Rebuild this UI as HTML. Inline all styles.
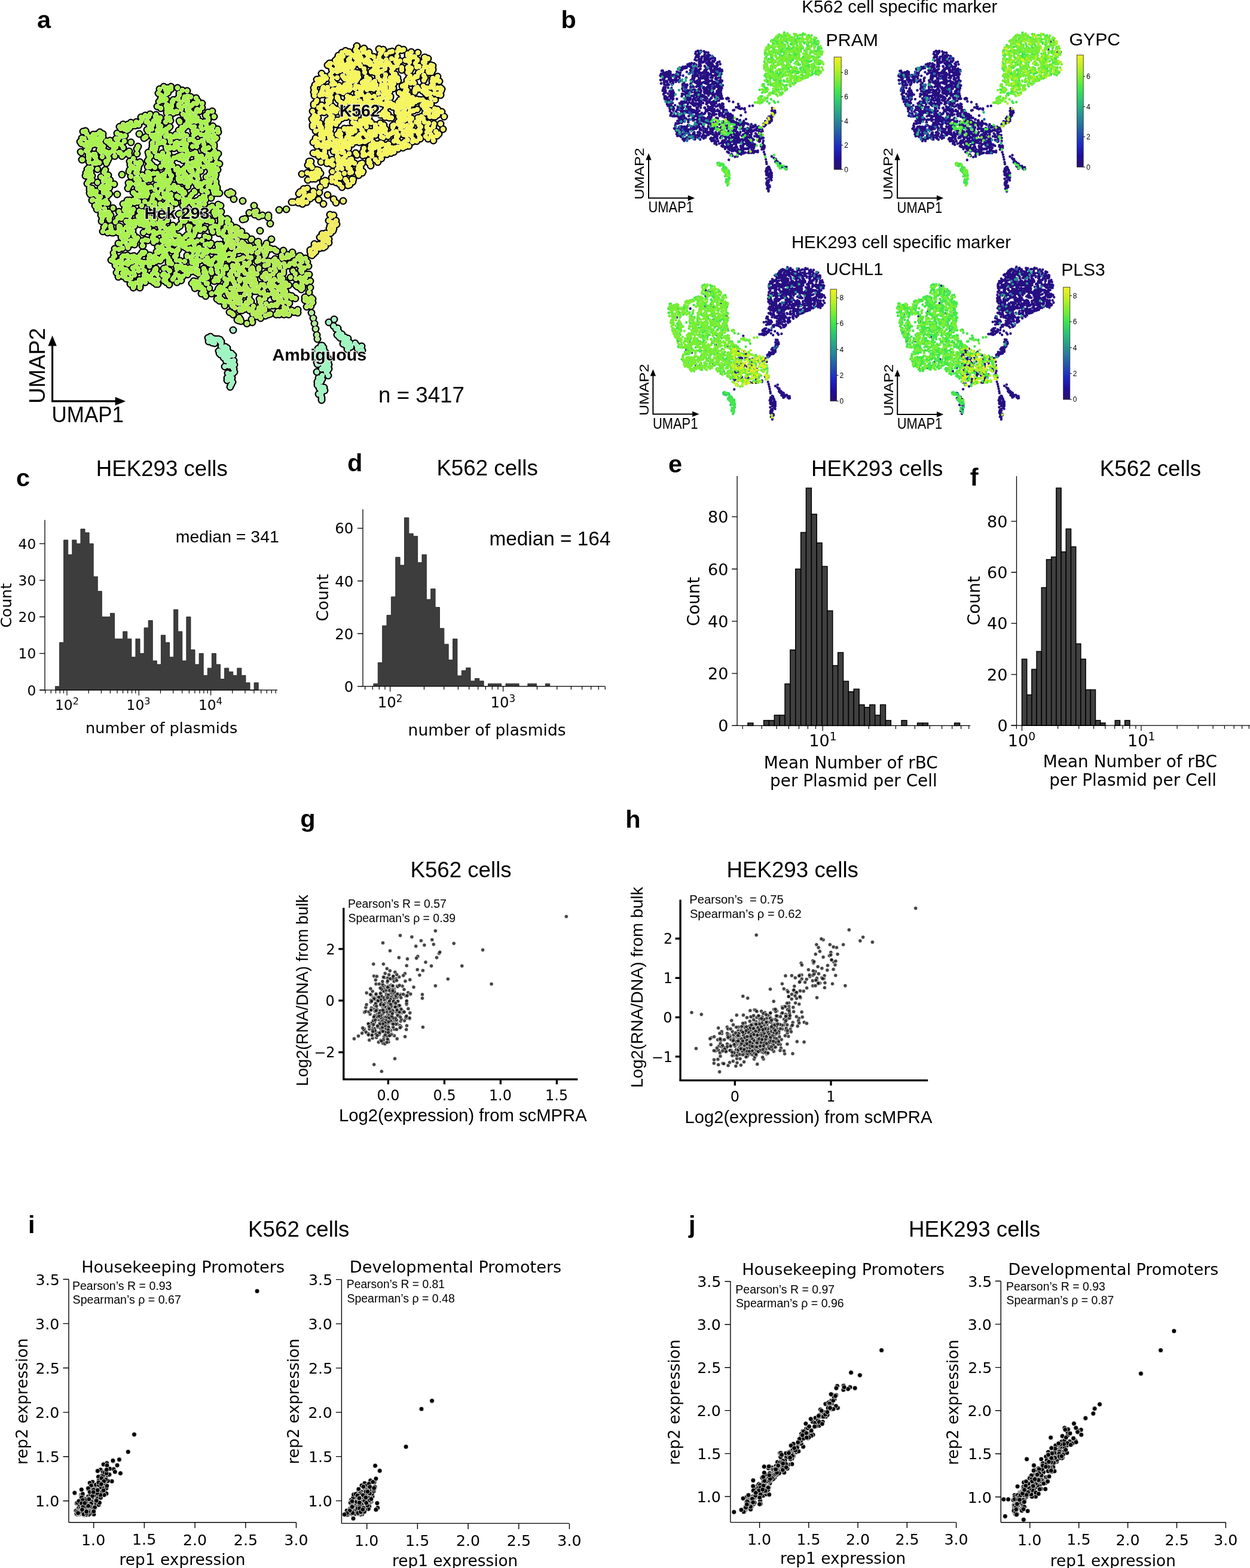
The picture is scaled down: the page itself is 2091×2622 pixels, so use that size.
<!DOCTYPE html><html><head><meta charset="utf-8"><style>
html,body{margin:0;padding:0;background:#fff;}svg{display:block;}
.fl,.fb{font-family:"Liberation Sans",Arial,Helvetica,sans-serif;}.fb{font-weight:bold;}
.fd{font-family:"DejaVu Sans","Liberation Sans",sans-serif;}
text{white-space:pre;}.sg circle{r:3.2px;opacity:.8}.si circle{r:3.95px;}
</style></head><body>
<svg xmlns="http://www.w3.org/2000/svg" width="2091" height="2622" viewBox="0 0 2091 2622">
<rect width="100%" height="100%" fill="#fff"/>
<defs><path id="a_hekA" d="M165 234h0M168 314h0M321 203h0M286 347h0M301 376h0M243 401h0M249 266h0M318 451h0M279 175h0M213 393h0M249 438h0M301 445h0M321 198h0M353 300h0M202 440h0M152 288h0M181 259h0M326 482h0M216 359h0M364 409h0M351 219h0M327 189h0M321 355h0M212 438h0M285 292h0M269 279h0M321 176h0M354 439h0M322 277h0M235 370h0M257 389h0M306 296h0M291 407h0M263 218h0M189 252h0M265 230h0M181 306h0M344 495h0M200 449h0M225 409h0M291 246h0M278 448h0M327 455h0M335 203h0M353 407h0M348 366h0M272 429h0M238 293h0M324 405h0M304 366h0M215 358h0M197 388h0M295 427h0M271 402h0M360 420h0M334 275h0M372 365h0M206 341h0M260 194h0M283 345h0M156 225h0M347 231h0M150 300h0M262 325h0M263 432h0M290 387h0M296 238h0M219 402h0M150 237h0M248 270h0M180 237h0M370 434h0M248 278h0M299 395h0M296 328h0M239 376h0M212 355h0M215 430h0M278 216h0M338 173h0M278 246h0M278 246h0M213 427h0M289 277h0M326 371h0M268 378h0M227 399h0M326 321h0M265 309h0M236 438h0M331 299h0M358 378h0M281 155h0M279 463h0M205 457h0M330 426h0M240 424h0M269 217h0M329 245h0M277 351h0M285 300h0M177 270h0M153 234h0M331 280h0M189 348h0M341 241h0M203 393h0M252 440h0M341 455h0M331 312h0M305 400h0M253 226h0M318 416h0M329 173h0M296 403h0M316 203h0M317 205h0M320 212h0M301 357h0M180 340h0M293 408h0M251 427h0M216 253h0M245 204h0M279 409h0M185 380h0M212 212h0M309 437h0M203 242h0M332 344h0M262 262h0M166 342h0M370 354h0M331 169h0M215 306h0M238 199h0M274 449h0M286 325h0M263 178h0M242 453h0M312 241h0M378 446h0M244 372h0M363 316h0M249 432h0M249 206h0M327 293h0M354 442h0M335 342h0M299 330h0M281 317h0M355 370h0M261 437h0M296 472h0M346 369h0M166 222h0M229 257h0M298 263h0M317 306h0M275 293h0M277 309h0M282 410h0M173 319h0M293 228h0M269 181h0M274 145h0M265 260h0M313 276h0M194 439h0M257 367h0M324 368h0M224 393h0M323 437h0M325 320h0M279 189h0M376 415h0M343 453h0M284 331h0M378 486h0M363 313h0M182 265h0M350 226h0M356 211h0M265 435h0M205 384h0M342 353h0M345 417h0M248 438h0M217 457h0M279 418h0M208 236h0M300 399h0M257 432h0M143 294h0M367 481h0M354 238h0M165 343h0M238 354h0M190 389h0M255 458h0M341 449h0M233 369h0M325 415h0M366 390h0M307 283h0M273 162h0M305 226h0M230 290h0M329 355h0M260 250h0M347 273h0M364 323h0M199 417h0M301 436h0M231 283h0M358 323h0M201 379h0M336 225h0M199 354h0M213 335h0M310 447h0M208 351h0M170 370h0M208 216h0M212 349h0M190 423h0M329 456h0M252 213h0M165 334h0M310 262h0M296 450h0M249 382h0M352 312h0M230 430h0M158 262h0M210 396h0M143 219h0M229 371h0M330 197h0M295 435h0M381 371h0M369 480h0M310 396h0M359 320h0M312 208h0M315 161h0M298 291h0M234 271h0M338 318h0M346 433h0M359 312h0M223 210h0M332 458h0M270 219h0M231 449h0M246 354h0M287 176h0M249 466h0M261 246h0M320 302h0M231 245h0M268 380h0M248 314h0M347 464h0M246 294h0M334 186h0M361 323h0M308 238h0M251 191h0M303 240h0M204 292h0M310 210h0M265 156h0M271 362h0M274 373h0M288 419h0M376 466h0M283 277h0M173 303h0M298 416h0M175 357h0M366 442h0M259 366h0M350 482h0M275 218h0M321 195h0M309 162h0M240 466h0M259 249h0M312 263h0M250 445h0M217 343h0M222 279h0M274 356h0M279 385h0M212 409h0M199 255h0M346 462h0M358 242h0M352 290h0M301 229h0M156 259h0M203 365h0M218 276h0M272 389h0M317 234h0M192 261h0M252 261h0M298 313h0M195 456h0M148 248h0M374 394h0M206 247h0M230 315h0M223 448h0M358 227h0M364 218h0M275 458h0M369 409h0M228 446h0M235 440h0M272 298h0M357 258h0M329 184h0M178 294h0M144 252h0M345 474h0M348 260h0M285 233h0M310 209h0M175 286h0M355 239h0M317 391h0M371 434h0M202 226h0M203 435h0M237 344h0M268 419h0M308 321h0M342 226h0M308 234h0M274 458h0M319 162h0M313 338h0M332 347h0M212 218h0M313 429h0M199 437h0M237 355h0M180 359h0M162 350h0M177 335h0M270 164h0M257 290h0M137 267h0M179 303h0M301 203h0M348 188h0M369 489h0M316 364h0M234 364h0M147 283h0M288 186h0M136 255h0M373 457h0M249 387h0M317 258h0M309 370h0M146 294h0M212 341h0M314 203h0M227 370h0M376 511h0M380 366h0M337 334h0M201 256h0M331 288h0M382 368h0M314 417h0M225 324h0M280 310h0M154 294h0M260 195h0M194 246h0M216 287h0M330 294h0M298 166h0M183 314h0M372 428h0M233 301h0M249 341h0M306 268h0M280 369h0M255 229h0M271 412h0M298 298h0M241 321h0M233 429h0M273 313h0M336 467h0M347 322h0M378 426h0M229 439h0M232 453h0M151 285h0M271 238h0M230 338h0M276 168h0M237 309h0M278 426h0M279 287h0M180 259h0M245 460h0M240 469h0M289 170h0M264 413h0M310 409h0M206 390h0M254 216h0M261 192h0M345 465h0M321 285h0M262 390h0M240 369h0M344 193h0M350 214h0M221 438h0M236 469h0M312 304h0M259 254h0M361 304h0M241 355h0M213 216h0M302 288h0M222 386h0M350 292h0M225 378h0M242 298h0M215 385h0M323 195h0M335 385h0M239 411h0M180 269h0M259 317h0M298 300h0M169 224h0M240 389h0M275 398h0M298 418h0M238 445h0M343 329h0M148 265h0M341 422h0M307 405h0M306 325h0M274 239h0M313 361h0M264 240h0M186 383h0M273 362h0M280 331h0M318 199h0M264 230h0M271 294h0M248 220h0M325 447h0M285 407h0M280 263h0M363 350h0M215 372h0M328 416h0M176 377h0M153 318h0M173 245h0M185 360h0M373 452h0M256 327h0M307 337h0M167 347h0M237 359h0M160 262h0M286 314h0M321 429h0M311 245h0M279 407h0M280 401h0M241 362h0M299 358h0M149 271h0M338 402h0M257 204h0M226 446h0M157 237h0M307 451h0M284 248h0M355 186h0M316 406h0M216 311h0M271 431h0M218 306h0M265 206h0M249 375h0M305 259h0M247 279h0M317 284h0M299 297h0M141 232h0M235 475h0M286 149h0M342 204h0M212 356h0M279 302h0M214 414h0M303 469h0M307 287h0M274 469h0M270 223h0M171 262h0M312 227h0M338 319h0M235 440h0M257 405h0M296 228h0M272 256h0M355 420h0M347 272h0M283 452h0M206 428h0M270 357h0M372 432h0M226 210h0M178 311h0M297 246h0M152 322h0M277 150h0M309 323h0M284 232h0M295 186h0M347 431h0M146 307h0M322 233h0M168 337h0M330 307h0M287 269h0M180 355h0M347 224h0M218 338h0M174 337h0M325 409h0M307 268h0M371 438h0M235 470h0M310 369h0M358 195h0M341 484h0M367 274h0M213 380h0M274 308h0M229 249h0M155 334h0M228 330h0M333 476h0M245 465h0M232 278h0M225 370h0M241 439h0M227 473h0M340 468h0M340 328h0M318 379h0M321 360h0M234 375h0M336 286h0M249 289h0M324 173h0M348 258h0M348 420h0M303 239h0M176 298h0M310 414h0M332 274h0M282 177h0M349 397h0M168 329h0M260 350h0M347 221h0M234 477h0M281 275h0M184 255h0M206 404h0M159 344h0M311 293h0M325 479h0M308 165h0M265 422h0M236 196h0M363 451h0M226 435h0M191 244h0M348 222h0M309 291h0M345 208h0M376 432h0M324 272h0M258 468h0M294 227h0M248 462h0M230 398h0M307 250h0M317 304h0M250 210h0M362 272h0M365 469h0M241 377h0M166 272h0M291 382h0M309 281h0M293 393h0M157 322h0M379 449h0M302 250h0M169 355h0M338 402h0M257 387h0M281 391h0M241 231h0M203 443h0M273 404h0M342 305h0M206 462h0M147 248h0M343 395h0M246 196h0M242 422h0M279 385h0M294 340h0M209 227h0M246 202h0M232 326h0M249 195h0M267 331h0M316 279h0M257 394h0M293 240h0M213 429h0M301 285h0M329 360h0M348 197h0M370 416h0M281 389h0M321 474h0M273 430h0M172 387h0M135 254h0M288 276h0M337 206h0M203 397h0M217 439h0M355 345h0M367 495h0M182 239h0M224 455h0M259 428h0M349 441h0M329 433h0M278 394h0M309 339h0M304 317h0M154 231h0M284 197h0M343 228h0M365 385h0M268 369h0M351 283h0M162 235h0M204 228h0M227 298h0M231 433h0M183 368h0M373 482h0M212 360h0M248 255h0M289 467h0M197 450h0M244 372h0M223 265h0M272 416h0M329 418h0M220 384h0M221 356h0M169 296h0M283 476h0M207 360h0M149 263h0M218 475h0M148 304h0M290 167h0M337 491h0M336 311h0M365 484h0M318 233h0M359 253h0M323 257h0M217 389h0M289 386h0M313 393h0M238 403h0M160 271h0M258 454h0M246 385h0M313 355h0M266 213h0M285 185h0M225 281h0M352 304h0M278 166h0M226 404h0M326 383h0M267 149h0M318 405h0M182 355h0M241 460h0M370 370h0M317 357h0M278 221h0M358 356h0M283 416h0M356 435h0M354 456h0M313 264h0M376 413h0M163 242h0M213 343h0M274 324h0M246 217h0M336 225h0M178 273h0M160 225h0M345 456h0M282 282h0M314 312h0M255 209h0M186 435h0M304 410h0M166 251h0M320 433h0M341 266h0M285 358h0M337 261h0M303 444h0M233 224h0M369 373h0M306 224h0M239 322h0M161 320h0M348 365h0M362 355h0M242 324h0M244 356h0M173 251h0M272 460h0M235 360h0M282 440h0M258 232h0M271 168h0M322 272h0M313 152h0M284 187h0M284 212h0M322 288h0M284 382h0M333 475h0M280 285h0M255 346h0M223 338h0M275 402h0M348 351h0M295 423h0M226 401h0M353 451h0M251 279h0M371 487h0M340 426h0M206 208h0M265 211h0M386 376h0M196 325h0M201 408h0M269 310h0M281 305h0M241 311h0M378 380h0M244 229h0M330 219h0M321 196h0M369 421h0M292 317h0M356 286h0M220 386h0M246 321h0M148 283h0M300 319h0M318 329h0M223 435h0M250 427h0M219 295h0M329 442h0M287 335h0M234 312h0M266 170h0M263 459h0M311 454h0M356 315h0M198 407h0M311 305h0M180 327h0M179 319h0M183 324h0M211 339h0M312 170h0M285 202h0M294 242h0M280 180h0M308 295h0M312 251h0M247 288h0M174 380h0M309 213h0M257 202h0M356 230h0M349 262h0M247 324h0M338 483h0M285 349h0M161 273h0M374 386h0M210 440h0M274 360h0M301 378h0M320 337h0M342 488h0M340 332h0M185 307h0M199 378h0M150 246h0M241 466h0M201 255h0M326 475h0M344 270h0M346 214h0M228 328h0M183 364h0M294 225h0M315 449h0M192 428h0M235 273h0M252 313h0M278 269h0M358 354h0M319 295h0M279 187h0M178 236h0M276 262h0M223 350h0M138 267h0M317 362h0M175 349h0M163 283h0M224 479h0M300 261h0M378 468h0M190 248h0M246 355h0M156 324h0M255 373h0M365 221h0M299 461h0M224 428h0M311 196h0M282 437h0M333 481h0M272 421h0M239 328h0M259 344h0M284 393h0M238 411h0M208 428h0M325 277h0M360 233h0M227 289h0M269 211h0M369 366h0M211 466h0M256 226h0M223 322h0M176 255h0M299 177h0M144 291h0M309 239h0M374 451h0M324 226h0M269 374h0M347 262h0M343 409h0M365 342h0M291 264h0M353 381h0M255 370h0M314 303h0M339 418h0M306 344h0M321 439h0M267 388h0M159 258h0M220 385h0M360 360h0M313 184h0M287 178h0M247 269h0M264 197h0M137 231h0M139 220h0M287 294h0M265 301h0M145 224h0M211 451h0M268 265h0M278 177h0M290 339h0M311 243h0M265 209h0M228 204h0M283 279h0M370 442h0M299 218h0M344 438h0M257 375h0M265 349h0M285 227h0M159 344h0M322 403h0M261 225h0M275 299h0M269 308h0M272 345h0M259 280h0M347 408h0M254 336h0M217 369h0M162 336h0M227 272h0M328 349h0M243 313h0M313 210h0M332 421h0M214 442h0M307 215h0M242 374h0M364 455h0M361 431h0M187 389h0M329 276h0M311 458h0M270 317h0M205 385h0M357 229h0M235 319h0M241 466h0M233 353h0M255 369h0M336 212h0M151 325h0M356 279h0M239 317h0M336 349h0M297 165h0M160 271h0M204 430h0M349 306h0M367 503h0M370 373h0M313 255h0M172 224h0M190 437h0M261 436h0M262 421h0M329 384h0M176 284h0M338 428h0M356 388h0M229 289h0M331 452h0M292 429h0M184 236h0M209 461h0M267 305h0M216 341h0M190 430h0M306 191h0M361 349h0M216 259h0M259 451h0M321 325h0M265 467h0M263 327h0M277 204h0M174 288h0M325 212h0M329 381h0M313 429h0M260 203h0M270 307h0M312 452h0M254 249h0M156 273h0M364 216h0M366 482h0M240 452h0M236 203h0M251 292h0M284 453h0M257 439h0M336 363h0M357 290h0M334 269h0M330 346h0M147 293h0M211 370h0M194 232h0M239 362h0M258 400h0M219 238h0M285 237h0M358 245h0M324 200h0M295 445h0M300 159h0M284 246h0M214 217h0M243 298h0M360 296h0M259 430h0M209 348h0M270 302h0M291 310h0M290 189h0M217 457h0M353 331h0M352 287h0M366 433h0M255 239h0M203 447h0M191 253h0M330 362h0M326 305h0M161 268h0M242 337h0M202 215h0M188 240h0M224 429h0M224 394h0M245 301h0M347 229h0M332 335h0M307 407h0M255 332h0M218 386h0M200 362h0M335 382h0M294 283h0M205 260h0M291 229h0M280 338h0M263 234h0M227 308h0M355 276h0M251 273h0M345 296h0M275 468h0M369 362h0M329 240h0M221 371h0M303 180h0M209 454h0M146 238h0M349 235h0M279 323h0M299 175h0M223 335h0M246 371h0M320 401h0M221 474h0M358 297h0M359 470h0M163 305h0M154 315h0M327 224h0M301 204h0M173 322h0M310 168h0M155 242h0M216 438h0M323 337h0M242 317h0M276 264h0M253 439h0M267 230h0M261 475h0M364 447h0M240 373h0M329 263h0M277 277h0M246 439h0M204 360h0M299 286h0M313 334h0M268 239h0M276 330h0M330 403h0M261 310h0M285 328h0M269 435h0M269 220h0M358 276h0M304 213h0M205 362h0M136 240h0M281 461h0M305 218h0M259 339h0M283 304h0M208 456h0M240 308h0M179 293h0M279 182h0M377 413h0M319 337h0M303 183h0M167 338h0M297 381h0M283 267h0M284 149h0M233 361h0M338 180h0M313 191h0M328 360h0M171 225h0M199 255h0M333 345h0M376 432h0M149 249h0M198 240h0M255 244h0M330 183h0M263 290h0M303 171h0M284 436h0M254 276h0M327 443h0M251 299h0M185 378h0M342 436h0M320 359h0M335 307h0M275 264h0M345 248h0M356 219h0M204 360h0M172 229h0M150 314h0M295 419h0M149 241h0M280 285h0M168 229h0M361 292h0M352 442h0M227 299h0M320 454h0M264 322h0M153 235h0M273 236h0M338 370h0M323 420h0M368 485h0M312 407h0M349 235h0M309 177h0M305 370h0M167 246h0M309 305h0M275 329h0M219 465h0M361 465h0M345 214h0M331 261h0M329 336h0M208 211h0M149 265h0M337 480h0M302 399h0M232 337h0M327 255h0M297 262h0M286 178h0M305 405h0M324 470h0M150 318h0M184 235h0M282 264h0M169 241h0M303 448h0M303 303h0M301 226h0M294 284h0M352 260h0M324 202h0M379 474h0M278 149h0M371 501h0M334 436h0M332 263h0M287 393h0M342 247h0M316 259h0M276 342h0M320 417h0M312 260h0M146 290h0M181 293h0M365 379h0M366 422h0M338 308h0M267 373h0M268 341h0M305 151h0M325 345h0M228 300h0M282 214h0M216 467h0M368 480h0M369 368h0M268 262h0M154 301h0M214 373h0M345 319h0M316 176h0M243 364h0M363 358h0M176 340h0M160 231h0M262 402h0M264 475h0M333 414h0M165 338h0M359 284h0M338 235h0M257 247h0M180 389h0M306 412h0M279 197h0M211 401h0M344 334h0M348 435h0M328 203h0M357 241h0M270 420h0M185 242h0M349 247h0M214 394h0M249 259h0M345 225h0M199 381h0M142 243h0M191 308h0M372 391h0M281 329h0M318 366h0M357 319h0M358 226h0M339 463h0M217 350h0M229 306h0M316 403h0M238 422h0M144 289h0M286 145h0M269 165h0M279 250h0M357 292h0M211 466h0M265 226h0M300 265h0M233 303h0M332 238h0M363 500h0M146 283h0M279 349h0M288 401h0M162 327h0M225 460h0M233 468h0M263 374h0M217 361h0M261 449h0M152 291h0M148 261h0M310 304h0M302 404h0M325 236h0M214 208h0M362 489h0M314 169h0M272 312h0M276 381h0M213 359h0M332 274h0M364 284h0M377 504h0M305 250h0M134 237h0M340 236h0M282 257h0M192 416h0M154 335h0M334 376h0M255 399h0M178 254h0M364 431h0M320 395h0M302 260h0M365 379h0M204 261h0M277 469h0M341 279h0M315 378h0M280 147h0M243 472h0M215 410h0M328 164h0M255 227h0M182 366h0M212 456h0M291 464h0M170 339h0M322 245h0M326 370h0M365 257h0M206 259h0M349 436h0M367 435h0M223 481h0M350 227h0M352 287h0M351 410h0M352 276h0M220 281h0M329 437h0M323 219h0M368 428h0M169 233h0M347 474h0M327 270h0M342 382h0M198 232h0M318 448h0M169 360h0M340 250h0M196 223h0M247 379h0M301 250h0M283 316h0M331 374h0M374 420h0M340 331h0M197 365h0M330 419h0M223 376h0M166 237h0M217 214h0M361 309h0M269 376h0M358 470h0M352 371h0M330 369h0M342 341h0M243 193h0M228 401h0M156 258h0M148 257h0M299 401h0M193 444h0M193 371h0M329 310h0M371 424h0M175 322h0M165 343h0M265 201h0M278 157h0M152 325h0M255 397h0M234 481h0M273 373h0M297 281h0M316 384h0M198 389h0M312 241h0M306 365h0M335 332h0M167 221h0M216 377h0M343 252h0M169 254h0M251 364h0M251 300h0M299 408h0M312 352h0M380 372h0M230 372h0M195 441h0M288 170h0M219 205h0M367 323h0M324 394h0M315 187h0M205 415h0M369 344h0M355 257h0M331 352h0M369 446h0M273 272h0M300 156h0M330 222h0M370 483h0M184 301h0M176 316h0M268 436h0M268 197h0M240 363h0M294 458h0M234 328h0M274 275h0M266 202h0M298 446h0M150 323h0M313 299h0M289 377h0M372 390h0M277 228h0M226 432h0M183 388h0M247 402h0M377 476h0M296 187h0M283 287h0M219 408h0M171 365h0M348 201h0M281 431h0M373 504h0M220 429h0M362 445h0M184 359h0M306 237h0M353 453h0M212 256h0M269 159h0M149 262h0M361 264h0M148 281h0M171 311h0M338 216h0M277 427h0M153 281h0M291 248h0M306 404h0M213 454h0M271 293h0M287 333h0M261 300h0M319 188h0M317 196h0M211 392h0M348 312h0M252 464h0M246 316h0M346 422h0M309 245h0M196 239h0M217 270h0M245 328h0M360 378h0M381 367h0M297 147h0M287 441h0M362 231h0M295 242h0M150 229h0M329 471h0M295 420h0M283 394h0M346 192h0M322 428h0M313 427h0M231 298h0M175 360h0M322 341h0M342 382h0M378 401h0M310 247h0M265 295h0M257 472h0M156 319h0M275 291h0M214 315h0M355 387h0M329 444h0M354 491h0M279 225h0M261 451h0M362 420h0M306 462h0M374 451h0M222 448h0M219 307h0M302 320h0M294 187h0M351 347h0M282 312h0M349 302h0M287 381h0M211 380h0M160 273h0M363 282h0M275 237h0M217 284h0M319 286h0M301 465h0M206 450h0M314 459h0M296 263h0M314 272h0M257 326h0M348 279h0M368 462h0M316 384h0M170 314h0M310 341h0M318 178h0M225 339h0M252 469h0M316 183h0M275 427h0M234 363h0M235 426h0M232 209h0M278 472h0M368 435h0M160 241h0M281 329h0M141 242h0M313 161h0M217 335h0M365 414h0M274 394h0M307 333h0M198 463h0M373 458h0M362 261h0M300 202h0M352 266h0M231 362h0M300 303h0M326 389h0"/><path id="a_hekB" d="M423 525h0M393 515h0M401 470h0M443 458h0M506 479h0M426 467h0M396 496h0M436 416h0M396 387h0M488 495h0M384 409h0M451 463h0M459 440h0M391 453h0M383 435h0M399 392h0M489 422h0M449 526h0M505 455h0M474 457h0M517 500h0M400 468h0M478 488h0M396 443h0M410 457h0M422 517h0M441 488h0M478 476h0M468 466h0M426 415h0M460 489h0M383 382h0M387 381h0M386 396h0M504 431h0M396 459h0M381 491h0M424 460h0M389 512h0M399 536h0M467 482h0M478 431h0M475 484h0M421 400h0M397 535h0M392 385h0M430 405h0M414 444h0M477 495h0M503 452h0M450 475h0M492 522h0M488 519h0M437 504h0M388 524h0M401 519h0M433 448h0M402 466h0M444 467h0M454 483h0M493 442h0M483 477h0M459 478h0M503 467h0M484 507h0M480 525h0M510 502h0M417 500h0M452 525h0M399 498h0M432 407h0M467 469h0M417 458h0M441 421h0M450 415h0M456 472h0M421 534h0M484 494h0M503 479h0M402 517h0M394 393h0M446 407h0M490 453h0M519 470h0M458 487h0M502 435h0M487 520h0M419 468h0M457 437h0M432 422h0M383 505h0M457 458h0M479 504h0M448 493h0M389 431h0M443 412h0M437 476h0M459 445h0M433 411h0M445 457h0M430 437h0M436 532h0M411 472h0M429 487h0M474 453h0M388 494h0M391 427h0M385 404h0M413 412h0M521 498h0M434 527h0M473 480h0M511 463h0M386 466h0M405 405h0M420 431h0M478 521h0M432 487h0M513 472h0M466 495h0M384 522h0M422 461h0M412 443h0M402 504h0M411 421h0M431 521h0M465 521h0M413 423h0M483 526h0M504 484h0M405 419h0M468 447h0M468 460h0M407 419h0M506 482h0M398 443h0M483 444h0M421 477h0M405 519h0M467 443h0M502 428h0M464 442h0M419 451h0M443 493h0M462 526h0M510 497h0M390 470h0M410 477h0M415 484h0M403 537h0M420 504h0M400 454h0M424 512h0M417 439h0M479 498h0M466 505h0M485 441h0M459 417h0M458 436h0M466 501h0M473 466h0M475 441h0M408 454h0M483 508h0M401 507h0M513 513h0M443 519h0M501 428h0M426 471h0M445 416h0M458 437h0M439 463h0M441 435h0M457 436h0M519 481h0M443 516h0M441 435h0M381 468h0M386 397h0M505 453h0M459 498h0M419 419h0M470 465h0M425 456h0M510 465h0M410 470h0M384 503h0M497 479h0M395 381h0M448 437h0M391 507h0M469 479h0M396 448h0M517 459h0M387 393h0M412 468h0M389 404h0M400 531h0M397 401h0M455 491h0M444 528h0M404 433h0M493 436h0M511 464h0M470 501h0M476 492h0M511 432h0M392 474h0M409 517h0M443 427h0M411 418h0M520 499h0M473 506h0M423 451h0M394 381h0M463 420h0M463 511h0M445 508h0M391 491h0M471 486h0M408 395h0M443 444h0M417 493h0M436 490h0M426 470h0M384 459h0M494 458h0M463 494h0M399 434h0M405 394h0M385 388h0M444 426h0M443 499h0M500 433h0M413 541h0M464 509h0M494 499h0M414 412h0M429 529h0M479 478h0M391 482h0M393 500h0M407 431h0M471 477h0M398 459h0M486 427h0M463 489h0M515 505h0M461 509h0M449 442h0M467 461h0M481 426h0M458 436h0M428 473h0M433 515h0M477 486h0M487 427h0M498 518h0M430 423h0M420 401h0M452 451h0M424 522h0M432 404h0M412 506h0M469 469h0M517 489h0M428 475h0M390 433h0M412 480h0M390 413h0M419 486h0M430 458h0M381 396h0M513 503h0M415 507h0M417 519h0M420 416h0M416 470h0M441 476h0M409 467h0M469 501h0M471 427h0M422 448h0M446 421h0M511 497h0M508 466h0M399 409h0M446 411h0M451 479h0M411 487h0M509 464h0M394 487h0M461 419h0M396 392h0M388 511h0M493 521h0M391 487h0M397 382h0M403 394h0M402 451h0M422 539h0M513 459h0M467 505h0M498 431h0M495 521h0M477 446h0M425 481h0M459 498h0M465 481h0M415 464h0M433 431h0M464 437h0M467 526h0M388 491h0M384 410h0M409 440h0M435 505h0M449 461h0M398 478h0M416 516h0M504 447h0M404 387h0M523 500h0M386 462h0M447 443h0M395 493h0M380 408h0M429 525h0M483 430h0M389 444h0M473 486h0M516 503h0M387 465h0M472 493h0M438 515h0M490 453h0M409 480h0M495 477h0M501 481h0M459 448h0M403 516h0M390 526h0M502 464h0M401 516h0M387 414h0M508 468h0M452 469h0M432 522h0M451 512h0M478 488h0M467 441h0M437 511h0M472 432h0M474 419h0M516 445h0M399 448h0M475 514h0M400 391h0M459 468h0M392 408h0M400 481h0M505 474h0M495 466h0M478 473h0M421 421h0M387 454h0M472 473h0M388 507h0M433 436h0M418 412h0M409 493h0M406 447h0M498 523h0M383 495h0M523 506h0M417 471h0M471 430h0M445 418h0M509 448h0M424 470h0M415 487h0M398 500h0M450 437h0M410 411h0M451 461h0M490 426h0M514 438h0M443 480h0M412 395h0M475 476h0M389 465h0M454 476h0M520 512h0M461 453h0M454 510h0M402 497h0M398 507h0M489 440h0M382 493h0M396 436h0M435 501h0M399 419h0M424 457h0M392 472h0M394 420h0M426 486h0M459 467h0M501 444h0M412 514h0M400 504h0M431 484h0M460 433h0M479 497h0M405 418h0M434 500h0M457 511h0M404 484h0M426 487h0M407 511h0M471 521h0M424 459h0M384 424h0M389 446h0M386 459h0M404 411h0M438 522h0M442 460h0M399 417h0M480 516h0M393 495h0M474 487h0M384 397h0M433 450h0M433 480h0M400 484h0M505 438h0M415 430h0M408 408h0M386 482h0M488 498h0M386 498h0M391 424h0M449 440h0M392 395h0M453 416h0M475 526h0M452 416h0M397 446h0M402 534h0M486 464h0"/><path id="a_hek_s1" d="M391 333h0M389 323h0M383 325h0M381 323h0M386 321h0"/><path id="a_hek_s2" d="M429 353h0M428 359h0M448 363h0M406 367h0M449 364h0M433 362h0M452 374h0M425 354h0M449 360h0M426 359h0M439 360h0M417 356h0M410 366h0M426 355h0"/><path id="a_hek_d" d="M406 336h0M425 344h0M435 386h0M454 400h0M200 212h0M206 210h0M467 351h0M479 350h0"/><path id="a_k562" d="M630 112h0M603 148h0M607 254h0M578 300h0M644 115h0M655 247h0M635 120h0M536 183h0M738 152h0M664 110h0M572 255h0M688 186h0M711 189h0M683 93h0M615 132h0M597 178h0M536 290h0M724 117h0M680 227h0M561 248h0M528 231h0M713 147h0M559 206h0M570 153h0M547 273h0M537 271h0M566 249h0M571 271h0M561 101h0M590 301h0M630 167h0M666 204h0M535 243h0M614 150h0M540 228h0M659 209h0M600 237h0M699 197h0M581 239h0M690 237h0M616 204h0M629 142h0M560 237h0M604 100h0M620 244h0M517 271h0M669 181h0M612 175h0M648 250h0M625 117h0M610 121h0M533 180h0M553 164h0M572 104h0M611 162h0M677 183h0M531 238h0M544 128h0M587 272h0M672 159h0M639 164h0M566 93h0M621 181h0M689 198h0M617 272h0M531 254h0M524 256h0M557 137h0M564 162h0M542 188h0M592 108h0M525 147h0M574 242h0M726 207h0M548 146h0M650 177h0M677 145h0M595 206h0M638 192h0M708 104h0M589 92h0M680 218h0M701 209h0M674 163h0M707 175h0M580 303h0M711 104h0M525 154h0M652 108h0M645 216h0M719 195h0M721 172h0M703 220h0M538 137h0M664 94h0M710 170h0M707 167h0M583 100h0M660 128h0M568 308h0M688 87h0M701 205h0M645 257h0M632 170h0M568 248h0M633 245h0M645 125h0M535 217h0M639 240h0M634 165h0M548 151h0M682 234h0M677 155h0M670 192h0M589 222h0M529 170h0M709 134h0M525 174h0M611 189h0M622 147h0M665 176h0M714 112h0M616 159h0M665 130h0M732 147h0M586 236h0M687 139h0M619 248h0M694 153h0M714 212h0M524 291h0M597 230h0M716 183h0M617 146h0M671 195h0M625 149h0M571 245h0M567 201h0M585 289h0M523 209h0M546 303h0M618 257h0M540 243h0M672 117h0M593 164h0M621 120h0M695 128h0M556 231h0M597 104h0M556 195h0M619 105h0M717 190h0M610 172h0M555 116h0M532 296h0M683 219h0M629 241h0M577 274h0M553 216h0M645 243h0M732 128h0M639 86h0M585 171h0M569 236h0M537 222h0M645 188h0M616 94h0M583 246h0M571 270h0M563 235h0M549 224h0M526 297h0M582 179h0M674 247h0M634 82h0M520 270h0M571 100h0M620 106h0M718 121h0M563 237h0M591 111h0M665 107h0M682 163h0M688 226h0M628 267h0M520 292h0M637 173h0M608 205h0M695 129h0M716 232h0M595 146h0M698 183h0M575 173h0M569 118h0M725 142h0M645 152h0M703 232h0M569 297h0M628 209h0M578 185h0M556 130h0M580 230h0M715 154h0M564 283h0M595 143h0M522 199h0M653 130h0M663 220h0M552 153h0M564 256h0M602 208h0M571 236h0M608 189h0M722 143h0M552 168h0M571 189h0M709 126h0M530 133h0M566 226h0M697 168h0M585 267h0M596 90h0M584 151h0M552 157h0M597 259h0M605 217h0M627 175h0M624 138h0M565 152h0M593 273h0M552 198h0M525 211h0M699 149h0M574 127h0M650 105h0M577 142h0M546 131h0M559 181h0M588 288h0M593 130h0M585 98h0M682 90h0M526 150h0M701 121h0M601 238h0M594 212h0M572 282h0M700 122h0M609 223h0M678 101h0M612 178h0M664 106h0M527 202h0M577 143h0M662 100h0M535 206h0M628 215h0M675 220h0M682 243h0M587 196h0M540 148h0M682 113h0M563 298h0M633 149h0M657 175h0M621 229h0M582 221h0M647 164h0M614 90h0M646 100h0M557 185h0M549 209h0M587 166h0M710 96h0M602 233h0M620 243h0M557 276h0M634 218h0M637 239h0M665 187h0M602 280h0M589 136h0M698 100h0M526 257h0M649 196h0M646 252h0M588 217h0M564 130h0M620 148h0M636 134h0M611 165h0M604 237h0M635 252h0M571 146h0M691 233h0M638 242h0M697 166h0M599 125h0M672 199h0M675 171h0M644 185h0M582 276h0M606 218h0M655 253h0M585 89h0M707 152h0M532 136h0M725 137h0M609 115h0M729 220h0M578 152h0M726 190h0M539 131h0M597 231h0M613 129h0M525 176h0M552 170h0M576 185h0M655 98h0M658 124h0M602 225h0M679 190h0M555 204h0M534 140h0M608 87h0M554 163h0M527 152h0M656 135h0M634 245h0M698 220h0M727 182h0M647 168h0M536 225h0M603 282h0M561 106h0M546 177h0M710 97h0M556 197h0M637 89h0M548 168h0M657 112h0M665 86h0M612 208h0M657 213h0M658 248h0M623 242h0M731 227h0M596 182h0M721 164h0M609 82h0M701 217h0M646 179h0M553 211h0M735 136h0M552 189h0M567 276h0M617 268h0M669 201h0M645 149h0M610 104h0M631 115h0M650 254h0M570 224h0M681 175h0M704 212h0M621 231h0M717 121h0M582 122h0M549 246h0M548 180h0M539 152h0M608 85h0M604 155h0M647 258h0M674 209h0M539 187h0M597 106h0M618 93h0M597 130h0M714 147h0M581 117h0M624 242h0M682 121h0M536 258h0M719 156h0M719 185h0M644 131h0M578 261h0M567 291h0M575 255h0M587 105h0M517 270h0M695 148h0M535 159h0M619 147h0M636 240h0M623 144h0M570 171h0M652 87h0M542 157h0M583 136h0M530 244h0M541 263h0M590 233h0M533 261h0M642 142h0M642 215h0M659 254h0M586 144h0M617 140h0M605 158h0M613 196h0M652 134h0M540 304h0M577 119h0M669 167h0M638 265h0M600 228h0M716 98h0M549 172h0M633 156h0M598 86h0M666 177h0M586 135h0M686 127h0M526 150h0M587 215h0M655 112h0M631 124h0M681 234h0M675 211h0M717 175h0M541 135h0M684 130h0M721 109h0M606 138h0M612 100h0M688 227h0M589 121h0M547 216h0M659 140h0M577 235h0M576 196h0M535 132h0M724 131h0M577 195h0M522 296h0M681 134h0M732 183h0M684 165h0M635 251h0M690 168h0M691 95h0M609 84h0M565 148h0M721 227h0M576 131h0M725 235h0M551 106h0M655 252h0M687 225h0M636 171h0M654 148h0M658 148h0M557 181h0M565 242h0M656 177h0M585 238h0M631 115h0M528 205h0M619 93h0M589 241h0M685 220h0M629 102h0M603 279h0M628 226h0M605 185h0M712 179h0M618 204h0M579 141h0M685 169h0M647 167h0M572 198h0M684 179h0M681 163h0M639 217h0M653 139h0M599 100h0M633 246h0M595 84h0M710 175h0M681 138h0M702 167h0M564 102h0M719 157h0M670 215h0M686 186h0M566 276h0M580 131h0M711 111h0M662 130h0M678 245h0M739 149h0M557 150h0M619 176h0M657 221h0M642 109h0M548 238h0M681 151h0M618 220h0M538 154h0M626 144h0M641 230h0M588 270h0M643 251h0M717 206h0M603 150h0M591 184h0M620 204h0M724 116h0M566 167h0M544 309h0M565 163h0M683 224h0M664 224h0M586 149h0M540 158h0M698 146h0M522 280h0M564 225h0M581 89h0M590 232h0M659 236h0M586 192h0M653 161h0M600 227h0M581 243h0M591 300h0M694 95h0M617 197h0M527 235h0M600 293h0M694 154h0M523 201h0M722 121h0M601 104h0M583 248h0M566 203h0M564 98h0M563 246h0M556 267h0M692 185h0M684 100h0M677 196h0M721 225h0M678 152h0M596 135h0M714 158h0M548 201h0M647 168h0M683 159h0M607 260h0M565 153h0M629 174h0M591 135h0M597 156h0M544 222h0M603 274h0M538 214h0M532 197h0M552 190h0M611 145h0M583 226h0M708 144h0M570 176h0M558 245h0M620 171h0M672 173h0M725 229h0M733 157h0M684 192h0M674 188h0M593 175h0M610 237h0M682 93h0M587 181h0M576 215h0M606 289h0M627 247h0M710 112h0M705 198h0M645 222h0M657 210h0M594 124h0M541 231h0M728 135h0M714 213h0M675 172h0M547 217h0M739 187h0M722 114h0M541 221h0M622 256h0M550 237h0M550 270h0M589 197h0M551 110h0M599 122h0M687 212h0M686 197h0M620 106h0M657 179h0M637 214h0M601 236h0M735 187h0M589 126h0M573 127h0M555 303h0M577 244h0M556 243h0M571 247h0M586 163h0M564 110h0M666 135h0M562 187h0M595 83h0M523 212h0M594 121h0M629 173h0M634 96h0M529 141h0M548 224h0M626 121h0M734 224h0M602 182h0M580 183h0M578 300h0M554 224h0M628 212h0M630 105h0M687 130h0M576 216h0M600 180h0M605 146h0M706 176h0M644 190h0M642 143h0M706 118h0M532 293h0M600 179h0M558 253h0M542 261h0M639 119h0M634 257h0M562 208h0M716 119h0M595 256h0M624 240h0M600 145h0M577 131h0M574 247h0M594 148h0M591 219h0M562 294h0M720 217h0M600 129h0M553 240h0M530 203h0M628 209h0M700 224h0M524 256h0M686 203h0M582 215h0M576 290h0M525 195h0M543 224h0M592 126h0M566 263h0M535 242h0M667 81h0M572 88h0M651 197h0M574 94h0M589 270h0M626 161h0M526 147h0M710 204h0M677 201h0M616 159h0M619 108h0M566 270h0M544 302h0M698 101h0M552 218h0M631 220h0M677 142h0M589 193h0M673 144h0M695 170h0M581 167h0M618 132h0M556 141h0M721 175h0M608 176h0M677 237h0M543 255h0M605 177h0M578 270h0M636 90h0M569 100h0M607 287h0M627 117h0M605 150h0M581 111h0M708 198h0M574 155h0M590 173h0M580 169h0M617 87h0M598 289h0M603 110h0M628 180h0M644 196h0M551 230h0M581 107h0M672 113h0M711 96h0M582 310h0M609 136h0M553 197h0M699 88h0M564 294h0M538 123h0M693 139h0M684 112h0M621 187h0M555 134h0M612 236h0M555 297h0M649 228h0M527 299h0M514 289h0M634 243h0M567 110h0M656 86h0M526 193h0M737 147h0M603 284h0M684 199h0M666 237h0M697 236h0M579 196h0M700 149h0M672 157h0M635 252h0M681 101h0M602 169h0M689 219h0M595 197h0M597 77h0M630 214h0M638 229h0M599 177h0M592 176h0M528 153h0M732 192h0M530 168h0M618 257h0M524 238h0M534 210h0M566 223h0M611 208h0M727 149h0M632 241h0M595 169h0M611 139h0M596 104h0M724 230h0M658 135h0M613 212h0M584 257h0M616 234h0M547 271h0M638 109h0M691 133h0M697 112h0M732 184h0M600 290h0M564 262h0M574 128h0M591 189h0M646 91h0M526 160h0M723 136h0M584 230h0M711 130h0M515 276h0M582 144h0M586 283h0M669 176h0M613 148h0M732 158h0M576 148h0M693 95h0M641 258h0M600 211h0M641 151h0M593 237h0M579 245h0M672 84h0M589 114h0M555 141h0M632 271h0M584 87h0M666 171h0M672 241h0M641 152h0M689 95h0M547 210h0M644 135h0M637 264h0M625 171h0M594 96h0M548 269h0M609 248h0M613 227h0M615 167h0M601 95h0M549 187h0M554 155h0M672 173h0M559 186h0M645 141h0M541 146h0M685 104h0M632 105h0M690 174h0M608 256h0M677 157h0M590 205h0M651 247h0M731 131h0M677 172h0M545 262h0M622 261h0M604 236h0M572 313h0M562 246h0M599 282h0M594 175h0M608 187h0M520 277h0M631 122h0M565 244h0M552 222h0M627 245h0M556 178h0M667 177h0M664 248h0M675 177h0M727 156h0M683 116h0M645 174h0M564 164h0M641 83h0M565 268h0M696 204h0M647 171h0M583 121h0M600 278h0M657 222h0M544 245h0M531 195h0M675 225h0M615 105h0M653 172h0M695 106h0M547 204h0M528 219h0M579 110h0M658 114h0M572 274h0M665 246h0M538 215h0M619 272h0M714 221h0M721 227h0M712 156h0M667 203h0M653 163h0M637 147h0M705 195h0M649 191h0M578 85h0M724 110h0M666 226h0M690 163h0M611 172h0M598 132h0M522 299h0M675 83h0M743 195h0M663 229h0M543 252h0M638 102h0M658 175h0M596 96h0M584 275h0M590 304h0M655 119h0M648 108h0M542 238h0M527 142h0M649 106h0M646 105h0M621 223h0M567 101h0M627 136h0M686 118h0M611 259h0M561 237h0M674 223h0M607 201h0M725 212h0M678 167h0M560 140h0M624 139h0M571 150h0M620 277h0M551 183h0M669 102h0M638 142h0M595 93h0M532 286h0M564 108h0M566 296h0M588 218h0M529 198h0M648 158h0M686 97h0M611 201h0M603 210h0M613 173h0M563 115h0M686 166h0M684 172h0M689 209h0M590 232h0M649 250h0M684 216h0M737 159h0M680 191h0M623 220h0M681 210h0M707 167h0M632 112h0M574 265h0M645 146h0M575 190h0M656 148h0M602 92h0M537 212h0M577 173h0M564 120h0M654 256h0M663 182h0M574 110h0M670 205h0M684 244h0M568 219h0M665 228h0M578 115h0M599 229h0M534 139h0M641 174h0M642 209h0M606 83h0M616 178h0M604 97h0M553 106h0M710 181h0M633 122h0M661 247h0M692 219h0M737 207h0M535 188h0M581 143h0M636 192h0M622 251h0M570 94h0M558 150h0M578 109h0M574 114h0M664 188h0M662 103h0M603 171h0M585 309h0M653 224h0M628 211h0M624 238h0M579 144h0M538 176h0M586 111h0M741 216h0M668 246h0M548 109h0M608 145h0M570 230h0M641 158h0M568 152h0M554 274h0M640 214h0M694 151h0M584 225h0M698 128h0M589 122h0M603 202h0M644 215h0M567 143h0M616 225h0M628 102h0M617 102h0M564 201h0M621 205h0M599 88h0M636 206h0M582 281h0M564 183h0M599 161h0M733 225h0M589 300h0M615 204h0M652 108h0M682 90h0M720 146h0M655 197h0M526 289h0M582 129h0M562 185h0M727 185h0M577 132h0M652 140h0M567 103h0M584 137h0M581 161h0M667 195h0M717 216h0M728 195h0M567 276h0M596 146h0M678 166h0M619 162h0M711 155h0M686 98h0M592 165h0M698 168h0M533 285h0M667 208h0M570 150h0M703 231h0M606 273h0M588 236h0M521 290h0M526 151h0M618 181h0M599 176h0M599 128h0M553 125h0M594 219h0M652 153h0M668 155h0M626 110h0M547 159h0M588 266h0M641 188h0M679 144h0M692 235h0M639 84h0M625 95h0M688 114h0M574 270h0M667 182h0M529 201h0M669 190h0M587 219h0M595 237h0M538 245h0M530 284h0M666 249h0M620 244h0M556 120h0M725 195h0M609 138h0M673 240h0M696 167h0M588 131h0M523 186h0M632 129h0M619 248h0M701 111h0M715 171h0M609 195h0M650 241h0M562 305h0M637 222h0M702 230h0M663 232h0M564 292h0M638 259h0M654 144h0M661 124h0M728 167h0M620 105h0M609 81h0M712 228h0M536 231h0M550 213h0"/><path id="a_k562_s" d="M547 394h0M538 395h0M555 382h0M552 378h0M539 410h0M539 407h0M558 383h0M531 415h0M560 377h0M536 411h0M544 412h0M525 424h0M522 427h0M553 390h0M542 399h0M555 386h0M520 426h0M519 421h0M551 382h0M545 402h0M540 401h0M552 359h0M526 413h0M542 398h0M535 397h0M533 409h0M525 414h0M541 414h0M558 360h0M557 386h0M550 369h0M544 403h0M535 415h0M545 390h0M563 375h0M519 418h0M554 362h0M550 406h0M539 393h0M526 408h0M550 400h0M546 392h0M528 421h0M532 414h0M533 413h0M536 410h0M562 369h0M555 372h0M552 387h0M539 391h0M535 411h0"/><path id="a_k562_t" d="M488 338h0M499 339h0M516 328h0M519 327h0M491 338h0M505 333h0M509 327h0M525 321h0M505 320h0M506 332h0M517 327h0M500 337h0M536 313h0M500 324h0M524 320h0M502 321h0M519 332h0M509 322h0M508 316h0M499 335h0M506 341h0M508 338h0M534 322h0M513 338h0M525 326h0M517 330h0M514 315h0M523 329h0"/><path id="a_k562_d" d="M548 326h0M533 334h0M541 341h0M558 333h0M562 339h0M574 336h0M505 291h0M515 301h0M556 287h0"/><path id="a_strand" d="M521 523h0M524 532h0M526 541h0M528 550h0M530 560h0M531 567h0"/><path id="a_amb_l" d="M383 610h0M376 613h0M361 567h0M388 613h0M378 603h0M377 580h0M387 592h0M349 571h0M376 592h0M384 630h0M392 610h0M368 568h0M357 573h0M367 570h0M390 594h0M380 582h0M389 639h0M380 636h0M348 565h0M365 567h0M374 581h0M388 632h0M390 594h0M380 632h0M378 598h0M384 610h0M374 588h0M383 604h0M377 595h0M385 609h0M373 586h0M391 603h0M374 598h0M366 587h0M387 604h0M370 571h0M381 624h0M355 573h0M377 593h0M353 567h0M390 624h0M370 574h0M380 588h0M367 591h0M381 603h0M392 622h0M382 592h0M359 574h0M387 605h0M386 635h0M352 563h0M379 597h0M381 587h0M391 617h0M379 585h0M378 600h0M369 593h0M389 607h0M380 600h0M388 625h0M370 579h0M384 595h0M380 594h0M390 616h0M383 612h0M356 566h0M387 643h0M385 647h0M386 644h0M378 603h0M387 591h0"/><path id="a_amb_m" d="M547 619h0M540 587h0M532 583h0M538 668h0M538 630h0M546 623h0M538 647h0M540 609h0M537 583h0M537 659h0M550 610h0M543 653h0M534 600h0M533 659h0M545 600h0M546 615h0M538 667h0M530 595h0M530 598h0M528 595h0M543 613h0M530 606h0M532 609h0M531 644h0M546 595h0M533 632h0M545 590h0M541 581h0M531 585h0M544 606h0M539 578h0M531 638h0M548 620h0M542 607h0M539 653h0M550 617h0M549 614h0M550 601h0M530 591h0M537 661h0M542 651h0M531 595h0M536 603h0M540 587h0M549 628h0M538 669h0M545 598h0M534 589h0M548 609h0M549 606h0M537 578h0M532 643h0M531 609h0M539 628h0M542 586h0M536 590h0M541 650h0M531 640h0M537 638h0M539 586h0M544 618h0M542 648h0M539 655h0M532 586h0M536 652h0M534 649h0M538 617h0M535 594h0M545 599h0M538 665h0M539 634h0M530 622h0"/><path id="a_amb_r" d="M605 579h0M572 559h0M581 584h0M604 587h0M558 545h0M587 578h0M563 550h0M565 549h0M564 560h0M567 563h0M582 584h0M587 580h0M567 555h0M573 565h0M582 573h0M580 572h0M582 582h0M576 570h0M578 577h0M597 578h0M585 573h0M577 564h0M562 550h0M602 587h0M575 571h0M606 586h0M569 565h0M567 559h0M598 583h0M574 575h0M582 566h0M594 574h0"/><path id="a_amb_d" d="M550 539h0M559 534h0M390 552h0"/><linearGradient id="cb139595" x1="0" y1="1" x2="0" y2="0"><stop offset="0.0" stop-color="#2a0e6e"/><stop offset="0.1" stop-color="#200ea0"/><stop offset="0.2" stop-color="#1e28c8"/><stop offset="0.30000000000000004" stop-color="#2352af"/><stop offset="0.4" stop-color="#277b9d"/><stop offset="0.5" stop-color="#28a28b"/><stop offset="0.6000000000000001" stop-color="#2cc771"/><stop offset="0.7000000000000001" stop-color="#41e64d"/><stop offset="0.8" stop-color="#80ee30"/><stop offset="0.9" stop-color="#bff022"/><stop offset="1.0" stop-color="#f2f020"/></linearGradient><linearGradient id="cb180192" x1="0" y1="1" x2="0" y2="0"><stop offset="0.0" stop-color="#2a0e6e"/><stop offset="0.1" stop-color="#200ea0"/><stop offset="0.2" stop-color="#1e28c8"/><stop offset="0.30000000000000004" stop-color="#2352af"/><stop offset="0.4" stop-color="#277b9d"/><stop offset="0.5" stop-color="#28a28b"/><stop offset="0.6000000000000001" stop-color="#2cc771"/><stop offset="0.7000000000000001" stop-color="#41e64d"/><stop offset="0.8" stop-color="#80ee30"/><stop offset="0.9" stop-color="#bff022"/><stop offset="1.0" stop-color="#f2f020"/></linearGradient><linearGradient id="cb1389483" x1="0" y1="1" x2="0" y2="0"><stop offset="0.0" stop-color="#2a0e6e"/><stop offset="0.1" stop-color="#200ea0"/><stop offset="0.2" stop-color="#1e28c8"/><stop offset="0.30000000000000004" stop-color="#2352af"/><stop offset="0.4" stop-color="#277b9d"/><stop offset="0.5" stop-color="#28a28b"/><stop offset="0.6000000000000001" stop-color="#2cc771"/><stop offset="0.7000000000000001" stop-color="#41e64d"/><stop offset="0.8" stop-color="#80ee30"/><stop offset="0.9" stop-color="#bff022"/><stop offset="1.0" stop-color="#f2f020"/></linearGradient><linearGradient id="cb1778480" x1="0" y1="1" x2="0" y2="0"><stop offset="0.0" stop-color="#2a0e6e"/><stop offset="0.1" stop-color="#200ea0"/><stop offset="0.2" stop-color="#1e28c8"/><stop offset="0.30000000000000004" stop-color="#2352af"/><stop offset="0.4" stop-color="#277b9d"/><stop offset="0.5" stop-color="#28a28b"/><stop offset="0.6000000000000001" stop-color="#2cc771"/><stop offset="0.7000000000000001" stop-color="#41e64d"/><stop offset="0.8" stop-color="#80ee30"/><stop offset="0.9" stop-color="#bff022"/><stop offset="1.0" stop-color="#f2f020"/></linearGradient></defs>
<g fill="none" stroke-linecap="round">
<use href="#a_hekA" stroke="#000" stroke-width="13"/>
<use href="#a_hekB" stroke="#000" stroke-width="13"/>
<use href="#a_hek_s1" stroke="#000" stroke-width="13"/>
<use href="#a_hek_s2" stroke="#000" stroke-width="13"/>
<use href="#a_hek_d" stroke="#000" stroke-width="13"/>
<use href="#a_k562" stroke="#000" stroke-width="13"/>
<use href="#a_k562_s" stroke="#000" stroke-width="13"/>
<use href="#a_k562_t" stroke="#000" stroke-width="13"/>
<use href="#a_k562_d" stroke="#000" stroke-width="13"/>
<use href="#a_strand" stroke="#000" stroke-width="13"/>
<use href="#a_amb_l" stroke="#000" stroke-width="13"/>
<use href="#a_amb_m" stroke="#000" stroke-width="13"/>
<use href="#a_amb_r" stroke="#000" stroke-width="13"/>
<use href="#a_amb_d" stroke="#000" stroke-width="13"/>
<use href="#a_hekA" stroke="#fff" stroke-width="8.3"/>
<use href="#a_hekB" stroke="#fff" stroke-width="8.3"/>
<use href="#a_hek_s1" stroke="#fff" stroke-width="8.3"/>
<use href="#a_hek_s2" stroke="#fff" stroke-width="8.3"/>
<use href="#a_hek_d" stroke="#fff" stroke-width="8.3"/>
<use href="#a_k562" stroke="#fff" stroke-width="8.3"/>
<use href="#a_k562_s" stroke="#fff" stroke-width="8.3"/>
<use href="#a_k562_t" stroke="#fff" stroke-width="8.3"/>
<use href="#a_k562_d" stroke="#fff" stroke-width="8.3"/>
<use href="#a_strand" stroke="#fff" stroke-width="8.3"/>
<use href="#a_amb_l" stroke="#fff" stroke-width="8.3"/>
<use href="#a_amb_m" stroke="#fff" stroke-width="8.3"/>
<use href="#a_amb_r" stroke="#fff" stroke-width="8.3"/>
<use href="#a_amb_d" stroke="#fff" stroke-width="8.3"/>
<use href="#a_hekA" stroke="#a9f24f" stroke-width="7.3"/>
<use href="#a_hekB" stroke="#b4ec55" stroke-width="7.3"/>
<use href="#a_hek_s1" stroke="#b2ea5a" stroke-width="7.3"/>
<use href="#a_hek_s2" stroke="#b2ea5a" stroke-width="7.3"/>
<use href="#a_hek_d" stroke="#b2ea5a" stroke-width="7.3"/>
<use href="#a_k562" stroke="#f5f55f" stroke-width="7.3"/>
<use href="#a_k562_s" stroke="#f0ec5e" stroke-width="7.3"/>
<use href="#a_k562_t" stroke="#f2f060" stroke-width="7.3"/>
<use href="#a_k562_d" stroke="#f0ec5e" stroke-width="7.3"/>
<use href="#a_strand" stroke="#b0ec90" stroke-width="7.3"/>
<use href="#a_amb_l" stroke="#9ef5c0" stroke-width="7.3"/>
<use href="#a_amb_m" stroke="#9ef5c0" stroke-width="7.3"/>
<use href="#a_amb_r" stroke="#9ef5c0" stroke-width="7.3"/>
<use href="#a_amb_d" stroke="#9ef5c0" stroke-width="7.3"/>
</g>
<text class="fb" x="241.5" y="365.7" font-size="27.86" textLength="109.0" lengthAdjust="spacingAndGlyphs" stroke="#fff" stroke-width="2.2" paint-order="stroke" stroke-linejoin="round">Hek 293</text>
<text class="fb" x="567.8" y="194.7" font-size="29.43" textLength="67.6" lengthAdjust="spacingAndGlyphs" stroke="#fff" stroke-width="2.2" paint-order="stroke" stroke-linejoin="round">K562</text>
<text class="fb" x="455.6" y="602.6" font-size="27.03" textLength="157.6" lengthAdjust="spacingAndGlyphs" stroke="#fff" stroke-width="2.2" paint-order="stroke" stroke-linejoin="round">Ambiguous</text>
<text class="fl" x="633.1" y="672.8" font-size="36.66">n = 3417</text>
<text class="fb" x="61.9" y="47.2" font-size="41.50">a</text>
<path d="M87.6 578.4V670.9H192.7" fill="none" stroke="#000" stroke-width="3.1" stroke-linecap="square"/><path d="M87.6 560.9l-7.2 17.5h14.4z M210.2 670.9l-17.5 -7.2v14.4z" fill="#000"/>
<text class="fl" x="86.6" y="706.2" font-size="36.81" textLength="120.4" lengthAdjust="spacingAndGlyphs">UMAP1</text>
<text class="fl" transform="translate(75.4,674.8) rotate(-90)" font-size="37.14" textLength="126.6" lengthAdjust="spacingAndGlyphs">UMAP2</text>
<g transform="translate(1044.49,19.95) scale(0.448)" fill="none" stroke-linecap="round" stroke-width="9.93"><path stroke="#260e83" d="M165 234h0M168 314h0M321 203h0M286 347h0M301 376h0M423 525h0M243 401h0M249 266h0M318 451h0M279 175h0M393 515h0M213 393h0M249 438h0M401 470h0M301 445h0M321 198h0M353 300h0M443 458h0M152 288h0M181 259h0M326 482h0M216 359h0M351 219h0M327 189h0M321 355h0M212 438h0M285 292h0M269 279h0M321 176h0M506 479h0M426 467h0M322 277h0M235 370h0M257 389h0M306 296h0M291 407h0M263 218h0M189 252h0M265 230h0M181 306h0M396 496h0M344 495h0M200 449h0M291 246h0M278 448h0M327 455h0M335 203h0M436 416h0M348 366h0M396 387h0M272 429h0M238 293h0M324 405h0M304 366h0M215 358h0M197 388h0M488 495h0M295 427h0M271 402h0M360 420h0M334 275h0M451 463h0M372 365h0M206 341h0M260 194h0M283 345h0M459 440h0M156 225h0M383 435h0M347 231h0M150 300h0M262 325h0M263 432h0M399 392h0M296 238h0M219 402h0M150 237h0M489 422h0M248 270h0M180 237h0M248 278h0M449 526h0M299 395h0M296 328h0M239 376h0M212 355h0M215 430h0M278 216h0M474 457h0M338 173h0M278 246h0M278 246h0M213 427h0M517 500h0M326 371h0M268 378h0M400 468h0M227 399h0M326 321h0M265 309h0M236 438h0M331 299h0M358 378h0M281 155h0M279 463h0M205 457h0M240 424h0M269 217h0M329 245h0M478 488h0M277 351h0M285 300h0M410 457h0M177 270h0M153 234h0M422 517h0M331 280h0M441 488h0M189 348h0M341 241h0M203 393h0M252 440h0M341 455h0M331 312h0M305 400h0M478 476h0M318 416h0M329 173h0M296 403h0M468 466h0M316 203h0M317 205h0M320 212h0M301 357h0M180 340h0M293 408h0M251 427h0M245 204h0M426 415h0M279 409h0M185 380h0M212 212h0M309 437h0M203 242h0M332 344h0M262 262h0M166 342h0M460 489h0M370 354h0M383 382h0M331 169h0M215 306h0M387 381h0M238 199h0M386 396h0M274 449h0M263 178h0M396 459h0M381 491h0M424 460h0M312 241h0M244 372h0M389 512h0M363 316h0M249 432h0M249 206h0M354 442h0M335 342h0M299 330h0M281 317h0M355 370h0M261 437h0M296 472h0M346 369h0M166 222h0M298 263h0M317 306h0M275 293h0M467 482h0M478 431h0M173 319h0M293 228h0M269 181h0M274 145h0M265 260h0M313 276h0M194 439h0M257 367h0M475 484h0M324 368h0M224 393h0M421 400h0M323 437h0M325 320h0M397 535h0M392 385h0M279 189h0M430 405h0M343 453h0M284 331h0M378 486h0M414 444h0M363 313h0M182 265h0M350 226h0M477 495h0M356 211h0M265 435h0M342 353h0M248 438h0M217 457h0M279 418h0M208 236h0M300 399h0M503 452h0M257 432h0M143 294h0M367 481h0M165 343h0M450 475h0M238 354h0M190 389h0M255 458h0M341 449h0M233 369h0M325 415h0M366 390h0M492 522h0M307 283h0M488 519h0M437 504h0M273 162h0M305 226h0M230 290h0M329 355h0M260 250h0M347 273h0M364 323h0M388 524h0M199 417h0M401 519h0M301 436h0M231 283h0M358 323h0M336 225h0M199 354h0M213 335h0M310 447h0M170 370h0M208 216h0M433 448h0M212 349h0M190 423h0M329 456h0M252 213h0M165 334h0M402 466h0M310 262h0M296 450h0M249 382h0M352 312h0M230 430h0M454 483h0M493 442h0M158 262h0M210 396h0M143 219h0M229 371h0M330 197h0M295 435h0M381 371h0M369 480h0M310 396h0M483 477h0M359 320h0M315 161h0M459 478h0M503 467h0M298 291h0M234 271h0M338 318h0M484 507h0M480 525h0M346 433h0M359 312h0M223 210h0M332 458h0M270 219h0M231 449h0M246 354h0M287 176h0M261 246h0M320 302h0M510 502h0M417 500h0M231 245h0M268 380h0M248 314h0M347 464h0M246 294h0M334 186h0M452 525h0M361 323h0M308 238h0M251 191h0M303 240h0M399 498h0M432 407h0M467 469h0M310 210h0M417 458h0M441 421h0M265 156h0M271 362h0M274 373h0M288 419h0M376 466h0M450 415h0M283 277h0M456 472h0M173 303h0M298 416h0M366 442h0M259 366h0M350 482h0M275 218h0M321 195h0M309 162h0M240 466h0M259 249h0M312 263h0M217 343h0M222 279h0M274 356h0M279 385h0M199 255h0M346 462h0M484 494h0M358 242h0M352 290h0M301 229h0M503 479h0M402 517h0M156 259h0M203 365h0M218 276h0M272 389h0M317 234h0M192 261h0M252 261h0M298 313h0M195 456h0M394 393h0M148 248h0M374 394h0M206 247h0M230 315h0M223 448h0M358 227h0M364 218h0M275 458h0M446 407h0M490 453h0M369 409h0M228 446h0M519 470h0M235 440h0M272 298h0M357 258h0M329 184h0M178 294h0M144 252h0M458 487h0M345 474h0M502 435h0M487 520h0M285 233h0M419 468h0M310 209h0M175 286h0M355 239h0M317 391h0M202 226h0M457 437h0M203 435h0M237 344h0M268 419h0M432 422h0M383 505h0M457 458h0M308 321h0M342 226h0M308 234h0M479 504h0M274 458h0M448 493h0M319 162h0M313 338h0M389 431h0M332 347h0M212 218h0M443 412h0M313 429h0M199 437h0M237 355h0M180 359h0M162 350h0M270 164h0M257 290h0M137 267h0M179 303h0M301 203h0M348 188h0M437 476h0M459 445h0M369 489h0M316 364h0M234 364h0M147 283h0M288 186h0M136 255h0M373 457h0M317 258h0M309 370h0M146 294h0M212 341h0M314 203h0M227 370h0M376 511h0M380 366h0M337 334h0M201 256h0M331 288h0M445 457h0M382 368h0M314 417h0M225 324h0M280 310h0M154 294h0M260 195h0M194 246h0M216 287h0M330 294h0M298 166h0M183 314h0M436 532h0M233 301h0M249 341h0M306 268h0M280 369h0M271 412h0M298 298h0M241 321h0M233 429h0M273 313h0M411 472h0M336 467h0M429 487h0M347 322h0M378 426h0M229 439h0M474 453h0M151 285h0M271 238h0M230 338h0M276 168h0M237 309h0M278 426h0M279 287h0M180 259h0M245 460h0M385 404h0M240 469h0M289 170h0M413 412h0M521 498h0M434 527h0M310 409h0M206 390h0M261 192h0M345 465h0M511 463h0M321 285h0M262 390h0M240 369h0M344 193h0M350 214h0M386 466h0M405 405h0M221 438h0M420 431h0M478 521h0M236 469h0M432 487h0M312 304h0M259 254h0M513 472h0M466 495h0M361 304h0M241 355h0M213 216h0M302 288h0M384 522h0M222 386h0M350 292h0M422 461h0M242 298h0M215 385h0M323 195h0M335 385h0M239 411h0M180 269h0M412 443h0M259 317h0M402 504h0M298 300h0M169 224h0M240 389h0M275 398h0M238 445h0M343 329h0M148 265h0M341 422h0M307 405h0M465 521h0M413 423h0M306 325h0M274 239h0M483 526h0M313 361h0M264 240h0M186 383h0M504 484h0M273 362h0M468 447h0M280 331h0M318 199h0M264 230h0M468 460h0M271 294h0M248 220h0M407 419h0M506 482h0M325 447h0M398 443h0M285 407h0M483 444h0M421 477h0M280 263h0M363 350h0M405 519h0M215 372h0M328 416h0M176 377h0M153 318h0M173 245h0M185 360h0M467 443h0M256 327h0M307 337h0M167 347h0M237 359h0M160 262h0M502 428h0M286 314h0M321 429h0M311 245h0M279 407h0M241 362h0M299 358h0M464 442h0M149 271h0M419 451h0M443 493h0M226 446h0M157 237h0M462 526h0M307 451h0M284 248h0M355 186h0M316 406h0M510 497h0M216 311h0M271 431h0M218 306h0M265 206h0M249 375h0M305 259h0M247 279h0M317 284h0M299 297h0M141 232h0M286 149h0M390 470h0M342 204h0M212 356h0M279 302h0M214 414h0M410 477h0M415 484h0M303 469h0M307 287h0M274 469h0M270 223h0M403 537h0M171 262h0M420 504h0M400 454h0M312 227h0M338 319h0M235 440h0M257 405h0M296 228h0M424 512h0M417 439h0M272 256h0M355 420h0M479 498h0M347 272h0M283 452h0M466 505h0M485 441h0M459 417h0M270 357h0M458 436h0M226 210h0M178 311h0M297 246h0M152 322h0M277 150h0M309 323h0M466 501h0M284 232h0M473 466h0M295 186h0M475 441h0M347 431h0M146 307h0M408 454h0M322 233h0M483 508h0M330 307h0M401 507h0M287 269h0M180 355h0M513 513h0M218 338h0M174 337h0M307 268h0M443 519h0M235 470h0M310 369h0M501 428h0M426 471h0M445 416h0M358 195h0M341 484h0M367 274h0M274 308h0M458 437h0M155 334h0M228 330h0M333 476h0M245 465h0M439 463h0M232 278h0M225 370h0M241 439h0M227 473h0M340 468h0M318 379h0M321 360h0M441 435h0M234 375h0M336 286h0M457 436h0M324 173h0M348 258h0M519 481h0M443 516h0M441 435h0M303 239h0M176 298h0M310 414h0M332 274h0M282 177h0M349 397h0M168 329h0M260 350h0M347 221h0M234 477h0M281 275h0M184 255h0M206 404h0M159 344h0M311 293h0M325 479h0M308 165h0M265 422h0M236 196h0M363 451h0M381 468h0M226 435h0M386 397h0M191 244h0M348 222h0M309 291h0M345 208h0M324 272h0M258 468h0M294 227h0M248 462h0M230 398h0M307 250h0M317 304h0M459 498h0M419 419h0M250 210h0M241 377h0M470 465h0M166 272h0M291 382h0M309 281h0M293 393h0M157 322h0M425 456h0M302 250h0M510 465h0M169 355h0M410 470h0M281 391h0M384 503h0M273 404h0M497 479h0M342 305h0M206 462h0M147 248h0M343 395h0M246 196h0M279 385h0M395 381h0M294 340h0M209 227h0M246 202h0M232 326h0M249 195h0M267 331h0M448 437h0M316 279h0M391 507h0M469 479h0M257 394h0M293 240h0M213 429h0M301 285h0M329 360h0M348 197h0M370 416h0M387 393h0M321 474h0M273 430h0M172 387h0M135 254h0M288 276h0M337 206h0M203 397h0M412 468h0M355 345h0M389 404h0M367 495h0M400 531h0M182 239h0M224 455h0M259 428h0M397 401h0M455 491h0M444 528h0M329 433h0M278 394h0M309 339h0M304 317h0M493 436h0M154 231h0M284 197h0M343 228h0M365 385h0M268 369h0M351 283h0M511 464h0M162 235h0M470 501h0M476 492h0M204 228h0M227 298h0M392 474h0M231 433h0M183 368h0M373 482h0M409 517h0M212 360h0M248 255h0M443 427h0M289 467h0M411 418h0M520 499h0M473 506h0M197 450h0M244 372h0M223 265h0M272 416h0M220 384h0M221 356h0M169 296h0M283 476h0M207 360h0M149 263h0M218 475h0M423 451h0M148 304h0M394 381h0M463 420h0M290 167h0M337 491h0M336 311h0M463 511h0M445 508h0M365 484h0M318 233h0M359 253h0M323 257h0M217 389h0M289 386h0M313 393h0M238 403h0M160 271h0M258 454h0M246 385h0M391 491h0M313 355h0M266 213h0M285 185h0M225 281h0M471 486h0M352 304h0M278 166h0M408 395h0M443 444h0M326 383h0M417 493h0M267 149h0M318 405h0M182 355h0M241 460h0M370 370h0M317 357h0M278 221h0M358 356h0M283 416h0M356 435h0M426 470h0M354 456h0M313 264h0M163 242h0M213 343h0M274 324h0M246 217h0M336 225h0M494 458h0M160 225h0M463 494h0M405 394h0M345 456h0M385 388h0M282 282h0M314 312h0M255 209h0M444 426h0M186 435h0M304 410h0M443 499h0M166 251h0M500 433h0M320 433h0M341 266h0M285 358h0M337 261h0M303 444h0M233 224h0M369 373h0M413 541h0M306 224h0M239 322h0M161 320h0M348 365h0M464 509h0M362 355h0M242 324h0M244 356h0M173 251h0M272 460h0M235 360h0M414 412h0M282 440h0M258 232h0M271 168h0M322 272h0M313 152h0M284 187h0M284 212h0M322 288h0M429 529h0M284 382h0M333 475h0M280 285h0M255 346h0M223 338h0M275 402h0M348 351h0M295 423h0M226 401h0M353 451h0M251 279h0M371 487h0M206 208h0M265 211h0M386 376h0M196 325h0M479 478h0M391 482h0M393 500h0M201 408h0M407 431h0M269 310h0M398 459h0M281 305h0M486 427h0M378 380h0M244 229h0M330 219h0M321 196h0M463 489h0M292 317h0M515 505h0M356 286h0M461 509h0M220 386h0M246 321h0M148 283h0M449 442h0M467 461h0M300 319h0M318 329h0M223 435h0M481 426h0M219 295h0M329 442h0M287 335h0M266 170h0M263 459h0M311 454h0M356 315h0M198 407h0M311 305h0M180 327h0M179 319h0M428 473h0M183 324h0M211 339h0M433 515h0M312 170h0M285 202h0M294 242h0M280 180h0M308 295h0M312 251h0M247 288h0M174 380h0M309 213h0M257 202h0M356 230h0M349 262h0M247 324h0M338 483h0M285 349h0M161 273h0M374 386h0M210 440h0M274 360h0M301 378h0M320 337h0M342 488h0M340 332h0M185 307h0M199 378h0M150 246h0M487 427h0M241 466h0M498 518h0M201 255h0M326 475h0M430 423h0M344 270h0M346 214h0M183 364h0M294 225h0M420 401h0M452 451h0M424 522h0M432 404h0M412 506h0M315 449h0M469 469h0M235 273h0M517 489h0M252 313h0M278 269h0M428 475h0M358 354h0M319 295h0M279 187h0M178 236h0M276 262h0M138 267h0M317 362h0M175 349h0M412 480h0M163 283h0M224 479h0M300 261h0M378 468h0M190 248h0M246 355h0M156 324h0M419 486h0M255 373h0M430 458h0M365 221h0M381 396h0M513 503h0M299 461h0M224 428h0M311 196h0M282 437h0M333 481h0M272 421h0M239 328h0M259 344h0M284 393h0M238 411h0M208 428h0M325 277h0M415 507h0M360 233h0M417 519h0M227 289h0M269 211h0M369 366h0M211 466h0M256 226h0M176 255h0M299 177h0M144 291h0M420 416h0M309 239h0M374 451h0M416 470h0M324 226h0M441 476h0M269 374h0M347 262h0M343 409h0M409 467h0M365 342h0M291 264h0M469 501h0M471 427h0M422 448h0M353 381h0M255 370h0M446 421h0M314 303h0M306 344h0M321 439h0M267 388h0M159 258h0M220 385h0M360 360h0M313 184h0M287 178h0M508 466h0M247 269h0M264 197h0M137 231h0M139 220h0M399 409h0M287 294h0M265 301h0M145 224h0M211 451h0M268 265h0M278 177h0M290 339h0M311 243h0M265 209h0M446 411h0M228 204h0M451 479h0M283 279h0M411 487h0M370 442h0M299 218h0M344 438h0M257 375h0M265 349h0M285 227h0M159 344h0M322 403h0M261 225h0M394 487h0M275 299h0M269 308h0M272 345h0M259 280h0M461 419h0M254 336h0M217 369h0M162 336h0M227 272h0M328 349h0M313 210h0M214 442h0M307 215h0M361 431h0M187 389h0M311 458h0M270 317h0M205 385h0M396 392h0M388 511h0M235 319h0M233 353h0M255 369h0M336 212h0M151 325h0M356 279h0M493 521h0M391 487h0M239 317h0M336 349h0M297 165h0M160 271h0M204 430h0M349 306h0M367 503h0M370 373h0M313 255h0M172 224h0M190 437h0M261 436h0M329 384h0M176 284h0M338 428h0M356 388h0M331 452h0M292 429h0M397 382h0M184 236h0M209 461h0M267 305h0M403 394h0M216 341h0M190 430h0M306 191h0M361 349h0M259 451h0M321 325h0M422 539h0M265 467h0M513 459h0M263 327h0M467 505h0M498 431h0M277 204h0M495 521h0M325 212h0M329 381h0M477 446h0M313 429h0M425 481h0M270 307h0M459 498h0M312 452h0M254 249h0M156 273h0M364 216h0M366 482h0M465 481h0M415 464h0M240 452h0M236 203h0M251 292h0M284 453h0M257 439h0M464 437h0M467 526h0M336 363h0M357 290h0M334 269h0M330 346h0M147 293h0M388 491h0M211 370h0M194 232h0M239 362h0M384 410h0M258 400h0M219 238h0M285 237h0M358 245h0M324 200h0M409 440h0M295 445h0M300 159h0M284 246h0M214 217h0M243 298h0M360 296h0M435 505h0M449 461h0M259 430h0M209 348h0M270 302h0M291 310h0M416 516h0M290 189h0M217 457h0M353 331h0M352 287h0M255 239h0M203 447h0M504 447h0M191 253h0M330 362h0M326 305h0M161 268h0M242 337h0M404 387h0M188 240h0M224 429h0M523 500h0M224 394h0M347 229h0M332 335h0M307 407h0M386 462h0M255 332h0M447 443h0M218 386h0M200 362h0M335 382h0M294 283h0M395 493h0M205 260h0M291 229h0M280 338h0M263 234h0M227 308h0M429 525h0M355 276h0M483 430h0M345 296h0M275 468h0M369 362h0M329 240h0M221 371h0M303 180h0M146 238h0M349 235h0M279 323h0M299 175h0M223 335h0M246 371h0M320 401h0M221 474h0M358 297h0M389 444h0M359 470h0M163 305h0M154 315h0M327 224h0M473 486h0M301 204h0M173 322h0M310 168h0M155 242h0M216 438h0M323 337h0M242 317h0M276 264h0M253 439h0M267 230h0M261 475h0M516 503h0M240 373h0M329 263h0M277 277h0M246 439h0M204 360h0M299 286h0M387 465h0M313 334h0M268 239h0M276 330h0M261 310h0M285 328h0M269 435h0M269 220h0M358 276h0M304 213h0M136 240h0M281 461h0M305 218h0M259 339h0M283 304h0M472 493h0M438 515h0M240 308h0M179 293h0M279 182h0M490 453h0M377 413h0M319 337h0M303 183h0M167 338h0M297 381h0M283 267h0M233 361h0M338 180h0M313 191h0M409 480h0M328 360h0M171 225h0M199 255h0M333 345h0M149 249h0M198 240h0M255 244h0M330 183h0M263 290h0M303 171h0M284 436h0M501 481h0M254 276h0M327 443h0M251 299h0M459 448h0M320 359h0M335 307h0M275 264h0M345 248h0M356 219h0M204 360h0M172 229h0M150 314h0M295 419h0M149 241h0M280 285h0M168 229h0M403 516h0M361 292h0M227 299h0M390 526h0M320 454h0M264 322h0M502 464h0M401 516h0M153 235h0M508 468h0M273 236h0M338 370h0M452 469h0M323 420h0M368 485h0M432 522h0M349 235h0M451 512h0M309 177h0M478 488h0M305 370h0M167 246h0M309 305h0M275 329h0M467 441h0M361 465h0M437 511h0M345 214h0M331 261h0M329 336h0M208 211h0M149 265h0M472 432h0M337 480h0M302 399h0M232 337h0M327 255h0M297 262h0M286 178h0M324 470h0M150 318h0M184 235h0M282 264h0M169 241h0M303 448h0M303 303h0M301 226h0M294 284h0M352 260h0M324 202h0M379 474h0M278 149h0M371 501h0M334 436h0M332 263h0M287 393h0M342 247h0M316 259h0M276 342h0M320 417h0M312 260h0M146 290h0M474 419h0M516 445h0M181 293h0M365 379h0M338 308h0M267 373h0M268 341h0M305 151h0M325 345h0M228 300h0M399 448h0M282 214h0M475 514h0M216 467h0M368 480h0M400 391h0M459 468h0M392 408h0M369 368h0M268 262h0M154 301h0M214 373h0M400 481h0M316 176h0M505 474h0M243 364h0M363 358h0M176 340h0M160 231h0M262 402h0M264 475h0M333 414h0M495 466h0M359 284h0M338 235h0M257 247h0M478 473h0M421 421h0M180 389h0M306 412h0M279 197h0M211 401h0M344 334h0M348 435h0M328 203h0M357 241h0M472 473h0M349 247h0M388 507h0M433 436h0M418 412h0M214 394h0M409 493h0M406 447h0M345 225h0M199 381h0M498 523h0M372 391h0M281 329h0M318 366h0M357 319h0M358 226h0M339 463h0M217 350h0M383 495h0M229 306h0M316 403h0M523 506h0M238 422h0M144 289h0M286 145h0M269 165h0M417 471h0M279 250h0M357 292h0M211 466h0M265 226h0M471 430h0M300 265h0M233 303h0M332 238h0M363 500h0M146 283h0M279 349h0M288 401h0M162 327h0M445 418h0M233 468h0M509 448h0M263 374h0M424 470h0M415 487h0M217 361h0M261 449h0M398 500h0M450 437h0M152 291h0M410 411h0M148 261h0M310 304h0M302 404h0M325 236h0M214 208h0M362 489h0M314 169h0M272 312h0M276 381h0M213 359h0M332 274h0M490 426h0M514 438h0M364 284h0M443 480h0M377 504h0M305 250h0M134 237h0M340 236h0M282 257h0M192 416h0M334 376h0M255 399h0M178 254h0M364 431h0M320 395h0M302 260h0M365 379h0M204 261h0M475 476h0M277 469h0M341 279h0M315 378h0M389 465h0M454 476h0M280 147h0M243 472h0M520 512h0M215 410h0M461 453h0M255 227h0M454 510h0M182 366h0M212 456h0M402 497h0M398 507h0M489 440h0M291 464h0M170 339h0M322 245h0M326 370h0M365 257h0M367 435h0M223 481h0M382 493h0M350 227h0M435 501h0M352 287h0M424 457h0M392 472h0M352 276h0M329 437h0M323 219h0M169 233h0M347 474h0M327 270h0M342 382h0M318 448h0M426 486h0M169 360h0M459 467h0M340 250h0M196 223h0M301 250h0M283 316h0M331 374h0M340 331h0M197 365h0M223 376h0M166 237h0M217 214h0M361 309h0M269 376h0M358 470h0M352 371h0M501 444h0M330 369h0M412 514h0M400 504h0M342 341h0M243 193h0M228 401h0M156 258h0M148 257h0M299 401h0M193 444h0M193 371h0M329 310h0M175 322h0M431 484h0M165 343h0M278 157h0M152 325h0M255 397h0M273 373h0M460 433h0M297 281h0M479 497h0M316 384h0M198 389h0M312 241h0M306 365h0M335 332h0M167 221h0M216 377h0M343 252h0M169 254h0M251 364h0M251 300h0M299 408h0M312 352h0M230 372h0M405 418h0M288 170h0M219 205h0M434 500h0M367 323h0M324 394h0M315 187h0M205 415h0M457 511h0M369 344h0M404 484h0M355 257h0M331 352h0M426 487h0M273 272h0M300 156h0M330 222h0M370 483h0M184 301h0M176 316h0M268 436h0M268 197h0M407 511h0M240 363h0M294 458h0M234 328h0M274 275h0M266 202h0M298 446h0M424 459h0M384 424h0M389 446h0M150 323h0M404 411h0M313 299h0M289 377h0M372 390h0M277 228h0M438 522h0M226 432h0M183 388h0M377 476h0M296 187h0M283 287h0M219 408h0M171 365h0M348 201h0M442 460h0M281 431h0M373 504h0M220 429h0M362 445h0M399 417h0M184 359h0M306 237h0M353 453h0M212 256h0M269 159h0M480 516h0M149 262h0M361 264h0M148 281h0M171 311h0M393 495h0M338 216h0M277 427h0M153 281h0M474 487h0M291 248h0M306 404h0M213 454h0M384 397h0M287 333h0M261 300h0M433 450h0M319 188h0M317 196h0M211 392h0M348 312h0M246 316h0M309 245h0M196 239h0M217 270h0M433 480h0M245 328h0M360 378h0M381 367h0M400 484h0M297 147h0M287 441h0M362 231h0M295 242h0M150 229h0M329 471h0M283 394h0M346 192h0M313 427h0M231 298h0M505 438h0M175 360h0M322 341h0M342 382h0M415 430h0M408 408h0M386 482h0M310 247h0M265 295h0M156 319h0M488 498h0M275 291h0M214 315h0M355 387h0M329 444h0M354 491h0M279 225h0M261 451h0M306 462h0M219 307h0M302 320h0M294 187h0M386 498h0M351 347h0M282 312h0M349 302h0M287 381h0M211 380h0M160 273h0M449 440h0M363 282h0M275 237h0M392 395h0M217 284h0M319 286h0M301 465h0M314 459h0M296 263h0M314 272h0M257 326h0M348 279h0M453 416h0M368 462h0M316 384h0M170 314h0M475 526h0M310 341h0M318 178h0M225 339h0M252 469h0M452 416h0M316 183h0M275 427h0M234 363h0M235 426h0M232 209h0M160 241h0M281 329h0M313 161h0M217 335h0M397 446h0M365 414h0M274 394h0M402 534h0M307 333h0M198 463h0M362 261h0M300 202h0M352 266h0M486 464h0M300 303h0M326 389h0M391 333h0M389 323h0M383 325h0M381 323h0M386 321h0M429 353h0M428 359h0M448 363h0M406 367h0M449 364h0M433 362h0M452 374h0M425 354h0M449 360h0M426 359h0M439 360h0M417 356h0M410 366h0M426 355h0M406 336h0M425 344h0M435 386h0M454 400h0M467 351h0M479 350h0M547 394h0M539 410h0M539 407h0M558 383h0M531 415h0M560 377h0M536 411h0M544 412h0M525 424h0M522 427h0M553 390h0M542 399h0M555 386h0M520 426h0M551 382h0M545 402h0M552 359h0M542 398h0M535 397h0M525 414h0M541 414h0M550 369h0M544 403h0M535 415h0M545 390h0M563 375h0M519 418h0M554 362h0M550 406h0M539 393h0M526 408h0M550 400h0M546 392h0M528 421h0M536 410h0M562 369h0M555 372h0M552 387h0M539 391h0M535 411h0M521 523h0M524 532h0M528 550h0M530 560h0M531 567h0M547 619h0M540 587h0M532 583h0M538 668h0M538 630h0M546 623h0M538 647h0M540 609h0M537 583h0M537 659h0M550 610h0M543 653h0M534 600h0M533 659h0M545 600h0M546 615h0M538 667h0M530 595h0M530 598h0M528 595h0M543 613h0M530 606h0M532 609h0M531 644h0M546 595h0M533 632h0M545 590h0M541 581h0M531 585h0M544 606h0M539 578h0M531 638h0M548 620h0M542 607h0M539 653h0M550 617h0M549 614h0M550 601h0M530 591h0M537 661h0M542 651h0M531 595h0M536 603h0M540 587h0M549 628h0M538 669h0M545 598h0M534 589h0M548 609h0M549 606h0M537 578h0M532 643h0M531 609h0M539 628h0M542 586h0M536 590h0M541 650h0M531 640h0M537 638h0M539 586h0M544 618h0M542 648h0M539 655h0M532 586h0M536 652h0M534 649h0M538 617h0M535 594h0M545 599h0M538 665h0M539 634h0M530 622h0M605 579h0M572 559h0M604 587h0M558 545h0M587 578h0M563 550h0M565 549h0M564 560h0M587 580h0M567 555h0M582 573h0M580 572h0M576 570h0M597 578h0M577 564h0M567 559h0M582 566h0M550 539h0M390 552h0"/><path stroke="#234eb1" d="M202 440h0M225 409h0M242 453h0M217 439h0M241 311h0M477 486h0M242 374h0M329 276h0M229 289h0M205 362h0M220 281h0M247 379h0"/><path stroke="#2671a1" d="M290 387h0M289 277h0M253 226h0M286 325h0M282 410h0M348 260h0M177 335h0M255 229h0M232 453h0M254 216h0M235 475h0M206 428h0M168 337h0M347 224h0M249 289h0M257 387h0M241 231h0M281 389h0M250 427h0M228 328h0M192 428h0M209 454h0M208 456h0M312 407h0M270 420h0M142 243h0M225 460h0M328 164h0M206 259h0M234 481h0M380 372h0M247 402h0M252 464h0M222 448h0M278 472h0"/><path stroke="#289393" d="M216 253h0M201 379h0M208 351h0M312 208h0M249 466h0M250 445h0M212 409h0M249 387h0M388 494h0M264 413h0M225 378h0M280 401h0M257 204h0M213 380h0M362 272h0M203 443h0M242 422h0M226 404h0M178 273h0M458 436h0M234 312h0M223 350h0M509 464h0M243 313h0M357 229h0M241 466h0M262 421h0M174 288h0M260 203h0M202 215h0M245 301h0M251 273h0M284 149h0M185 378h0M219 465h0M305 405h0M345 319h0M185 242h0M154 335h0M198 232h0M374 420h0M265 201h0M271 293h0M322 428h0M257 472h0M231 362h0M200 212h0"/><path stroke="#28b184" d="M327 293h0M229 257h0M277 309h0M205 384h0M354 238h0M204 292h0M175 357h0M433 411h0M430 437h0M298 418h0M229 249h0M340 328h0M365 469h0M436 490h0M223 322h0M216 259h0M165 338h0M249 259h0M191 308h0M195 441h0M295 420h0M206 450h0M141 242h0M206 210h0"/><path stroke="#2fd169" d="M353 407h0M376 415h0M371 434h0M376 432h0M384 459h0M390 413h0M398 478h0M368 435h0M568 152h0M348 565h0M370 579h0"/><path stroke="#43e84a" d="M364 409h0M384 409h0M391 453h0M370 434h0M396 443h0M378 446h0M399 536h0M345 417h0M444 467h0M421 534h0M391 427h0M411 421h0M431 521h0M405 419h0M372 432h0M325 409h0M371 438h0M348 420h0M379 449h0M338 402h0M396 448h0M349 441h0M404 433h0M511 432h0M376 413h0M494 499h0M340 426h0M390 433h0M511 497h0M332 421h0M364 455h0M402 451h0M433 431h0M330 403h0M376 432h0M342 436h0M352 442h0M387 414h0M387 454h0M451 461h0M349 436h0M396 436h0M399 419h0M351 410h0M368 428h0M394 420h0M371 424h0M386 459h0M362 420h0M373 458h0M630 112h0M578 300h0M644 115h0M655 247h0M536 183h0M664 110h0M688 186h0M683 93h0M615 132h0M724 117h0M680 227h0M528 231h0M713 147h0M570 153h0M547 273h0M537 271h0M566 249h0M571 271h0M561 101h0M590 301h0M666 204h0M535 243h0M659 209h0M581 239h0M690 237h0M604 100h0M620 244h0M517 271h0M669 181h0M612 175h0M625 117h0M677 183h0M587 272h0M639 164h0M621 181h0M689 198h0M531 254h0M557 137h0M542 188h0M574 242h0M677 145h0M708 104h0M589 92h0M701 209h0M580 303h0M711 104h0M525 154h0M721 172h0M703 220h0M707 167h0M660 128h0M568 308h0M688 87h0M632 170h0M568 248h0M633 245h0M645 125h0M639 240h0M634 165h0M670 192h0M589 222h0M529 170h0M611 189h0M622 147h0M714 112h0M616 159h0M665 130h0M732 147h0M687 139h0M694 153h0M524 291h0M597 230h0M617 146h0M523 209h0M546 303h0M618 257h0M540 243h0M672 117h0M593 164h0M621 120h0M556 231h0M597 104h0M556 195h0M555 116h0M532 296h0M645 243h0M645 188h0M616 94h0M583 246h0M571 270h0M563 235h0M549 224h0M520 270h0M571 100h0M620 106h0M718 121h0M591 111h0M682 163h0M628 267h0M520 292h0M637 173h0M608 205h0M716 232h0M595 146h0M698 183h0M569 118h0M725 142h0M645 152h0M703 232h0M628 209h0M580 230h0M663 220h0M564 256h0M571 236h0M722 143h0M552 168h0M566 226h0M585 267h0M596 90h0M584 151h0M552 157h0M597 259h0M605 217h0M627 175h0M624 138h0M565 152h0M593 273h0M699 149h0M650 105h0M577 142h0M546 131h0M588 288h0M682 90h0M526 150h0M701 121h0M601 238h0M594 212h0M609 223h0M577 143h0M675 220h0M682 113h0M633 149h0M621 229h0M582 221h0M646 100h0M549 209h0M587 166h0M710 96h0M557 276h0M634 218h0M665 187h0M589 136h0M649 196h0M646 252h0M620 148h0M611 165h0M635 252h0M691 233h0M697 166h0M599 125h0M672 199h0M675 171h0M644 185h0M582 276h0M585 89h0M532 136h0M725 137h0M609 115h0M729 220h0M726 190h0M597 231h0M613 129h0M552 170h0M576 185h0M655 98h0M658 124h0M679 190h0M555 204h0M527 152h0M656 135h0M634 245h0M727 182h0M561 106h0M546 177h0M548 168h0M665 86h0M612 208h0M657 213h0M658 248h0M623 242h0M731 227h0M609 82h0M735 136h0M552 189h0M610 104h0M631 115h0M570 224h0M704 212h0M717 121h0M549 246h0M608 85h0M647 258h0M597 106h0M618 93h0M714 147h0M682 121h0M536 258h0M719 156h0M578 261h0M567 291h0M575 255h0M517 270h0M535 159h0M636 240h0M530 244h0M590 233h0M533 261h0M642 142h0M642 215h0M586 144h0M617 140h0M577 119h0M669 167h0M638 265h0M716 98h0M549 172h0M633 156h0M598 86h0M666 177h0M586 135h0M686 127h0M526 150h0M587 215h0M655 112h0M675 211h0M541 135h0M684 130h0M721 109h0M606 138h0M589 121h0M547 216h0M659 140h0M577 235h0M535 132h0M724 131h0M577 195h0M732 183h0M684 165h0M690 168h0M691 95h0M576 131h0M551 106h0M655 252h0M687 225h0M658 148h0M557 181h0M565 242h0M631 115h0M589 241h0M628 226h0M712 179h0M618 204h0M685 169h0M572 198h0M684 179h0M681 163h0M639 217h0M599 100h0M595 84h0M681 138h0M702 167h0M670 215h0M686 186h0M711 111h0M678 245h0M739 149h0M557 150h0M642 109h0M618 220h0M626 144h0M641 230h0M643 251h0M603 150h0M620 204h0M724 116h0M566 167h0M586 149h0M540 158h0M698 146h0M522 280h0M581 89h0M590 232h0M586 192h0M653 161h0M600 227h0M527 235h0M600 293h0M694 154h0M523 201h0M722 121h0M564 98h0M563 246h0M692 185h0M721 225h0M678 152h0M596 135h0M647 168h0M607 260h0M565 153h0M629 174h0M591 135h0M597 156h0M544 222h0M603 274h0M538 214h0M532 197h0M583 226h0M558 245h0M620 171h0M672 173h0M733 157h0M593 175h0M587 181h0M606 289h0M710 112h0M645 222h0M657 210h0M728 135h0M675 172h0M547 217h0M541 221h0M550 270h0M599 122h0M686 197h0M620 106h0M555 303h0M577 244h0M571 247h0M586 163h0M564 110h0M666 135h0M562 187h0M523 212h0M594 121h0M629 173h0M529 141h0M548 224h0M626 121h0M580 183h0M554 224h0M630 105h0M687 130h0M576 216h0M706 176h0M706 118h0M532 293h0M600 179h0M558 253h0M562 208h0M716 119h0M595 256h0M600 145h0M577 131h0M594 148h0M720 217h0M600 129h0M530 203h0M700 224h0M686 203h0M582 215h0M576 290h0M543 224h0M592 126h0M566 263h0M667 81h0M651 197h0M574 94h0M526 147h0M710 204h0M677 201h0M616 159h0M619 108h0M698 101h0M631 220h0M673 144h0M695 170h0M556 141h0M608 176h0M677 237h0M605 177h0M578 270h0M569 100h0M607 287h0M627 117h0M605 150h0M708 198h0M574 155h0M580 169h0M603 110h0M628 180h0M672 113h0M609 136h0M699 88h0M564 294h0M538 123h0M621 187h0M555 134h0M612 236h0M555 297h0M649 228h0M527 299h0M634 243h0M567 110h0M656 86h0M526 193h0M684 199h0M666 237h0M697 236h0M700 149h0M635 252h0M681 101h0M689 219h0M597 77h0M630 214h0M592 176h0M528 153h0M732 192h0M530 168h0M524 238h0M566 223h0M611 208h0M632 241h0M611 139h0M596 104h0M724 230h0M658 135h0M613 212h0M584 257h0M547 271h0M638 109h0M697 112h0M732 184h0M574 128h0M591 189h0M646 91h0M723 136h0M584 230h0M711 130h0M582 144h0M586 283h0M669 176h0M693 95h0M600 211h0M593 237h0M579 245h0M672 84h0M589 114h0M666 171h0M641 152h0M547 210h0M644 135h0M637 264h0M548 269h0M601 95h0M549 187h0M672 173h0M559 186h0M645 141h0M731 131h0M562 246h0M599 282h0M608 187h0M520 277h0M631 122h0M565 244h0M552 222h0M627 245h0M556 178h0M664 248h0M641 83h0M565 268h0M647 171h0M600 278h0M544 245h0M675 225h0M658 114h0M572 274h0M665 246h0M619 272h0M714 221h0M721 227h0M705 195h0M649 191h0M578 85h0M724 110h0M611 172h0M543 252h0M638 102h0M658 175h0M596 96h0M590 304h0M542 238h0M649 106h0M621 223h0M627 136h0M686 118h0M611 259h0M561 237h0M674 223h0M607 201h0M678 167h0M560 140h0M624 139h0M571 150h0M620 277h0M551 183h0M532 286h0M564 108h0M566 296h0M588 218h0M648 158h0M686 97h0M684 172h0M689 209h0M649 250h0M684 216h0M707 167h0M645 146h0M602 92h0M577 173h0M654 256h0M663 182h0M574 110h0M670 205h0M684 244h0M665 228h0M534 139h0M642 209h0M616 178h0M553 106h0M710 181h0M633 122h0M661 247h0M581 143h0M636 192h0M622 251h0M570 94h0M558 150h0M574 114h0M664 188h0M662 103h0M603 171h0M585 309h0M653 224h0M624 238h0M579 144h0M538 176h0M586 111h0M548 109h0M570 230h0M641 158h0M694 151h0M584 225h0M698 128h0M603 202h0M644 215h0M616 225h0M617 102h0M621 205h0M599 88h0M564 183h0M733 225h0M589 300h0M720 146h0M655 197h0M526 289h0M582 129h0M577 132h0M652 140h0M567 103h0M584 137h0M581 161h0M667 195h0M728 195h0M596 146h0M619 162h0M711 155h0M592 165h0M533 285h0M667 208h0M703 231h0M606 273h0M588 236h0M526 151h0M618 181h0M547 159h0M641 188h0M679 144h0M625 95h0M688 114h0M595 237h0M530 284h0M666 249h0M620 244h0M556 120h0M725 195h0M609 138h0M523 186h0M632 129h0M619 248h0M715 171h0M609 195h0M637 222h0M702 230h0M663 232h0M564 292h0M638 259h0M654 144h0M728 167h0M620 105h0M609 81h0M712 228h0M488 338h0M499 339h0M516 328h0M519 327h0M505 333h0M525 321h0M502 321h0M519 332h0M509 322h0M508 316h0M508 338h0M534 322h0M513 338h0M525 326h0M514 315h0M548 326h0M533 334h0M541 341h0M558 333h0M562 339h0M574 336h0M505 291h0M515 301h0M526 541h0M383 610h0M376 613h0M361 567h0M388 613h0M378 603h0M377 580h0M387 592h0M376 592h0M384 630h0M368 568h0M357 573h0M367 570h0M390 594h0M380 582h0M380 636h0M365 567h0M374 581h0M388 632h0M390 594h0M380 632h0M378 598h0M374 588h0M377 595h0M385 609h0M373 586h0M391 603h0M374 598h0M366 587h0M387 604h0M370 571h0M381 624h0M355 573h0M377 593h0M353 567h0M390 624h0M370 574h0M380 588h0M381 603h0M392 622h0M359 574h0M387 605h0M386 635h0M352 563h0M379 597h0M381 587h0M391 617h0M379 585h0M369 593h0M389 607h0M388 625h0M384 595h0M390 616h0M383 612h0M356 566h0M387 643h0M385 647h0M386 644h0M378 603h0M387 591h0M581 584h0M567 563h0M582 584h0M573 565h0M582 582h0M578 577h0M585 573h0M562 550h0M602 587h0M575 571h0M606 586h0M569 565h0M598 583h0M574 575h0M594 574h0M559 534h0"/><path stroke="#7aee33" d="M354 439h0M505 455h0M330 426h0M504 431h0M372 428h0M473 480h0M373 452h0M338 402h0M505 453h0M517 459h0M329 418h0M399 434h0M471 477h0M369 421h0M339 418h0M347 408h0M366 433h0M364 447h0M495 477h0M366 422h0M412 395h0M330 419h0M369 446h0M346 422h0M374 451h0M391 424h0M603 148h0M607 254h0M635 120h0M738 152h0M572 255h0M711 189h0M597 178h0M536 290h0M561 248h0M559 206h0M630 167h0M614 150h0M540 228h0M600 237h0M699 197h0M616 204h0M629 142h0M560 237h0M648 250h0M610 121h0M533 180h0M553 164h0M572 104h0M611 162h0M531 238h0M544 128h0M672 159h0M566 93h0M617 272h0M524 256h0M564 162h0M592 108h0M525 147h0M726 207h0M548 146h0M650 177h0M595 206h0M638 192h0M680 218h0M674 163h0M707 175h0M652 108h0M645 216h0M719 195h0M538 137h0M664 94h0M710 170h0M583 100h0M701 205h0M645 257h0M535 217h0M548 151h0M682 234h0M677 155h0M709 134h0M525 174h0M665 176h0M586 236h0M619 248h0M714 212h0M716 183h0M671 195h0M625 149h0M571 245h0M567 201h0M585 289h0M695 128h0M619 105h0M717 190h0M610 172h0M683 219h0M629 241h0M577 274h0M553 216h0M732 128h0M639 86h0M585 171h0M569 236h0M537 222h0M526 297h0M582 179h0M674 247h0M634 82h0M563 237h0M665 107h0M688 226h0M695 129h0M575 173h0M569 297h0M578 185h0M556 130h0M715 154h0M564 283h0M595 143h0M522 199h0M653 130h0M552 153h0M602 208h0M608 189h0M571 189h0M709 126h0M530 133h0M697 168h0M552 198h0M525 211h0M574 127h0M559 181h0M593 130h0M585 98h0M572 282h0M700 122h0M678 101h0M612 178h0M664 106h0M527 202h0M662 100h0M535 206h0M628 215h0M682 243h0M587 196h0M540 148h0M563 298h0M657 175h0M647 164h0M614 90h0M557 185h0M602 233h0M620 243h0M637 239h0M602 280h0M698 100h0M526 257h0M588 217h0M564 130h0M636 134h0M604 237h0M571 146h0M638 242h0M606 218h0M707 152h0M578 152h0M539 131h0M525 176h0M602 225h0M534 140h0M608 87h0M554 163h0M698 220h0M647 168h0M536 225h0M603 282h0M710 97h0M556 197h0M637 89h0M657 112h0M596 182h0M721 164h0M701 217h0M646 179h0M553 211h0M567 276h0M617 268h0M669 201h0M645 149h0M650 254h0M681 175h0M621 231h0M582 122h0M548 180h0M539 152h0M604 155h0M674 209h0M539 187h0M597 130h0M581 117h0M624 242h0M719 185h0M644 131h0M587 105h0M695 148h0M619 147h0M623 144h0M570 171h0M652 87h0M542 157h0M583 136h0M541 263h0M659 254h0M605 158h0M613 196h0M652 134h0M540 304h0M600 228h0M631 124h0M681 234h0M717 175h0M612 100h0M688 227h0M576 196h0M522 296h0M681 134h0M635 251h0M609 84h0M565 148h0M721 227h0M725 235h0M636 171h0M654 148h0M656 177h0M585 238h0M528 205h0M619 93h0M685 220h0M629 102h0M603 279h0M605 185h0M579 141h0M647 167h0M653 139h0M633 246h0M710 175h0M564 102h0M719 157h0M566 276h0M580 131h0M662 130h0M619 176h0M657 221h0M548 238h0M681 151h0M538 154h0M588 270h0M717 206h0M591 184h0M544 309h0M565 163h0M683 224h0M664 224h0M564 225h0M659 236h0M581 243h0M591 300h0M694 95h0M617 197h0M601 104h0M583 248h0M566 203h0M556 267h0M684 100h0M677 196h0M714 158h0M548 201h0M683 159h0M552 190h0M611 145h0M708 144h0M570 176h0M725 229h0M684 192h0M674 188h0M610 237h0M682 93h0M576 215h0M627 247h0M705 198h0M594 124h0M541 231h0M714 213h0M739 187h0M722 114h0M622 256h0M550 237h0M589 197h0M551 110h0M687 212h0M657 179h0M637 214h0M601 236h0M735 187h0M589 126h0M573 127h0M556 243h0M595 83h0M634 96h0M734 224h0M602 182h0M578 300h0M628 212h0M600 180h0M605 146h0M644 190h0M642 143h0M542 261h0M639 119h0M634 257h0M624 240h0M574 247h0M591 219h0M562 294h0M553 240h0M628 209h0M524 256h0M525 195h0M535 242h0M572 88h0M589 270h0M626 161h0M566 270h0M544 302h0M552 218h0M677 142h0M589 193h0M581 167h0M618 132h0M721 175h0M543 255h0M636 90h0M581 111h0M590 173h0M617 87h0M598 289h0M644 196h0M551 230h0M581 107h0M711 96h0M582 310h0M553 197h0M693 139h0M684 112h0M514 289h0M737 147h0M603 284h0M579 196h0M672 157h0M602 169h0M595 197h0M638 229h0M599 177h0M618 257h0M534 210h0M727 149h0M595 169h0M616 234h0M691 133h0M600 290h0M564 262h0M526 160h0M515 276h0M613 148h0M732 158h0M576 148h0M641 258h0M641 151h0M555 141h0M632 271h0M584 87h0M672 241h0M689 95h0M625 171h0M594 96h0M609 248h0M613 227h0M615 167h0M554 155h0M541 146h0M685 104h0M632 105h0M690 174h0M608 256h0M677 157h0M590 205h0M651 247h0M677 172h0M545 262h0M622 261h0M604 236h0M572 313h0M594 175h0M667 177h0M675 177h0M727 156h0M683 116h0M645 174h0M564 164h0M696 204h0M583 121h0M657 222h0M531 195h0M615 105h0M653 172h0M695 106h0M547 204h0M528 219h0M579 110h0M538 215h0M712 156h0M667 203h0M653 163h0M637 147h0M666 226h0M690 163h0M598 132h0M522 299h0M675 83h0M743 195h0M663 229h0M584 275h0M655 119h0M648 108h0M527 142h0M646 105h0M567 101h0M725 212h0M669 102h0M638 142h0M595 93h0M529 198h0M611 201h0M603 210h0M613 173h0M563 115h0M686 166h0M590 232h0M737 159h0M680 191h0M623 220h0M681 210h0M632 112h0M574 265h0M575 190h0M656 148h0M537 212h0M564 120h0M568 219h0M578 115h0M599 229h0M641 174h0M606 83h0M604 97h0M692 219h0M737 207h0M535 188h0M578 109h0M628 211h0M741 216h0M668 246h0M608 145h0M554 274h0M640 214h0M589 122h0M567 143h0M628 102h0M564 201h0M636 206h0M582 281h0M599 161h0M615 204h0M652 108h0M682 90h0M562 185h0M727 185h0M717 216h0M567 276h0M678 166h0M686 98h0M698 168h0M570 150h0M521 290h0M599 176h0M599 128h0M553 125h0M594 219h0M652 153h0M668 155h0M626 110h0M588 266h0M692 235h0M639 84h0M574 270h0M667 182h0M529 201h0M669 190h0M587 219h0M538 245h0M673 240h0M696 167h0M588 131h0M701 111h0M650 241h0M562 305h0M661 124h0M536 231h0M550 213h0M491 338h0M509 327h0M505 320h0M506 332h0M517 327h0M500 337h0M536 313h0M500 324h0M524 320h0M499 335h0M506 341h0M517 330h0M523 329h0M556 287h0M349 571h0M392 610h0M389 639h0M384 610h0M383 604h0M367 591h0M382 592h0M378 600h0M380 600h0M380 594h0"/><path stroke="#b2f022" d="M380 408h0M471 521h0M378 401h0M655 253h0M555 382h0M526 413h0M557 386h0M533 413h0"/><path stroke="#ddf021" d="M538 395h0M552 378h0M519 421h0M540 401h0M533 409h0M558 360h0M532 414h0"/></g>
<g transform="translate(1443.09,20.25) scale(0.448)" fill="none" stroke-linecap="round" stroke-width="9.93"><path stroke="#260e83" d="M165 234h0M168 314h0M321 203h0M286 347h0M301 376h0M423 525h0M243 401h0M249 266h0M318 451h0M279 175h0M393 515h0M213 393h0M249 438h0M401 470h0M301 445h0M321 198h0M353 300h0M202 440h0M443 458h0M152 288h0M181 259h0M326 482h0M216 359h0M364 409h0M351 219h0M327 189h0M321 355h0M212 438h0M285 292h0M269 279h0M321 176h0M354 439h0M506 479h0M426 467h0M322 277h0M235 370h0M257 389h0M306 296h0M291 407h0M263 218h0M189 252h0M265 230h0M181 306h0M344 495h0M200 449h0M278 448h0M327 455h0M335 203h0M436 416h0M353 407h0M348 366h0M396 387h0M238 293h0M324 405h0M304 366h0M215 358h0M197 388h0M488 495h0M295 427h0M384 409h0M271 402h0M360 420h0M334 275h0M451 463h0M372 365h0M206 341h0M260 194h0M283 345h0M459 440h0M156 225h0M391 453h0M347 231h0M150 300h0M262 325h0M263 432h0M399 392h0M290 387h0M296 238h0M219 402h0M150 237h0M248 278h0M449 526h0M299 395h0M296 328h0M239 376h0M212 355h0M215 430h0M505 455h0M278 216h0M474 457h0M338 173h0M278 246h0M278 246h0M213 427h0M289 277h0M517 500h0M326 371h0M268 378h0M400 468h0M227 399h0M326 321h0M265 309h0M236 438h0M331 299h0M358 378h0M281 155h0M279 463h0M330 426h0M240 424h0M269 217h0M329 245h0M478 488h0M396 443h0M285 300h0M410 457h0M177 270h0M153 234h0M422 517h0M331 280h0M441 488h0M189 348h0M341 241h0M252 440h0M341 455h0M331 312h0M305 400h0M253 226h0M478 476h0M318 416h0M329 173h0M296 403h0M468 466h0M316 203h0M317 205h0M320 212h0M301 357h0M180 340h0M293 408h0M251 427h0M216 253h0M245 204h0M426 415h0M279 409h0M185 380h0M309 437h0M203 242h0M332 344h0M262 262h0M460 489h0M370 354h0M383 382h0M215 306h0M387 381h0M238 199h0M386 396h0M504 431h0M274 449h0M286 325h0M396 459h0M242 453h0M381 491h0M424 460h0M312 241h0M378 446h0M244 372h0M389 512h0M363 316h0M249 432h0M249 206h0M354 442h0M335 342h0M299 330h0M281 317h0M355 370h0M261 437h0M296 472h0M346 369h0M166 222h0M229 257h0M298 263h0M317 306h0M275 293h0M277 309h0M282 410h0M467 482h0M478 431h0M173 319h0M293 228h0M269 181h0M274 145h0M265 260h0M313 276h0M194 439h0M257 367h0M475 484h0M324 368h0M421 400h0M323 437h0M325 320h0M397 535h0M392 385h0M279 189h0M376 415h0M430 405h0M343 453h0M284 331h0M378 486h0M414 444h0M363 313h0M182 265h0M350 226h0M477 495h0M356 211h0M265 435h0M205 384h0M342 353h0M248 438h0M217 457h0M279 418h0M208 236h0M300 399h0M503 452h0M257 432h0M367 481h0M354 238h0M165 343h0M450 475h0M238 354h0M190 389h0M255 458h0M341 449h0M233 369h0M325 415h0M366 390h0M492 522h0M307 283h0M488 519h0M437 504h0M273 162h0M305 226h0M260 250h0M347 273h0M364 323h0M388 524h0M199 417h0M401 519h0M301 436h0M358 323h0M336 225h0M199 354h0M213 335h0M310 447h0M208 351h0M170 370h0M433 448h0M190 423h0M329 456h0M252 213h0M165 334h0M402 466h0M310 262h0M296 450h0M249 382h0M352 312h0M230 430h0M454 483h0M493 442h0M158 262h0M210 396h0M143 219h0M229 371h0M330 197h0M295 435h0M381 371h0M369 480h0M359 320h0M312 208h0M315 161h0M503 467h0M298 291h0M234 271h0M338 318h0M484 507h0M346 433h0M359 312h0M223 210h0M332 458h0M270 219h0M246 354h0M287 176h0M249 466h0M261 246h0M320 302h0M510 502h0M417 500h0M231 245h0M268 380h0M248 314h0M347 464h0M246 294h0M334 186h0M452 525h0M361 323h0M308 238h0M251 191h0M303 240h0M399 498h0M432 407h0M204 292h0M467 469h0M310 210h0M417 458h0M441 421h0M265 156h0M271 362h0M274 373h0M288 419h0M376 466h0M450 415h0M283 277h0M456 472h0M173 303h0M298 416h0M175 357h0M350 482h0M275 218h0M321 195h0M309 162h0M240 466h0M259 249h0M312 263h0M217 343h0M222 279h0M421 534h0M274 356h0M279 385h0M212 409h0M199 255h0M346 462h0M484 494h0M358 242h0M352 290h0M301 229h0M503 479h0M402 517h0M156 259h0M203 365h0M218 276h0M272 389h0M317 234h0M192 261h0M252 261h0M298 313h0M195 456h0M394 393h0M148 248h0M374 394h0M206 247h0M230 315h0M223 448h0M358 227h0M364 218h0M275 458h0M446 407h0M490 453h0M228 446h0M519 470h0M235 440h0M272 298h0M357 258h0M329 184h0M178 294h0M144 252h0M458 487h0M345 474h0M348 260h0M502 435h0M487 520h0M285 233h0M419 468h0M310 209h0M175 286h0M355 239h0M371 434h0M202 226h0M457 437h0M203 435h0M237 344h0M268 419h0M432 422h0M383 505h0M457 458h0M308 321h0M342 226h0M308 234h0M479 504h0M274 458h0M448 493h0M319 162h0M313 338h0M389 431h0M332 347h0M212 218h0M443 412h0M313 429h0M199 437h0M237 355h0M180 359h0M162 350h0M177 335h0M270 164h0M257 290h0M137 267h0M179 303h0M301 203h0M348 188h0M437 476h0M459 445h0M369 489h0M316 364h0M234 364h0M288 186h0M136 255h0M373 457h0M433 411h0M249 387h0M317 258h0M309 370h0M146 294h0M212 341h0M314 203h0M227 370h0M376 511h0M380 366h0M337 334h0M201 256h0M331 288h0M445 457h0M314 417h0M225 324h0M430 437h0M280 310h0M154 294h0M260 195h0M194 246h0M216 287h0M330 294h0M298 166h0M183 314h0M436 532h0M372 428h0M233 301h0M249 341h0M306 268h0M280 369h0M255 229h0M271 412h0M298 298h0M233 429h0M273 313h0M411 472h0M336 467h0M429 487h0M347 322h0M378 426h0M229 439h0M474 453h0M388 494h0M151 285h0M271 238h0M391 427h0M230 338h0M276 168h0M237 309h0M278 426h0M279 287h0M180 259h0M245 460h0M385 404h0M240 469h0M289 170h0M264 413h0M413 412h0M521 498h0M434 527h0M310 409h0M206 390h0M473 480h0M254 216h0M261 192h0M345 465h0M511 463h0M321 285h0M262 390h0M240 369h0M344 193h0M350 214h0M386 466h0M405 405h0M221 438h0M420 431h0M478 521h0M236 469h0M432 487h0M312 304h0M259 254h0M361 304h0M241 355h0M213 216h0M302 288h0M384 522h0M222 386h0M350 292h0M225 378h0M422 461h0M242 298h0M215 385h0M323 195h0M335 385h0M239 411h0M180 269h0M412 443h0M259 317h0M402 504h0M411 421h0M298 300h0M169 224h0M431 521h0M240 389h0M275 398h0M298 418h0M238 445h0M343 329h0M148 265h0M341 422h0M307 405h0M465 521h0M413 423h0M306 325h0M274 239h0M483 526h0M313 361h0M264 240h0M186 383h0M504 484h0M273 362h0M405 419h0M468 447h0M280 331h0M318 199h0M264 230h0M468 460h0M271 294h0M248 220h0M407 419h0M506 482h0M325 447h0M398 443h0M285 407h0M483 444h0M421 477h0M280 263h0M363 350h0M215 372h0M176 377h0M153 318h0M173 245h0M185 360h0M467 443h0M373 452h0M256 327h0M307 337h0M237 359h0M160 262h0M502 428h0M286 314h0M321 429h0M311 245h0M279 407h0M280 401h0M241 362h0M299 358h0M464 442h0M149 271h0M419 451h0M338 402h0M443 493h0M257 204h0M226 446h0M157 237h0M462 526h0M307 451h0M284 248h0M355 186h0M316 406h0M510 497h0M216 311h0M271 431h0M218 306h0M265 206h0M249 375h0M305 259h0M247 279h0M317 284h0M299 297h0M141 232h0M235 475h0M286 149h0M390 470h0M342 204h0M212 356h0M279 302h0M214 414h0M410 477h0M415 484h0M303 469h0M307 287h0M274 469h0M270 223h0M403 537h0M171 262h0M420 504h0M400 454h0M312 227h0M338 319h0M235 440h0M257 405h0M296 228h0M424 512h0M417 439h0M272 256h0M479 498h0M347 272h0M283 452h0M466 505h0M206 428h0M485 441h0M459 417h0M270 357h0M458 436h0M226 210h0M178 311h0M297 246h0M152 322h0M277 150h0M309 323h0M466 501h0M284 232h0M473 466h0M295 186h0M475 441h0M146 307h0M408 454h0M322 233h0M483 508h0M168 337h0M330 307h0M401 507h0M287 269h0M180 355h0M513 513h0M347 224h0M174 337h0M325 409h0M307 268h0M371 438h0M443 519h0M235 470h0M310 369h0M501 428h0M426 471h0M445 416h0M358 195h0M341 484h0M367 274h0M213 380h0M274 308h0M229 249h0M155 334h0M228 330h0M333 476h0M245 465h0M439 463h0M232 278h0M225 370h0M227 473h0M340 468h0M340 328h0M318 379h0M321 360h0M441 435h0M234 375h0M336 286h0M249 289h0M457 436h0M324 173h0M348 258h0M519 481h0M443 516h0M441 435h0M303 239h0M176 298h0M310 414h0M332 274h0M282 177h0M168 329h0M260 350h0M347 221h0M234 477h0M281 275h0M184 255h0M206 404h0M159 344h0M311 293h0M325 479h0M308 165h0M265 422h0M236 196h0M381 468h0M226 435h0M386 397h0M191 244h0M348 222h0M309 291h0M345 208h0M376 432h0M324 272h0M505 453h0M258 468h0M294 227h0M230 398h0M307 250h0M317 304h0M459 498h0M419 419h0M362 272h0M365 469h0M166 272h0M291 382h0M309 281h0M293 393h0M157 322h0M425 456h0M379 449h0M302 250h0M510 465h0M169 355h0M410 470h0M338 402h0M257 387h0M281 391h0M241 231h0M203 443h0M384 503h0M273 404h0M497 479h0M342 305h0M206 462h0M147 248h0M343 395h0M246 196h0M242 422h0M279 385h0M395 381h0M294 340h0M209 227h0M246 202h0M232 326h0M249 195h0M267 331h0M448 437h0M316 279h0M391 507h0M469 479h0M257 394h0M293 240h0M213 429h0M396 448h0M301 285h0M329 360h0M348 197h0M517 459h0M370 416h0M281 389h0M387 393h0M321 474h0M273 430h0M172 387h0M135 254h0M288 276h0M337 206h0M203 397h0M412 468h0M217 439h0M355 345h0M389 404h0M367 495h0M400 531h0M182 239h0M224 455h0M259 428h0M397 401h0M349 441h0M455 491h0M444 528h0M329 433h0M278 394h0M309 339h0M304 317h0M493 436h0M154 231h0M284 197h0M343 228h0M365 385h0M268 369h0M351 283h0M162 235h0M470 501h0M476 492h0M204 228h0M227 298h0M511 432h0M392 474h0M231 433h0M183 368h0M373 482h0M409 517h0M212 360h0M248 255h0M443 427h0M289 467h0M411 418h0M520 499h0M473 506h0M197 450h0M244 372h0M223 265h0M272 416h0M329 418h0M220 384h0M169 296h0M283 476h0M207 360h0M149 263h0M148 304h0M394 381h0M463 420h0M290 167h0M337 491h0M336 311h0M463 511h0M445 508h0M365 484h0M318 233h0M359 253h0M323 257h0M217 389h0M289 386h0M313 393h0M238 403h0M160 271h0M258 454h0M246 385h0M391 491h0M313 355h0M266 213h0M285 185h0M225 281h0M471 486h0M352 304h0M278 166h0M226 404h0M408 395h0M443 444h0M326 383h0M417 493h0M267 149h0M318 405h0M182 355h0M241 460h0M370 370h0M317 357h0M278 221h0M358 356h0M283 416h0M436 490h0M354 456h0M313 264h0M163 242h0M213 343h0M274 324h0M246 217h0M336 225h0M178 273h0M494 458h0M160 225h0M463 494h0M399 434h0M405 394h0M345 456h0M385 388h0M282 282h0M314 312h0M255 209h0M444 426h0M186 435h0M443 499h0M166 251h0M500 433h0M320 433h0M341 266h0M285 358h0M337 261h0M303 444h0M233 224h0M369 373h0M413 541h0M306 224h0M239 322h0M348 365h0M464 509h0M494 499h0M362 355h0M242 324h0M244 356h0M173 251h0M272 460h0M235 360h0M414 412h0M282 440h0M258 232h0M271 168h0M322 272h0M313 152h0M284 187h0M284 212h0M284 382h0M333 475h0M280 285h0M255 346h0M223 338h0M275 402h0M348 351h0M295 423h0M226 401h0M353 451h0M251 279h0M371 487h0M340 426h0M265 211h0M386 376h0M196 325h0M479 478h0M391 482h0M393 500h0M201 408h0M269 310h0M471 477h0M398 459h0M281 305h0M486 427h0M241 311h0M378 380h0M244 229h0M330 219h0M321 196h0M463 489h0M369 421h0M292 317h0M515 505h0M356 286h0M461 509h0M220 386h0M246 321h0M148 283h0M449 442h0M467 461h0M300 319h0M318 329h0M223 435h0M250 427h0M481 426h0M458 436h0M219 295h0M329 442h0M287 335h0M234 312h0M266 170h0M263 459h0M311 454h0M198 407h0M311 305h0M180 327h0M428 473h0M183 324h0M211 339h0M433 515h0M312 170h0M285 202h0M294 242h0M280 180h0M308 295h0M312 251h0M247 288h0M309 213h0M257 202h0M356 230h0M349 262h0M338 483h0M285 349h0M161 273h0M477 486h0M274 360h0M301 378h0M320 337h0M342 488h0M185 307h0M199 378h0M150 246h0M487 427h0M241 466h0M498 518h0M326 475h0M430 423h0M344 270h0M346 214h0M228 328h0M294 225h0M420 401h0M452 451h0M424 522h0M432 404h0M412 506h0M315 449h0M469 469h0M192 428h0M252 313h0M278 269h0M428 475h0M358 354h0M319 295h0M390 433h0M279 187h0M178 236h0M276 262h0M223 350h0M317 362h0M412 480h0M163 283h0M224 479h0M390 413h0M300 261h0M378 468h0M190 248h0M246 355h0M156 324h0M419 486h0M255 373h0M430 458h0M381 396h0M513 503h0M299 461h0M224 428h0M311 196h0M282 437h0M333 481h0M272 421h0M259 344h0M284 393h0M238 411h0M208 428h0M325 277h0M415 507h0M360 233h0M417 519h0M227 289h0M269 211h0M369 366h0M211 466h0M256 226h0M223 322h0M176 255h0M299 177h0M144 291h0M420 416h0M309 239h0M374 451h0M324 226h0M441 476h0M269 374h0M347 262h0M343 409h0M409 467h0M365 342h0M291 264h0M469 501h0M471 427h0M353 381h0M255 370h0M446 421h0M511 497h0M314 303h0M306 344h0M321 439h0M267 388h0M159 258h0M220 385h0M360 360h0M313 184h0M287 178h0M247 269h0M264 197h0M139 220h0M399 409h0M287 294h0M265 301h0M145 224h0M211 451h0M268 265h0M278 177h0M290 339h0M311 243h0M265 209h0M446 411h0M228 204h0M283 279h0M370 442h0M299 218h0M509 464h0M257 375h0M285 227h0M159 344h0M322 403h0M261 225h0M394 487h0M275 299h0M269 308h0M272 345h0M259 280h0M347 408h0M461 419h0M254 336h0M217 369h0M162 336h0M328 349h0M243 313h0M313 210h0M332 421h0M214 442h0M307 215h0M242 374h0M187 389h0M329 276h0M311 458h0M270 317h0M205 385h0M357 229h0M396 392h0M388 511h0M241 466h0M233 353h0M255 369h0M336 212h0M151 325h0M493 521h0M391 487h0M239 317h0M336 349h0M297 165h0M160 271h0M204 430h0M349 306h0M367 503h0M370 373h0M313 255h0M172 224h0M190 437h0M261 436h0M262 421h0M329 384h0M176 284h0M356 388h0M229 289h0M331 452h0M292 429h0M397 382h0M184 236h0M209 461h0M267 305h0M403 394h0M216 341h0M190 430h0M306 191h0M361 349h0M216 259h0M402 451h0M259 451h0M321 325h0M422 539h0M265 467h0M513 459h0M263 327h0M467 505h0M277 204h0M174 288h0M495 521h0M325 212h0M329 381h0M477 446h0M313 429h0M260 203h0M425 481h0M270 307h0M459 498h0M312 452h0M254 249h0M156 273h0M364 216h0M366 482h0M465 481h0M415 464h0M433 431h0M251 292h0M284 453h0M257 439h0M467 526h0M336 363h0M357 290h0M334 269h0M330 346h0M147 293h0M211 370h0M384 410h0M258 400h0M219 238h0M285 237h0M358 245h0M295 445h0M300 159h0M284 246h0M214 217h0M243 298h0M360 296h0M435 505h0M449 461h0M259 430h0M209 348h0M398 478h0M270 302h0M291 310h0M416 516h0M290 189h0M217 457h0M353 331h0M352 287h0M366 433h0M255 239h0M203 447h0M504 447h0M191 253h0M330 362h0M326 305h0M161 268h0M404 387h0M202 215h0M188 240h0M224 429h0M523 500h0M224 394h0M245 301h0M347 229h0M332 335h0M307 407h0M386 462h0M255 332h0M447 443h0M218 386h0M200 362h0M335 382h0M294 283h0M395 493h0M205 260h0M291 229h0M280 338h0M263 234h0M380 408h0M227 308h0M429 525h0M483 430h0M345 296h0M275 468h0M369 362h0M329 240h0M221 371h0M303 180h0M209 454h0M146 238h0M349 235h0M279 323h0M299 175h0M223 335h0M246 371h0M320 401h0M221 474h0M389 444h0M359 470h0M163 305h0M154 315h0M327 224h0M473 486h0M301 204h0M173 322h0M310 168h0M216 438h0M323 337h0M242 317h0M276 264h0M253 439h0M261 475h0M516 503h0M240 373h0M329 263h0M277 277h0M204 360h0M299 286h0M387 465h0M313 334h0M268 239h0M276 330h0M330 403h0M261 310h0M285 328h0M269 435h0M269 220h0M358 276h0M304 213h0M205 362h0M136 240h0M281 461h0M305 218h0M259 339h0M283 304h0M208 456h0M472 493h0M438 515h0M240 308h0M179 293h0M279 182h0M490 453h0M377 413h0M303 183h0M167 338h0M297 381h0M283 267h0M284 149h0M233 361h0M338 180h0M313 191h0M409 480h0M328 360h0M171 225h0M199 255h0M495 477h0M333 345h0M376 432h0M149 249h0M198 240h0M255 244h0M330 183h0M263 290h0M303 171h0M284 436h0M254 276h0M327 443h0M251 299h0M185 378h0M459 448h0M320 359h0M335 307h0M275 264h0M345 248h0M356 219h0M204 360h0M172 229h0M150 314h0M295 419h0M149 241h0M280 285h0M168 229h0M403 516h0M361 292h0M352 442h0M227 299h0M320 454h0M264 322h0M502 464h0M508 468h0M273 236h0M338 370h0M452 469h0M323 420h0M368 485h0M432 522h0M312 407h0M349 235h0M451 512h0M309 177h0M478 488h0M305 370h0M167 246h0M309 305h0M275 329h0M467 441h0M219 465h0M361 465h0M437 511h0M345 214h0M331 261h0M329 336h0M208 211h0M149 265h0M472 432h0M337 480h0M302 399h0M232 337h0M327 255h0M297 262h0M286 178h0M305 405h0M324 470h0M150 318h0M184 235h0M282 264h0M169 241h0M303 448h0M303 303h0M301 226h0M294 284h0M352 260h0M324 202h0M379 474h0M278 149h0M371 501h0M334 436h0M332 263h0M287 393h0M342 247h0M316 259h0M276 342h0M320 417h0M312 260h0M146 290h0M474 419h0M516 445h0M181 293h0M365 379h0M366 422h0M338 308h0M267 373h0M268 341h0M305 151h0M325 345h0M228 300h0M399 448h0M282 214h0M475 514h0M368 480h0M400 391h0M459 468h0M369 368h0M268 262h0M154 301h0M214 373h0M345 319h0M400 481h0M505 474h0M243 364h0M363 358h0M176 340h0M160 231h0M262 402h0M264 475h0M165 338h0M495 466h0M359 284h0M338 235h0M257 247h0M478 473h0M180 389h0M306 412h0M279 197h0M211 401h0M344 334h0M348 435h0M328 203h0M357 241h0M472 473h0M270 420h0M185 242h0M349 247h0M388 507h0M433 436h0M418 412h0M214 394h0M409 493h0M406 447h0M249 259h0M345 225h0M199 381h0M142 243h0M191 308h0M498 523h0M372 391h0M281 329h0M318 366h0M357 319h0M358 226h0M339 463h0M217 350h0M383 495h0M229 306h0M316 403h0M523 506h0M144 289h0M286 145h0M269 165h0M417 471h0M279 250h0M357 292h0M211 466h0M265 226h0M300 265h0M233 303h0M332 238h0M363 500h0M146 283h0M279 349h0M288 401h0M162 327h0M445 418h0M225 460h0M509 448h0M424 470h0M415 487h0M217 361h0M261 449h0M398 500h0M450 437h0M152 291h0M410 411h0M148 261h0M310 304h0M302 404h0M451 461h0M325 236h0M362 489h0M314 169h0M272 312h0M276 381h0M213 359h0M332 274h0M490 426h0M514 438h0M364 284h0M443 480h0M377 504h0M305 250h0M134 237h0M340 236h0M282 257h0M192 416h0M154 335h0M412 395h0M334 376h0M255 399h0M178 254h0M320 395h0M302 260h0M365 379h0M204 261h0M475 476h0M277 469h0M341 279h0M315 378h0M389 465h0M454 476h0M280 147h0M243 472h0M215 410h0M461 453h0M328 164h0M255 227h0M454 510h0M182 366h0M212 456h0M402 497h0M398 507h0M489 440h0M291 464h0M170 339h0M322 245h0M326 370h0M365 257h0M206 259h0M223 481h0M382 493h0M396 436h0M350 227h0M435 501h0M399 419h0M352 287h0M424 457h0M392 472h0M351 410h0M352 276h0M220 281h0M329 437h0M323 219h0M169 233h0M347 474h0M327 270h0M342 382h0M198 232h0M318 448h0M426 486h0M169 360h0M459 467h0M340 250h0M247 379h0M301 250h0M283 316h0M331 374h0M374 420h0M340 331h0M197 365h0M330 419h0M223 376h0M166 237h0M217 214h0M361 309h0M269 376h0M358 470h0M352 371h0M501 444h0M330 369h0M412 514h0M400 504h0M342 341h0M243 193h0M228 401h0M156 258h0M148 257h0M299 401h0M193 444h0M193 371h0M329 310h0M371 424h0M175 322h0M431 484h0M165 343h0M265 201h0M278 157h0M152 325h0M255 397h0M234 481h0M273 373h0M460 433h0M297 281h0M479 497h0M316 384h0M198 389h0M312 241h0M306 365h0M167 221h0M216 377h0M343 252h0M169 254h0M251 300h0M299 408h0M312 352h0M380 372h0M230 372h0M405 418h0M195 441h0M288 170h0M219 205h0M434 500h0M367 323h0M324 394h0M315 187h0M205 415h0M457 511h0M369 344h0M404 484h0M355 257h0M331 352h0M369 446h0M426 487h0M273 272h0M300 156h0M330 222h0M370 483h0M184 301h0M176 316h0M268 436h0M268 197h0M407 511h0M240 363h0M471 521h0M294 458h0M234 328h0M274 275h0M266 202h0M298 446h0M424 459h0M384 424h0M389 446h0M386 459h0M150 323h0M313 299h0M289 377h0M372 390h0M277 228h0M438 522h0M226 432h0M247 402h0M377 476h0M296 187h0M283 287h0M219 408h0M171 365h0M348 201h0M442 460h0M281 431h0M373 504h0M220 429h0M362 445h0M399 417h0M306 237h0M353 453h0M212 256h0M269 159h0M480 516h0M149 262h0M148 281h0M171 311h0M393 495h0M338 216h0M277 427h0M153 281h0M474 487h0M291 248h0M306 404h0M213 454h0M271 293h0M287 333h0M261 300h0M433 450h0M319 188h0M317 196h0M211 392h0M252 464h0M246 316h0M346 422h0M309 245h0M196 239h0M217 270h0M433 480h0M245 328h0M360 378h0M381 367h0M400 484h0M297 147h0M362 231h0M295 242h0M150 229h0M329 471h0M295 420h0M283 394h0M346 192h0M322 428h0M313 427h0M231 298h0M505 438h0M175 360h0M322 341h0M342 382h0M415 430h0M408 408h0M386 482h0M310 247h0M265 295h0M156 319h0M488 498h0M275 291h0M214 315h0M355 387h0M329 444h0M354 491h0M279 225h0M261 451h0M362 420h0M374 451h0M222 448h0M219 307h0M302 320h0M294 187h0M386 498h0M351 347h0M282 312h0M349 302h0M211 380h0M160 273h0M449 440h0M363 282h0M275 237h0M392 395h0M217 284h0M319 286h0M301 465h0M314 459h0M296 263h0M314 272h0M257 326h0M348 279h0M453 416h0M368 462h0M316 384h0M170 314h0M475 526h0M310 341h0M318 178h0M225 339h0M252 469h0M452 416h0M316 183h0M275 427h0M234 363h0M235 426h0M232 209h0M278 472h0M368 435h0M160 241h0M281 329h0M141 242h0M313 161h0M217 335h0M397 446h0M274 394h0M402 534h0M307 333h0M198 463h0M373 458h0M362 261h0M300 202h0M352 266h0M486 464h0M231 362h0M300 303h0M326 389h0M391 333h0M389 323h0M383 325h0M381 323h0M386 321h0M429 353h0M428 359h0M448 363h0M406 367h0M449 364h0M433 362h0M425 354h0M449 360h0M426 359h0M439 360h0M417 356h0M410 366h0M426 355h0M406 336h0M425 344h0M435 386h0M200 212h0M206 210h0M467 351h0M479 350h0M711 104h0M703 232h0M697 168h0M710 97h0M739 149h0M694 95h0M693 139h0M727 149h0M732 184h0M701 111h0M547 394h0M538 395h0M555 382h0M552 378h0M539 410h0M539 407h0M558 383h0M531 415h0M560 377h0M536 411h0M544 412h0M525 424h0M553 390h0M555 386h0M519 421h0M551 382h0M545 402h0M540 401h0M552 359h0M542 398h0M535 397h0M533 409h0M557 386h0M550 369h0M535 415h0M563 375h0M519 418h0M554 362h0M550 406h0M539 393h0M526 408h0M550 400h0M532 414h0M533 413h0M536 410h0M562 369h0M555 372h0M552 387h0M539 391h0M535 411h0M521 523h0M524 532h0M526 541h0M528 550h0M530 560h0M531 567h0M547 619h0M540 587h0M532 583h0M538 668h0M538 630h0M546 623h0M538 647h0M540 609h0M537 583h0M537 659h0M543 653h0M534 600h0M533 659h0M545 600h0M546 615h0M538 667h0M530 595h0M530 598h0M528 595h0M543 613h0M530 606h0M532 609h0M531 644h0M546 595h0M533 632h0M545 590h0M541 581h0M531 585h0M544 606h0M539 578h0M531 638h0M548 620h0M542 607h0M539 653h0M550 617h0M549 614h0M550 601h0M530 591h0M537 661h0M542 651h0M531 595h0M536 603h0M540 587h0M549 628h0M538 669h0M545 598h0M534 589h0M548 609h0M549 606h0M537 578h0M532 643h0M531 609h0M539 628h0M542 586h0M536 590h0M541 650h0M531 640h0M537 638h0M539 586h0M544 618h0M542 648h0M539 655h0M532 586h0M536 652h0M534 649h0M538 617h0M535 594h0M545 599h0M539 634h0M530 622h0M605 579h0M572 559h0M581 584h0M558 545h0M587 578h0M563 550h0M565 549h0M564 560h0M567 563h0M582 584h0M567 555h0M573 565h0M582 573h0M578 577h0M597 578h0M585 573h0M577 564h0M562 550h0M602 587h0M606 586h0M567 559h0M598 583h0M574 575h0M582 566h0M594 574h0M550 539h0M559 534h0M390 552h0"/><path stroke="#234eb1" d="M291 246h0M331 169h0M327 293h0M143 294h0M310 396h0M459 478h0M147 283h0M232 453h0M405 519h0M304 410h0M407 431h0M174 380h0M247 324h0M183 364h0M138 267h0M416 470h0M239 362h0M358 297h0M246 439h0M238 422h0M471 430h0M263 374h0M196 223h0M251 364h0M183 388h0M384 397h0M454 400h0"/><path stroke="#2671a1" d="M272 429h0M180 237h0M212 212h0M230 290h0M329 355h0M201 379h0M480 525h0M231 449h0M466 495h0M218 338h0M241 439h0M248 462h0M218 475h0M161 320h0M179 319h0M235 273h0M365 221h0M339 418h0M227 272h0M364 455h0M235 319h0M356 279h0M240 452h0M194 232h0M324 200h0M155 242h0M267 230h0M319 337h0M501 481h0M216 467h0M214 208h0M184 359h0M287 441h0M257 472h0M306 462h0"/><path stroke="#289393" d="M225 409h0M277 351h0M166 342h0M224 393h0M231 283h0M212 349h0M483 477h0M250 445h0M167 347h0M241 377h0M322 288h0M356 315h0M210 440h0M340 332h0M201 255h0M175 349h0M239 328h0M508 466h0M137 231h0M265 349h0M236 203h0M242 337h0M355 276h0M251 273h0M316 176h0M233 468h0M361 264h0M287 381h0"/><path stroke="#28b184" d="M248 270h0M205 457h0M203 393h0M263 178h0M208 216h0M259 366h0M317 391h0M382 368h0M241 321h0M250 210h0M221 356h0M206 208h0M374 386h0M517 489h0M344 438h0M153 235h0M335 332h0M348 312h0M206 450h0M452 374h0"/><path stroke="#2fd169" d="M383 435h0M349 397h0M363 451h0M404 433h0M411 487h0M365 414h0M628 209h0M388 613h0M367 570h0M380 636h0M374 581h0M389 607h0"/><path stroke="#43e84a" d="M396 496h0M489 422h0M370 434h0M345 417h0M366 442h0M513 472h0M328 416h0M355 420h0M372 432h0M347 431h0M458 437h0M348 420h0M423 451h0M356 435h0M376 413h0M429 529h0M422 448h0M338 428h0M464 437h0M409 440h0M342 436h0M390 526h0M387 414h0M387 454h0M520 512h0M349 436h0M367 435h0M368 428h0M394 420h0M378 401h0M630 112h0M607 254h0M738 152h0M664 110h0M572 255h0M688 186h0M711 189h0M683 93h0M561 248h0M559 206h0M570 153h0M547 273h0M561 101h0M630 167h0M540 228h0M600 237h0M699 197h0M581 239h0M560 237h0M620 244h0M648 250h0M610 121h0M572 104h0M611 162h0M672 159h0M524 256h0M542 188h0M592 108h0M525 147h0M574 242h0M726 207h0M548 146h0M650 177h0M701 209h0M707 175h0M580 303h0M652 108h0M645 216h0M721 172h0M703 220h0M583 100h0M660 128h0M688 87h0M568 248h0M633 245h0M645 125h0M639 240h0M682 234h0M677 155h0M589 222h0M709 134h0M525 174h0M611 189h0M714 112h0M616 159h0M524 291h0M625 149h0M567 201h0M585 289h0M523 209h0M546 303h0M672 117h0M593 164h0M556 231h0M597 104h0M619 105h0M717 190h0M683 219h0M577 274h0M639 86h0M616 94h0M583 246h0M571 270h0M563 235h0M526 297h0M674 247h0M634 82h0M571 100h0M718 121h0M591 111h0M665 107h0M688 226h0M628 267h0M520 292h0M695 129h0M716 232h0M698 183h0M575 173h0M725 142h0M569 297h0M578 185h0M580 230h0M715 154h0M608 189h0M552 168h0M571 189h0M709 126h0M566 226h0M585 267h0M596 90h0M584 151h0M605 217h0M627 175h0M624 138h0M565 152h0M525 211h0M574 127h0M577 142h0M585 98h0M682 90h0M526 150h0M701 121h0M527 202h0M577 143h0M662 100h0M628 215h0M563 298h0M621 229h0M582 221h0M647 164h0M614 90h0M549 209h0M620 243h0M637 239h0M589 136h0M526 257h0M646 252h0M564 130h0M636 134h0M611 165h0M697 166h0M672 199h0M644 185h0M582 276h0M655 253h0M585 89h0M707 152h0M597 231h0M613 129h0M576 185h0M658 124h0M679 190h0M555 204h0M534 140h0M665 86h0M612 208h0M623 242h0M731 227h0M567 276h0M669 201h0M645 149h0M650 254h0M681 175h0M704 212h0M582 122h0M548 180h0M608 85h0M604 155h0M647 258h0M618 93h0M597 130h0M581 117h0M624 242h0M682 121h0M719 185h0M517 270h0M535 159h0M570 171h0M583 136h0M530 244h0M590 233h0M533 261h0M642 142h0M659 254h0M586 144h0M605 158h0M540 304h0M669 167h0M638 265h0M600 228h0M549 172h0M633 156h0M598 86h0M586 135h0M686 127h0M587 215h0M631 124h0M717 175h0M541 135h0M606 138h0M589 121h0M577 235h0M576 196h0M535 132h0M724 131h0M577 195h0M522 296h0M635 251h0M725 235h0M655 252h0M636 171h0M654 148h0M565 242h0M656 177h0M631 115h0M685 220h0M629 102h0M603 279h0M628 226h0M618 204h0M579 141h0M685 169h0M684 179h0M639 217h0M653 139h0M633 246h0M595 84h0M566 276h0M711 111h0M662 130h0M678 245h0M642 109h0M548 238h0M681 151h0M641 230h0M603 150h0M591 184h0M566 167h0M544 309h0M565 163h0M664 224h0M586 149h0M522 280h0M653 161h0M600 227h0M591 300h0M617 197h0M583 248h0M566 203h0M721 225h0M714 158h0M548 201h0M647 168h0M683 159h0M607 260h0M565 153h0M597 156h0M603 274h0M532 197h0M552 190h0M583 226h0M708 144h0M672 173h0M674 188h0M610 237h0M576 215h0M606 289h0M714 213h0M675 172h0M589 197h0M599 122h0M687 212h0M573 127h0M555 303h0M577 244h0M556 243h0M523 212h0M529 141h0M548 224h0M734 224h0M554 224h0M576 216h0M605 146h0M706 176h0M532 293h0M558 253h0M639 119h0M634 257h0M562 208h0M716 119h0M594 148h0M562 294h0M720 217h0M582 215h0M525 195h0M543 224h0M592 126h0M566 263h0M535 242h0M572 88h0M651 197h0M526 147h0M677 201h0M616 159h0M566 270h0M544 302h0M698 101h0M695 170h0M581 167h0M618 132h0M556 141h0M721 175h0M608 176h0M677 237h0M543 255h0M605 177h0M578 270h0M636 90h0M605 150h0M581 111h0M644 196h0M551 230h0M672 113h0M711 96h0M609 136h0M564 294h0M538 123h0M621 187h0M555 297h0M649 228h0M527 299h0M514 289h0M634 243h0M656 86h0M526 193h0M666 237h0M579 196h0M700 149h0M602 169h0M689 219h0M597 77h0M638 229h0M528 153h0M530 168h0M595 169h0M611 139h0M658 135h0M613 212h0M584 257h0M547 271h0M691 133h0M574 128h0M591 189h0M526 160h0M723 136h0M584 230h0M669 176h0M693 95h0M589 114h0M555 141h0M584 87h0M672 241h0M689 95h0M685 104h0M590 205h0M677 172h0M622 261h0M594 175h0M631 122h0M552 222h0M627 245h0M647 171h0M600 278h0M544 245h0M653 172h0M528 219h0M665 246h0M721 227h0M667 203h0M649 191h0M666 226h0M598 132h0M675 83h0M638 102h0M658 175h0M596 96h0M584 275h0M542 238h0M527 142h0M649 106h0M567 101h0M686 118h0M611 259h0M674 223h0M678 167h0M624 139h0M571 150h0M620 277h0M669 102h0M532 286h0M564 108h0M588 218h0M611 201h0M603 210h0M684 172h0M689 209h0M680 191h0M623 220h0M681 210h0M707 167h0M663 182h0M574 110h0M665 228h0M641 174h0M642 209h0M616 178h0M553 106h0M710 181h0M692 219h0M622 251h0M570 94h0M578 109h0M664 188h0M603 171h0M653 224h0M579 144h0M538 176h0M668 246h0M641 158h0M568 152h0M640 214h0M698 128h0M589 122h0M603 202h0M567 143h0M616 225h0M621 205h0M599 88h0M599 161h0M733 225h0M589 300h0M682 90h0M727 185h0M567 103h0M717 216h0M728 195h0M567 276h0M678 166h0M711 155h0M686 98h0M592 165h0M698 168h0M570 150h0M703 231h0M588 236h0M521 290h0M618 181h0M599 128h0M652 153h0M668 155h0M547 159h0M641 188h0M625 95h0M574 270h0M529 201h0M530 284h0M620 244h0M588 131h0M632 129h0M715 171h0M650 241h0M702 230h0M564 292h0M654 144h0M499 339h0M491 338h0M525 321h0M505 320h0M502 321h0M499 335h0M525 326h0M514 315h0M558 333h0M562 339h0M574 336h0M383 610h0M376 613h0M361 567h0M378 603h0M377 580h0M387 592h0M376 592h0M384 630h0M392 610h0M368 568h0M357 573h0M390 594h0M380 582h0M389 639h0M348 565h0M365 567h0M388 632h0M380 632h0M378 598h0M384 610h0M374 588h0M383 604h0M377 595h0M385 609h0M373 586h0M391 603h0M374 598h0M366 587h0M381 624h0M355 573h0M377 593h0M353 567h0M390 624h0M370 574h0M367 591h0M381 603h0M392 622h0M382 592h0M359 574h0M387 605h0M386 635h0M379 585h0M378 600h0M369 593h0M380 600h0M388 625h0M370 579h0M384 595h0M380 594h0M383 612h0M356 566h0M387 643h0M386 644h0M378 603h0M387 591h0M550 610h0M538 665h0M604 587h0M587 580h0M580 572h0M582 582h0M576 570h0M575 571h0M569 565h0"/><path stroke="#7aee33" d="M399 536h0M444 467h0M369 409h0M470 465h0M511 464h0M426 470h0M384 459h0M451 479h0M361 431h0M498 431h0M388 491h0M364 447h0M401 516h0M392 408h0M333 414h0M421 421h0M364 431h0M404 411h0M391 424h0M603 148h0M578 300h0M644 115h0M655 247h0M635 120h0M536 183h0M615 132h0M536 290h0M724 117h0M680 227h0M528 231h0M713 147h0M537 271h0M571 271h0M590 301h0M666 204h0M535 243h0M614 150h0M659 209h0M690 237h0M616 204h0M629 142h0M604 100h0M517 271h0M669 181h0M612 175h0M533 180h0M553 164h0M677 183h0M531 238h0M544 128h0M587 272h0M639 164h0M566 93h0M689 198h0M617 272h0M531 254h0M564 162h0M677 145h0M595 206h0M708 104h0M589 92h0M680 218h0M719 195h0M664 94h0M707 167h0M568 308h0M645 257h0M632 170h0M535 217h0M634 165h0M548 151h0M670 192h0M529 170h0M622 147h0M665 176h0M665 130h0M732 147h0M586 236h0M687 139h0M619 248h0M694 153h0M597 230h0M716 183h0M617 146h0M671 195h0M571 245h0M540 243h0M621 120h0M695 128h0M556 195h0M610 172h0M555 116h0M532 296h0M629 241h0M553 216h0M732 128h0M585 171h0M569 236h0M537 222h0M645 188h0M549 224h0M582 179h0M520 270h0M620 106h0M563 237h0M682 163h0M637 173h0M608 205h0M595 146h0M569 118h0M645 152h0M556 130h0M564 283h0M595 143h0M653 130h0M663 220h0M552 153h0M564 256h0M602 208h0M571 236h0M530 133h0M552 157h0M597 259h0M593 273h0M699 149h0M650 105h0M546 131h0M559 181h0M588 288h0M593 130h0M601 238h0M594 212h0M700 122h0M609 223h0M678 101h0M612 178h0M664 106h0M535 206h0M682 243h0M587 196h0M540 148h0M682 113h0M633 149h0M657 175h0M646 100h0M557 185h0M587 166h0M710 96h0M602 233h0M557 276h0M634 218h0M665 187h0M602 280h0M698 100h0M649 196h0M588 217h0M620 148h0M604 237h0M571 146h0M691 233h0M638 242h0M599 125h0M675 171h0M725 137h0M609 115h0M729 220h0M578 152h0M726 190h0M539 131h0M525 176h0M552 170h0M655 98h0M602 225h0M608 87h0M554 163h0M527 152h0M656 135h0M634 245h0M698 220h0M727 182h0M647 168h0M603 282h0M561 106h0M546 177h0M556 197h0M548 168h0M657 112h0M657 213h0M658 248h0M596 182h0M721 164h0M609 82h0M701 217h0M553 211h0M735 136h0M552 189h0M617 268h0M610 104h0M631 115h0M570 224h0M621 231h0M717 121h0M674 209h0M597 106h0M714 147h0M536 258h0M719 156h0M644 131h0M578 261h0M575 255h0M587 105h0M695 148h0M619 147h0M623 144h0M652 87h0M542 157h0M541 263h0M642 215h0M617 140h0M613 196h0M652 134h0M716 98h0M666 177h0M526 150h0M655 112h0M681 234h0M675 211h0M684 130h0M612 100h0M688 227h0M547 216h0M659 140h0M681 134h0M684 165h0M690 168h0M691 95h0M609 84h0M565 148h0M721 227h0M576 131h0M551 106h0M687 225h0M658 148h0M557 181h0M585 238h0M528 205h0M619 93h0M589 241h0M712 179h0M572 198h0M681 163h0M599 100h0M710 175h0M681 138h0M702 167h0M564 102h0M670 215h0M686 186h0M580 131h0M557 150h0M619 176h0M618 220h0M626 144h0M588 270h0M643 251h0M717 206h0M620 204h0M683 224h0M540 158h0M698 146h0M564 225h0M581 89h0M590 232h0M659 236h0M586 192h0M581 243h0M527 235h0M694 154h0M523 201h0M601 104h0M564 98h0M563 246h0M556 267h0M684 100h0M677 196h0M678 152h0M596 135h0M629 174h0M591 135h0M544 222h0M538 214h0M611 145h0M570 176h0M558 245h0M620 171h0M725 229h0M733 157h0M593 175h0M682 93h0M587 181h0M627 247h0M710 112h0M705 198h0M645 222h0M657 210h0M594 124h0M541 231h0M728 135h0M547 217h0M722 114h0M541 221h0M622 256h0M550 237h0M550 270h0M551 110h0M686 197h0M620 106h0M657 179h0M637 214h0M601 236h0M735 187h0M589 126h0M586 163h0M564 110h0M562 187h0M595 83h0M594 121h0M629 173h0M634 96h0M626 121h0M602 182h0M580 183h0M578 300h0M628 212h0M630 105h0M687 130h0M644 190h0M642 143h0M706 118h0M542 261h0M595 256h0M624 240h0M600 145h0M577 131h0M591 219h0M600 129h0M530 203h0M700 224h0M524 256h0M686 203h0M576 290h0M574 94h0M589 270h0M626 161h0M710 204h0M619 108h0M631 220h0M677 142h0M589 193h0M569 100h0M607 287h0M708 198h0M574 155h0M590 173h0M617 87h0M598 289h0M628 180h0M581 107h0M699 88h0M684 112h0M555 134h0M612 236h0M567 110h0M603 284h0M684 199h0M697 236h0M672 157h0M681 101h0M630 214h0M599 177h0M732 192h0M618 257h0M524 238h0M534 210h0M566 223h0M611 208h0M632 241h0M596 104h0M724 230h0M616 234h0M638 109h0M697 112h0M600 290h0M711 130h0M515 276h0M582 144h0M586 283h0M613 148h0M732 158h0M576 148h0M641 258h0M600 211h0M641 151h0M593 237h0M579 245h0M672 84h0M632 271h0M641 152h0M644 135h0M637 264h0M625 171h0M594 96h0M609 248h0M615 167h0M601 95h0M672 173h0M559 186h0M645 141h0M541 146h0M632 105h0M690 174h0M608 256h0M677 157h0M651 247h0M731 131h0M545 262h0M604 236h0M572 313h0M562 246h0M599 282h0M608 187h0M520 277h0M565 244h0M664 248h0M675 177h0M683 116h0M564 164h0M641 83h0M696 204h0M657 222h0M531 195h0M675 225h0M615 105h0M695 106h0M547 204h0M579 110h0M572 274h0M619 272h0M712 156h0M653 163h0M637 147h0M705 195h0M578 85h0M724 110h0M690 163h0M611 172h0M522 299h0M743 195h0M543 252h0M590 304h0M655 119h0M648 108h0M646 105h0M621 223h0M627 136h0M561 237h0M607 201h0M725 212h0M560 140h0M551 183h0M638 142h0M595 93h0M566 296h0M529 198h0M648 158h0M686 97h0M563 115h0M686 166h0M590 232h0M649 250h0M684 216h0M737 159h0M632 112h0M574 265h0M645 146h0M575 190h0M656 148h0M602 92h0M537 212h0M577 173h0M564 120h0M654 256h0M670 205h0M568 219h0M578 115h0M599 229h0M534 139h0M606 83h0M604 97h0M633 122h0M661 247h0M737 207h0M535 188h0M581 143h0M636 192h0M558 150h0M574 114h0M662 103h0M628 211h0M624 238h0M586 111h0M548 109h0M608 145h0M570 230h0M554 274h0M694 151h0M584 225h0M644 215h0M628 102h0M617 102h0M564 201h0M636 206h0M582 281h0M564 183h0M615 204h0M652 108h0M720 146h0M655 197h0M582 129h0M562 185h0M577 132h0M652 140h0M584 137h0M581 161h0M667 195h0M596 146h0M619 162h0M533 285h0M667 208h0M606 273h0M526 151h0M599 176h0M553 125h0M594 219h0M626 110h0M588 266h0M679 144h0M639 84h0M688 114h0M667 182h0M669 190h0M587 219h0M595 237h0M538 245h0M666 249h0M556 120h0M725 195h0M609 138h0M523 186h0M619 248h0M609 195h0M562 305h0M663 232h0M638 259h0M728 167h0M609 81h0M712 228h0M536 231h0M526 413h0M545 390h0M546 392h0M528 421h0M488 338h0M516 328h0M519 327h0M505 333h0M509 327h0M506 332h0M517 327h0M500 337h0M536 313h0M500 324h0M524 320h0M519 332h0M509 322h0M508 316h0M506 341h0M508 338h0M534 322h0M513 338h0M517 330h0M523 329h0M548 326h0M533 334h0M505 291h0M515 301h0M556 287h0M349 571h0M390 594h0M387 604h0M370 571h0M380 588h0M352 563h0M379 597h0M381 587h0M391 617h0M390 616h0M385 647h0"/><path stroke="#b2f022" d="M566 249h0M625 117h0M621 181h0M557 137h0M638 192h0M674 163h0M525 154h0M710 170h0M701 205h0M714 212h0M618 257h0M645 243h0M628 209h0M522 199h0M722 143h0M552 198h0M572 282h0M675 220h0M635 252h0M606 218h0M532 136h0M536 225h0M637 89h0M646 179h0M549 246h0M539 152h0M539 187h0M636 240h0M577 119h0M721 109h0M732 183h0M605 185h0M647 167h0M719 157h0M657 221h0M538 154h0M724 116h0M600 293h0M722 121h0M692 185h0M684 192h0M739 187h0M571 247h0M666 135h0M600 180h0M600 179h0M574 247h0M553 240h0M667 81h0M552 218h0M673 144h0M627 117h0M580 169h0M603 110h0M582 310h0M553 197h0M737 147h0M635 252h0M595 197h0M592 176h0M564 262h0M646 91h0M666 171h0M547 210h0M548 269h0M613 227h0M549 187h0M554 155h0M556 178h0M667 177h0M727 156h0M645 174h0M565 268h0M658 114h0M538 215h0M714 221h0M663 229h0M613 173h0M684 244h0M585 309h0M526 289h0M692 235h0M673 240h0M696 167h0M637 222h0M661 124h0M620 105h0M550 213h0M522 427h0M542 399h0M520 426h0M525 414h0M541 414h0M558 360h0M544 403h0M541 341h0"/><path stroke="#ddf021" d="M597 178h0M538 137h0M567 291h0M583 121h0M741 216h0"/></g>
<g transform="translate(1060.56,413.70) scale(0.43)" fill="none" stroke-linecap="round" stroke-width="10.12"><path stroke="#260e83" d="M393 515h0M354 439h0M506 479h0M426 467h0M225 409h0M436 416h0M248 270h0M478 488h0M396 443h0M410 457h0M381 491h0M389 512h0M363 316h0M317 306h0M475 484h0M392 385h0M279 189h0M430 405h0M325 415h0M388 524h0M165 334h0M402 466h0M312 208h0M484 507h0M510 502h0M452 525h0M467 469h0M275 218h0M402 517h0M490 453h0M458 487h0M457 458h0M308 234h0M459 445h0M433 411h0M445 457h0M260 195h0M391 427h0M276 168h0M289 170h0M405 405h0M420 431h0M478 521h0M422 461h0M402 504h0M413 423h0M405 419h0M405 519h0M153 318h0M419 451h0M443 493h0M462 526h0M307 451h0M420 504h0M400 454h0M479 498h0M485 441h0M466 501h0M439 463h0M318 379h0M457 436h0M505 453h0M294 227h0M459 498h0M166 272h0M309 281h0M302 250h0M147 248h0M448 437h0M469 479h0M396 448h0M203 397h0M412 468h0M365 385h0M511 432h0M443 427h0M445 508h0M258 454h0M391 491h0M278 166h0M241 460h0M313 264h0M463 494h0M399 434h0M275 402h0M479 478h0M391 482h0M407 431h0M498 518h0M279 187h0M430 458h0M513 503h0M415 507h0M420 416h0M469 501h0M446 411h0M451 479h0M394 487h0M217 369h0M357 229h0M388 511h0M391 487h0M402 451h0M433 431h0M219 238h0M435 505h0M447 443h0M395 493h0M429 525h0M299 175h0M409 480h0M459 448h0M401 516h0M452 469h0M305 370h0M437 511h0M149 265h0M169 241h0M301 226h0M516 445h0M338 308h0M475 514h0M478 473h0M472 473h0M498 523h0M450 437h0M364 431h0M435 501h0M426 486h0M330 419h0M501 444h0M412 514h0M400 504h0M460 433h0M288 170h0M404 484h0M386 459h0M277 228h0M171 365h0M442 460h0M361 264h0M338 216h0M474 487h0M400 484h0M505 438h0M322 341h0M415 430h0M408 408h0M386 498h0M475 526h0M425 344h0M630 112h0M603 148h0M607 254h0M578 300h0M635 120h0M536 183h0M738 152h0M664 110h0M572 255h0M688 186h0M711 189h0M683 93h0M615 132h0M597 178h0M536 290h0M724 117h0M680 227h0M561 248h0M528 231h0M713 147h0M559 206h0M570 153h0M547 273h0M537 271h0M566 249h0M571 271h0M561 101h0M590 301h0M630 167h0M666 204h0M535 243h0M540 228h0M659 209h0M600 237h0M699 197h0M581 239h0M690 237h0M616 204h0M629 142h0M560 237h0M604 100h0M620 244h0M517 271h0M669 181h0M612 175h0M648 250h0M625 117h0M610 121h0M533 180h0M553 164h0M572 104h0M611 162h0M677 183h0M531 238h0M544 128h0M587 272h0M672 159h0M639 164h0M566 93h0M621 181h0M689 198h0M617 272h0M531 254h0M524 256h0M557 137h0M564 162h0M542 188h0M592 108h0M525 147h0M574 242h0M726 207h0M548 146h0M650 177h0M677 145h0M595 206h0M638 192h0M708 104h0M589 92h0M680 218h0M701 209h0M674 163h0M707 175h0M580 303h0M711 104h0M525 154h0M652 108h0M645 216h0M719 195h0M721 172h0M703 220h0M538 137h0M664 94h0M710 170h0M707 167h0M583 100h0M660 128h0M568 308h0M688 87h0M701 205h0M645 257h0M632 170h0M568 248h0M633 245h0M645 125h0M535 217h0M639 240h0M634 165h0M548 151h0M682 234h0M677 155h0M670 192h0M589 222h0M529 170h0M709 134h0M525 174h0M611 189h0M622 147h0M665 176h0M714 112h0M616 159h0M665 130h0M732 147h0M586 236h0M687 139h0M619 248h0M694 153h0M714 212h0M524 291h0M597 230h0M716 183h0M617 146h0M671 195h0M625 149h0M571 245h0M567 201h0M585 289h0M523 209h0M546 303h0M618 257h0M540 243h0M672 117h0M593 164h0M695 128h0M556 231h0M597 104h0M556 195h0M619 105h0M717 190h0M610 172h0M555 116h0M532 296h0M683 219h0M629 241h0M577 274h0M553 216h0M645 243h0M732 128h0M639 86h0M585 171h0M569 236h0M537 222h0M645 188h0M616 94h0M583 246h0M571 270h0M563 235h0M549 224h0M526 297h0M582 179h0M674 247h0M520 270h0M571 100h0M620 106h0M563 237h0M591 111h0M665 107h0M682 163h0M688 226h0M628 267h0M520 292h0M637 173h0M608 205h0M695 129h0M716 232h0M595 146h0M698 183h0M575 173h0M569 118h0M725 142h0M645 152h0M569 297h0M628 209h0M578 185h0M556 130h0M580 230h0M715 154h0M564 283h0M595 143h0M522 199h0M653 130h0M663 220h0M552 153h0M564 256h0M602 208h0M571 236h0M608 189h0M722 143h0M552 168h0M571 189h0M709 126h0M530 133h0M566 226h0M697 168h0M585 267h0M596 90h0M584 151h0M552 157h0M597 259h0M605 217h0M627 175h0M624 138h0M565 152h0M593 273h0M552 198h0M525 211h0M699 149h0M574 127h0M650 105h0M577 142h0M546 131h0M559 181h0M588 288h0M593 130h0M585 98h0M682 90h0M526 150h0M701 121h0M601 238h0M594 212h0M572 282h0M700 122h0M609 223h0M678 101h0M612 178h0M664 106h0M527 202h0M577 143h0M662 100h0M535 206h0M628 215h0M675 220h0M682 243h0M540 148h0M682 113h0M563 298h0M633 149h0M657 175h0M621 229h0M582 221h0M647 164h0M614 90h0M646 100h0M557 185h0M549 209h0M587 166h0M710 96h0M602 233h0M620 243h0M557 276h0M634 218h0M637 239h0M665 187h0M602 280h0M589 136h0M698 100h0M526 257h0M649 196h0M588 217h0M564 130h0M620 148h0M636 134h0M611 165h0M604 237h0M635 252h0M571 146h0M691 233h0M638 242h0M697 166h0M599 125h0M672 199h0M675 171h0M644 185h0M582 276h0M606 218h0M655 253h0M585 89h0M707 152h0M532 136h0M725 137h0M609 115h0M729 220h0M578 152h0M726 190h0M539 131h0M597 231h0M613 129h0M525 176h0M552 170h0M576 185h0M655 98h0M658 124h0M602 225h0M679 190h0M555 204h0M534 140h0M608 87h0M554 163h0M527 152h0M656 135h0M634 245h0M698 220h0M727 182h0M647 168h0M536 225h0M603 282h0M561 106h0M546 177h0M710 97h0M556 197h0M637 89h0M548 168h0M657 112h0M665 86h0M612 208h0M657 213h0M658 248h0M623 242h0M731 227h0M596 182h0M721 164h0M609 82h0M701 217h0M646 179h0M553 211h0M735 136h0M552 189h0M567 276h0M617 268h0M669 201h0M645 149h0M610 104h0M631 115h0M650 254h0M570 224h0M681 175h0M704 212h0M621 231h0M717 121h0M582 122h0M549 246h0M548 180h0M539 152h0M608 85h0M604 155h0M647 258h0M674 209h0M539 187h0M597 106h0M618 93h0M597 130h0M714 147h0M581 117h0M624 242h0M682 121h0M536 258h0M719 156h0M719 185h0M644 131h0M578 261h0M567 291h0M575 255h0M587 105h0M517 270h0M695 148h0M535 159h0M619 147h0M636 240h0M623 144h0M570 171h0M652 87h0M542 157h0M583 136h0M530 244h0M541 263h0M590 233h0M533 261h0M642 142h0M642 215h0M659 254h0M586 144h0M617 140h0M605 158h0M613 196h0M652 134h0M540 304h0M577 119h0M638 265h0M600 228h0M716 98h0M549 172h0M633 156h0M598 86h0M666 177h0M586 135h0M686 127h0M587 215h0M655 112h0M631 124h0M681 234h0M675 211h0M717 175h0M541 135h0M684 130h0M721 109h0M606 138h0M612 100h0M688 227h0M589 121h0M547 216h0M659 140h0M577 235h0M576 196h0M535 132h0M724 131h0M577 195h0M522 296h0M681 134h0M732 183h0M684 165h0M635 251h0M690 168h0M691 95h0M609 84h0M565 148h0M721 227h0M576 131h0M725 235h0M655 252h0M687 225h0M636 171h0M654 148h0M658 148h0M557 181h0M565 242h0M656 177h0M585 238h0M631 115h0M528 205h0M619 93h0M589 241h0M685 220h0M629 102h0M603 279h0M628 226h0M605 185h0M712 179h0M618 204h0M579 141h0M685 169h0M647 167h0M572 198h0M684 179h0M681 163h0M639 217h0M653 139h0M599 100h0M633 246h0M595 84h0M710 175h0M681 138h0M702 167h0M564 102h0M719 157h0M670 215h0M686 186h0M566 276h0M580 131h0M711 111h0M662 130h0M678 245h0M739 149h0M557 150h0M619 176h0M657 221h0M642 109h0M548 238h0M681 151h0M618 220h0M538 154h0M626 144h0M641 230h0M588 270h0M643 251h0M717 206h0M603 150h0M591 184h0M620 204h0M724 116h0M566 167h0M544 309h0M565 163h0M683 224h0M664 224h0M586 149h0M540 158h0M698 146h0M522 280h0M564 225h0M581 89h0M590 232h0M659 236h0M586 192h0M653 161h0M600 227h0M581 243h0M591 300h0M694 95h0M617 197h0M527 235h0M600 293h0M694 154h0M523 201h0M722 121h0M601 104h0M583 248h0M566 203h0M564 98h0M563 246h0M556 267h0M692 185h0M684 100h0M677 196h0M721 225h0M678 152h0M596 135h0M714 158h0M548 201h0M647 168h0M683 159h0M607 260h0M565 153h0M591 135h0M544 222h0M603 274h0M538 214h0M532 197h0M552 190h0M611 145h0M583 226h0M708 144h0M570 176h0M558 245h0M620 171h0M672 173h0M725 229h0M733 157h0M684 192h0M674 188h0M593 175h0M610 237h0M682 93h0M587 181h0M576 215h0M606 289h0M627 247h0M710 112h0M705 198h0M645 222h0M657 210h0M594 124h0M541 231h0M728 135h0M714 213h0M675 172h0M547 217h0M739 187h0M722 114h0M541 221h0M622 256h0M550 237h0M550 270h0M589 197h0M551 110h0M599 122h0M687 212h0M686 197h0M620 106h0M657 179h0M637 214h0M601 236h0M735 187h0M589 126h0M573 127h0M555 303h0M577 244h0M556 243h0M571 247h0M586 163h0M564 110h0M666 135h0M562 187h0M523 212h0M594 121h0M629 173h0M634 96h0M529 141h0M548 224h0M626 121h0M734 224h0M602 182h0M580 183h0M578 300h0M554 224h0M628 212h0M630 105h0M687 130h0M600 180h0M605 146h0M644 190h0M706 118h0M532 293h0M600 179h0M558 253h0M542 261h0M639 119h0M634 257h0M562 208h0M716 119h0M595 256h0M624 240h0M600 145h0M577 131h0M574 247h0M594 148h0M591 219h0M562 294h0M720 217h0M600 129h0M553 240h0M530 203h0M628 209h0M700 224h0M524 256h0M686 203h0M576 290h0M543 224h0M592 126h0M566 263h0M535 242h0M667 81h0M572 88h0M651 197h0M574 94h0M589 270h0M626 161h0M526 147h0M710 204h0M677 201h0M616 159h0M619 108h0M566 270h0M544 302h0M698 101h0M552 218h0M631 220h0M677 142h0M589 193h0M673 144h0M695 170h0M581 167h0M618 132h0M556 141h0M721 175h0M608 176h0M677 237h0M543 255h0M605 177h0M578 270h0M636 90h0M569 100h0M607 287h0M627 117h0M605 150h0M581 111h0M708 198h0M574 155h0M590 173h0M580 169h0M617 87h0M598 289h0M603 110h0M628 180h0M644 196h0M551 230h0M581 107h0M672 113h0M582 310h0M609 136h0M553 197h0M699 88h0M564 294h0M538 123h0M693 139h0M684 112h0M621 187h0M555 134h0M612 236h0M555 297h0M527 299h0M514 289h0M634 243h0M567 110h0M656 86h0M526 193h0M737 147h0M603 284h0M684 199h0M666 237h0M697 236h0M579 196h0M700 149h0M672 157h0M635 252h0M681 101h0M602 169h0M689 219h0M595 197h0M597 77h0M630 214h0M638 229h0M599 177h0M592 176h0M528 153h0M732 192h0M530 168h0M618 257h0M524 238h0M534 210h0M566 223h0M611 208h0M727 149h0M632 241h0M595 169h0M611 139h0M596 104h0M724 230h0M658 135h0M613 212h0M584 257h0M616 234h0M547 271h0M638 109h0M691 133h0M697 112h0M732 184h0M600 290h0M564 262h0M574 128h0M591 189h0M646 91h0M526 160h0M723 136h0M584 230h0M711 130h0M515 276h0M582 144h0M586 283h0M669 176h0M613 148h0M732 158h0M576 148h0M693 95h0M641 258h0M600 211h0M641 151h0M593 237h0M579 245h0M672 84h0M589 114h0M555 141h0M632 271h0M584 87h0M666 171h0M672 241h0M641 152h0M689 95h0M547 210h0M644 135h0M637 264h0M625 171h0M594 96h0M548 269h0M609 248h0M613 227h0M615 167h0M601 95h0M549 187h0M554 155h0M672 173h0M559 186h0M645 141h0M541 146h0M685 104h0M632 105h0M690 174h0M608 256h0M677 157h0M590 205h0M651 247h0M731 131h0M677 172h0M545 262h0M622 261h0M604 236h0M572 313h0M562 246h0M599 282h0M594 175h0M608 187h0M520 277h0M631 122h0M552 222h0M627 245h0M556 178h0M667 177h0M664 248h0M675 177h0M683 116h0M645 174h0M564 164h0M641 83h0M565 268h0M696 204h0M647 171h0M583 121h0M600 278h0M657 222h0M544 245h0M531 195h0M675 225h0M615 105h0M653 172h0M695 106h0M547 204h0M528 219h0M579 110h0M658 114h0M572 274h0M665 246h0M538 215h0M619 272h0M714 221h0M721 227h0M712 156h0M667 203h0M653 163h0M637 147h0M705 195h0M649 191h0M578 85h0M724 110h0M666 226h0M690 163h0M611 172h0M598 132h0M522 299h0M675 83h0M743 195h0M663 229h0M543 252h0M638 102h0M658 175h0M596 96h0M584 275h0M590 304h0M655 119h0M648 108h0M542 238h0M527 142h0M649 106h0M646 105h0M621 223h0M567 101h0M627 136h0M686 118h0M611 259h0M561 237h0M674 223h0M607 201h0M725 212h0M678 167h0M560 140h0M624 139h0M571 150h0M620 277h0M551 183h0M669 102h0M638 142h0M595 93h0M532 286h0M564 108h0M566 296h0M588 218h0M529 198h0M648 158h0M686 97h0M611 201h0M603 210h0M613 173h0M563 115h0M686 166h0M684 172h0M689 209h0M590 232h0M649 250h0M684 216h0M737 159h0M680 191h0M623 220h0M681 210h0M707 167h0M632 112h0M574 265h0M645 146h0M575 190h0M656 148h0M602 92h0M537 212h0M577 173h0M564 120h0M654 256h0M663 182h0M574 110h0M670 205h0M684 244h0M568 219h0M665 228h0M578 115h0M599 229h0M534 139h0M641 174h0M642 209h0M606 83h0M616 178h0M604 97h0M553 106h0M710 181h0M633 122h0M661 247h0M692 219h0M737 207h0M581 143h0M636 192h0M622 251h0M570 94h0M558 150h0M578 109h0M574 114h0M662 103h0M603 171h0M585 309h0M653 224h0M628 211h0M624 238h0M579 144h0M538 176h0M586 111h0M741 216h0M668 246h0M548 109h0M608 145h0M570 230h0M641 158h0M568 152h0M554 274h0M640 214h0M694 151h0M584 225h0M698 128h0M589 122h0M603 202h0M644 215h0M567 143h0M616 225h0M617 102h0M564 201h0M621 205h0M599 88h0M636 206h0M582 281h0M599 161h0M733 225h0M589 300h0M652 108h0M682 90h0M720 146h0M655 197h0M526 289h0M582 129h0M562 185h0M727 185h0M577 132h0M652 140h0M567 103h0M584 137h0M581 161h0M667 195h0M717 216h0M728 195h0M567 276h0M596 146h0M678 166h0M619 162h0M711 155h0M686 98h0M592 165h0M698 168h0M533 285h0M667 208h0M570 150h0M703 231h0M606 273h0M588 236h0M521 290h0M526 151h0M618 181h0M599 176h0M599 128h0M553 125h0M594 219h0M652 153h0M668 155h0M626 110h0M547 159h0M588 266h0M679 144h0M692 235h0M639 84h0M625 95h0M688 114h0M574 270h0M667 182h0M529 201h0M669 190h0M587 219h0M595 237h0M538 245h0M530 284h0M666 249h0M620 244h0M556 120h0M725 195h0M609 138h0M673 240h0M696 167h0M588 131h0M523 186h0M632 129h0M619 248h0M715 171h0M609 195h0M650 241h0M562 305h0M637 222h0M702 230h0M663 232h0M564 292h0M638 259h0M654 144h0M661 124h0M728 167h0M620 105h0M609 81h0M712 228h0M536 231h0M550 213h0M547 394h0M538 395h0M555 382h0M552 378h0M539 410h0M539 407h0M558 383h0M531 415h0M560 377h0M536 411h0M544 412h0M525 424h0M553 390h0M542 399h0M520 426h0M519 421h0M551 382h0M545 402h0M540 401h0M552 359h0M526 413h0M542 398h0M535 397h0M533 409h0M525 414h0M541 414h0M558 360h0M557 386h0M550 369h0M544 403h0M535 415h0M545 390h0M563 375h0M519 418h0M554 362h0M550 406h0M539 393h0M526 408h0M550 400h0M528 421h0M532 414h0M533 413h0M536 410h0M562 369h0M555 372h0M552 387h0M539 391h0M535 411h0M488 338h0M499 339h0M516 328h0M519 327h0M491 338h0M505 333h0M509 327h0M525 321h0M505 320h0M506 332h0M517 327h0M500 337h0M500 324h0M524 320h0M502 321h0M519 332h0M509 322h0M508 316h0M499 335h0M506 341h0M508 338h0M534 322h0M513 338h0M525 326h0M517 330h0M514 315h0M523 329h0M548 326h0M533 334h0M541 341h0M558 333h0M562 339h0M574 336h0M505 291h0M515 301h0M556 287h0M521 523h0M524 532h0M526 541h0M528 550h0M530 560h0M531 567h0M547 619h0M540 587h0M532 583h0M538 668h0M538 630h0M546 623h0M538 647h0M540 609h0M537 583h0M537 659h0M550 610h0M543 653h0M534 600h0M533 659h0M545 600h0M546 615h0M538 667h0M530 595h0M530 598h0M528 595h0M543 613h0M530 606h0M532 609h0M531 644h0M546 595h0M533 632h0M545 590h0M541 581h0M531 585h0M544 606h0M539 578h0M531 638h0M548 620h0M542 607h0M539 653h0M550 617h0M549 614h0M550 601h0M530 591h0M542 651h0M531 595h0M536 603h0M540 587h0M549 628h0M538 669h0M545 598h0M534 589h0M548 609h0M549 606h0M537 578h0M532 643h0M531 609h0M539 628h0M542 586h0M536 590h0M541 650h0M531 640h0M537 638h0M539 586h0M544 618h0M542 648h0M539 655h0M532 586h0M534 649h0M538 617h0M535 594h0M545 599h0M538 665h0M539 634h0M530 622h0M605 579h0M572 559h0M581 584h0M604 587h0M558 545h0M587 578h0M563 550h0M565 549h0M564 560h0M567 563h0M582 584h0M587 580h0M567 555h0M573 565h0M582 573h0M580 572h0M582 582h0M576 570h0M578 577h0M597 578h0M585 573h0M577 564h0M562 550h0M602 587h0M575 571h0M606 586h0M569 565h0M567 559h0M598 583h0M574 575h0M582 566h0M594 574h0M550 539h0M559 534h0M390 552h0"/><path stroke="#2671a1" d="M644 115h0M718 121h0M703 232h0M669 167h0M576 216h0M582 215h0M615 204h0M641 188h0M701 111h0M522 427h0M555 386h0M546 392h0M536 313h0"/><path stroke="#289393" d="M655 247h0M614 150h0M621 120h0M634 82h0M587 196h0M646 252h0M526 150h0M551 106h0M629 174h0M595 83h0M706 176h0M711 96h0M649 228h0M565 244h0M727 156h0M664 188h0M628 102h0M564 183h0"/><path stroke="#28b184" d="M597 156h0M642 143h0M525 195h0M535 188h0M378 603h0M368 568h0M357 573h0M374 588h0M383 604h0M370 574h0M382 592h0M380 600h0M390 616h0M387 643h0M378 603h0"/><path stroke="#2fd169" d="M383 610h0M376 613h0M361 567h0M349 571h0M384 630h0M392 610h0M367 570h0M390 594h0M380 582h0M380 636h0M348 565h0M374 581h0M388 632h0M390 594h0M384 610h0M377 595h0M373 586h0M366 587h0M370 571h0M355 573h0M377 593h0M353 567h0M380 588h0M392 622h0M359 574h0M352 563h0M379 597h0M378 600h0M369 593h0M385 647h0"/><path stroke="#43e84a" d="M165 234h0M168 314h0M286 347h0M213 393h0M249 438h0M301 445h0M353 300h0M216 359h0M285 292h0M257 389h0M306 296h0M291 246h0M327 455h0M353 407h0M348 366h0M396 387h0M324 405h0M215 358h0M295 427h0M360 420h0M372 365h0M283 345h0M459 440h0M156 225h0M383 435h0M347 231h0M263 432h0M290 387h0M150 237h0M248 278h0M212 355h0M278 216h0M474 457h0M278 246h0M278 246h0M213 427h0M289 277h0M268 378h0M326 321h0M265 309h0M240 424h0M329 245h0M277 351h0M285 300h0M153 234h0M331 280h0M203 393h0M331 312h0M329 173h0M296 403h0M317 205h0M301 357h0M180 340h0M251 427h0M216 253h0M245 204h0M426 415h0M279 409h0M212 212h0M262 262h0M383 382h0M331 169h0M387 381h0M238 199h0M274 449h0M286 325h0M242 453h0M378 446h0M244 372h0M249 432h0M249 206h0M354 442h0M299 330h0M261 437h0M166 222h0M229 257h0M277 309h0M173 319h0M269 181h0M274 145h0M265 260h0M313 276h0M257 367h0M224 393h0M325 320h0M350 226h0M477 495h0M342 353h0M345 417h0M217 457h0M300 399h0M257 432h0M190 389h0M255 458h0M233 369h0M307 283h0M230 290h0M260 250h0M364 323h0M213 335h0M208 351h0M190 423h0M252 213h0M296 450h0M249 382h0M352 312h0M210 396h0M143 219h0M330 197h0M503 467h0M298 291h0M234 271h0M338 318h0M346 433h0M332 458h0M270 219h0M248 314h0M334 186h0M251 191h0M204 292h0M310 210h0M271 362h0M274 373h0M456 472h0M173 303h0M298 416h0M366 442h0M259 366h0M350 482h0M240 466h0M259 249h0M217 343h0M222 279h0M212 409h0M346 462h0M352 290h0M301 229h0M317 234h0M192 261h0M148 248h0M374 394h0M206 247h0M230 315h0M358 227h0M364 218h0M275 458h0M228 446h0M519 470h0M235 440h0M329 184h0M348 260h0M310 209h0M457 437h0M383 505h0M308 321h0M448 493h0M313 338h0M332 347h0M313 429h0M237 355h0M177 335h0M301 203h0M437 476h0M369 489h0M147 283h0M136 255h0M373 457h0M309 370h0M146 294h0M227 370h0M376 511h0M380 366h0M337 334h0M331 288h0M382 368h0M314 417h0M306 268h0M255 229h0M241 321h0M273 313h0M336 467h0M347 322h0M474 453h0M278 426h0M180 259h0M240 469h0M310 409h0M206 390h0M473 480h0M345 465h0M321 285h0M344 193h0M221 438h0M432 487h0M513 472h0M466 495h0M361 304h0M213 216h0M302 288h0M225 378h0M239 411h0M180 269h0M240 389h0M275 398h0M298 418h0M341 422h0M465 521h0M313 361h0M504 484h0M273 362h0M468 447h0M264 230h0M248 220h0M407 419h0M325 447h0M483 444h0M280 263h0M328 416h0M307 337h0M237 359h0M321 429h0M279 407h0M280 401h0M226 446h0M355 186h0M316 406h0M305 259h0M247 279h0M390 470h0M342 204h0M212 356h0M214 414h0M274 469h0M270 223h0M403 537h0M257 405h0M296 228h0M459 417h0M270 357h0M372 432h0M297 246h0M309 323h0M284 232h0M347 431h0M401 507h0M287 269h0M180 355h0M218 338h0M325 409h0M307 268h0M371 438h0M501 428h0M228 330h0M333 476h0M245 465h0M225 370h0M340 468h0M340 328h0M441 435h0M336 286h0M249 289h0M348 420h0M303 239h0M176 298h0M310 414h0M311 293h0M325 479h0M308 165h0M236 196h0M381 468h0M226 435h0M345 208h0M324 272h0M258 468h0M230 398h0M307 250h0M250 210h0M410 470h0M203 443h0M384 503h0M343 395h0M294 340h0M267 331h0M316 279h0M293 240h0M301 285h0M329 360h0M348 197h0M387 393h0M321 474h0M172 387h0M135 254h0M288 276h0M337 206h0M182 239h0M259 428h0M349 441h0M455 491h0M329 433h0M493 436h0M284 197h0M268 369h0M351 283h0M162 235h0M411 418h0M244 372h0M223 265h0M220 384h0M221 356h0M169 296h0M463 420h0M290 167h0M337 491h0M336 311h0M318 233h0M359 253h0M217 389h0M160 271h0M313 355h0M267 149h0M370 370h0M278 221h0M283 416h0M436 490h0M356 435h0M354 456h0M163 242h0M213 343h0M274 324h0M336 225h0M178 273h0M314 312h0M186 435h0M303 444h0M233 224h0M369 373h0M306 224h0M239 322h0M161 320h0M494 499h0M242 324h0M244 356h0M173 251h0M235 360h0M322 272h0M322 288h0M255 346h0M340 426h0M206 208h0M269 310h0M471 477h0M281 305h0M321 196h0M220 386h0M246 321h0M449 442h0M300 319h0M481 426h0M458 436h0M219 295h0M329 442h0M287 335h0M311 454h0M356 315h0M198 407h0M179 319h0M183 324h0M247 288h0M174 380h0M257 202h0M349 262h0M338 483h0M285 349h0M374 386h0M477 486h0M274 360h0M301 378h0M342 488h0M340 332h0M487 427h0M430 423h0M424 522h0M315 449h0M235 273h0M252 313h0M278 269h0M428 475h0M358 354h0M276 262h0M138 267h0M317 362h0M300 261h0M378 468h0M246 355h0M156 324h0M255 373h0M311 196h0M333 481h0M360 233h0M176 255h0M299 177h0M144 291h0M309 239h0M374 451h0M324 226h0M269 374h0M347 262h0M365 342h0M255 370h0M267 388h0M220 385h0M313 184h0M139 220h0M265 301h0M211 451h0M268 265h0M290 339h0M311 243h0M228 204h0M411 487h0M370 442h0M299 218h0M257 375h0M265 349h0M285 227h0M159 344h0M261 225h0M272 345h0M243 313h0M332 421h0M214 442h0M307 215h0M242 374h0M364 455h0M361 431h0M311 458h0M205 385h0M396 392h0M493 521h0M336 349h0M297 165h0M349 306h0M190 437h0M261 436h0M262 421h0M292 429h0M397 382h0M184 236h0M209 461h0M306 191h0M263 327h0M498 431h0M495 521h0M325 212h0M366 482h0M284 453h0M357 290h0M194 232h0M258 400h0M285 237h0M214 217h0M291 310h0M352 287h0M366 433h0M191 253h0M330 362h0M326 305h0M161 268h0M404 387h0M188 240h0M224 429h0M224 394h0M245 301h0M255 332h0M291 229h0M263 234h0M251 273h0M146 238h0M349 235h0M279 323h0M223 335h0M320 401h0M473 486h0M301 204h0M216 438h0M323 337h0M276 264h0M261 475h0M364 447h0M313 334h0M276 330h0M261 310h0M304 213h0M205 362h0M136 240h0M281 461h0M208 456h0M240 308h0M179 293h0M279 182h0M377 413h0M303 183h0M233 361h0M313 191h0M328 360h0M199 255h0M495 477h0M376 432h0M149 249h0M198 240h0M303 171h0M284 436h0M501 481h0M251 299h0M185 378h0M345 248h0M356 219h0M204 360h0M295 419h0M168 229h0M264 322h0M153 235h0M309 177h0M275 329h0M467 441h0M361 465h0M331 261h0M208 211h0M337 480h0M232 337h0M297 262h0M286 178h0M305 405h0M150 318h0M282 264h0M303 303h0M287 393h0M316 259h0M146 290h0M474 419h0M267 373h0M268 341h0M305 151h0M325 345h0M368 480h0M400 391h0M369 368h0M345 319h0M243 364h0M363 358h0M262 402h0M264 475h0M279 197h0M211 401h0M348 435h0M418 412h0M199 381h0M281 329h0M357 319h0M316 403h0M211 466h0M471 430h0M233 303h0M363 500h0M146 283h0M415 487h0M217 361h0M398 500h0M272 312h0M364 284h0M443 480h0M134 237h0M340 236h0M255 399h0M178 254h0M320 395h0M302 260h0M341 279h0M315 378h0M389 465h0M255 227h0M182 366h0M170 339h0M326 370h0M365 257h0M349 436h0M367 435h0M352 287h0M351 410h0M352 276h0M220 281h0M169 233h0M347 474h0M198 232h0M169 360h0M459 467h0M340 250h0M374 420h0M197 365h0M361 309h0M358 470h0M342 341h0M243 193h0M156 258h0M148 257h0M299 401h0M193 444h0M329 310h0M371 424h0M175 322h0M165 343h0M278 157h0M234 481h0M316 384h0M198 389h0M312 241h0M251 364h0M251 300h0M312 352h0M230 372h0M367 323h0M315 187h0M205 415h0M426 487h0M300 156h0M330 222h0M184 301h0M176 316h0M268 436h0M240 363h0M471 521h0M274 275h0M266 202h0M298 446h0M389 446h0M150 323h0M438 522h0M226 432h0M247 402h0M296 187h0M283 287h0M219 408h0M281 431h0M373 504h0M353 453h0M171 311h0M277 427h0M153 281h0M213 454h0M317 196h0M196 239h0M381 367h0M297 147h0M287 441h0M362 231h0M295 420h0M231 298h0M175 360h0M310 247h0M488 498h0M275 291h0M214 315h0M355 387h0M329 444h0M354 491h0M279 225h0M374 451h0M219 307h0M302 320h0M282 312h0M211 380h0M160 273h0M449 440h0M363 282h0M275 237h0M319 286h0M301 465h0M206 450h0M314 459h0M296 263h0M257 326h0M348 279h0M170 314h0M225 339h0M252 469h0M235 426h0M300 202h0M352 266h0M300 303h0M391 333h0M406 367h0M452 374h0M426 359h0M439 360h0M410 366h0M406 336h0M435 386h0M388 613h0M377 580h0M387 592h0M376 592h0M389 639h0M365 567h0M380 632h0M378 598h0M385 609h0M391 603h0M374 598h0M387 604h0M381 624h0M390 624h0M367 591h0M381 603h0M387 605h0M386 635h0M381 587h0M391 617h0M379 585h0M389 607h0M388 625h0M370 579h0M384 595h0M380 594h0M383 612h0M356 566h0M386 644h0M387 591h0"/><path stroke="#7aee33" d="M321 203h0M301 376h0M423 525h0M243 401h0M249 266h0M318 451h0M279 175h0M321 198h0M202 440h0M152 288h0M181 259h0M326 482h0M364 409h0M351 219h0M327 189h0M321 355h0M212 438h0M269 279h0M321 176h0M322 277h0M235 370h0M291 407h0M263 218h0M189 252h0M265 230h0M181 306h0M344 495h0M200 449h0M278 448h0M335 203h0M272 429h0M238 293h0M304 366h0M197 388h0M488 495h0M384 409h0M271 402h0M334 275h0M451 463h0M206 341h0M260 194h0M391 453h0M150 300h0M262 325h0M399 392h0M296 238h0M219 402h0M180 237h0M370 434h0M299 395h0M296 328h0M239 376h0M215 430h0M338 173h0M326 371h0M227 399h0M236 438h0M331 299h0M358 378h0M281 155h0M279 463h0M205 457h0M330 426h0M269 217h0M177 270h0M422 517h0M189 348h0M341 241h0M252 440h0M341 455h0M305 400h0M253 226h0M318 416h0M316 203h0M320 212h0M293 408h0M185 380h0M309 437h0M203 242h0M332 344h0M166 342h0M460 489h0M370 354h0M215 306h0M386 396h0M263 178h0M312 241h0M327 293h0M335 342h0M281 317h0M355 370h0M296 472h0M346 369h0M298 263h0M275 293h0M282 410h0M293 228h0M194 439h0M324 368h0M323 437h0M397 535h0M376 415h0M343 453h0M284 331h0M378 486h0M414 444h0M363 313h0M182 265h0M356 211h0M265 435h0M205 384h0M248 438h0M279 418h0M208 236h0M143 294h0M367 481h0M354 238h0M165 343h0M238 354h0M341 449h0M366 390h0M488 519h0M273 162h0M305 226h0M329 355h0M347 273h0M199 417h0M301 436h0M231 283h0M358 323h0M201 379h0M336 225h0M199 354h0M310 447h0M170 370h0M208 216h0M212 349h0M329 456h0M310 262h0M230 430h0M158 262h0M229 371h0M295 435h0M381 371h0M369 480h0M310 396h0M359 320h0M315 161h0M480 525h0M359 312h0M223 210h0M231 449h0M246 354h0M287 176h0M249 466h0M261 246h0M320 302h0M417 500h0M231 245h0M268 380h0M347 464h0M246 294h0M361 323h0M308 238h0M303 240h0M265 156h0M288 419h0M376 466h0M450 415h0M283 277h0M175 357h0M321 195h0M309 162h0M312 263h0M250 445h0M274 356h0M279 385h0M199 255h0M358 242h0M503 479h0M156 259h0M203 365h0M218 276h0M272 389h0M252 261h0M298 313h0M195 456h0M394 393h0M223 448h0M446 407h0M369 409h0M272 298h0M357 258h0M178 294h0M144 252h0M345 474h0M487 520h0M285 233h0M175 286h0M355 239h0M317 391h0M371 434h0M202 226h0M203 435h0M237 344h0M268 419h0M342 226h0M274 458h0M319 162h0M212 218h0M443 412h0M199 437h0M180 359h0M162 350h0M270 164h0M257 290h0M137 267h0M179 303h0M348 188h0M316 364h0M234 364h0M288 186h0M249 387h0M317 258h0M212 341h0M314 203h0M201 256h0M225 324h0M430 437h0M280 310h0M154 294h0M194 246h0M216 287h0M330 294h0M298 166h0M183 314h0M372 428h0M233 301h0M249 341h0M280 369h0M271 412h0M298 298h0M233 429h0M411 472h0M429 487h0M378 426h0M229 439h0M232 453h0M151 285h0M271 238h0M230 338h0M237 309h0M279 287h0M245 460h0M264 413h0M413 412h0M521 498h0M254 216h0M261 192h0M262 390h0M240 369h0M350 214h0M236 469h0M312 304h0M259 254h0M241 355h0M384 522h0M222 386h0M350 292h0M242 298h0M215 385h0M323 195h0M335 385h0M259 317h0M411 421h0M298 300h0M169 224h0M431 521h0M238 445h0M343 329h0M148 265h0M307 405h0M306 325h0M274 239h0M483 526h0M264 240h0M186 383h0M280 331h0M318 199h0M271 294h0M285 407h0M421 477h0M363 350h0M215 372h0M176 377h0M173 245h0M185 360h0M373 452h0M256 327h0M167 347h0M160 262h0M502 428h0M286 314h0M311 245h0M241 362h0M299 358h0M464 442h0M149 271h0M338 402h0M257 204h0M157 237h0M284 248h0M216 311h0M271 431h0M218 306h0M265 206h0M249 375h0M317 284h0M299 297h0M141 232h0M235 475h0M286 149h0M279 302h0M415 484h0M303 469h0M307 287h0M171 262h0M312 227h0M338 319h0M235 440h0M424 512h0M417 439h0M272 256h0M355 420h0M347 272h0M283 452h0M206 428h0M226 210h0M178 311h0M152 322h0M277 150h0M473 466h0M295 186h0M475 441h0M146 307h0M408 454h0M322 233h0M483 508h0M168 337h0M330 307h0M513 513h0M347 224h0M174 337h0M235 470h0M310 369h0M426 471h0M445 416h0M358 195h0M341 484h0M367 274h0M213 380h0M274 308h0M229 249h0M155 334h0M232 278h0M241 439h0M227 473h0M321 360h0M234 375h0M324 173h0M348 258h0M519 481h0M332 274h0M282 177h0M349 397h0M168 329h0M260 350h0M347 221h0M234 477h0M281 275h0M184 255h0M206 404h0M159 344h0M265 422h0M363 451h0M191 244h0M348 222h0M309 291h0M376 432h0M248 462h0M317 304h0M362 272h0M365 469h0M241 377h0M291 382h0M293 393h0M157 322h0M425 456h0M379 449h0M169 355h0M338 402h0M257 387h0M281 391h0M241 231h0M273 404h0M497 479h0M342 305h0M206 462h0M246 196h0M242 422h0M279 385h0M395 381h0M209 227h0M246 202h0M232 326h0M249 195h0M391 507h0M257 394h0M213 429h0M517 459h0M370 416h0M281 389h0M273 430h0M217 439h0M355 345h0M389 404h0M367 495h0M224 455h0M278 394h0M309 339h0M304 317h0M404 433h0M154 231h0M343 228h0M511 464h0M470 501h0M204 228h0M227 298h0M392 474h0M231 433h0M183 368h0M373 482h0M212 360h0M248 255h0M289 467h0M473 506h0M197 450h0M272 416h0M329 418h0M283 476h0M207 360h0M149 263h0M218 475h0M423 451h0M148 304h0M394 381h0M463 511h0M365 484h0M323 257h0M289 386h0M313 393h0M238 403h0M246 385h0M266 213h0M285 185h0M225 281h0M471 486h0M352 304h0M226 404h0M408 395h0M326 383h0M318 405h0M182 355h0M317 357h0M358 356h0M426 470h0M376 413h0M246 217h0M384 459h0M160 225h0M405 394h0M345 456h0M385 388h0M282 282h0M255 209h0M304 410h0M443 499h0M166 251h0M500 433h0M320 433h0M341 266h0M285 358h0M337 261h0M413 541h0M348 365h0M362 355h0M272 460h0M282 440h0M258 232h0M271 168h0M313 152h0M284 187h0M284 212h0M284 382h0M333 475h0M280 285h0M223 338h0M348 351h0M295 423h0M226 401h0M353 451h0M251 279h0M371 487h0M265 211h0M386 376h0M196 325h0M201 408h0M398 459h0M241 311h0M378 380h0M244 229h0M330 219h0M369 421h0M292 317h0M356 286h0M148 283h0M318 329h0M223 435h0M250 427h0M234 312h0M266 170h0M263 459h0M311 305h0M180 327h0M428 473h0M211 339h0M312 170h0M285 202h0M294 242h0M280 180h0M308 295h0M312 251h0M309 213h0M356 230h0M247 324h0M161 273h0M210 440h0M320 337h0M185 307h0M199 378h0M150 246h0M241 466h0M201 255h0M326 475h0M344 270h0M346 214h0M228 328h0M183 364h0M294 225h0M452 451h0M432 404h0M412 506h0M192 428h0M517 489h0M319 295h0M390 433h0M178 236h0M223 350h0M175 349h0M412 480h0M163 283h0M224 479h0M190 248h0M365 221h0M381 396h0M299 461h0M224 428h0M282 437h0M272 421h0M239 328h0M259 344h0M284 393h0M238 411h0M208 428h0M325 277h0M417 519h0M227 289h0M269 211h0M369 366h0M211 466h0M256 226h0M223 322h0M343 409h0M291 264h0M471 427h0M353 381h0M314 303h0M339 418h0M306 344h0M321 439h0M159 258h0M360 360h0M287 178h0M247 269h0M264 197h0M137 231h0M399 409h0M287 294h0M145 224h0M278 177h0M265 209h0M283 279h0M509 464h0M344 438h0M322 403h0M275 299h0M269 308h0M259 280h0M347 408h0M254 336h0M162 336h0M227 272h0M328 349h0M313 210h0M187 389h0M329 276h0M270 317h0M235 319h0M241 466h0M233 353h0M255 369h0M336 212h0M151 325h0M356 279h0M239 317h0M160 271h0M204 430h0M367 503h0M370 373h0M313 255h0M172 224h0M329 384h0M176 284h0M338 428h0M356 388h0M229 289h0M331 452h0M267 305h0M403 394h0M216 341h0M190 430h0M361 349h0M216 259h0M259 451h0M321 325h0M422 539h0M265 467h0M513 459h0M277 204h0M174 288h0M329 381h0M313 429h0M260 203h0M270 307h0M312 452h0M254 249h0M156 273h0M364 216h0M240 452h0M236 203h0M251 292h0M257 439h0M336 363h0M334 269h0M330 346h0M147 293h0M388 491h0M211 370h0M239 362h0M384 410h0M358 245h0M324 200h0M409 440h0M295 445h0M300 159h0M284 246h0M243 298h0M360 296h0M449 461h0M259 430h0M209 348h0M398 478h0M270 302h0M290 189h0M217 457h0M353 331h0M255 239h0M203 447h0M504 447h0M242 337h0M202 215h0M523 500h0M347 229h0M332 335h0M307 407h0M218 386h0M200 362h0M335 382h0M294 283h0M205 260h0M280 338h0M380 408h0M227 308h0M355 276h0M345 296h0M275 468h0M369 362h0M329 240h0M221 371h0M303 180h0M209 454h0M246 371h0M221 474h0M358 297h0M389 444h0M359 470h0M163 305h0M154 315h0M327 224h0M173 322h0M310 168h0M155 242h0M242 317h0M253 439h0M267 230h0M240 373h0M329 263h0M277 277h0M246 439h0M204 360h0M299 286h0M268 239h0M330 403h0M285 328h0M269 435h0M269 220h0M358 276h0M305 218h0M259 339h0M283 304h0M438 515h0M319 337h0M167 338h0M297 381h0M283 267h0M284 149h0M338 180h0M171 225h0M333 345h0M255 244h0M330 183h0M263 290h0M254 276h0M327 443h0M342 436h0M320 359h0M335 307h0M275 264h0M172 229h0M150 314h0M149 241h0M280 285h0M403 516h0M361 292h0M352 442h0M227 299h0M320 454h0M508 468h0M273 236h0M338 370h0M323 420h0M368 485h0M312 407h0M349 235h0M451 512h0M478 488h0M167 246h0M309 305h0M219 465h0M345 214h0M329 336h0M302 399h0M327 255h0M324 470h0M184 235h0M303 448h0M294 284h0M352 260h0M324 202h0M379 474h0M278 149h0M371 501h0M334 436h0M332 263h0M342 247h0M276 342h0M320 417h0M312 260h0M181 293h0M365 379h0M366 422h0M228 300h0M399 448h0M282 214h0M216 467h0M268 262h0M154 301h0M214 373h0M400 481h0M316 176h0M505 474h0M176 340h0M160 231h0M333 414h0M165 338h0M495 466h0M359 284h0M338 235h0M257 247h0M180 389h0M306 412h0M344 334h0M328 203h0M357 241h0M270 420h0M185 242h0M349 247h0M388 507h0M433 436h0M214 394h0M409 493h0M249 259h0M345 225h0M142 243h0M191 308h0M372 391h0M318 366h0M358 226h0M339 463h0M217 350h0M383 495h0M229 306h0M523 506h0M238 422h0M144 289h0M286 145h0M269 165h0M417 471h0M279 250h0M357 292h0M265 226h0M300 265h0M332 238h0M279 349h0M288 401h0M162 327h0M225 460h0M233 468h0M263 374h0M261 449h0M152 291h0M410 411h0M148 261h0M310 304h0M302 404h0M325 236h0M214 208h0M362 489h0M314 169h0M276 381h0M213 359h0M332 274h0M490 426h0M377 504h0M305 250h0M282 257h0M192 416h0M154 335h0M412 395h0M334 376h0M365 379h0M204 261h0M277 469h0M454 476h0M280 147h0M243 472h0M215 410h0M328 164h0M454 510h0M212 456h0M402 497h0M291 464h0M322 245h0M206 259h0M223 481h0M382 493h0M396 436h0M350 227h0M329 437h0M323 219h0M368 428h0M327 270h0M342 382h0M394 420h0M318 448h0M196 223h0M247 379h0M301 250h0M283 316h0M331 374h0M340 331h0M223 376h0M166 237h0M217 214h0M269 376h0M352 371h0M330 369h0M228 401h0M193 371h0M431 484h0M265 201h0M152 325h0M255 397h0M273 373h0M297 281h0M306 365h0M335 332h0M167 221h0M216 377h0M343 252h0M169 254h0M299 408h0M380 372h0M405 418h0M195 441h0M219 205h0M324 394h0M369 344h0M355 257h0M331 352h0M369 446h0M273 272h0M370 483h0M268 197h0M407 511h0M294 458h0M234 328h0M384 424h0M313 299h0M289 377h0M372 390h0M183 388h0M377 476h0M348 201h0M220 429h0M362 445h0M399 417h0M184 359h0M306 237h0M212 256h0M269 159h0M149 262h0M148 281h0M393 495h0M291 248h0M306 404h0M384 397h0M271 293h0M287 333h0M261 300h0M319 188h0M211 392h0M348 312h0M252 464h0M246 316h0M346 422h0M309 245h0M217 270h0M433 480h0M245 328h0M360 378h0M295 242h0M150 229h0M329 471h0M283 394h0M346 192h0M322 428h0M313 427h0M342 382h0M378 401h0M386 482h0M265 295h0M257 472h0M156 319h0M261 451h0M362 420h0M306 462h0M222 448h0M294 187h0M351 347h0M349 302h0M287 381h0M217 284h0M314 272h0M453 416h0M368 462h0M316 384h0M310 341h0M318 178h0M452 416h0M316 183h0M275 427h0M234 363h0M232 209h0M278 472h0M368 435h0M160 241h0M281 329h0M141 242h0M313 161h0M217 335h0M365 414h0M274 394h0M402 534h0M307 333h0M198 463h0M373 458h0M362 261h0M231 362h0M326 389h0M389 323h0M383 325h0M381 323h0M386 321h0M429 353h0M428 359h0M448 363h0M449 364h0M433 362h0M425 354h0M449 360h0M417 356h0M426 355h0M200 212h0M206 210h0M467 351h0M479 350h0"/><path stroke="#b2f022" d="M401 470h0M396 496h0M449 526h0M505 455h0M396 459h0M424 460h0M421 400h0M503 452h0M450 475h0M492 522h0M437 504h0M401 519h0M444 467h0M493 442h0M483 477h0M399 498h0M417 458h0M441 421h0M421 534h0M484 494h0M432 422h0M479 504h0M436 532h0M388 494h0M385 404h0M434 527h0M386 466h0M412 443h0M468 460h0M506 482h0M398 443h0M467 443h0M510 497h0M410 477h0M466 505h0M458 436h0M443 519h0M458 437h0M443 516h0M470 465h0M400 531h0M397 401h0M476 492h0M409 517h0M417 493h0M444 426h0M464 509h0M414 412h0M393 500h0M486 427h0M463 489h0M461 509h0M390 413h0M419 486h0M409 467h0M422 448h0M461 419h0M425 481h0M415 464h0M464 437h0M416 516h0M387 465h0M472 493h0M490 453h0M390 526h0M432 522h0M472 432h0M392 408h0M421 421h0M387 454h0M406 447h0M509 448h0M424 470h0M451 461h0M514 438h0M461 453h0M399 419h0M424 457h0M392 472h0M434 500h0M457 511h0M480 516h0M391 424h0M397 446h0M486 464h0M454 400h0M537 661h0M536 652h0"/><path stroke="#ddf021" d="M443 458h0M489 422h0M517 500h0M400 468h0M441 488h0M478 476h0M468 466h0M504 431h0M399 536h0M467 482h0M478 431h0M433 448h0M454 483h0M459 478h0M432 407h0M502 435h0M419 468h0M389 431h0M511 463h0M441 435h0M386 397h0M419 419h0M510 465h0M444 528h0M520 499h0M443 444h0M494 458h0M429 529h0M515 505h0M467 461h0M433 515h0M420 401h0M469 469h0M416 470h0M441 476h0M446 421h0M511 497h0M508 466h0M467 505h0M477 446h0M459 498h0M465 481h0M467 526h0M386 462h0M483 430h0M516 503h0M502 464h0M387 414h0M459 468h0M445 418h0M475 476h0M520 512h0M398 507h0M489 440h0M479 497h0M424 459h0M404 411h0M433 450h0M392 395h0"/></g>
<g transform="translate(1443.02,412.92) scale(0.431)" fill="none" stroke-linecap="round" stroke-width="10.09"><path stroke="#260e83" d="M423 525h0M443 458h0M351 219h0M506 479h0M426 467h0M278 448h0M488 495h0M474 457h0M396 443h0M410 457h0M422 517h0M441 488h0M386 396h0M504 431h0M396 459h0M424 460h0M399 536h0M467 482h0M475 484h0M224 393h0M477 495h0M301 436h0M454 483h0M503 467h0M338 318h0M484 507h0M399 498h0M432 407h0M467 469h0M417 458h0M441 421h0M450 415h0M350 482h0M203 365h0M358 227h0M446 407h0M490 453h0M487 520h0M419 468h0M479 504h0M274 458h0M448 493h0M443 412h0M474 453h0M388 494h0M473 480h0M405 405h0M420 431h0M466 495h0M413 423h0M407 419h0M506 482h0M483 444h0M160 262h0M502 428h0M443 493h0M226 446h0M462 526h0M400 454h0M235 440h0M424 512h0M417 439h0M466 501h0M473 466h0M155 334h0M340 328h0M519 481h0M234 477h0M505 453h0M459 498h0M419 419h0M365 469h0M425 456h0M510 465h0M410 470h0M246 196h0M396 448h0M517 459h0M412 468h0M400 531h0M397 401h0M404 433h0M493 436h0M511 464h0M511 432h0M392 474h0M409 517h0M473 506h0M220 384h0M423 451h0M463 420h0M323 257h0M443 444h0M399 434h0M443 499h0M500 433h0M413 541h0M391 482h0M393 500h0M407 431h0M398 459h0M463 489h0M467 461h0M477 486h0M424 522h0M517 489h0M390 433h0M390 413h0M190 248h0M227 289h0M420 416h0M422 448h0M511 497h0M399 409h0M299 218h0M509 464h0M265 349h0M461 419h0M388 511h0M216 341h0M495 521h0M459 498h0M254 249h0M415 464h0M433 431h0M464 437h0M467 526h0M409 440h0M270 302h0M429 525h0M221 474h0M516 503h0M240 373h0M387 465h0M472 493h0M438 515h0M179 293h0M490 453h0M403 516h0M390 526h0M387 414h0M508 468h0M452 469h0M432 522h0M478 488h0M467 441h0M437 511h0M516 445h0M305 151h0M475 514h0M316 176h0M505 474h0M387 454h0M472 473h0M388 507h0M433 436h0M409 493h0M523 506h0M471 430h0M445 418h0M424 470h0M314 169h0M490 426h0M412 395h0M255 399h0M320 395h0M402 497h0M489 440h0M392 472h0M394 420h0M400 504h0M431 484h0M479 497h0M404 484h0M355 257h0M407 511h0M471 521h0M384 424h0M386 459h0M404 411h0M171 365h0M287 333h0M433 450h0M217 270h0M433 480h0M381 367h0M342 382h0M386 498h0M391 424h0M449 440h0M453 416h0M252 469h0M630 112h0M603 148h0M607 254h0M578 300h0M644 115h0M655 247h0M635 120h0M536 183h0M738 152h0M664 110h0M688 186h0M711 189h0M683 93h0M615 132h0M597 178h0M536 290h0M724 117h0M680 227h0M528 231h0M713 147h0M559 206h0M570 153h0M547 273h0M537 271h0M566 249h0M571 271h0M561 101h0M590 301h0M630 167h0M666 204h0M535 243h0M614 150h0M540 228h0M659 209h0M600 237h0M699 197h0M581 239h0M690 237h0M616 204h0M629 142h0M560 237h0M604 100h0M620 244h0M517 271h0M669 181h0M612 175h0M648 250h0M625 117h0M610 121h0M533 180h0M553 164h0M572 104h0M611 162h0M677 183h0M544 128h0M587 272h0M639 164h0M566 93h0M621 181h0M689 198h0M617 272h0M531 254h0M524 256h0M557 137h0M564 162h0M542 188h0M592 108h0M525 147h0M574 242h0M726 207h0M548 146h0M650 177h0M677 145h0M595 206h0M638 192h0M708 104h0M589 92h0M680 218h0M701 209h0M674 163h0M707 175h0M580 303h0M711 104h0M525 154h0M652 108h0M645 216h0M719 195h0M721 172h0M703 220h0M538 137h0M664 94h0M710 170h0M707 167h0M583 100h0M660 128h0M568 308h0M688 87h0M701 205h0M645 257h0M632 170h0M568 248h0M633 245h0M645 125h0M535 217h0M639 240h0M634 165h0M548 151h0M682 234h0M677 155h0M670 192h0M589 222h0M529 170h0M709 134h0M525 174h0M611 189h0M622 147h0M665 176h0M714 112h0M616 159h0M665 130h0M732 147h0M586 236h0M687 139h0M619 248h0M714 212h0M524 291h0M597 230h0M716 183h0M617 146h0M671 195h0M625 149h0M571 245h0M567 201h0M585 289h0M523 209h0M546 303h0M618 257h0M540 243h0M672 117h0M593 164h0M621 120h0M695 128h0M597 104h0M556 195h0M619 105h0M717 190h0M610 172h0M555 116h0M683 219h0M629 241h0M577 274h0M553 216h0M645 243h0M732 128h0M639 86h0M585 171h0M569 236h0M537 222h0M645 188h0M616 94h0M583 246h0M571 270h0M563 235h0M549 224h0M526 297h0M582 179h0M674 247h0M634 82h0M571 100h0M620 106h0M718 121h0M563 237h0M591 111h0M665 107h0M682 163h0M688 226h0M628 267h0M520 292h0M637 173h0M608 205h0M695 129h0M716 232h0M595 146h0M698 183h0M575 173h0M569 118h0M725 142h0M645 152h0M703 232h0M569 297h0M628 209h0M556 130h0M580 230h0M715 154h0M564 283h0M595 143h0M522 199h0M653 130h0M663 220h0M552 153h0M564 256h0M602 208h0M571 236h0M608 189h0M722 143h0M552 168h0M571 189h0M709 126h0M530 133h0M566 226h0M697 168h0M585 267h0M596 90h0M584 151h0M552 157h0M605 217h0M627 175h0M624 138h0M565 152h0M593 273h0M552 198h0M525 211h0M699 149h0M574 127h0M650 105h0M577 142h0M546 131h0M559 181h0M588 288h0M593 130h0M585 98h0M682 90h0M526 150h0M701 121h0M601 238h0M594 212h0M572 282h0M700 122h0M609 223h0M678 101h0M664 106h0M527 202h0M577 143h0M662 100h0M535 206h0M628 215h0M675 220h0M682 243h0M587 196h0M540 148h0M682 113h0M563 298h0M633 149h0M657 175h0M621 229h0M582 221h0M647 164h0M614 90h0M646 100h0M557 185h0M549 209h0M587 166h0M710 96h0M602 233h0M620 243h0M557 276h0M634 218h0M637 239h0M665 187h0M602 280h0M589 136h0M698 100h0M526 257h0M649 196h0M646 252h0M588 217h0M564 130h0M620 148h0M636 134h0M611 165h0M604 237h0M635 252h0M571 146h0M691 233h0M638 242h0M697 166h0M599 125h0M672 199h0M675 171h0M644 185h0M582 276h0M606 218h0M655 253h0M585 89h0M707 152h0M532 136h0M725 137h0M609 115h0M729 220h0M578 152h0M726 190h0M539 131h0M597 231h0M613 129h0M525 176h0M552 170h0M576 185h0M658 124h0M602 225h0M679 190h0M555 204h0M534 140h0M608 87h0M554 163h0M527 152h0M656 135h0M634 245h0M698 220h0M727 182h0M647 168h0M536 225h0M603 282h0M561 106h0M546 177h0M710 97h0M637 89h0M548 168h0M657 112h0M665 86h0M612 208h0M657 213h0M658 248h0M623 242h0M731 227h0M596 182h0M721 164h0M609 82h0M701 217h0M646 179h0M553 211h0M735 136h0M552 189h0M567 276h0M669 201h0M645 149h0M631 115h0M650 254h0M570 224h0M681 175h0M704 212h0M621 231h0M717 121h0M582 122h0M549 246h0M548 180h0M539 152h0M608 85h0M604 155h0M647 258h0M674 209h0M597 106h0M618 93h0M597 130h0M714 147h0M581 117h0M624 242h0M682 121h0M536 258h0M719 156h0M719 185h0M644 131h0M578 261h0M567 291h0M575 255h0M587 105h0M517 270h0M695 148h0M535 159h0M619 147h0M636 240h0M623 144h0M570 171h0M652 87h0M542 157h0M583 136h0M530 244h0M541 263h0M590 233h0M533 261h0M642 142h0M642 215h0M659 254h0M586 144h0M617 140h0M605 158h0M613 196h0M652 134h0M540 304h0M577 119h0M669 167h0M638 265h0M600 228h0M716 98h0M549 172h0M633 156h0M666 177h0M586 135h0M686 127h0M526 150h0M587 215h0M655 112h0M681 234h0M675 211h0M717 175h0M541 135h0M684 130h0M721 109h0M606 138h0M612 100h0M688 227h0M589 121h0M547 216h0M659 140h0M577 235h0M576 196h0M535 132h0M724 131h0M577 195h0M522 296h0M681 134h0M732 183h0M684 165h0M635 251h0M690 168h0M691 95h0M609 84h0M565 148h0M721 227h0M576 131h0M725 235h0M551 106h0M655 252h0M687 225h0M636 171h0M654 148h0M658 148h0M557 181h0M565 242h0M656 177h0M585 238h0M631 115h0M528 205h0M619 93h0M589 241h0M685 220h0M629 102h0M603 279h0M628 226h0M605 185h0M712 179h0M618 204h0M579 141h0M685 169h0M647 167h0M572 198h0M684 179h0M681 163h0M639 217h0M653 139h0M599 100h0M633 246h0M595 84h0M710 175h0M681 138h0M702 167h0M564 102h0M719 157h0M670 215h0M686 186h0M566 276h0M580 131h0M711 111h0M662 130h0M678 245h0M739 149h0M557 150h0M619 176h0M657 221h0M642 109h0M548 238h0M681 151h0M618 220h0M538 154h0M626 144h0M641 230h0M588 270h0M643 251h0M717 206h0M603 150h0M591 184h0M620 204h0M724 116h0M566 167h0M544 309h0M565 163h0M683 224h0M664 224h0M586 149h0M540 158h0M698 146h0M522 280h0M564 225h0M581 89h0M590 232h0M659 236h0M586 192h0M653 161h0M600 227h0M581 243h0M591 300h0M694 95h0M617 197h0M527 235h0M600 293h0M694 154h0M523 201h0M722 121h0M601 104h0M583 248h0M566 203h0M564 98h0M563 246h0M556 267h0M692 185h0M684 100h0M677 196h0M721 225h0M678 152h0M596 135h0M714 158h0M548 201h0M647 168h0M683 159h0M607 260h0M629 174h0M591 135h0M597 156h0M544 222h0M603 274h0M538 214h0M532 197h0M552 190h0M611 145h0M583 226h0M708 144h0M570 176h0M558 245h0M620 171h0M672 173h0M725 229h0M733 157h0M684 192h0M674 188h0M593 175h0M610 237h0M682 93h0M587 181h0M576 215h0M606 289h0M627 247h0M710 112h0M705 198h0M645 222h0M657 210h0M594 124h0M541 231h0M728 135h0M714 213h0M675 172h0M547 217h0M739 187h0M722 114h0M541 221h0M622 256h0M550 237h0M550 270h0M589 197h0M551 110h0M687 212h0M686 197h0M620 106h0M657 179h0M637 214h0M601 236h0M735 187h0M589 126h0M573 127h0M555 303h0M577 244h0M556 243h0M571 247h0M586 163h0M564 110h0M666 135h0M562 187h0M595 83h0M523 212h0M594 121h0M629 173h0M634 96h0M529 141h0M548 224h0M626 121h0M734 224h0M602 182h0M580 183h0M578 300h0M554 224h0M628 212h0M630 105h0M687 130h0M576 216h0M600 180h0M605 146h0M706 176h0M644 190h0M642 143h0M706 118h0M532 293h0M600 179h0M558 253h0M542 261h0M634 257h0M562 208h0M716 119h0M595 256h0M600 145h0M577 131h0M574 247h0M594 148h0M591 219h0M562 294h0M720 217h0M600 129h0M553 240h0M530 203h0M628 209h0M700 224h0M524 256h0M686 203h0M582 215h0M576 290h0M525 195h0M566 263h0M535 242h0M667 81h0M572 88h0M651 197h0M574 94h0M589 270h0M626 161h0M526 147h0M710 204h0M677 201h0M616 159h0M619 108h0M566 270h0M544 302h0M698 101h0M552 218h0M631 220h0M677 142h0M589 193h0M673 144h0M695 170h0M581 167h0M618 132h0M556 141h0M721 175h0M608 176h0M677 237h0M543 255h0M605 177h0M578 270h0M636 90h0M569 100h0M607 287h0M627 117h0M605 150h0M581 111h0M708 198h0M574 155h0M590 173h0M580 169h0M617 87h0M598 289h0M603 110h0M628 180h0M644 196h0M551 230h0M581 107h0M672 113h0M711 96h0M582 310h0M609 136h0M553 197h0M699 88h0M564 294h0M538 123h0M693 139h0M684 112h0M621 187h0M555 134h0M612 236h0M555 297h0M649 228h0M527 299h0M514 289h0M634 243h0M567 110h0M656 86h0M526 193h0M737 147h0M603 284h0M684 199h0M666 237h0M697 236h0M579 196h0M700 149h0M672 157h0M635 252h0M681 101h0M602 169h0M689 219h0M595 197h0M597 77h0M630 214h0M638 229h0M599 177h0M592 176h0M528 153h0M732 192h0M530 168h0M618 257h0M524 238h0M534 210h0M566 223h0M611 208h0M727 149h0M632 241h0M595 169h0M611 139h0M596 104h0M724 230h0M658 135h0M613 212h0M584 257h0M616 234h0M547 271h0M638 109h0M691 133h0M732 184h0M600 290h0M564 262h0M574 128h0M591 189h0M526 160h0M723 136h0M584 230h0M711 130h0M515 276h0M586 283h0M669 176h0M613 148h0M732 158h0M576 148h0M693 95h0M641 258h0M600 211h0M641 151h0M593 237h0M579 245h0M672 84h0M589 114h0M555 141h0M632 271h0M584 87h0M666 171h0M672 241h0M641 152h0M689 95h0M547 210h0M644 135h0M637 264h0M625 171h0M594 96h0M548 269h0M609 248h0M613 227h0M615 167h0M601 95h0M554 155h0M672 173h0M559 186h0M645 141h0M541 146h0M685 104h0M632 105h0M690 174h0M608 256h0M677 157h0M590 205h0M651 247h0M731 131h0M677 172h0M545 262h0M622 261h0M604 236h0M572 313h0M562 246h0M599 282h0M594 175h0M608 187h0M520 277h0M631 122h0M565 244h0M552 222h0M627 245h0M556 178h0M667 177h0M664 248h0M675 177h0M727 156h0M683 116h0M645 174h0M564 164h0M641 83h0M565 268h0M696 204h0M647 171h0M583 121h0M600 278h0M657 222h0M544 245h0M531 195h0M675 225h0M615 105h0M653 172h0M695 106h0M547 204h0M528 219h0M579 110h0M658 114h0M572 274h0M665 246h0M538 215h0M619 272h0M714 221h0M721 227h0M712 156h0M667 203h0M653 163h0M637 147h0M705 195h0M649 191h0M578 85h0M724 110h0M666 226h0M690 163h0M611 172h0M598 132h0M522 299h0M675 83h0M743 195h0M663 229h0M543 252h0M638 102h0M658 175h0M596 96h0M584 275h0M590 304h0M655 119h0M542 238h0M527 142h0M649 106h0M646 105h0M621 223h0M567 101h0M627 136h0M686 118h0M611 259h0M561 237h0M674 223h0M607 201h0M725 212h0M678 167h0M560 140h0M624 139h0M571 150h0M620 277h0M551 183h0M669 102h0M595 93h0M532 286h0M564 108h0M566 296h0M588 218h0M529 198h0M648 158h0M611 201h0M603 210h0M613 173h0M563 115h0M686 166h0M684 172h0M590 232h0M649 250h0M684 216h0M737 159h0M680 191h0M623 220h0M681 210h0M707 167h0M632 112h0M574 265h0M645 146h0M575 190h0M656 148h0M602 92h0M537 212h0M577 173h0M564 120h0M654 256h0M663 182h0M574 110h0M670 205h0M684 244h0M568 219h0M665 228h0M578 115h0M599 229h0M534 139h0M641 174h0M642 209h0M606 83h0M616 178h0M604 97h0M553 106h0M710 181h0M633 122h0M661 247h0M692 219h0M737 207h0M535 188h0M581 143h0M636 192h0M622 251h0M570 94h0M558 150h0M578 109h0M574 114h0M664 188h0M662 103h0M603 171h0M585 309h0M653 224h0M628 211h0M624 238h0M579 144h0M538 176h0M586 111h0M741 216h0M668 246h0M548 109h0M608 145h0M570 230h0M641 158h0M568 152h0M554 274h0M640 214h0M694 151h0M584 225h0M698 128h0M589 122h0M603 202h0M644 215h0M567 143h0M616 225h0M628 102h0M617 102h0M564 201h0M621 205h0M599 88h0M636 206h0M582 281h0M564 183h0M599 161h0M733 225h0M615 204h0M652 108h0M682 90h0M720 146h0M655 197h0M526 289h0M582 129h0M562 185h0M727 185h0M652 140h0M567 103h0M584 137h0M581 161h0M667 195h0M717 216h0M728 195h0M567 276h0M596 146h0M678 166h0M619 162h0M711 155h0M686 98h0M592 165h0M698 168h0M533 285h0M667 208h0M570 150h0M703 231h0M606 273h0M588 236h0M521 290h0M526 151h0M618 181h0M599 176h0M553 125h0M594 219h0M652 153h0M668 155h0M626 110h0M547 159h0M588 266h0M641 188h0M679 144h0M692 235h0M639 84h0M625 95h0M688 114h0M574 270h0M667 182h0M529 201h0M669 190h0M587 219h0M595 237h0M538 245h0M530 284h0M666 249h0M620 244h0M556 120h0M725 195h0M609 138h0M673 240h0M696 167h0M588 131h0M523 186h0M632 129h0M619 248h0M701 111h0M715 171h0M609 195h0M650 241h0M562 305h0M637 222h0M663 232h0M564 292h0M638 259h0M654 144h0M661 124h0M728 167h0M620 105h0M609 81h0M712 228h0M536 231h0M550 213h0M547 394h0M538 395h0M539 410h0M539 407h0M558 383h0M531 415h0M560 377h0M536 411h0M544 412h0M525 424h0M553 390h0M542 399h0M555 386h0M520 426h0M519 421h0M551 382h0M545 402h0M540 401h0M552 359h0M526 413h0M542 398h0M535 397h0M533 409h0M525 414h0M541 414h0M558 360h0M557 386h0M550 369h0M544 403h0M535 415h0M545 390h0M563 375h0M519 418h0M554 362h0M550 406h0M539 393h0M526 408h0M550 400h0M546 392h0M528 421h0M532 414h0M533 413h0M536 410h0M562 369h0M552 387h0M539 391h0M535 411h0M488 338h0M499 339h0M516 328h0M519 327h0M491 338h0M505 333h0M509 327h0M525 321h0M505 320h0M506 332h0M517 327h0M500 337h0M536 313h0M500 324h0M524 320h0M502 321h0M519 332h0M509 322h0M508 316h0M499 335h0M506 341h0M508 338h0M534 322h0M513 338h0M525 326h0M517 330h0M514 315h0M523 329h0M548 326h0M533 334h0M541 341h0M558 333h0M562 339h0M574 336h0M505 291h0M515 301h0M556 287h0M521 523h0M524 532h0M526 541h0M528 550h0M530 560h0M531 567h0M376 613h0M388 613h0M387 592h0M384 630h0M368 568h0M380 582h0M380 636h0M365 567h0M388 632h0M390 594h0M385 609h0M366 587h0M387 604h0M353 567h0M370 574h0M380 588h0M382 592h0M387 605h0M381 587h0M391 617h0M389 607h0M380 600h0M388 625h0M390 616h0M383 612h0M385 647h0M386 644h0M387 591h0M547 619h0M540 587h0M532 583h0M538 668h0M538 630h0M546 623h0M538 647h0M540 609h0M537 583h0M537 659h0M550 610h0M543 653h0M534 600h0M533 659h0M545 600h0M546 615h0M538 667h0M530 595h0M530 598h0M528 595h0M543 613h0M530 606h0M532 609h0M531 644h0M546 595h0M533 632h0M545 590h0M541 581h0M531 585h0M544 606h0M539 578h0M531 638h0M548 620h0M542 607h0M539 653h0M550 617h0M549 614h0M550 601h0M530 591h0M537 661h0M531 595h0M536 603h0M540 587h0M549 628h0M538 669h0M545 598h0M534 589h0M548 609h0M549 606h0M537 578h0M532 643h0M531 609h0M539 628h0M542 586h0M536 590h0M541 650h0M531 640h0M537 638h0M539 586h0M544 618h0M542 648h0M539 655h0M532 586h0M536 652h0M534 649h0M538 617h0M535 594h0M545 599h0M538 665h0M539 634h0M530 622h0M605 579h0M572 559h0M581 584h0M604 587h0M558 545h0M587 578h0M563 550h0M565 549h0M564 560h0M567 563h0M582 584h0M587 580h0M567 555h0M573 565h0M582 573h0M580 572h0M582 582h0M576 570h0M578 577h0M597 578h0M585 573h0M577 564h0M562 550h0M602 587h0M575 571h0M606 586h0M569 565h0M567 559h0M598 583h0M574 575h0M582 566h0M594 574h0M550 539h0M559 534h0M390 552h0"/><path stroke="#2671a1" d="M520 270h0M578 185h0M612 178h0M539 187h0M598 86h0M631 124h0M543 224h0M697 112h0M686 97h0M599 128h0M555 382h0M555 372h0"/><path stroke="#289393" d="M572 255h0M561 248h0M531 238h0M672 159h0M694 153h0M556 231h0M597 259h0M556 197h0M565 153h0M599 122h0M639 119h0M624 240h0M592 126h0M646 91h0M582 144h0M648 108h0M638 142h0M589 300h0M577 132h0M702 230h0M522 427h0M380 594h0"/><path stroke="#28b184" d="M532 296h0M655 98h0M617 268h0M610 104h0M549 187h0M689 209h0M552 378h0M378 598h0M370 571h0M369 593h0"/><path stroke="#2fd169" d="M361 567h0M392 610h0M367 570h0M389 639h0M348 565h0M374 581h0M383 604h0M373 586h0M374 598h0M381 624h0M355 573h0M377 593h0M390 624h0M381 603h0M392 622h0M386 635h0M387 643h0M378 603h0"/><path stroke="#43e84a" d="M165 234h0M168 314h0M321 203h0M286 347h0M243 401h0M249 266h0M318 451h0M279 175h0M249 438h0M301 445h0M321 198h0M202 440h0M152 288h0M181 259h0M326 482h0M327 189h0M321 355h0M212 438h0M285 292h0M321 176h0M235 370h0M257 389h0M306 296h0M291 407h0M263 218h0M189 252h0M265 230h0M181 306h0M344 495h0M225 409h0M291 246h0M327 455h0M436 416h0M348 366h0M272 429h0M238 293h0M324 405h0M304 366h0M197 388h0M295 427h0M384 409h0M271 402h0M360 420h0M334 275h0M372 365h0M206 341h0M260 194h0M283 345h0M459 440h0M156 225h0M391 453h0M150 300h0M262 325h0M263 432h0M399 392h0M296 238h0M489 422h0M248 270h0M180 237h0M370 434h0M248 278h0M299 395h0M296 328h0M239 376h0M215 430h0M505 455h0M278 216h0M338 173h0M278 246h0M213 427h0M289 277h0M517 500h0M326 371h0M268 378h0M400 468h0M326 321h0M331 299h0M358 378h0M205 457h0M330 426h0M240 424h0M269 217h0M329 245h0M478 488h0M277 351h0M285 300h0M177 270h0M331 280h0M189 348h0M203 393h0M252 440h0M341 455h0M331 312h0M305 400h0M253 226h0M318 416h0M329 173h0M296 403h0M468 466h0M316 203h0M317 205h0M320 212h0M180 340h0M293 408h0M216 253h0M245 204h0M426 415h0M279 409h0M185 380h0M212 212h0M309 437h0M203 242h0M332 344h0M262 262h0M460 489h0M383 382h0M331 169h0M387 381h0M238 199h0M274 449h0M286 325h0M263 178h0M381 491h0M312 241h0M378 446h0M249 432h0M249 206h0M327 293h0M335 342h0M281 317h0M355 370h0M261 437h0M296 472h0M346 369h0M298 263h0M317 306h0M277 309h0M282 410h0M478 431h0M173 319h0M293 228h0M274 145h0M265 260h0M313 276h0M194 439h0M257 367h0M324 368h0M421 400h0M323 437h0M325 320h0M397 535h0M392 385h0M284 331h0M363 313h0M182 265h0M350 226h0M356 211h0M265 435h0M205 384h0M248 438h0M217 457h0M279 418h0M208 236h0M300 399h0M503 452h0M143 294h0M367 481h0M354 238h0M165 343h0M238 354h0M190 389h0M255 458h0M341 449h0M325 415h0M366 390h0M307 283h0M273 162h0M305 226h0M230 290h0M329 355h0M260 250h0M347 273h0M364 323h0M231 283h0M358 323h0M201 379h0M336 225h0M199 354h0M213 335h0M310 447h0M170 370h0M433 448h0M212 349h0M190 423h0M329 456h0M252 213h0M165 334h0M310 262h0M296 450h0M249 382h0M352 312h0M230 430h0M493 442h0M158 262h0M143 219h0M229 371h0M330 197h0M295 435h0M381 371h0M369 480h0M310 396h0M483 477h0M312 208h0M298 291h0M480 525h0M346 433h0M223 210h0M332 458h0M231 449h0M246 354h0M249 466h0M261 246h0M320 302h0M417 500h0M268 380h0M248 314h0M347 464h0M246 294h0M334 186h0M361 323h0M308 238h0M251 191h0M303 240h0M204 292h0M310 210h0M271 362h0M274 373h0M288 419h0M376 466h0M283 277h0M173 303h0M298 416h0M175 357h0M275 218h0M309 162h0M259 249h0M312 263h0M217 343h0M421 534h0M274 356h0M212 409h0M199 255h0M484 494h0M358 242h0M402 517h0M317 234h0M192 261h0M252 261h0M298 313h0M394 393h0M148 248h0M374 394h0M206 247h0M230 315h0M223 448h0M364 218h0M369 409h0M228 446h0M235 440h0M272 298h0M357 258h0M329 184h0M178 294h0M144 252h0M345 474h0M348 260h0M285 233h0M310 209h0M175 286h0M355 239h0M371 434h0M202 226h0M203 435h0M237 344h0M268 419h0M383 505h0M342 226h0M308 234h0M389 431h0M332 347h0M212 218h0M313 429h0M237 355h0M180 359h0M162 350h0M177 335h0M270 164h0M257 290h0M137 267h0M179 303h0M301 203h0M348 188h0M459 445h0M369 489h0M234 364h0M147 283h0M288 186h0M136 255h0M373 457h0M249 387h0M317 258h0M309 370h0M146 294h0M314 203h0M376 511h0M380 366h0M337 334h0M201 256h0M331 288h0M445 457h0M382 368h0M314 417h0M225 324h0M280 310h0M154 294h0M260 195h0M216 287h0M330 294h0M298 166h0M183 314h0M233 301h0M249 341h0M306 268h0M280 369h0M255 229h0M271 412h0M298 298h0M241 321h0M233 429h0M411 472h0M429 487h0M347 322h0M378 426h0M229 439h0M232 453h0M151 285h0M271 238h0M276 168h0M237 309h0M279 287h0M180 259h0M245 460h0M385 404h0M240 469h0M264 413h0M521 498h0M434 527h0M310 409h0M206 390h0M254 216h0M261 192h0M345 465h0M511 463h0M321 285h0M262 390h0M240 369h0M350 214h0M236 469h0M432 487h0M312 304h0M259 254h0M241 355h0M213 216h0M302 288h0M384 522h0M222 386h0M350 292h0M422 461h0M242 298h0M215 385h0M323 195h0M335 385h0M239 411h0M180 269h0M259 317h0M298 300h0M240 389h0M275 398h0M298 418h0M238 445h0M343 329h0M148 265h0M341 422h0M307 405h0M465 521h0M274 239h0M483 526h0M264 240h0M273 362h0M405 419h0M468 447h0M264 230h0M468 460h0M271 294h0M248 220h0M325 447h0M285 407h0M280 263h0M363 350h0M405 519h0M176 377h0M153 318h0M173 245h0M467 443h0M256 327h0M307 337h0M167 347h0M237 359h0M286 314h0M321 429h0M311 245h0M280 401h0M241 362h0M299 358h0M464 442h0M149 271h0M419 451h0M338 402h0M157 237h0M307 451h0M284 248h0M355 186h0M316 406h0M510 497h0M216 311h0M271 431h0M218 306h0M265 206h0M317 284h0M299 297h0M141 232h0M235 475h0M342 204h0M212 356h0M279 302h0M214 414h0M410 477h0M303 469h0M274 469h0M270 223h0M312 227h0M338 319h0M257 405h0M296 228h0M479 498h0M347 272h0M466 505h0M459 417h0M270 357h0M372 432h0M226 210h0M178 311h0M297 246h0M152 322h0M277 150h0M284 232h0M295 186h0M475 441h0M347 431h0M146 307h0M483 508h0M168 337h0M330 307h0M287 269h0M180 355h0M347 224h0M218 338h0M174 337h0M325 409h0M307 268h0M371 438h0M443 519h0M235 470h0M310 369h0M501 428h0M426 471h0M367 274h0M213 380h0M229 249h0M228 330h0M333 476h0M245 465h0M232 278h0M318 379h0M321 360h0M234 375h0M336 286h0M324 173h0M348 420h0M303 239h0M176 298h0M332 274h0M282 177h0M260 350h0M347 221h0M281 275h0M184 255h0M311 293h0M325 479h0M308 165h0M236 196h0M381 468h0M226 435h0M191 244h0M348 222h0M345 208h0M376 432h0M324 272h0M258 468h0M307 250h0M250 210h0M362 272h0M241 377h0M291 382h0M309 281h0M293 393h0M302 250h0M169 355h0M338 402h0M241 231h0M203 443h0M273 404h0M342 305h0M206 462h0M147 248h0M343 395h0M279 385h0M395 381h0M209 227h0M246 202h0M232 326h0M249 195h0M267 331h0M316 279h0M469 479h0M257 394h0M293 240h0M213 429h0M329 360h0M348 197h0M370 416h0M387 393h0M321 474h0M273 430h0M172 387h0M135 254h0M337 206h0M203 397h0M217 439h0M355 345h0M389 404h0M367 495h0M182 239h0M224 455h0M259 428h0M349 441h0M455 491h0M444 528h0M329 433h0M278 394h0M309 339h0M304 317h0M154 231h0M284 197h0M365 385h0M268 369h0M351 283h0M162 235h0M476 492h0M204 228h0M227 298h0M231 433h0M183 368h0M373 482h0M212 360h0M248 255h0M443 427h0M289 467h0M411 418h0M520 499h0M197 450h0M244 372h0M223 265h0M272 416h0M329 418h0M221 356h0M218 475h0M148 304h0M290 167h0M337 491h0M336 311h0M445 508h0M365 484h0M318 233h0M359 253h0M217 389h0M289 386h0M238 403h0M160 271h0M258 454h0M246 385h0M225 281h0M278 166h0M226 404h0M326 383h0M417 493h0M267 149h0M318 405h0M182 355h0M370 370h0M317 357h0M278 221h0M358 356h0M436 490h0M356 435h0M354 456h0M376 413h0M163 242h0M213 343h0M274 324h0M246 217h0M336 225h0M384 459h0M178 273h0M160 225h0M405 394h0M345 456h0M385 388h0M282 282h0M314 312h0M255 209h0M444 426h0M186 435h0M304 410h0M320 433h0M341 266h0M285 358h0M337 261h0M303 444h0M233 224h0M306 224h0M239 322h0M348 365h0M242 324h0M244 356h0M173 251h0M272 460h0M235 360h0M282 440h0M258 232h0M271 168h0M322 272h0M313 152h0M284 187h0M284 212h0M322 288h0M429 529h0M333 475h0M280 285h0M348 351h0M295 423h0M226 401h0M353 451h0M340 426h0M206 208h0M265 211h0M386 376h0M196 325h0M479 478h0M201 408h0M269 310h0M486 427h0M241 311h0M378 380h0M244 229h0M330 219h0M321 196h0M369 421h0M292 317h0M356 286h0M220 386h0M246 321h0M300 319h0M318 329h0M223 435h0M250 427h0M219 295h0M287 335h0M234 312h0M266 170h0M263 459h0M356 315h0M198 407h0M179 319h0M211 339h0M294 242h0M280 180h0M308 295h0M312 251h0M247 288h0M174 380h0M309 213h0M257 202h0M356 230h0M349 262h0M338 483h0M285 349h0M161 273h0M374 386h0M274 360h0M342 488h0M185 307h0M150 246h0M241 466h0M201 255h0M326 475h0M344 270h0M346 214h0M228 328h0M294 225h0M412 506h0M315 449h0M235 273h0M252 313h0M278 269h0M358 354h0M279 187h0M178 236h0M138 267h0M317 362h0M175 349h0M163 283h0M224 479h0M300 261h0M378 468h0M246 355h0M156 324h0M430 458h0M365 221h0M381 396h0M513 503h0M299 461h0M224 428h0M311 196h0M282 437h0M272 421h0M239 328h0M259 344h0M284 393h0M208 428h0M325 277h0M415 507h0M269 211h0M369 366h0M256 226h0M176 255h0M299 177h0M144 291h0M309 239h0M374 451h0M416 470h0M269 374h0M347 262h0M343 409h0M365 342h0M291 264h0M471 427h0M255 370h0M306 344h0M321 439h0M267 388h0M159 258h0M220 385h0M313 184h0M287 178h0M247 269h0M264 197h0M137 231h0M139 220h0M287 294h0M265 301h0M211 451h0M268 265h0M278 177h0M290 339h0M311 243h0M265 209h0M446 411h0M228 204h0M283 279h0M411 487h0M370 442h0M257 375h0M285 227h0M159 344h0M322 403h0M261 225h0M394 487h0M275 299h0M269 308h0M272 345h0M347 408h0M254 336h0M217 369h0M162 336h0M227 272h0M328 349h0M243 313h0M313 210h0M214 442h0M307 215h0M242 374h0M364 455h0M361 431h0M187 389h0M329 276h0M311 458h0M205 385h0M396 392h0M235 319h0M241 466h0M255 369h0M151 325h0M493 521h0M239 317h0M336 349h0M297 165h0M160 271h0M204 430h0M349 306h0M367 503h0M370 373h0M313 255h0M172 224h0M261 436h0M176 284h0M338 428h0M356 388h0M331 452h0M292 429h0M397 382h0M184 236h0M209 461h0M267 305h0M403 394h0M190 430h0M216 259h0M402 451h0M259 451h0M422 539h0M265 467h0M263 327h0M498 431h0M174 288h0M325 212h0M329 381h0M156 273h0M364 216h0M240 452h0M284 453h0M257 439h0M336 363h0M357 290h0M334 269h0M147 293h0M211 370h0M239 362h0M384 410h0M219 238h0M285 237h0M358 245h0M324 200h0M295 445h0M300 159h0M243 298h0M259 430h0M209 348h0M398 478h0M291 310h0M290 189h0M353 331h0M352 287h0M203 447h0M504 447h0M330 362h0M326 305h0M161 268h0M242 337h0M404 387h0M202 215h0M224 429h0M224 394h0M332 335h0M307 407h0M386 462h0M447 443h0M218 386h0M200 362h0M335 382h0M294 283h0M395 493h0M280 338h0M263 234h0M380 408h0M227 308h0M345 296h0M369 362h0M329 240h0M303 180h0M209 454h0M146 238h0M349 235h0M279 323h0M299 175h0M223 335h0M246 371h0M320 401h0M358 297h0M359 470h0M163 305h0M154 315h0M301 204h0M173 322h0M310 168h0M216 438h0M323 337h0M242 317h0M276 264h0M253 439h0M267 230h0M261 475h0M329 263h0M277 277h0M246 439h0M204 360h0M299 286h0M268 239h0M276 330h0M330 403h0M261 310h0M269 435h0M269 220h0M358 276h0M304 213h0M281 461h0M305 218h0M259 339h0M283 304h0M208 456h0M240 308h0M377 413h0M303 183h0M297 381h0M283 267h0M284 149h0M233 361h0M338 180h0M313 191h0M409 480h0M328 360h0M171 225h0M495 477h0M333 345h0M376 432h0M149 249h0M198 240h0M255 244h0M330 183h0M263 290h0M303 171h0M284 436h0M501 481h0M254 276h0M185 378h0M320 359h0M335 307h0M275 264h0M356 219h0M204 360h0M150 314h0M295 419h0M280 285h0M361 292h0M352 442h0M320 454h0M264 322h0M401 516h0M273 236h0M368 485h0M349 235h0M305 370h0M309 305h0M275 329h0M219 465h0M361 465h0M345 214h0M329 336h0M208 211h0M472 432h0M337 480h0M232 337h0M286 178h0M305 405h0M324 470h0M169 241h0M303 448h0M301 226h0M294 284h0M352 260h0M324 202h0M278 149h0M371 501h0M334 436h0M316 259h0M276 342h0M320 417h0M312 260h0M146 290h0M365 379h0M338 308h0M267 373h0M268 341h0M325 345h0M228 300h0M399 448h0M282 214h0M368 480h0M369 368h0M268 262h0M214 373h0M345 319h0M243 364h0M363 358h0M176 340h0M160 231h0M262 402h0M264 475h0M333 414h0M165 338h0M495 466h0M359 284h0M338 235h0M257 247h0M306 412h0M279 197h0M357 241h0M270 420h0M185 242h0M349 247h0M418 412h0M406 447h0M249 259h0M199 381h0M142 243h0M191 308h0M498 523h0M372 391h0M281 329h0M318 366h0M357 319h0M358 226h0M383 495h0M229 306h0M316 403h0M238 422h0M286 145h0M269 165h0M279 250h0M357 292h0M211 466h0M265 226h0M300 265h0M363 500h0M146 283h0M279 349h0M288 401h0M162 327h0M225 460h0M233 468h0M415 487h0M261 449h0M152 291h0M148 261h0M310 304h0M451 461h0M362 489h0M272 312h0M276 381h0M213 359h0M332 274h0M364 284h0M377 504h0M305 250h0M134 237h0M192 416h0M154 335h0M334 376h0M178 254h0M302 260h0M365 379h0M475 476h0M277 469h0M341 279h0M315 378h0M389 465h0M280 147h0M215 410h0M461 453h0M328 164h0M255 227h0M454 510h0M212 456h0M291 464h0M170 339h0M322 245h0M326 370h0M365 257h0M206 259h0M349 436h0M367 435h0M223 481h0M382 493h0M350 227h0M435 501h0M399 419h0M352 287h0M351 410h0M352 276h0M220 281h0M329 437h0M368 428h0M169 233h0M347 474h0M198 232h0M318 448h0M426 486h0M169 360h0M459 467h0M340 250h0M301 250h0M374 420h0M340 331h0M197 365h0M330 419h0M166 237h0M217 214h0M361 309h0M358 470h0M352 371h0M501 444h0M330 369h0M412 514h0M342 341h0M243 193h0M156 258h0M148 257h0M299 401h0M193 444h0M193 371h0M175 322h0M165 343h0M265 201h0M152 325h0M255 397h0M234 481h0M273 373h0M297 281h0M316 384h0M312 241h0M306 365h0M335 332h0M167 221h0M216 377h0M343 252h0M169 254h0M251 364h0M251 300h0M299 408h0M312 352h0M380 372h0M230 372h0M195 441h0M219 205h0M367 323h0M324 394h0M315 187h0M205 415h0M369 344h0M331 352h0M369 446h0M426 487h0M273 272h0M300 156h0M330 222h0M370 483h0M176 316h0M268 436h0M268 197h0M240 363h0M294 458h0M234 328h0M274 275h0M266 202h0M298 446h0M389 446h0M150 323h0M289 377h0M372 390h0M277 228h0M226 432h0M183 388h0M247 402h0M377 476h0M296 187h0M283 287h0M219 408h0M348 201h0M281 431h0M373 504h0M220 429h0M362 445h0M306 237h0M212 256h0M269 159h0M149 262h0M361 264h0M148 281h0M277 427h0M153 281h0M474 487h0M306 404h0M384 397h0M271 293h0M261 300h0M319 188h0M211 392h0M348 312h0M252 464h0M246 316h0M309 245h0M196 239h0M360 378h0M400 484h0M297 147h0M287 441h0M362 231h0M329 471h0M295 420h0M283 394h0M346 192h0M322 428h0M231 298h0M505 438h0M175 360h0M322 341h0M415 430h0M310 247h0M257 472h0M156 319h0M488 498h0M275 291h0M214 315h0M355 387h0M329 444h0M354 491h0M261 451h0M306 462h0M374 451h0M302 320h0M294 187h0M351 347h0M287 381h0M211 380h0M160 273h0M363 282h0M275 237h0M217 284h0M206 450h0M314 459h0M296 263h0M257 326h0M368 462h0M170 314h0M310 341h0M318 178h0M225 339h0M316 183h0M275 427h0M235 426h0M232 209h0M278 472h0M368 435h0M160 241h0M281 329h0M313 161h0M365 414h0M307 333h0M198 463h0M373 458h0M362 261h0M300 202h0M352 266h0M231 362h0M300 303h0M391 333h0M389 323h0M381 323h0M386 321h0M429 353h0M428 359h0M448 363h0M406 367h0M449 364h0M425 354h0M449 360h0M426 359h0M439 360h0M417 356h0M410 366h0M426 355h0M406 336h0M425 344h0M435 386h0M200 212h0M206 210h0M467 351h0M479 350h0M383 610h0M378 603h0M377 580h0M349 571h0M376 592h0M357 573h0M380 632h0M384 610h0M374 588h0M377 595h0M391 603h0M367 591h0M359 574h0M352 563h0M379 597h0M378 600h0M370 579h0M384 595h0M356 566h0"/><path stroke="#7aee33" d="M301 376h0M213 393h0M353 300h0M216 359h0M364 409h0M269 279h0M354 439h0M322 277h0M396 496h0M200 449h0M335 203h0M353 407h0M396 387h0M215 358h0M383 435h0M347 231h0M290 387h0M219 402h0M150 237h0M449 526h0M212 355h0M278 246h0M227 399h0M265 309h0M236 438h0M281 155h0M279 463h0M153 234h0M341 241h0M301 357h0M251 427h0M166 342h0M370 354h0M215 306h0M242 453h0M244 372h0M363 316h0M354 442h0M299 330h0M166 222h0M229 257h0M275 293h0M269 181h0M279 189h0M376 415h0M343 453h0M378 486h0M342 353h0M345 417h0M257 432h0M233 369h0M488 519h0M199 417h0M208 351h0M208 216h0M210 396h0M359 320h0M315 161h0M234 271h0M359 312h0M270 219h0M287 176h0M231 245h0M265 156h0M366 442h0M259 366h0M321 195h0M240 466h0M250 445h0M222 279h0M279 385h0M346 462h0M352 290h0M301 229h0M503 479h0M156 259h0M218 276h0M272 389h0M195 456h0M275 458h0M458 487h0M317 391h0M308 321h0M319 162h0M313 338h0M199 437h0M437 476h0M316 364h0M212 341h0M227 370h0M194 246h0M372 428h0M273 313h0M336 467h0M230 338h0M278 426h0M289 170h0M413 412h0M344 193h0M386 466h0M221 438h0M478 521h0M513 472h0M361 304h0M225 378h0M169 224h0M306 325h0M313 361h0M186 383h0M280 331h0M318 199h0M215 372h0M328 416h0M185 360h0M373 452h0M279 407h0M257 204h0M249 375h0M305 259h0M247 279h0M286 149h0M307 287h0M171 262h0M272 256h0M355 420h0M283 452h0M206 428h0M458 436h0M309 323h0M322 233h0M401 507h0M358 195h0M341 484h0M274 308h0M225 370h0M241 439h0M227 473h0M340 468h0M249 289h0M348 258h0M441 435h0M310 414h0M349 397h0M168 329h0M206 404h0M159 344h0M265 422h0M363 451h0M309 291h0M294 227h0M248 462h0M230 398h0M317 304h0M166 272h0M157 322h0M379 449h0M257 387h0M281 391h0M384 503h0M242 422h0M294 340h0M301 285h0M281 389h0M288 276h0M343 228h0M169 296h0M283 476h0M207 360h0M149 263h0M394 381h0M313 393h0M313 355h0M266 213h0M285 185h0M352 304h0M241 460h0M283 416h0M313 264h0M166 251h0M369 373h0M161 320h0M362 355h0M414 412h0M284 382h0M255 346h0M223 338h0M275 402h0M251 279h0M371 487h0M281 305h0M461 509h0M148 283h0M329 442h0M311 454h0M311 305h0M180 327h0M183 324h0M312 170h0M285 202h0M247 324h0M210 440h0M301 378h0M320 337h0M340 332h0M199 378h0M183 364h0M432 404h0M192 428h0M428 475h0M319 295h0M276 262h0M223 350h0M419 486h0M255 373h0M333 481h0M238 411h0M360 233h0M417 519h0M211 466h0M223 322h0M324 226h0M353 381h0M314 303h0M339 418h0M360 360h0M508 466h0M145 224h0M344 438h0M259 280h0M332 421h0M270 317h0M357 229h0M233 353h0M336 212h0M356 279h0M391 487h0M190 437h0M262 421h0M329 384h0M229 289h0M306 191h0M361 349h0M321 325h0M277 204h0M313 429h0M260 203h0M270 307h0M312 452h0M366 482h0M236 203h0M251 292h0M330 346h0M194 232h0M258 400h0M284 246h0M214 217h0M360 296h0M449 461h0M416 516h0M217 457h0M366 433h0M255 239h0M191 253h0M188 240h0M523 500h0M245 301h0M347 229h0M255 332h0M205 260h0M291 229h0M355 276h0M251 273h0M483 430h0M275 468h0M221 371h0M327 224h0M473 486h0M155 242h0M364 447h0M313 334h0M285 328h0M205 362h0M136 240h0M279 182h0M319 337h0M167 338h0M199 255h0M327 443h0M251 299h0M342 436h0M345 248h0M172 229h0M149 241h0M168 229h0M227 299h0M153 235h0M338 370h0M323 420h0M312 407h0M309 177h0M167 246h0M331 261h0M149 265h0M302 399h0M327 255h0M297 262h0M150 318h0M184 235h0M282 264h0M303 303h0M379 474h0M332 263h0M287 393h0M342 247h0M181 293h0M366 422h0M216 467h0M400 391h0M459 468h0M392 408h0M154 301h0M400 481h0M180 389h0M211 401h0M344 334h0M348 435h0M328 203h0M214 394h0M345 225h0M339 463h0M217 350h0M144 289h0M233 303h0M332 238h0M509 448h0M263 374h0M217 361h0M410 411h0M302 404h0M325 236h0M214 208h0M443 480h0M340 236h0M282 257h0M364 431h0M204 261h0M454 476h0M243 472h0M182 366h0M396 436h0M323 219h0M327 270h0M342 382h0M196 223h0M247 379h0M283 316h0M331 374h0M223 376h0M269 376h0M228 401h0M329 310h0M371 424h0M278 157h0M198 389h0M288 170h0M457 511h0M184 301h0M313 299h0M438 522h0M442 460h0M184 359h0M353 453h0M171 311h0M338 216h0M291 248h0M213 454h0M317 196h0M346 422h0M245 328h0M295 242h0M150 229h0M313 427h0M378 401h0M408 408h0M265 295h0M279 225h0M362 420h0M222 448h0M219 307h0M282 312h0M349 302h0M319 286h0M301 465h0M314 272h0M348 279h0M316 384h0M234 363h0M141 242h0M217 335h0M274 394h0M326 389h0M383 325h0M433 362h0M452 374h0M454 400h0M390 594h0M379 585h0"/><path stroke="#b2f022" d="M393 515h0M401 470h0M451 463h0M450 475h0M492 522h0M437 504h0M388 524h0M401 519h0M402 466h0M444 467h0M459 478h0M510 502h0M456 472h0M519 470h0M502 435h0M457 437h0M433 411h0M430 437h0M436 532h0M412 443h0M411 421h0M504 484h0M398 443h0M421 477h0M390 470h0M485 441h0M458 437h0M439 463h0M441 435h0M386 397h0M470 465h0M497 479h0M470 501h0M463 511h0M391 491h0M426 470h0M463 494h0M494 499h0M471 477h0M515 505h0M449 442h0M481 426h0M428 473h0M433 515h0M487 427h0M498 518h0M430 423h0M420 401h0M452 451h0M412 480h0M441 476h0M409 467h0M469 501h0M451 479h0M513 459h0M467 505h0M477 446h0M425 481h0M465 481h0M388 491h0M435 505h0M389 444h0M459 448h0M502 464h0M451 512h0M474 419h0M421 421h0M520 512h0M398 507h0M424 457h0M460 433h0M405 418h0M434 500h0M424 459h0M399 417h0M393 495h0M386 482h0M392 395h0M475 526h0M452 416h0M402 534h0M542 651h0"/><path stroke="#ddf021" d="M478 476h0M389 512h0M430 405h0M414 444h0M452 525h0M432 422h0M457 458h0M391 427h0M402 504h0M431 521h0M415 484h0M403 537h0M420 504h0M408 454h0M513 513h0M445 416h0M457 436h0M443 516h0M448 437h0M391 507h0M471 486h0M408 395h0M494 458h0M464 509h0M458 436h0M469 469h0M446 421h0M478 473h0M417 471h0M398 500h0M450 437h0M514 438h0M480 516h0M397 446h0M486 464h0"/></g>
<rect x="1395.2" y="95.3" width="12.0" height="188.0" fill="url(#cb139595)" stroke="#222" stroke-width="0.8"/><path d="M1407.2 283.3h3" stroke="#000" stroke-width="1"/><text class="fl" x="1412.2" y="287.5" font-size="12">0</text><path d="M1407.2 242.8h3" stroke="#000" stroke-width="1"/><text class="fl" x="1412.2" y="247.0" font-size="12">2</text><path d="M1407.2 202.3h3" stroke="#000" stroke-width="1"/><text class="fl" x="1412.2" y="206.5" font-size="12">4</text><path d="M1407.2 161.7h3" stroke="#000" stroke-width="1"/><text class="fl" x="1412.2" y="165.9" font-size="12">6</text><path d="M1407.2 121.2h3" stroke="#000" stroke-width="1"/><text class="fl" x="1412.2" y="125.4" font-size="12">8</text>
<rect x="1801.6" y="92" width="10.600000000000136" height="187.3" fill="url(#cb180192)" stroke="#222" stroke-width="0.8"/><path d="M1812.2 279.3h3" stroke="#000" stroke-width="1"/><text class="fl" x="1817.2" y="283.5" font-size="12">0</text><path d="M1812.2 228.8h3" stroke="#000" stroke-width="1"/><text class="fl" x="1817.2" y="233.0" font-size="12">2</text><path d="M1812.2 178.3h3" stroke="#000" stroke-width="1"/><text class="fl" x="1817.2" y="182.5" font-size="12">4</text><path d="M1812.2 127.8h3" stroke="#000" stroke-width="1"/><text class="fl" x="1817.2" y="132.0" font-size="12">6</text>
<rect x="1389" y="483.7" width="10.5" height="187.00000000000006" fill="url(#cb1389483)" stroke="#222" stroke-width="0.8"/><path d="M1399.5 670.7h3" stroke="#000" stroke-width="1"/><text class="fl" x="1404.5" y="674.9" font-size="12">0</text><path d="M1399.5 627.5h3" stroke="#000" stroke-width="1"/><text class="fl" x="1404.5" y="631.7" font-size="12">2</text><path d="M1399.5 584.3h3" stroke="#000" stroke-width="1"/><text class="fl" x="1404.5" y="588.5" font-size="12">4</text><path d="M1399.5 541.1h3" stroke="#000" stroke-width="1"/><text class="fl" x="1404.5" y="545.3" font-size="12">6</text><path d="M1399.5 498.0h3" stroke="#000" stroke-width="1"/><text class="fl" x="1404.5" y="502.2" font-size="12">8</text>
<rect x="1778.7" y="480.2" width="11.099999999999909" height="187.8" fill="url(#cb1778480)" stroke="#222" stroke-width="0.8"/><path d="M1789.8 668.0h3" stroke="#000" stroke-width="1"/><text class="fl" x="1794.8" y="672.2" font-size="12">0</text><path d="M1789.8 624.6h3" stroke="#000" stroke-width="1"/><text class="fl" x="1794.8" y="628.8" font-size="12">2</text><path d="M1789.8 581.3h3" stroke="#000" stroke-width="1"/><text class="fl" x="1794.8" y="585.5" font-size="12">4</text><path d="M1789.8 537.9h3" stroke="#000" stroke-width="1"/><text class="fl" x="1794.8" y="542.1" font-size="12">6</text><path d="M1789.8 494.5h3" stroke="#000" stroke-width="1"/><text class="fl" x="1794.8" y="498.7" font-size="12">8</text>
<text class="fl" x="1341.3" y="20.7" font-size="29.43">K562 cell specific marker</text>
<text class="fl" x="1323.9" y="415.3" font-size="29.36">HEK293 cell specific marker</text>
<text class="fl" x="1381.6" y="76.6" font-size="30.28">PRAM</text>
<text class="fl" x="1788.5" y="76.2" font-size="30.24">GYPC</text>
<text class="fl" x="1381.6" y="459.8" font-size="29.27">UCHL1</text>
<text class="fl" x="1775.2" y="461.0" font-size="30.02">PLS3</text>
<text class="fb" x="938.5" y="47.2" font-size="41.50">b</text>
<path d="M1085 267.59999999999997V331.2H1150.8" fill="none" stroke="#000" stroke-width="2.0" stroke-linecap="square"/><path d="M1085 256.2l-4.7 11.4h9.4z M1162.2 331.2l-11.4 -4.7v9.4z" fill="#000"/>
<text class="fl" x="1084.5" y="355.4" font-size="25.51" textLength="75.5" lengthAdjust="spacingAndGlyphs">UMAP1</text>
<text class="fl" transform="translate(1077.3,333.8) rotate(-90)" font-size="22.86" textLength="86.6" lengthAdjust="spacingAndGlyphs">UMAP2</text>
<path d="M1501.1 267.7V331.3H1566.8999999999999" fill="none" stroke="#000" stroke-width="2.0" stroke-linecap="square"/><path d="M1501.1 256.3l-4.7 11.4h9.4z M1578.3 331.3l-11.4 -4.7v9.4z" fill="#000"/>
<text class="fl" x="1500.6" y="355.5" font-size="25.51" textLength="75.5" lengthAdjust="spacingAndGlyphs">UMAP1</text>
<text class="fl" transform="translate(1493.4,333.9) rotate(-90)" font-size="22.86" textLength="86.6" lengthAdjust="spacingAndGlyphs">UMAP2</text>
<path d="M1092.4 628.8V692.4H1158.2" fill="none" stroke="#000" stroke-width="2.0" stroke-linecap="square"/><path d="M1092.4 617.4l-4.7 11.4h9.4z M1169.6000000000001 692.4l-11.4 -4.7v9.4z" fill="#000"/>
<text class="fl" x="1091.9" y="716.6" font-size="25.51" textLength="75.5" lengthAdjust="spacingAndGlyphs">UMAP1</text>
<text class="fl" transform="translate(1084.7,695.0) rotate(-90)" font-size="22.86" textLength="86.6" lengthAdjust="spacingAndGlyphs">UMAP2</text>
<path d="M1501.2 629.4V693H1567.0" fill="none" stroke="#000" stroke-width="2.0" stroke-linecap="square"/><path d="M1501.2 618l-4.7 11.4h9.4z M1578.4 693l-11.4 -4.7v9.4z" fill="#000"/>
<text class="fl" x="1500.7" y="717.2" font-size="25.51" textLength="75.5" lengthAdjust="spacingAndGlyphs">UMAP1</text>
<text class="fl" transform="translate(1493.5,695.6) rotate(-90)" font-size="22.86" textLength="86.6" lengthAdjust="spacingAndGlyphs">UMAP2</text>
<text class="fb" x="27.1" y="812.9" font-size="41.50">c</text>
<text class="fl" x="160.8" y="795.5" font-size="36.66">HEK293 cells</text>
<path d="M92.50 1153.90V1147.78H99.58V1074.34H106.65V902.98H113.73V927.46H120.81V902.98H127.88V909.10H134.96V884.62H142.04V890.74H149.12V909.10H156.19V964.18H163.27V988.66H170.35V1031.50H177.42V1031.50H184.50V1025.38H191.58V1068.22H198.66V1068.22H205.73V1055.98H212.81V1068.22H219.89V1098.82H226.96V1068.22H234.04V1092.70H241.12V1049.86H248.19V1037.62H255.27V1104.94H262.35V1111.06H269.43V1062.10H276.50V1074.34H283.58V1098.82H290.66V1019.26H297.73V1055.98H304.81V1104.94H311.89V1031.50H318.96V1086.58H326.04V1111.06H333.12V1092.70H340.19V1129.42H347.27V1117.18H354.35V1092.70H361.43V1111.06H368.50V1135.54H375.58V1117.18H382.66V1123.30H389.73V1129.42H396.81V1117.18H403.89V1129.42H410.96V1141.66H418.04V1153.90H425.12V1141.66H432.20V1153.90Z" fill="#3d3d3d" stroke="#262626" stroke-width="0.9"/>
<path d="M75.0 869.4V1153.9" stroke="#000" stroke-width="1.3" fill="none"/>
<path d="M75.0 1153.9h-9M75.0 1092.7h-9M75.0 1031.5h-9M75.0 970.3h-9M75.0 909.1h-9" stroke="#000" stroke-width="1.3"/>
<text class="fd" x="45.4" y="1162.5" font-size="23.30">0</text>
<text class="fd" x="30.6" y="1101.3" font-size="23.30">10</text>
<text class="fd" x="30.6" y="1040.1" font-size="23.30">20</text>
<text class="fd" x="30.6" y="978.9" font-size="23.30">30</text>
<text class="fd" x="30.6" y="917.7" font-size="23.30">40</text>
<path d="M66.9 1153.9H464.0" stroke="#000" stroke-width="1.3"/><path d="M75.8 1153.9v5.6M85.3 1153.9v5.6M93.4 1153.9v5.6M100.3 1153.9v5.6M106.5 1153.9v5.6M112.0 1153.9v8.8M148.2 1153.9v5.6M169.4 1153.9v5.6M184.4 1153.9v5.6M196.1 1153.9v5.6M205.6 1153.9v5.6M213.7 1153.9v5.6M220.6 1153.9v5.6M226.8 1153.9v5.6M232.3 1153.9v8.8M268.5 1153.9v5.6M289.7 1153.9v5.6M304.7 1153.9v5.6M316.4 1153.9v5.6M325.9 1153.9v5.6M334.0 1153.9v5.6M340.9 1153.9v5.6M347.1 1153.9v5.6M352.6 1153.9v8.8M388.8 1153.9v5.6M410.0 1153.9v5.6M425.0 1153.9v5.6M436.7 1153.9v5.6M446.2 1153.9v5.6M454.3 1153.9v5.6M461.2 1153.9v5.6" stroke="#000" stroke-width="1.2"/>
<text class="fd" x="91.9" y="1186.6" font-size="23.4">10<tspan font-size="16.1" dy="-8.7">2</tspan></text>
<text class="fd" x="211.6" y="1186.6" font-size="23.4">10<tspan font-size="16.1" dy="-8.7">3</tspan></text>
<text class="fd" x="331.9" y="1186.6" font-size="23.4">10<tspan font-size="16.1" dy="-8.7">4</tspan></text>
<text class="fd" x="143.1" y="1226.2" font-size="25.54">number of plasmids</text>
<text class="fd" transform="translate(18.9,1049.7) rotate(-90)" font-size="25.11">Count</text>
<text class="fl" x="293.7" y="907.0" font-size="28.44">median = 341</text>
<text class="fb" x="581.1" y="788.2" font-size="41.50">d</text>
<text class="fl" x="730.4" y="795.4" font-size="36.71">K562 cells</text>
<path d="M624.90 1147.60V1143.20H632.27V1107.97H639.64V1046.33H647.01V1028.72H654.38V997.90H661.75V931.85H669.12V945.06H676.49V865.81H683.86V892.23H691.23V896.63H698.60V940.66H705.97V927.45H713.34V1002.30H720.71V984.69H728.08V1015.51H735.45V1050.73H742.82V1077.15H750.19V1103.57H757.56V1068.35H764.93V1129.99H772.30V1121.18H779.67V1116.78H787.04V1138.79H794.41V1134.39H801.78V1138.79H809.15V1147.60H816.52V1143.20H823.89V1143.20H831.26V1143.20H838.63V1147.60H846.00V1143.20H853.37V1143.20H860.74V1143.20H868.11V1147.60H875.48V1147.60H882.85V1143.20H890.22V1143.20H897.59V1147.60H904.96V1147.60H912.33V1143.20H919.70V1147.60Z" fill="#3d3d3d" stroke="#262626" stroke-width="0.9"/>
<path d="M607.0 851.6V1147.6" stroke="#000" stroke-width="1.3" fill="none"/>
<path d="M607.0 1147.6h-9M607.0 1059.5h-9M607.0 971.5h-9M607.0 883.4h-9" stroke="#000" stroke-width="1.3"/>
<text class="fd" x="575.7" y="1156.6" font-size="24.40">0</text>
<text class="fd" x="560.2" y="1068.5" font-size="24.40">20</text>
<text class="fd" x="560.2" y="980.5" font-size="24.40">40</text>
<text class="fd" x="560.2" y="892.4" font-size="24.40">60</text>
<path d="M598.0 1147.6H1011.8" stroke="#000" stroke-width="1.3"/><path d="M610.7 1147.6v5.6M623.3 1147.6v5.6M634.3 1147.6v5.6M644.0 1147.6v5.6M652.6 1147.6v8.8M709.5 1147.6v5.6M742.8 1147.6v5.6M766.4 1147.6v5.6M784.7 1147.6v5.6M799.7 1147.6v5.6M812.3 1147.6v5.6M823.3 1147.6v5.6M833.0 1147.6v5.6M841.6 1147.6v8.8M898.5 1147.6v5.6M931.8 1147.6v5.6M955.4 1147.6v5.6M973.7 1147.6v5.6M988.7 1147.6v5.6M1001.3 1147.6v5.6M1012.3 1147.6v5.6" stroke="#000" stroke-width="1.2"/>
<text class="fd" x="631.7" y="1182.5" font-size="24.4">10<tspan font-size="16.8" dy="-9.0">2</tspan></text>
<text class="fd" x="820.5" y="1182.5" font-size="24.4">10<tspan font-size="16.8" dy="-9.0">3</tspan></text>
<text class="fd" x="682.6" y="1230.2" font-size="26.53">number of plasmids</text>
<text class="fd" transform="translate(549.0,1039.0) rotate(-90)" font-size="26.63">Count</text>
<text class="fl" x="818.4" y="912.2" font-size="33.36">median = 164</text>
<text class="fb" x="1118.0" y="789.6" font-size="41.50">e</text>
<text class="fl" x="1356.9" y="795.6" font-size="36.74">HEK293 cells</text>
<g fill="#404040" stroke="#000" stroke-width="1.5"><rect x="1251.00" y="1209.04" width="8.86" height="4.37"/><rect x="1277.59" y="1204.67" width="8.86" height="8.73"/><rect x="1286.45" y="1204.67" width="8.86" height="8.73"/><rect x="1295.32" y="1195.94" width="8.86" height="17.46"/><rect x="1304.18" y="1195.94" width="8.86" height="17.46"/><rect x="1313.04" y="1143.56" width="8.86" height="69.84"/><rect x="1321.90" y="1086.82" width="8.86" height="126.59"/><rect x="1330.77" y="951.50" width="8.86" height="261.90"/><rect x="1339.63" y="890.39" width="8.86" height="323.01"/><rect x="1348.49" y="816.19" width="8.86" height="397.22"/><rect x="1357.36" y="859.84" width="8.86" height="353.56"/><rect x="1366.22" y="907.85" width="8.86" height="305.55"/><rect x="1375.08" y="947.14" width="8.86" height="266.26"/><rect x="1383.94" y="1021.34" width="8.86" height="192.06"/><rect x="1392.81" y="1113.01" width="8.86" height="100.40"/><rect x="1401.67" y="1091.18" width="8.86" height="122.22"/><rect x="1410.53" y="1139.20" width="8.86" height="74.20"/><rect x="1419.40" y="1156.66" width="8.86" height="56.75"/><rect x="1428.26" y="1152.29" width="8.86" height="61.11"/><rect x="1437.12" y="1178.48" width="8.86" height="34.92"/><rect x="1445.99" y="1182.85" width="8.86" height="30.55"/><rect x="1454.85" y="1178.48" width="8.86" height="34.92"/><rect x="1463.71" y="1195.94" width="8.86" height="17.46"/><rect x="1472.58" y="1178.48" width="8.86" height="34.92"/><rect x="1481.44" y="1204.67" width="8.86" height="8.73"/><rect x="1508.03" y="1204.67" width="8.86" height="8.73"/><rect x="1534.62" y="1209.04" width="8.86" height="4.37"/><rect x="1543.48" y="1209.04" width="8.86" height="4.37"/><rect x="1596.66" y="1209.04" width="8.86" height="4.37"/></g>
<path d="M1233.1 796.0V1213.4" stroke="#000" stroke-width="1.3" fill="none"/>
<path d="M1233.1 1213.4h-9M1233.1 1126.1h-9M1233.1 1038.8h-9M1233.1 951.5h-9M1233.1 864.2h-9" stroke="#000" stroke-width="1.3"/>
<text class="fd" x="1201.2" y="1223.4" font-size="27.10">0</text>
<text class="fd" x="1183.9" y="1136.1" font-size="27.10">20</text>
<text class="fd" x="1183.9" y="1048.8" font-size="27.10">40</text>
<text class="fd" x="1183.9" y="961.5" font-size="27.10">60</text>
<text class="fd" x="1183.9" y="874.2" font-size="27.10">80</text>
<path d="M1224.0 1213.4H1623.3" stroke="#000" stroke-width="1.3"/><path d="M1242.2 1213.4v5.6M1274.2 1213.4v5.6M1299.1 1213.4v5.6M1319.4 1213.4v5.6M1336.5 1213.4v5.6M1351.4 1213.4v5.6M1364.5 1213.4v5.6M1376.2 1213.4v8.8M1453.3 1213.4v5.6M1498.4 1213.4v5.6M1530.4 1213.4v5.6M1555.3 1213.4v5.6M1575.6 1213.4v5.6M1592.7 1213.4v5.6M1607.6 1213.4v5.6M1620.7 1213.4v5.6" stroke="#000" stroke-width="1.2"/>
<text class="fd" x="1353.2" y="1248.3" font-size="27.1">10<tspan font-size="18.7" dy="-10.0">1</tspan></text>
<text class="fd" x="1277.8" y="1284.5" font-size="27.89">Mean Number of rBC</text>
<text class="fd" x="1288.1" y="1314.7" font-size="27.84">per Plasmid per Cell</text>
<text class="fd" transform="translate(1170.4,1047.0) rotate(-90)" font-size="27.67">Count</text>
<text class="fb" x="1622.7" y="811.8" font-size="41.50">f</text>
<text class="fl" x="1839.8" y="795.6" font-size="36.73">K562 cells</text>
<g fill="#404040" stroke="#000" stroke-width="1.5"><rect x="1709.50" y="1102.18" width="8.20" height="111.02"/><rect x="1717.70" y="1161.96" width="8.20" height="51.24"/><rect x="1725.90" y="1119.26" width="8.20" height="93.94"/><rect x="1734.10" y="1089.37" width="8.20" height="123.83"/><rect x="1742.30" y="982.62" width="8.20" height="230.58"/><rect x="1750.50" y="935.65" width="8.20" height="277.55"/><rect x="1758.70" y="931.38" width="8.20" height="281.82"/><rect x="1766.90" y="816.09" width="8.20" height="397.11"/><rect x="1775.10" y="922.84" width="8.20" height="290.36"/><rect x="1783.30" y="884.41" width="8.20" height="328.79"/><rect x="1791.50" y="914.30" width="8.20" height="298.90"/><rect x="1799.70" y="1076.56" width="8.20" height="136.64"/><rect x="1807.90" y="1102.18" width="8.20" height="111.02"/><rect x="1816.10" y="1153.42" width="8.20" height="59.78"/><rect x="1824.30" y="1153.42" width="8.20" height="59.78"/><rect x="1832.50" y="1204.66" width="8.20" height="8.54"/><rect x="1840.70" y="1208.93" width="8.20" height="4.27"/><rect x="1865.30" y="1204.66" width="8.20" height="8.54"/><rect x="1881.70" y="1204.66" width="8.20" height="8.54"/></g>
<path d="M1700.5 796.2V1213.2" stroke="#000" stroke-width="1.3" fill="none"/>
<path d="M1700.5 1213.2h-9M1700.5 1127.8h-9M1700.5 1042.4h-9M1700.5 957.0h-9M1700.5 871.6h-9" stroke="#000" stroke-width="1.3"/>
<text class="fd" x="1668.4" y="1223.2" font-size="27.10">0</text>
<text class="fd" x="1651.1" y="1137.8" font-size="27.10">20</text>
<text class="fd" x="1651.1" y="1052.4" font-size="27.10">40</text>
<text class="fd" x="1651.1" y="967.0" font-size="27.10">60</text>
<text class="fd" x="1651.1" y="881.6" font-size="27.10">80</text>
<path d="M1691.3 1213.2H2091.0" stroke="#000" stroke-width="1.3"/><path d="M1700.4 1213.2v5.6M1709.5 1213.2v8.8M1769.6 1213.2v5.6M1804.7 1213.2v5.6M1829.6 1213.2v5.6M1848.9 1213.2v5.6M1864.7 1213.2v5.6M1878.1 1213.2v5.6M1889.7 1213.2v5.6M1899.9 1213.2v5.6M1909.0 1213.2v8.8M1969.1 1213.2v5.6M2004.2 1213.2v5.6M2029.1 1213.2v5.6M2048.4 1213.2v5.6M2064.2 1213.2v5.6M2077.6 1213.2v5.6M2089.2 1213.2v5.6" stroke="#000" stroke-width="1.2"/>
<text class="fd" x="1685.8" y="1248.3" font-size="27.1">10<tspan font-size="18.7" dy="-10.0">0</tspan></text>
<text class="fd" x="1886.0" y="1248.3" font-size="27.1">10<tspan font-size="18.7" dy="-10.0">1</tspan></text>
<text class="fd" x="1744.7" y="1283.2" font-size="27.93">Mean Number of rBC</text>
<text class="fd" x="1755.2" y="1313.7" font-size="27.87">per Plasmid per Cell</text>
<text class="fd" transform="translate(1639.2,1045.8) rotate(-90)" font-size="27.74">Count</text>
<text class="fb" x="502.2" y="1383.2" font-size="41.50">g</text>
<text class="fl" x="686.5" y="1467.0" font-size="36.67">K562 cells</text>
<g class="sg" fill="#151515" stroke="#fff" stroke-width="0.8"><circle cx="638.9" cy="1667.3"/><circle cx="622.6" cy="1713.0"/><circle cx="673.1" cy="1649.0"/><circle cx="632.4" cy="1674.4"/><circle cx="649.5" cy="1663.5"/><circle cx="650.6" cy="1692.2"/><circle cx="650.1" cy="1664.2"/><circle cx="609.8" cy="1692.7"/><circle cx="656.1" cy="1707.0"/><circle cx="644.4" cy="1701.0"/><circle cx="664.2" cy="1649.0"/><circle cx="642.7" cy="1648.7"/><circle cx="667.1" cy="1697.0"/><circle cx="663.3" cy="1710.1"/><circle cx="634.7" cy="1712.0"/><circle cx="657.6" cy="1703.6"/><circle cx="644.7" cy="1723.3"/><circle cx="637.6" cy="1670.3"/><circle cx="648.1" cy="1702.8"/><circle cx="685.8" cy="1693.8"/><circle cx="667.7" cy="1633.7"/><circle cx="651.0" cy="1701.8"/><circle cx="721.6" cy="1615.2"/><circle cx="665.6" cy="1649.8"/><circle cx="648.8" cy="1691.7"/><circle cx="611.9" cy="1684.6"/><circle cx="645.0" cy="1675.3"/><circle cx="647.9" cy="1642.3"/><circle cx="664.4" cy="1712.7"/><circle cx="629.9" cy="1696.3"/><circle cx="659.6" cy="1653.6"/><circle cx="645.8" cy="1691.8"/><circle cx="728.4" cy="1648.5"/><circle cx="657.1" cy="1661.9"/><circle cx="641.4" cy="1612.1"/><circle cx="637.9" cy="1709.3"/><circle cx="652.2" cy="1682.0"/><circle cx="636.6" cy="1712.1"/><circle cx="657.2" cy="1682.7"/><circle cx="651.7" cy="1690.0"/><circle cx="644.1" cy="1701.7"/><circle cx="609.8" cy="1720.7"/><circle cx="654.7" cy="1647.1"/><circle cx="651.9" cy="1676.3"/><circle cx="658.8" cy="1721.0"/><circle cx="759.2" cy="1577.6"/><circle cx="706.5" cy="1663.0"/><circle cx="661.3" cy="1664.2"/><circle cx="656.5" cy="1704.0"/><circle cx="661.0" cy="1681.1"/><circle cx="652.5" cy="1589.9"/><circle cx="625.7" cy="1780.1"/><circle cx="647.2" cy="1651.7"/><circle cx="650.9" cy="1648.8"/><circle cx="635.0" cy="1726.2"/><circle cx="628.3" cy="1677.4"/><circle cx="656.8" cy="1693.1"/><circle cx="635.0" cy="1668.0"/><circle cx="666.5" cy="1693.0"/><circle cx="633.4" cy="1704.9"/><circle cx="662.3" cy="1636.6"/><circle cx="631.1" cy="1726.7"/><circle cx="626.7" cy="1709.3"/><circle cx="660.7" cy="1707.3"/><circle cx="680.5" cy="1715.1"/><circle cx="652.3" cy="1623.3"/><circle cx="637.8" cy="1723.3"/><circle cx="660.6" cy="1665.5"/><circle cx="649.0" cy="1710.4"/><circle cx="660.3" cy="1721.0"/><circle cx="647.7" cy="1727.3"/><circle cx="627.2" cy="1700.1"/><circle cx="648.4" cy="1688.2"/><circle cx="619.1" cy="1695.9"/><circle cx="634.7" cy="1711.1"/><circle cx="643.2" cy="1634.8"/><circle cx="608.6" cy="1722.0"/><circle cx="638.4" cy="1711.9"/><circle cx="629.0" cy="1645.4"/><circle cx="670.2" cy="1662.8"/><circle cx="641.9" cy="1719.3"/><circle cx="631.8" cy="1667.5"/><circle cx="628.3" cy="1689.3"/><circle cx="650.5" cy="1700.5"/><circle cx="637.1" cy="1695.2"/><circle cx="651.3" cy="1686.5"/><circle cx="685.8" cy="1638.3"/><circle cx="663.6" cy="1675.1"/><circle cx="651.3" cy="1680.2"/><circle cx="655.9" cy="1665.4"/><circle cx="642.4" cy="1733.7"/><circle cx="605.7" cy="1727.7"/><circle cx="647.1" cy="1677.0"/><circle cx="638.9" cy="1658.2"/><circle cx="630.8" cy="1727.8"/><circle cx="659.4" cy="1683.5"/><circle cx="652.9" cy="1726.2"/><circle cx="623.1" cy="1736.0"/><circle cx="638.4" cy="1695.8"/><circle cx="680.4" cy="1674.7"/><circle cx="649.1" cy="1706.5"/><circle cx="618.0" cy="1720.8"/><circle cx="640.1" cy="1655.1"/><circle cx="640.1" cy="1696.3"/><circle cx="614.2" cy="1727.7"/><circle cx="668.3" cy="1647.7"/><circle cx="633.3" cy="1742.7"/><circle cx="659.9" cy="1702.3"/><circle cx="612.1" cy="1725.8"/><circle cx="650.7" cy="1710.4"/><circle cx="645.5" cy="1670.5"/><circle cx="648.1" cy="1712.7"/><circle cx="620.8" cy="1711.2"/><circle cx="665.4" cy="1666.2"/><circle cx="664.0" cy="1663.4"/><circle cx="658.2" cy="1632.1"/><circle cx="652.2" cy="1698.5"/><circle cx="639.8" cy="1683.5"/><circle cx="822.1" cy="1645.4"/><circle cx="636.5" cy="1701.4"/><circle cx="652.1" cy="1723.6"/><circle cx="649.3" cy="1682.2"/><circle cx="646.4" cy="1723.4"/><circle cx="641.9" cy="1702.1"/><circle cx="680.2" cy="1679.6"/><circle cx="648.6" cy="1707.7"/><circle cx="657.8" cy="1702.8"/><circle cx="625.6" cy="1632.1"/><circle cx="650.0" cy="1699.1"/><circle cx="653.5" cy="1723.0"/><circle cx="652.6" cy="1697.7"/><circle cx="648.7" cy="1635.4"/><circle cx="634.4" cy="1728.7"/><circle cx="640.9" cy="1694.4"/><circle cx="639.8" cy="1668.0"/><circle cx="641.0" cy="1741.6"/><circle cx="630.3" cy="1632.8"/><circle cx="644.2" cy="1627.8"/><circle cx="625.4" cy="1687.5"/><circle cx="643.8" cy="1725.3"/><circle cx="654.9" cy="1637.0"/><circle cx="636.6" cy="1680.6"/><circle cx="642.0" cy="1653.5"/><circle cx="656.0" cy="1668.4"/><circle cx="642.0" cy="1692.1"/><circle cx="656.0" cy="1700.7"/><circle cx="659.6" cy="1731.9"/><circle cx="629.3" cy="1702.3"/><circle cx="680.1" cy="1677.4"/><circle cx="639.7" cy="1649.3"/><circle cx="626.2" cy="1721.9"/><circle cx="656.8" cy="1649.4"/><circle cx="643.0" cy="1705.0"/><circle cx="709.9" cy="1580.4"/><circle cx="639.9" cy="1657.0"/><circle cx="626.8" cy="1681.0"/><circle cx="642.7" cy="1677.7"/><circle cx="631.3" cy="1701.4"/><circle cx="648.2" cy="1651.2"/><circle cx="648.3" cy="1700.9"/><circle cx="698.8" cy="1599.2"/><circle cx="672.6" cy="1693.4"/><circle cx="669.1" cy="1664.5"/><circle cx="611.9" cy="1691.3"/><circle cx="646.1" cy="1720.0"/><circle cx="631.4" cy="1692.2"/><circle cx="725.3" cy="1579.1"/><circle cx="646.6" cy="1692.2"/><circle cx="685.2" cy="1703.2"/><circle cx="635.7" cy="1712.9"/><circle cx="663.1" cy="1668.7"/><circle cx="635.9" cy="1719.1"/><circle cx="616.5" cy="1712.4"/><circle cx="643.4" cy="1678.4"/><circle cx="663.4" cy="1704.9"/><circle cx="637.1" cy="1709.0"/><circle cx="655.3" cy="1729.6"/><circle cx="664.3" cy="1695.7"/><circle cx="621.2" cy="1685.5"/><circle cx="643.3" cy="1701.8"/><circle cx="616.6" cy="1728.8"/><circle cx="646.2" cy="1662.3"/><circle cx="622.7" cy="1724.0"/><circle cx="633.2" cy="1700.6"/><circle cx="617.0" cy="1691.9"/><circle cx="678.9" cy="1665.7"/><circle cx="677.6" cy="1733.4"/><circle cx="638.1" cy="1701.1"/><circle cx="653.9" cy="1687.0"/><circle cx="646.7" cy="1702.3"/><circle cx="749.3" cy="1637.1"/><circle cx="616.4" cy="1730.6"/><circle cx="599.5" cy="1732.4"/><circle cx="638.3" cy="1654.1"/><circle cx="620.4" cy="1674.9"/><circle cx="634.0" cy="1696.8"/><circle cx="624.1" cy="1718.6"/><circle cx="662.4" cy="1691.7"/><circle cx="624.2" cy="1668.0"/><circle cx="650.0" cy="1742.3"/><circle cx="652.9" cy="1677.0"/><circle cx="629.7" cy="1734.9"/><circle cx="673.0" cy="1689.5"/><circle cx="660.4" cy="1705.3"/><circle cx="628.3" cy="1638.7"/><circle cx="626.6" cy="1720.3"/><circle cx="631.2" cy="1696.6"/><circle cx="659.0" cy="1670.6"/><circle cx="639.9" cy="1645.7"/><circle cx="701.9" cy="1630.6"/><circle cx="663.0" cy="1705.6"/><circle cx="655.1" cy="1678.9"/><circle cx="640.5" cy="1744.4"/><circle cx="639.8" cy="1688.1"/><circle cx="620.8" cy="1688.7"/><circle cx="679.0" cy="1699.9"/><circle cx="629.1" cy="1661.6"/><circle cx="712.0" cy="1609.0"/><circle cx="628.2" cy="1671.1"/><circle cx="634.2" cy="1730.0"/><circle cx="648.4" cy="1649.5"/><circle cx="632.4" cy="1690.5"/><circle cx="669.5" cy="1564.3"/><circle cx="664.1" cy="1667.5"/><circle cx="636.9" cy="1739.5"/><circle cx="647.1" cy="1690.9"/><circle cx="641.4" cy="1633.9"/><circle cx="654.1" cy="1660.6"/><circle cx="684.9" cy="1702.2"/><circle cx="634.9" cy="1700.7"/><circle cx="628.5" cy="1678.3"/><circle cx="647.8" cy="1710.1"/><circle cx="653.8" cy="1708.3"/><circle cx="650.8" cy="1676.1"/><circle cx="695.7" cy="1582.2"/><circle cx="652.3" cy="1731.7"/><circle cx="667.6" cy="1682.9"/><circle cx="664.2" cy="1737.0"/><circle cx="653.7" cy="1668.0"/><circle cx="660.9" cy="1625.6"/><circle cx="637.5" cy="1662.3"/><circle cx="649.4" cy="1695.2"/><circle cx="653.9" cy="1684.0"/><circle cx="730.5" cy="1601.3"/><circle cx="643.2" cy="1667.8"/><circle cx="734.5" cy="1594.2"/><circle cx="648.8" cy="1696.5"/><circle cx="728.4" cy="1556.6"/><circle cx="660.5" cy="1770.3"/><circle cx="620.2" cy="1672.8"/><circle cx="696.6" cy="1602.2"/><circle cx="631.8" cy="1717.2"/><circle cx="626.8" cy="1698.4"/><circle cx="634.9" cy="1690.2"/><circle cx="616.1" cy="1711.9"/><circle cx="632.8" cy="1727.5"/><circle cx="947.3" cy="1532.6"/><circle cx="631.0" cy="1700.0"/><circle cx="668.9" cy="1681.6"/><circle cx="645.8" cy="1707.3"/><circle cx="669.2" cy="1714.9"/><circle cx="623.1" cy="1657.6"/><circle cx="622.8" cy="1709.7"/><circle cx="665.3" cy="1698.4"/><circle cx="645.9" cy="1706.3"/><circle cx="655.1" cy="1708.5"/><circle cx="661.2" cy="1702.7"/><circle cx="657.3" cy="1653.2"/><circle cx="707.4" cy="1622.9"/><circle cx="653.1" cy="1706.6"/><circle cx="661.8" cy="1712.6"/><circle cx="651.0" cy="1723.1"/><circle cx="624.4" cy="1706.6"/><circle cx="722.8" cy="1571.4"/><circle cx="669.4" cy="1692.8"/><circle cx="677.4" cy="1628.0"/><circle cx="651.8" cy="1696.6"/><circle cx="641.4" cy="1738.5"/><circle cx="661.9" cy="1684.2"/><circle cx="670.9" cy="1717.1"/><circle cx="650.9" cy="1674.1"/><circle cx="646.2" cy="1700.7"/><circle cx="650.7" cy="1698.5"/><circle cx="659.2" cy="1641.0"/><circle cx="682.9" cy="1686.8"/><circle cx="656.8" cy="1660.4"/><circle cx="665.8" cy="1674.2"/><circle cx="626.5" cy="1720.7"/><circle cx="642.1" cy="1680.0"/><circle cx="643.0" cy="1683.8"/><circle cx="658.6" cy="1655.1"/><circle cx="641.7" cy="1688.3"/><circle cx="630.1" cy="1687.3"/><circle cx="642.5" cy="1671.4"/><circle cx="626.2" cy="1668.8"/><circle cx="674.6" cy="1691.8"/><circle cx="647.0" cy="1664.8"/><circle cx="667.3" cy="1601.3"/><circle cx="643.9" cy="1745.5"/><circle cx="664.0" cy="1681.3"/><circle cx="650.3" cy="1689.5"/><circle cx="652.7" cy="1636.6"/><circle cx="638.3" cy="1791.6"/><circle cx="621.0" cy="1663.8"/><circle cx="649.1" cy="1738.7"/><circle cx="638.0" cy="1702.5"/><circle cx="617.8" cy="1739.3"/><circle cx="650.1" cy="1676.1"/><circle cx="634.5" cy="1696.5"/><circle cx="627.4" cy="1691.1"/><circle cx="640.8" cy="1667.9"/><circle cx="680.0" cy="1702.5"/><circle cx="662.1" cy="1667.2"/><circle cx="640.0" cy="1710.4"/><circle cx="682.7" cy="1659.9"/><circle cx="647.7" cy="1692.3"/><circle cx="650.3" cy="1676.4"/><circle cx="648.9" cy="1701.4"/><circle cx="653.5" cy="1670.9"/><circle cx="629.0" cy="1662.7"/><circle cx="635.4" cy="1712.1"/><circle cx="646.2" cy="1691.0"/><circle cx="637.5" cy="1664.3"/><circle cx="655.2" cy="1697.4"/><circle cx="645.4" cy="1684.3"/><circle cx="679.1" cy="1664.6"/><circle cx="670.8" cy="1668.4"/><circle cx="670.1" cy="1707.6"/><circle cx="680.2" cy="1673.8"/><circle cx="640.7" cy="1687.6"/><circle cx="636.1" cy="1669.7"/><circle cx="649.4" cy="1663.9"/><circle cx="656.4" cy="1712.2"/><circle cx="676.6" cy="1706.8"/><circle cx="643.1" cy="1689.1"/><circle cx="642.3" cy="1657.4"/><circle cx="648.3" cy="1687.1"/><circle cx="654.2" cy="1682.0"/><circle cx="622.5" cy="1731.3"/><circle cx="626.3" cy="1724.4"/><circle cx="649.2" cy="1724.6"/><circle cx="686.8" cy="1662.2"/><circle cx="641.7" cy="1689.9"/><circle cx="651.4" cy="1702.2"/><circle cx="636.7" cy="1673.3"/><circle cx="637.7" cy="1677.0"/><circle cx="636.4" cy="1690.3"/><circle cx="622.2" cy="1730.9"/><circle cx="669.2" cy="1718.6"/><circle cx="676.3" cy="1692.2"/><circle cx="617.7" cy="1716.6"/><circle cx="634.2" cy="1645.4"/><circle cx="592.4" cy="1737.0"/><circle cx="647.7" cy="1732.6"/><circle cx="657.8" cy="1675.6"/><circle cx="624.8" cy="1612.1"/><circle cx="631.5" cy="1715.4"/><circle cx="657.1" cy="1689.8"/><circle cx="657.6" cy="1717.4"/><circle cx="679.7" cy="1721.6"/><circle cx="807.6" cy="1588.4"/><circle cx="636.6" cy="1671.5"/><circle cx="628.9" cy="1729.4"/><circle cx="659.0" cy="1660.6"/><circle cx="646.2" cy="1656.0"/><circle cx="648.1" cy="1737.5"/><circle cx="676.0" cy="1654.6"/><circle cx="629.3" cy="1689.9"/><circle cx="634.5" cy="1694.3"/><circle cx="627.4" cy="1723.4"/><circle cx="681.1" cy="1665.1"/><circle cx="698.2" cy="1621.4"/><circle cx="647.6" cy="1651.0"/><circle cx="639.1" cy="1719.8"/><circle cx="652.9" cy="1671.1"/><circle cx="638.0" cy="1740.8"/><circle cx="647.6" cy="1732.1"/><circle cx="641.9" cy="1692.4"/><circle cx="648.4" cy="1668.2"/><circle cx="641.1" cy="1705.7"/><circle cx="657.6" cy="1702.1"/><circle cx="638.4" cy="1654.1"/><circle cx="692.0" cy="1650.7"/><circle cx="653.3" cy="1691.9"/><circle cx="663.8" cy="1629.8"/><circle cx="613.2" cy="1660.3"/><circle cx="649.9" cy="1683.9"/><circle cx="624.9" cy="1713.3"/><circle cx="640.3" cy="1689.3"/><circle cx="650.0" cy="1708.8"/><circle cx="657.0" cy="1648.5"/><circle cx="647.2" cy="1728.3"/><circle cx="650.6" cy="1719.3"/><circle cx="625.7" cy="1670.2"/><circle cx="620.6" cy="1675.4"/><circle cx="680.2" cy="1614.8"/><circle cx="632.4" cy="1674.0"/><circle cx="659.9" cy="1658.5"/><circle cx="651.5" cy="1674.1"/><circle cx="772.8" cy="1615.2"/><circle cx="735.8" cy="1592.1"/><circle cx="657.6" cy="1635.4"/><circle cx="647.1" cy="1742.9"/><circle cx="647.3" cy="1619.8"/><circle cx="671.3" cy="1704.3"/><circle cx="642.4" cy="1724.7"/><circle cx="640.5" cy="1576.7"/><circle cx="678.0" cy="1640.7"/><circle cx="648.4" cy="1640.4"/><circle cx="643.2" cy="1710.6"/><circle cx="650.4" cy="1723.4"/><circle cx="620.5" cy="1689.0"/><circle cx="663.6" cy="1639.6"/><circle cx="669.7" cy="1700.8"/><circle cx="651.5" cy="1653.4"/><circle cx="653.9" cy="1730.4"/><circle cx="639.8" cy="1707.4"/><circle cx="641.7" cy="1709.6"/><circle cx="632.2" cy="1673.4"/><circle cx="674.6" cy="1662.6"/><circle cx="613.1" cy="1679.9"/><circle cx="664.3" cy="1690.7"/><circle cx="623.3" cy="1722.4"/><circle cx="651.4" cy="1731.7"/><circle cx="637.8" cy="1665.8"/><circle cx="658.2" cy="1674.2"/><circle cx="662.3" cy="1664.7"/><circle cx="619.9" cy="1653.3"/><circle cx="648.8" cy="1650.9"/><circle cx="667.8" cy="1681.3"/><circle cx="635.2" cy="1727.2"/><circle cx="653.3" cy="1679.3"/><circle cx="663.3" cy="1683.6"/><circle cx="661.1" cy="1683.7"/><circle cx="636.8" cy="1679.7"/><circle cx="661.3" cy="1683.9"/><circle cx="674.7" cy="1631.3"/><circle cx="636.2" cy="1661.0"/><circle cx="633.9" cy="1667.5"/><circle cx="681.5" cy="1603.5"/><circle cx="631.2" cy="1731.6"/><circle cx="651.6" cy="1656.5"/><circle cx="661.6" cy="1677.4"/><circle cx="639.8" cy="1717.6"/><circle cx="640.3" cy="1724.7"/><circle cx="656.7" cy="1655.1"/><circle cx="678.8" cy="1701.0"/><circle cx="664.9" cy="1662.0"/><circle cx="650.0" cy="1685.5"/><circle cx="646.3" cy="1726.2"/><circle cx="657.0" cy="1657.2"/><circle cx="623.8" cy="1725.0"/><circle cx="636.1" cy="1652.2"/><circle cx="644.2" cy="1710.2"/><circle cx="707.4" cy="1717.6"/><circle cx="667.9" cy="1692.2"/><circle cx="637.1" cy="1698.2"/><circle cx="619.5" cy="1663.0"/><circle cx="680.0" cy="1699.1"/><circle cx="626.3" cy="1698.8"/><circle cx="664.1" cy="1688.8"/><circle cx="704.3" cy="1573.0"/><circle cx="644.4" cy="1715.4"/><circle cx="650.7" cy="1629.9"/><circle cx="629.9" cy="1682.5"/><circle cx="625.3" cy="1700.7"/><circle cx="639.9" cy="1641.1"/><circle cx="651.1" cy="1686.9"/><circle cx="644.1" cy="1730.7"/><circle cx="655.4" cy="1699.5"/><circle cx="627.8" cy="1705.7"/><circle cx="657.8" cy="1712.5"/><circle cx="649.8" cy="1717.3"/><circle cx="621.8" cy="1673.9"/><circle cx="663.5" cy="1721.4"/><circle cx="649.1" cy="1722.0"/><circle cx="641.7" cy="1680.2"/><circle cx="706.5" cy="1669.2"/><circle cx="670.9" cy="1687.3"/><circle cx="649.7" cy="1726.5"/><circle cx="688.9" cy="1566.8"/><circle cx="657.7" cy="1632.6"/><circle cx="656.4" cy="1694.9"/><circle cx="606.7" cy="1718.9"/><circle cx="640.6" cy="1712.2"/><circle cx="634.0" cy="1699.2"/></g>
<path d="M574.8 1518.0V1804.8" stroke="#000" stroke-width="3.3" fill="none"/>
<path d="M574.8 1586.8h-8.5M574.8 1673.2h-8.5M574.8 1759.6h-8.5" stroke="#000" stroke-width="3.3"/>
<text class="fd" x="545.4" y="1595.6" font-size="23.90">2</text>
<text class="fd" x="544.6" y="1682.0" font-size="23.90">0</text>
<text class="fd" x="525.3" y="1768.4" font-size="23.90">−2</text>
<path d="M573.2 1804.8H966.4" stroke="#000" stroke-width="3.3" fill="none"/>
<path d="M649.4 1804.8v8.5M743.4 1804.8v8.5M837.4 1804.8v8.5M931.4 1804.8v8.5" stroke="#000" stroke-width="3.3"/>
<text class="fd" x="630.4" y="1840.4" font-size="23.90">0.0</text>
<text class="fd" x="724.6" y="1840.4" font-size="23.90">0.5</text>
<text class="fd" x="817.9" y="1840.4" font-size="23.90">1.0</text>
<text class="fd" x="912.1" y="1840.1" font-size="23.90">1.5</text>
<text class="fl" x="567.0" y="1875.2" font-size="29.28">Log2(expression) from scMPRA</text>
<text class="fl" transform="translate(514.7,1816.2) rotate(-90)" font-size="27.18">Log2(RNA/DNA) from bulk</text>
<text class="fl" x="581.9" y="1517.6" font-size="19.38">Pearson’s R = 0.57</text>
<text class="fl" x="582.6" y="1541.9" font-size="19.42">Spearman’s ρ = 0.39</text>
<text class="fb" x="1046.3" y="1384.1" font-size="41.50">h</text>
<text class="fl" x="1215.4" y="1467.4" font-size="36.74">HEK293 cells</text>
<g class="sg" fill="#151515" stroke="#fff" stroke-width="0.8"><circle cx="1326.2" cy="1709.8"/><circle cx="1217.0" cy="1734.8"/><circle cx="1290.3" cy="1743.7"/><circle cx="1229.5" cy="1764.4"/><circle cx="1282.3" cy="1737.1"/><circle cx="1229.8" cy="1757.9"/><circle cx="1272.0" cy="1732.6"/><circle cx="1253.3" cy="1750.1"/><circle cx="1265.7" cy="1722.0"/><circle cx="1284.2" cy="1709.6"/><circle cx="1294.6" cy="1741.1"/><circle cx="1295.1" cy="1751.8"/><circle cx="1220.5" cy="1734.5"/><circle cx="1273.0" cy="1724.9"/><circle cx="1194.3" cy="1778.0"/><circle cx="1359.8" cy="1606.6"/><circle cx="1330.3" cy="1635.1"/><circle cx="1234.4" cy="1757.7"/><circle cx="1278.0" cy="1728.6"/><circle cx="1228.0" cy="1759.5"/><circle cx="1220.5" cy="1776.6"/><circle cx="1239.4" cy="1781.1"/><circle cx="1294.7" cy="1729.3"/><circle cx="1256.0" cy="1713.6"/><circle cx="1388.3" cy="1579.6"/><circle cx="1260.7" cy="1747.3"/><circle cx="1246.8" cy="1762.9"/><circle cx="1218.5" cy="1736.0"/><circle cx="1256.3" cy="1728.7"/><circle cx="1307.3" cy="1694.6"/><circle cx="1241.8" cy="1743.0"/><circle cx="1290.4" cy="1725.7"/><circle cx="1275.0" cy="1700.5"/><circle cx="1236.3" cy="1728.7"/><circle cx="1266.4" cy="1734.5"/><circle cx="1287.6" cy="1754.0"/><circle cx="1294.0" cy="1723.7"/><circle cx="1247.7" cy="1745.4"/><circle cx="1251.2" cy="1744.3"/><circle cx="1207.1" cy="1738.8"/><circle cx="1366.5" cy="1639.1"/><circle cx="1265.0" cy="1753.5"/><circle cx="1241.8" cy="1737.6"/><circle cx="1341.2" cy="1637.0"/><circle cx="1233.8" cy="1736.4"/><circle cx="1230.5" cy="1731.6"/><circle cx="1443.7" cy="1567.1"/><circle cx="1240.2" cy="1722.1"/><circle cx="1332.0" cy="1661.1"/><circle cx="1243.9" cy="1746.2"/><circle cx="1251.4" cy="1725.4"/><circle cx="1255.9" cy="1743.6"/><circle cx="1232.6" cy="1733.0"/><circle cx="1278.4" cy="1751.1"/><circle cx="1234.9" cy="1723.8"/><circle cx="1227.2" cy="1736.2"/><circle cx="1275.5" cy="1738.5"/><circle cx="1359.3" cy="1640.0"/><circle cx="1210.7" cy="1751.6"/><circle cx="1258.5" cy="1734.0"/><circle cx="1263.0" cy="1765.9"/><circle cx="1228.4" cy="1739.4"/><circle cx="1379.2" cy="1631.5"/><circle cx="1267.0" cy="1735.3"/><circle cx="1235.3" cy="1717.5"/><circle cx="1250.2" cy="1735.7"/><circle cx="1273.6" cy="1727.8"/><circle cx="1389.9" cy="1592.4"/><circle cx="1225.8" cy="1739.0"/><circle cx="1330.4" cy="1658.9"/><circle cx="1253.1" cy="1725.8"/><circle cx="1211.8" cy="1738.6"/><circle cx="1379.4" cy="1651.6"/><circle cx="1387.3" cy="1598.1"/><circle cx="1254.6" cy="1762.4"/><circle cx="1292.7" cy="1712.1"/><circle cx="1293.5" cy="1717.7"/><circle cx="1237.3" cy="1733.3"/><circle cx="1267.4" cy="1744.0"/><circle cx="1270.0" cy="1699.6"/><circle cx="1264.7" cy="1748.4"/><circle cx="1313.5" cy="1709.7"/><circle cx="1299.3" cy="1739.1"/><circle cx="1266.7" cy="1729.4"/><circle cx="1240.5" cy="1756.3"/><circle cx="1252.2" cy="1717.6"/><circle cx="1252.1" cy="1734.5"/><circle cx="1277.1" cy="1770.9"/><circle cx="1258.7" cy="1763.8"/><circle cx="1243.3" cy="1758.2"/><circle cx="1244.8" cy="1757.7"/><circle cx="1279.1" cy="1721.7"/><circle cx="1250.5" cy="1755.6"/><circle cx="1269.2" cy="1734.5"/><circle cx="1285.8" cy="1718.8"/><circle cx="1264.7" cy="1747.0"/><circle cx="1262.1" cy="1688.7"/><circle cx="1307.2" cy="1738.3"/><circle cx="1438.9" cy="1573.2"/><circle cx="1239.1" cy="1736.3"/><circle cx="1245.2" cy="1728.9"/><circle cx="1276.1" cy="1731.5"/><circle cx="1254.6" cy="1742.5"/><circle cx="1371.5" cy="1644.0"/><circle cx="1324.4" cy="1631.4"/><circle cx="1273.8" cy="1759.1"/><circle cx="1298.3" cy="1698.9"/><circle cx="1243.2" cy="1715.7"/><circle cx="1316.9" cy="1745.9"/><circle cx="1270.0" cy="1737.0"/><circle cx="1336.5" cy="1702.9"/><circle cx="1287.1" cy="1735.0"/><circle cx="1261.8" cy="1730.5"/><circle cx="1360.9" cy="1610.2"/><circle cx="1236.4" cy="1752.1"/><circle cx="1157.0" cy="1693.1"/><circle cx="1312.6" cy="1762.1"/><circle cx="1258.8" cy="1731.2"/><circle cx="1255.4" cy="1726.5"/><circle cx="1397.0" cy="1613.4"/><circle cx="1295.8" cy="1737.1"/><circle cx="1292.1" cy="1714.6"/><circle cx="1261.5" cy="1771.0"/><circle cx="1277.6" cy="1738.6"/><circle cx="1258.5" cy="1737.0"/><circle cx="1234.2" cy="1731.6"/><circle cx="1249.6" cy="1766.9"/><circle cx="1294.8" cy="1750.8"/><circle cx="1200.9" cy="1771.4"/><circle cx="1264.3" cy="1750.5"/><circle cx="1283.5" cy="1712.3"/><circle cx="1273.9" cy="1705.0"/><circle cx="1281.3" cy="1744.0"/><circle cx="1243.5" cy="1697.4"/><circle cx="1297.9" cy="1741.1"/><circle cx="1410.7" cy="1579.6"/><circle cx="1220.4" cy="1748.5"/><circle cx="1258.2" cy="1732.0"/><circle cx="1219.5" cy="1730.2"/><circle cx="1354.7" cy="1633.0"/><circle cx="1269.0" cy="1721.2"/><circle cx="1202.7" cy="1749.2"/><circle cx="1259.4" cy="1712.4"/><circle cx="1257.6" cy="1714.5"/><circle cx="1394.5" cy="1608.2"/><circle cx="1341.0" cy="1630.3"/><circle cx="1328.9" cy="1649.1"/><circle cx="1273.3" cy="1742.1"/><circle cx="1253.5" cy="1716.2"/><circle cx="1294.8" cy="1687.9"/><circle cx="1238.5" cy="1749.0"/><circle cx="1269.3" cy="1736.7"/><circle cx="1237.1" cy="1743.3"/><circle cx="1308.9" cy="1693.8"/><circle cx="1342.2" cy="1700.7"/><circle cx="1398.0" cy="1607.1"/><circle cx="1279.8" cy="1737.0"/><circle cx="1216.6" cy="1728.0"/><circle cx="1259.9" cy="1723.0"/><circle cx="1314.4" cy="1696.1"/><circle cx="1262.8" cy="1722.6"/><circle cx="1270.1" cy="1710.7"/><circle cx="1270.0" cy="1723.1"/><circle cx="1319.5" cy="1666.0"/><circle cx="1336.8" cy="1679.1"/><circle cx="1282.6" cy="1710.5"/><circle cx="1246.3" cy="1733.5"/><circle cx="1397.8" cy="1631.1"/><circle cx="1207.4" cy="1728.3"/><circle cx="1366.4" cy="1635.8"/><circle cx="1288.9" cy="1721.4"/><circle cx="1249.5" cy="1701.6"/><circle cx="1288.2" cy="1700.5"/><circle cx="1295.6" cy="1734.9"/><circle cx="1232.4" cy="1740.8"/><circle cx="1242.1" cy="1753.1"/><circle cx="1207.1" cy="1725.0"/><circle cx="1341.1" cy="1692.3"/><circle cx="1259.3" cy="1742.9"/><circle cx="1322.1" cy="1721.0"/><circle cx="1197.1" cy="1757.2"/><circle cx="1223.8" cy="1706.5"/><circle cx="1237.6" cy="1741.9"/><circle cx="1305.3" cy="1746.7"/><circle cx="1235.7" cy="1737.2"/><circle cx="1264.2" cy="1689.4"/><circle cx="1253.1" cy="1741.6"/><circle cx="1285.4" cy="1726.1"/><circle cx="1302.8" cy="1727.5"/><circle cx="1261.5" cy="1713.7"/><circle cx="1260.9" cy="1735.6"/><circle cx="1277.6" cy="1728.4"/><circle cx="1284.7" cy="1724.0"/><circle cx="1221.1" cy="1747.8"/><circle cx="1297.4" cy="1719.0"/><circle cx="1282.6" cy="1762.4"/><circle cx="1278.8" cy="1717.8"/><circle cx="1271.5" cy="1723.4"/><circle cx="1282.7" cy="1727.4"/><circle cx="1326.9" cy="1684.4"/><circle cx="1271.8" cy="1755.1"/><circle cx="1384.5" cy="1614.4"/><circle cx="1276.4" cy="1706.1"/><circle cx="1232.7" cy="1770.2"/><circle cx="1300.4" cy="1698.8"/><circle cx="1299.3" cy="1736.9"/><circle cx="1240.5" cy="1716.6"/><circle cx="1258.2" cy="1700.8"/><circle cx="1324.5" cy="1662.7"/><circle cx="1271.7" cy="1725.1"/><circle cx="1227.0" cy="1730.5"/><circle cx="1308.4" cy="1684.0"/><circle cx="1261.9" cy="1722.2"/><circle cx="1240.1" cy="1737.6"/><circle cx="1275.1" cy="1758.8"/><circle cx="1194.5" cy="1772.1"/><circle cx="1265.9" cy="1701.4"/><circle cx="1334.2" cy="1715.9"/><circle cx="1247.9" cy="1726.2"/><circle cx="1267.7" cy="1737.6"/><circle cx="1284.5" cy="1737.0"/><circle cx="1244.8" cy="1743.6"/><circle cx="1264.7" cy="1714.9"/><circle cx="1244.6" cy="1775.7"/><circle cx="1290.9" cy="1725.6"/><circle cx="1269.4" cy="1731.3"/><circle cx="1266.7" cy="1743.5"/><circle cx="1238.1" cy="1770.4"/><circle cx="1236.2" cy="1742.3"/><circle cx="1364.7" cy="1639.1"/><circle cx="1267.2" cy="1743.9"/><circle cx="1238.4" cy="1738.5"/><circle cx="1281.4" cy="1754.5"/><circle cx="1245.9" cy="1727.6"/><circle cx="1271.8" cy="1733.9"/><circle cx="1202.0" cy="1756.3"/><circle cx="1296.4" cy="1712.7"/><circle cx="1337.5" cy="1666.6"/><circle cx="1366.6" cy="1668.2"/><circle cx="1316.2" cy="1702.4"/><circle cx="1311.6" cy="1757.3"/><circle cx="1266.6" cy="1745.2"/><circle cx="1314.6" cy="1722.6"/><circle cx="1243.4" cy="1724.9"/><circle cx="1246.0" cy="1733.8"/><circle cx="1380.0" cy="1643.5"/><circle cx="1247.4" cy="1733.6"/><circle cx="1277.0" cy="1733.4"/><circle cx="1413.9" cy="1648.3"/><circle cx="1216.5" cy="1745.8"/><circle cx="1255.7" cy="1734.8"/><circle cx="1271.0" cy="1740.6"/><circle cx="1267.7" cy="1716.3"/><circle cx="1238.1" cy="1742.9"/><circle cx="1459.4" cy="1575.4"/><circle cx="1268.3" cy="1721.4"/><circle cx="1204.5" cy="1736.7"/><circle cx="1249.2" cy="1722.0"/><circle cx="1264.6" cy="1708.4"/><circle cx="1271.2" cy="1714.8"/><circle cx="1231.7" cy="1717.7"/><circle cx="1391.3" cy="1605.2"/><circle cx="1214.9" cy="1758.6"/><circle cx="1173.3" cy="1696.3"/><circle cx="1245.3" cy="1761.2"/><circle cx="1255.1" cy="1760.5"/><circle cx="1217.9" cy="1733.8"/><circle cx="1345.2" cy="1709.4"/><circle cx="1268.2" cy="1758.7"/><circle cx="1300.3" cy="1714.6"/><circle cx="1231.8" cy="1755.0"/><circle cx="1284.1" cy="1761.2"/><circle cx="1263.2" cy="1720.9"/><circle cx="1354.1" cy="1630.4"/><circle cx="1199.3" cy="1752.5"/><circle cx="1255.8" cy="1722.8"/><circle cx="1258.4" cy="1736.8"/><circle cx="1286.2" cy="1741.9"/><circle cx="1282.3" cy="1725.5"/><circle cx="1270.9" cy="1704.6"/><circle cx="1221.5" cy="1732.8"/><circle cx="1223.3" cy="1756.1"/><circle cx="1267.3" cy="1715.8"/><circle cx="1315.2" cy="1719.4"/><circle cx="1232.4" cy="1729.4"/><circle cx="1291.6" cy="1725.9"/><circle cx="1218.0" cy="1781.8"/><circle cx="1283.6" cy="1730.5"/><circle cx="1277.6" cy="1760.3"/><circle cx="1281.8" cy="1741.2"/><circle cx="1294.3" cy="1758.1"/><circle cx="1275.2" cy="1723.1"/><circle cx="1253.8" cy="1722.7"/><circle cx="1252.9" cy="1738.4"/><circle cx="1250.4" cy="1738.5"/><circle cx="1297.7" cy="1724.4"/><circle cx="1290.2" cy="1708.1"/><circle cx="1230.3" cy="1744.7"/><circle cx="1296.2" cy="1705.0"/><circle cx="1247.9" cy="1733.2"/><circle cx="1210.3" cy="1753.5"/><circle cx="1266.6" cy="1733.1"/><circle cx="1363.9" cy="1624.7"/><circle cx="1275.3" cy="1710.7"/><circle cx="1286.2" cy="1736.4"/><circle cx="1257.5" cy="1746.3"/><circle cx="1249.2" cy="1747.7"/><circle cx="1283.5" cy="1736.1"/><circle cx="1250.8" cy="1669.1"/><circle cx="1209.6" cy="1753.2"/><circle cx="1286.5" cy="1732.3"/><circle cx="1319.7" cy="1683.0"/><circle cx="1296.3" cy="1720.7"/><circle cx="1274.7" cy="1710.9"/><circle cx="1319.7" cy="1677.1"/><circle cx="1230.9" cy="1782.7"/><circle cx="1299.3" cy="1690.7"/><circle cx="1274.1" cy="1722.5"/><circle cx="1290.8" cy="1724.8"/><circle cx="1270.0" cy="1720.1"/><circle cx="1253.4" cy="1754.3"/><circle cx="1332.5" cy="1669.4"/><circle cx="1249.2" cy="1759.3"/><circle cx="1368.1" cy="1616.5"/><circle cx="1241.6" cy="1738.8"/><circle cx="1299.8" cy="1720.4"/><circle cx="1261.8" cy="1754.7"/><circle cx="1297.4" cy="1691.2"/><circle cx="1282.4" cy="1702.8"/><circle cx="1298.9" cy="1715.2"/><circle cx="1317.0" cy="1656.4"/><circle cx="1205.0" cy="1766.2"/><circle cx="1216.3" cy="1717.4"/><circle cx="1287.7" cy="1740.0"/><circle cx="1369.1" cy="1584.4"/><circle cx="1225.4" cy="1740.9"/><circle cx="1282.5" cy="1713.6"/><circle cx="1242.9" cy="1753.5"/><circle cx="1189.9" cy="1735.1"/><circle cx="1264.5" cy="1724.7"/><circle cx="1265.9" cy="1751.1"/><circle cx="1266.4" cy="1722.0"/><circle cx="1394.1" cy="1620.9"/><circle cx="1303.9" cy="1733.7"/><circle cx="1265.2" cy="1563.6"/><circle cx="1300.8" cy="1699.5"/><circle cx="1247.4" cy="1734.5"/><circle cx="1205.1" cy="1745.0"/><circle cx="1265.2" cy="1712.2"/><circle cx="1241.7" cy="1740.4"/><circle cx="1352.4" cy="1621.6"/><circle cx="1282.8" cy="1734.3"/><circle cx="1296.0" cy="1729.7"/><circle cx="1349.6" cy="1652.1"/><circle cx="1266.6" cy="1744.1"/><circle cx="1249.7" cy="1719.8"/><circle cx="1250.4" cy="1752.7"/><circle cx="1278.9" cy="1727.7"/><circle cx="1228.5" cy="1739.3"/><circle cx="1271.6" cy="1756.6"/><circle cx="1280.6" cy="1716.9"/><circle cx="1284.7" cy="1697.6"/><circle cx="1311.7" cy="1704.4"/><circle cx="1278.5" cy="1714.3"/><circle cx="1283.7" cy="1724.0"/><circle cx="1327.5" cy="1656.2"/><circle cx="1220.7" cy="1749.3"/><circle cx="1317.5" cy="1703.7"/><circle cx="1258.0" cy="1754.9"/><circle cx="1316.6" cy="1677.5"/><circle cx="1288.7" cy="1709.2"/><circle cx="1264.4" cy="1733.2"/><circle cx="1203.9" cy="1727.9"/><circle cx="1327.7" cy="1691.7"/><circle cx="1246.7" cy="1737.8"/><circle cx="1271.8" cy="1728.2"/><circle cx="1269.7" cy="1724.6"/><circle cx="1401.1" cy="1595.6"/><circle cx="1314.6" cy="1707.0"/><circle cx="1225.1" cy="1724.8"/><circle cx="1226.6" cy="1713.7"/><circle cx="1233.0" cy="1777.2"/><circle cx="1330.6" cy="1677.1"/><circle cx="1319.2" cy="1700.7"/><circle cx="1332.3" cy="1700.0"/><circle cx="1234.4" cy="1760.0"/><circle cx="1399.5" cy="1584.4"/><circle cx="1234.9" cy="1756.0"/><circle cx="1242.8" cy="1665.9"/><circle cx="1319.8" cy="1687.0"/><circle cx="1268.2" cy="1744.3"/><circle cx="1389.8" cy="1596.8"/><circle cx="1248.3" cy="1739.1"/><circle cx="1333.3" cy="1741.8"/><circle cx="1293.9" cy="1747.1"/><circle cx="1317.4" cy="1688.4"/><circle cx="1214.7" cy="1753.5"/><circle cx="1187.8" cy="1737.0"/><circle cx="1285.1" cy="1709.1"/><circle cx="1298.5" cy="1729.0"/><circle cx="1277.9" cy="1716.7"/><circle cx="1258.9" cy="1747.1"/><circle cx="1335.7" cy="1707.0"/><circle cx="1204.2" cy="1760.4"/><circle cx="1246.6" cy="1718.7"/><circle cx="1268.2" cy="1751.6"/><circle cx="1274.4" cy="1734.8"/><circle cx="1320.9" cy="1702.5"/><circle cx="1256.2" cy="1737.8"/><circle cx="1349.2" cy="1637.6"/><circle cx="1276.2" cy="1738.3"/><circle cx="1269.9" cy="1729.9"/><circle cx="1276.9" cy="1732.5"/><circle cx="1378.1" cy="1636.5"/><circle cx="1200.7" cy="1738.7"/><circle cx="1248.7" cy="1716.8"/><circle cx="1213.9" cy="1757.4"/><circle cx="1236.2" cy="1738.8"/><circle cx="1216.4" cy="1750.3"/><circle cx="1339.0" cy="1668.4"/><circle cx="1194.3" cy="1756.9"/><circle cx="1267.6" cy="1726.7"/><circle cx="1249.4" cy="1739.9"/><circle cx="1265.8" cy="1720.0"/><circle cx="1205.4" cy="1739.4"/><circle cx="1324.3" cy="1670.6"/><circle cx="1279.5" cy="1747.1"/><circle cx="1294.4" cy="1725.4"/><circle cx="1318.2" cy="1658.7"/><circle cx="1250.8" cy="1721.8"/><circle cx="1246.3" cy="1710.4"/><circle cx="1297.4" cy="1751.0"/><circle cx="1308.4" cy="1720.7"/><circle cx="1275.9" cy="1706.0"/><circle cx="1226.3" cy="1774.5"/><circle cx="1233.0" cy="1765.0"/><circle cx="1268.1" cy="1723.7"/><circle cx="1279.7" cy="1740.7"/><circle cx="1278.1" cy="1719.5"/><circle cx="1324.0" cy="1715.7"/><circle cx="1262.8" cy="1729.4"/><circle cx="1230.3" cy="1741.2"/><circle cx="1279.3" cy="1693.1"/><circle cx="1232.3" cy="1697.5"/><circle cx="1222.9" cy="1738.4"/><circle cx="1256.0" cy="1700.1"/><circle cx="1371.4" cy="1590.9"/><circle cx="1270.2" cy="1749.3"/><circle cx="1207.0" cy="1750.1"/><circle cx="1272.7" cy="1734.1"/><circle cx="1280.1" cy="1742.1"/><circle cx="1232.8" cy="1746.2"/><circle cx="1272.4" cy="1728.6"/><circle cx="1273.6" cy="1691.0"/><circle cx="1288.5" cy="1654.1"/><circle cx="1269.8" cy="1726.0"/><circle cx="1336.8" cy="1710.7"/><circle cx="1282.3" cy="1719.2"/><circle cx="1359.8" cy="1630.8"/><circle cx="1256.7" cy="1757.3"/><circle cx="1310.5" cy="1714.3"/><circle cx="1261.6" cy="1731.0"/><circle cx="1312.0" cy="1683.1"/><circle cx="1255.0" cy="1740.9"/><circle cx="1301.9" cy="1740.1"/><circle cx="1263.2" cy="1764.2"/><circle cx="1276.8" cy="1694.7"/><circle cx="1267.7" cy="1725.9"/><circle cx="1209.0" cy="1778.1"/><circle cx="1271.8" cy="1702.8"/><circle cx="1345.1" cy="1742.4"/><circle cx="1210.6" cy="1751.1"/><circle cx="1242.6" cy="1725.4"/><circle cx="1273.8" cy="1728.4"/><circle cx="1204.7" cy="1737.5"/><circle cx="1282.7" cy="1708.5"/><circle cx="1210.8" cy="1778.7"/><circle cx="1306.4" cy="1752.6"/><circle cx="1377.1" cy="1571.6"/><circle cx="1296.8" cy="1721.5"/><circle cx="1289.9" cy="1718.4"/><circle cx="1269.4" cy="1733.1"/><circle cx="1278.0" cy="1727.9"/><circle cx="1289.1" cy="1693.5"/><circle cx="1214.3" cy="1758.2"/><circle cx="1268.2" cy="1716.1"/><circle cx="1266.6" cy="1732.9"/><circle cx="1273.3" cy="1743.5"/><circle cx="1263.2" cy="1712.1"/><circle cx="1377.1" cy="1600.4"/><circle cx="1265.9" cy="1757.5"/><circle cx="1273.2" cy="1731.0"/><circle cx="1283.6" cy="1744.4"/><circle cx="1311.3" cy="1653.5"/><circle cx="1344.2" cy="1657.4"/><circle cx="1258.4" cy="1757.4"/><circle cx="1279.0" cy="1758.6"/><circle cx="1285.2" cy="1748.2"/><circle cx="1346.7" cy="1642.6"/><circle cx="1235.1" cy="1727.7"/><circle cx="1289.1" cy="1702.3"/><circle cx="1265.2" cy="1712.8"/><circle cx="1307.9" cy="1714.2"/><circle cx="1250.4" cy="1765.5"/><circle cx="1365.9" cy="1579.6"/><circle cx="1320.8" cy="1696.6"/><circle cx="1243.9" cy="1758.3"/><circle cx="1235.0" cy="1755.8"/><circle cx="1340.1" cy="1610.6"/><circle cx="1295.6" cy="1714.4"/><circle cx="1237.7" cy="1763.2"/><circle cx="1374.9" cy="1619.2"/><circle cx="1285.3" cy="1726.8"/><circle cx="1277.9" cy="1704.5"/><circle cx="1266.8" cy="1779.5"/><circle cx="1287.0" cy="1729.9"/><circle cx="1201.7" cy="1719.0"/><circle cx="1394.2" cy="1583.4"/><circle cx="1212.3" cy="1754.1"/><circle cx="1369.1" cy="1644.9"/><circle cx="1297.8" cy="1704.8"/><circle cx="1255.1" cy="1718.8"/><circle cx="1260.4" cy="1728.0"/><circle cx="1338.5" cy="1656.9"/><circle cx="1241.4" cy="1757.5"/><circle cx="1239.2" cy="1754.7"/><circle cx="1248.0" cy="1767.4"/><circle cx="1313.7" cy="1683.2"/><circle cx="1240.5" cy="1737.3"/><circle cx="1234.2" cy="1743.2"/><circle cx="1208.6" cy="1748.1"/><circle cx="1329.9" cy="1665.2"/><circle cx="1284.1" cy="1720.6"/><circle cx="1256.9" cy="1743.5"/><circle cx="1258.2" cy="1729.5"/><circle cx="1298.1" cy="1743.1"/><circle cx="1325.6" cy="1714.2"/><circle cx="1368.8" cy="1644.0"/><circle cx="1272.1" cy="1749.3"/><circle cx="1280.8" cy="1737.3"/><circle cx="1291.3" cy="1754.9"/><circle cx="1268.3" cy="1758.7"/><circle cx="1263.7" cy="1742.7"/><circle cx="1267.2" cy="1741.2"/><circle cx="1189.2" cy="1746.9"/><circle cx="1294.5" cy="1726.6"/><circle cx="1274.5" cy="1718.8"/><circle cx="1327.9" cy="1655.5"/><circle cx="1222.4" cy="1749.2"/><circle cx="1359.8" cy="1648.5"/><circle cx="1242.5" cy="1763.8"/><circle cx="1194.6" cy="1733.6"/><circle cx="1302.9" cy="1724.4"/><circle cx="1269.5" cy="1730.8"/><circle cx="1286.8" cy="1742.9"/><circle cx="1266.8" cy="1723.6"/><circle cx="1258.2" cy="1745.0"/><circle cx="1276.5" cy="1724.2"/><circle cx="1217.8" cy="1720.6"/><circle cx="1305.2" cy="1720.1"/><circle cx="1374.7" cy="1635.1"/><circle cx="1420.3" cy="1554.9"/><circle cx="1236.1" cy="1732.4"/><circle cx="1304.7" cy="1713.0"/><circle cx="1220.4" cy="1733.9"/><circle cx="1309.1" cy="1685.9"/><circle cx="1236.3" cy="1741.9"/><circle cx="1349.4" cy="1711.3"/><circle cx="1364.3" cy="1595.6"/><circle cx="1259.9" cy="1731.1"/><circle cx="1364.1" cy="1648.3"/><circle cx="1338.2" cy="1666.9"/><circle cx="1317.1" cy="1727.4"/><circle cx="1230.0" cy="1745.4"/><circle cx="1320.7" cy="1694.1"/><circle cx="1299.0" cy="1727.0"/><circle cx="1260.8" cy="1720.4"/><circle cx="1391.0" cy="1605.1"/><circle cx="1243.6" cy="1731.0"/><circle cx="1361.9" cy="1628.7"/><circle cx="1299.7" cy="1706.8"/><circle cx="1267.0" cy="1731.2"/><circle cx="1254.3" cy="1707.7"/><circle cx="1227.9" cy="1760.7"/><circle cx="1268.2" cy="1724.7"/><circle cx="1253.0" cy="1742.9"/><circle cx="1232.2" cy="1741.4"/><circle cx="1383.9" cy="1622.2"/><circle cx="1239.5" cy="1746.7"/><circle cx="1288.7" cy="1694.0"/><circle cx="1258.4" cy="1735.5"/><circle cx="1278.1" cy="1744.7"/><circle cx="1261.7" cy="1749.3"/><circle cx="1260.5" cy="1730.2"/><circle cx="1269.8" cy="1737.1"/><circle cx="1268.8" cy="1698.5"/><circle cx="1332.6" cy="1659.4"/><circle cx="1288.2" cy="1733.5"/><circle cx="1316.8" cy="1713.8"/><circle cx="1222.6" cy="1756.4"/><circle cx="1267.6" cy="1717.6"/><circle cx="1253.8" cy="1731.2"/><circle cx="1320.1" cy="1690.3"/><circle cx="1254.6" cy="1751.9"/><circle cx="1239.4" cy="1753.5"/><circle cx="1291.5" cy="1704.6"/><circle cx="1299.0" cy="1698.7"/><circle cx="1265.4" cy="1750.6"/><circle cx="1292.0" cy="1732.0"/><circle cx="1301.9" cy="1746.1"/><circle cx="1281.8" cy="1709.5"/><circle cx="1318.9" cy="1733.1"/><circle cx="1242.7" cy="1711.1"/><circle cx="1254.4" cy="1747.9"/><circle cx="1277.7" cy="1751.9"/><circle cx="1262.1" cy="1761.2"/><circle cx="1262.8" cy="1767.5"/><circle cx="1264.9" cy="1712.8"/><circle cx="1315.6" cy="1698.5"/><circle cx="1268.2" cy="1718.9"/><circle cx="1203.7" cy="1792.3"/><circle cx="1360.3" cy="1623.5"/><circle cx="1230.5" cy="1727.1"/><circle cx="1314.0" cy="1631.8"/><circle cx="1289.8" cy="1740.2"/><circle cx="1260.7" cy="1698.2"/><circle cx="1256.9" cy="1714.0"/><circle cx="1208.8" cy="1757.4"/><circle cx="1245.6" cy="1748.4"/><circle cx="1323.4" cy="1725.2"/><circle cx="1281.8" cy="1733.1"/><circle cx="1338.5" cy="1640.8"/><circle cx="1236.0" cy="1728.6"/><circle cx="1270.7" cy="1712.6"/><circle cx="1234.5" cy="1731.6"/><circle cx="1247.6" cy="1758.0"/><circle cx="1248.8" cy="1753.4"/><circle cx="1217.3" cy="1732.1"/><circle cx="1300.8" cy="1712.3"/><circle cx="1254.9" cy="1689.9"/><circle cx="1266.0" cy="1691.3"/><circle cx="1369.4" cy="1628.3"/><circle cx="1229.4" cy="1749.3"/><circle cx="1222.1" cy="1720.6"/><circle cx="1373.9" cy="1570.0"/><circle cx="1295.1" cy="1722.6"/><circle cx="1293.5" cy="1719.2"/><circle cx="1234.7" cy="1740.7"/><circle cx="1265.2" cy="1764.4"/><circle cx="1275.6" cy="1767.9"/><circle cx="1282.1" cy="1745.1"/><circle cx="1260.0" cy="1738.0"/><circle cx="1248.6" cy="1744.0"/><circle cx="1308.4" cy="1645.1"/><circle cx="1280.6" cy="1719.5"/><circle cx="1321.4" cy="1698.4"/><circle cx="1341.4" cy="1613.7"/><circle cx="1337.8" cy="1630.6"/><circle cx="1221.0" cy="1756.6"/><circle cx="1250.3" cy="1761.9"/><circle cx="1288.3" cy="1703.0"/><circle cx="1254.5" cy="1742.5"/><circle cx="1245.8" cy="1734.9"/><circle cx="1260.8" cy="1705.4"/><circle cx="1319.2" cy="1666.4"/><circle cx="1201.7" cy="1780.4"/><circle cx="1259.4" cy="1729.8"/><circle cx="1266.7" cy="1730.9"/><circle cx="1336.8" cy="1631.9"/><circle cx="1245.6" cy="1754.2"/><circle cx="1224.9" cy="1765.2"/><circle cx="1531.7" cy="1518.8"/><circle cx="1290.6" cy="1716.7"/><circle cx="1261.2" cy="1739.9"/><circle cx="1224.6" cy="1759.5"/><circle cx="1337.4" cy="1642.4"/><circle cx="1285.7" cy="1751.8"/><circle cx="1252.1" cy="1726.3"/><circle cx="1273.4" cy="1716.9"/><circle cx="1259.8" cy="1750.6"/><circle cx="1249.5" cy="1745.6"/><circle cx="1287.5" cy="1753.2"/><circle cx="1244.6" cy="1755.2"/><circle cx="1392.5" cy="1645.1"/><circle cx="1305.6" cy="1700.0"/><circle cx="1277.2" cy="1748.5"/><circle cx="1264.7" cy="1763.0"/><circle cx="1257.8" cy="1736.3"/><circle cx="1259.4" cy="1727.7"/><circle cx="1248.0" cy="1723.6"/><circle cx="1253.6" cy="1733.4"/><circle cx="1218.1" cy="1734.8"/><circle cx="1240.5" cy="1744.7"/><circle cx="1256.1" cy="1730.1"/><circle cx="1296.8" cy="1723.1"/><circle cx="1258.0" cy="1749.6"/><circle cx="1251.4" cy="1757.4"/><circle cx="1240.2" cy="1724.3"/><circle cx="1279.7" cy="1720.7"/><circle cx="1281.4" cy="1696.7"/><circle cx="1276.1" cy="1755.0"/><circle cx="1289.1" cy="1735.0"/><circle cx="1227.1" cy="1738.1"/><circle cx="1226.6" cy="1740.1"/><circle cx="1305.0" cy="1756.7"/><circle cx="1261.2" cy="1730.0"/><circle cx="1249.9" cy="1757.9"/><circle cx="1297.2" cy="1687.7"/><circle cx="1242.6" cy="1726.3"/><circle cx="1317.4" cy="1723.4"/><circle cx="1290.2" cy="1750.1"/><circle cx="1274.6" cy="1738.3"/><circle cx="1281.1" cy="1759.9"/><circle cx="1274.1" cy="1703.2"/><circle cx="1294.2" cy="1674.5"/><circle cx="1253.3" cy="1758.0"/><circle cx="1290.4" cy="1706.2"/><circle cx="1293.7" cy="1741.3"/><circle cx="1260.4" cy="1719.7"/><circle cx="1302.6" cy="1741.9"/><circle cx="1313.4" cy="1731.9"/><circle cx="1326.0" cy="1761.9"/><circle cx="1264.0" cy="1724.3"/><circle cx="1256.0" cy="1732.9"/><circle cx="1228.0" cy="1746.6"/><circle cx="1249.9" cy="1733.3"/><circle cx="1314.3" cy="1699.6"/><circle cx="1270.1" cy="1721.9"/><circle cx="1376.2" cy="1636.5"/><circle cx="1361.7" cy="1608.0"/><circle cx="1266.2" cy="1744.0"/><circle cx="1242.4" cy="1740.7"/><circle cx="1164.4" cy="1753.3"/><circle cx="1284.5" cy="1760.8"/><circle cx="1276.1" cy="1721.8"/></g>
<path d="M1138.1 1504.4V1806.7" stroke="#000" stroke-width="3.3" fill="none"/>
<path d="M1138.1 1569.5h-8.5M1138.1 1635.3h-8.5M1138.1 1701.1h-8.5M1138.1 1766.9h-8.5" stroke="#000" stroke-width="3.3"/>
<text class="fd" x="1110.0" y="1578.3" font-size="23.90">2</text>
<text class="fd" x="1109.8" y="1644.1" font-size="23.90">1</text>
<text class="fd" x="1109.2" y="1709.9" font-size="23.90">0</text>
<text class="fd" x="1089.7" y="1775.7" font-size="23.90">−1</text>
<path d="M1136.5 1806.7H1552.2" stroke="#000" stroke-width="3.3" fill="none"/>
<path d="M1229.3 1806.7v8.5M1390.0 1806.7v8.5" stroke="#000" stroke-width="3.3"/>
<text class="fd" x="1221.7" y="1842.0" font-size="23.90">0</text>
<text class="fd" x="1382.2" y="1841.7" font-size="23.90">1</text>
<text class="fl" x="1145.4" y="1877.5" font-size="29.23">Log2(expression) from scMPRA</text>
<text class="fl" transform="translate(1075.3,1819.0) rotate(-90)" font-size="28.53">Log2(RNA/DNA) from bulk</text>
<text class="fl" x="1153.2" y="1510.6" font-size="20.23">Pearson’s  = 0.75</text>
<text class="fl" x="1153.9" y="1534.5" font-size="20.20">Spearman’s ρ = 0.62</text>
<text class="fb" x="46.9" y="2061.8" font-size="41.50">i</text>
<text class="fl" x="415.1" y="2068.4" font-size="36.71">K562 cells</text>
<text class="fb" x="1151.9" y="2062.1" font-size="41.50">j</text>
<text class="fl" x="1519.9" y="2068.0" font-size="36.71">HEK293 cells</text>
<g class="si" fill="#000" stroke="#fff" stroke-width="0.8"><circle cx="149.8" cy="2501.3"/><circle cx="154.5" cy="2495.1"/><circle cx="135.7" cy="2500.1"/><circle cx="144.8" cy="2530.8"/><circle cx="131.7" cy="2521.4"/><circle cx="168.4" cy="2479.7"/><circle cx="142.3" cy="2522.1"/><circle cx="156.1" cy="2512.0"/><circle cx="161.9" cy="2489.8"/><circle cx="151.6" cy="2507.4"/><circle cx="143.6" cy="2526.3"/><circle cx="152.2" cy="2523.9"/><circle cx="162.3" cy="2483.1"/><circle cx="134.8" cy="2520.8"/><circle cx="144.5" cy="2520.2"/><circle cx="152.2" cy="2504.3"/><circle cx="167.2" cy="2489.8"/><circle cx="164.1" cy="2490.7"/><circle cx="141.4" cy="2528.3"/><circle cx="150.7" cy="2529.3"/><circle cx="145.0" cy="2524.5"/><circle cx="146.8" cy="2527.3"/><circle cx="139.2" cy="2522.3"/><circle cx="174.2" cy="2495.3"/><circle cx="146.0" cy="2529.4"/><circle cx="142.0" cy="2508.1"/><circle cx="128.7" cy="2532.2"/><circle cx="164.9" cy="2516.4"/><circle cx="148.1" cy="2518.2"/><circle cx="166.5" cy="2512.9"/><circle cx="187.2" cy="2477.0"/><circle cx="141.5" cy="2528.4"/><circle cx="150.7" cy="2515.2"/><circle cx="165.7" cy="2494.2"/><circle cx="158.8" cy="2483.4"/><circle cx="154.7" cy="2478.1"/><circle cx="157.0" cy="2532.2"/><circle cx="144.7" cy="2506.1"/><circle cx="150.5" cy="2508.0"/><circle cx="196.1" cy="2450.3"/><circle cx="157.8" cy="2499.1"/><circle cx="158.0" cy="2514.0"/><circle cx="140.8" cy="2533.2"/><circle cx="150.5" cy="2492.9"/><circle cx="143.8" cy="2508.8"/><circle cx="157.8" cy="2499.5"/><circle cx="153.3" cy="2492.3"/><circle cx="175.0" cy="2480.4"/><circle cx="168.2" cy="2484.0"/><circle cx="134.1" cy="2511.1"/><circle cx="162.3" cy="2498.4"/><circle cx="133.0" cy="2532.0"/><circle cx="147.1" cy="2510.9"/><circle cx="177.3" cy="2472.7"/><circle cx="136.1" cy="2502.3"/><circle cx="142.6" cy="2507.3"/><circle cx="165.6" cy="2487.1"/><circle cx="132.1" cy="2515.9"/><circle cx="155.6" cy="2524.2"/><circle cx="124.8" cy="2496.4"/><circle cx="169.9" cy="2495.0"/><circle cx="176.3" cy="2474.3"/><circle cx="150.1" cy="2498.7"/><circle cx="173.4" cy="2470.2"/><circle cx="132.3" cy="2528.1"/><circle cx="174.9" cy="2491.8"/><circle cx="140.5" cy="2526.5"/><circle cx="168.4" cy="2484.6"/><circle cx="143.3" cy="2527.2"/><circle cx="126.7" cy="2526.1"/><circle cx="128.2" cy="2513.7"/><circle cx="148.8" cy="2515.3"/><circle cx="158.2" cy="2521.2"/><circle cx="146.1" cy="2528.6"/><circle cx="180.2" cy="2454.9"/><circle cx="155.5" cy="2508.3"/><circle cx="179.4" cy="2453.7"/><circle cx="171.2" cy="2490.3"/><circle cx="179.4" cy="2466.8"/><circle cx="169.7" cy="2479.9"/><circle cx="175.6" cy="2493.7"/><circle cx="132.0" cy="2531.4"/><circle cx="171.5" cy="2460.0"/><circle cx="144.3" cy="2515.8"/><circle cx="152.9" cy="2495.6"/><circle cx="173.4" cy="2461.3"/><circle cx="153.7" cy="2514.7"/><circle cx="145.9" cy="2526.8"/><circle cx="147.9" cy="2490.5"/><circle cx="139.4" cy="2516.4"/><circle cx="138.4" cy="2520.8"/><circle cx="129.5" cy="2512.7"/><circle cx="164.5" cy="2495.5"/><circle cx="155.5" cy="2502.3"/><circle cx="160.3" cy="2500.1"/><circle cx="140.0" cy="2515.5"/><circle cx="144.3" cy="2509.0"/><circle cx="156.5" cy="2502.5"/><circle cx="145.3" cy="2519.1"/><circle cx="136.6" cy="2524.8"/><circle cx="162.9" cy="2495.5"/><circle cx="131.6" cy="2529.1"/><circle cx="162.6" cy="2504.0"/><circle cx="148.4" cy="2519.4"/><circle cx="168.9" cy="2468.5"/><circle cx="138.7" cy="2506.3"/><circle cx="161.1" cy="2495.0"/><circle cx="183.4" cy="2465.6"/><circle cx="175.8" cy="2464.6"/><circle cx="156.4" cy="2523.5"/><circle cx="149.3" cy="2524.0"/><circle cx="190.0" cy="2456.8"/><circle cx="168.2" cy="2457.7"/><circle cx="143.5" cy="2509.0"/><circle cx="154.0" cy="2504.2"/><circle cx="163.3" cy="2489.3"/><circle cx="149.7" cy="2507.5"/><circle cx="141.7" cy="2516.5"/><circle cx="175.7" cy="2479.5"/><circle cx="168.6" cy="2487.1"/><circle cx="133.0" cy="2530.5"/><circle cx="166.8" cy="2480.5"/><circle cx="172.3" cy="2461.9"/><circle cx="182.7" cy="2465.7"/><circle cx="160.7" cy="2487.6"/><circle cx="155.6" cy="2520.4"/><circle cx="133.7" cy="2528.9"/><circle cx="140.1" cy="2510.4"/><circle cx="137.8" cy="2501.5"/><circle cx="172.5" cy="2475.9"/><circle cx="147.5" cy="2502.5"/><circle cx="145.0" cy="2528.1"/><circle cx="155.0" cy="2519.9"/><circle cx="140.2" cy="2532.4"/><circle cx="180.4" cy="2476.4"/><circle cx="144.9" cy="2511.2"/><circle cx="156.1" cy="2488.1"/><circle cx="144.6" cy="2524.0"/><circle cx="160.1" cy="2489.9"/><circle cx="174.1" cy="2488.6"/><circle cx="131.9" cy="2510.1"/><circle cx="164.5" cy="2469.5"/><circle cx="151.4" cy="2530.2"/><circle cx="131.6" cy="2527.5"/><circle cx="172.8" cy="2466.6"/><circle cx="143.0" cy="2512.7"/><circle cx="150.2" cy="2508.2"/><circle cx="177.9" cy="2488.4"/><circle cx="162.8" cy="2506.3"/><circle cx="141.0" cy="2525.3"/><circle cx="178.9" cy="2484.6"/><circle cx="136.8" cy="2515.6"/><circle cx="189.3" cy="2443.2"/><circle cx="192.3" cy="2461.2"/><circle cx="127.4" cy="2526.4"/><circle cx="178.8" cy="2446.6"/><circle cx="141.4" cy="2507.8"/><circle cx="143.9" cy="2513.8"/><circle cx="144.5" cy="2533.1"/><circle cx="168.4" cy="2504.4"/><circle cx="148.6" cy="2532.5"/><circle cx="199.5" cy="2440.7"/><circle cx="141.2" cy="2531.4"/><circle cx="146.3" cy="2506.5"/><circle cx="128.9" cy="2530.4"/><circle cx="160.9" cy="2490.7"/><circle cx="156.5" cy="2486.1"/><circle cx="153.7" cy="2486.8"/><circle cx="146.2" cy="2526.0"/><circle cx="142.6" cy="2507.0"/><circle cx="144.0" cy="2514.4"/><circle cx="178.0" cy="2497.6"/><circle cx="174.3" cy="2473.6"/><circle cx="162.4" cy="2494.6"/><circle cx="174.9" cy="2462.7"/><circle cx="130.5" cy="2527.4"/><circle cx="154.6" cy="2511.7"/><circle cx="145.0" cy="2510.9"/><circle cx="137.6" cy="2528.0"/><circle cx="160.5" cy="2482.8"/><circle cx="183.5" cy="2456.0"/><circle cx="157.7" cy="2500.1"/><circle cx="150.2" cy="2479.8"/><circle cx="127.9" cy="2530.9"/><circle cx="158.0" cy="2492.9"/><circle cx="174.3" cy="2499.8"/><circle cx="129.2" cy="2528.4"/><circle cx="171.1" cy="2477.2"/><circle cx="161.2" cy="2509.4"/><circle cx="169.2" cy="2495.2"/><circle cx="151.0" cy="2498.3"/><circle cx="177.0" cy="2474.3"/><circle cx="178.1" cy="2463.7"/><circle cx="188.9" cy="2442.4"/><circle cx="151.0" cy="2498.6"/><circle cx="138.3" cy="2498.1"/><circle cx="145.1" cy="2508.5"/><circle cx="152.5" cy="2484.1"/><circle cx="173.2" cy="2480.2"/><circle cx="152.9" cy="2511.5"/><circle cx="173.1" cy="2492.2"/><circle cx="173.1" cy="2448.8"/><circle cx="136.5" cy="2504.2"/><circle cx="148.9" cy="2507.0"/><circle cx="145.4" cy="2520.1"/><circle cx="148.5" cy="2526.6"/><circle cx="138.3" cy="2508.3"/><circle cx="147.5" cy="2488.7"/><circle cx="150.3" cy="2494.7"/><circle cx="201.5" cy="2463.6"/><circle cx="136.4" cy="2513.8"/><circle cx="155.2" cy="2491.0"/><circle cx="144.5" cy="2532.5"/><circle cx="152.3" cy="2514.5"/><circle cx="165.1" cy="2476.1"/><circle cx="136.3" cy="2490.9"/><circle cx="172.0" cy="2478.1"/><circle cx="179.0" cy="2450.3"/><circle cx="168.0" cy="2499.9"/><circle cx="165.1" cy="2482.9"/><circle cx="149.5" cy="2518.9"/><circle cx="163.3" cy="2459.7"/><circle cx="154.7" cy="2501.6"/><circle cx="142.9" cy="2519.4"/><circle cx="138.8" cy="2519.8"/><circle cx="148.6" cy="2518.4"/><circle cx="150.0" cy="2518.9"/><circle cx="156.6" cy="2491.4"/><circle cx="163.9" cy="2493.2"/><circle cx="158.6" cy="2520.6"/><circle cx="162.5" cy="2496.7"/><circle cx="178.3" cy="2457.7"/><circle cx="140.0" cy="2532.0"/><circle cx="169.9" cy="2471.8"/><circle cx="147.7" cy="2518.2"/><circle cx="147.5" cy="2528.1"/><circle cx="164.9" cy="2478.9"/><circle cx="173.9" cy="2476.7"/><circle cx="156.7" cy="2527.4"/><circle cx="156.1" cy="2495.1"/><circle cx="130.6" cy="2530.1"/><circle cx="137.5" cy="2524.4"/><circle cx="144.9" cy="2530.3"/><circle cx="144.5" cy="2526.3"/><circle cx="141.8" cy="2513.5"/><circle cx="144.6" cy="2527.7"/><circle cx="169.3" cy="2481.7"/><circle cx="163.3" cy="2491.9"/><circle cx="430.1" cy="2159.0"/><circle cx="224.5" cy="2398.7"/><circle cx="214.3" cy="2427.8"/></g>
<path d="M115.0 2139.2V2545.8" stroke="#000" stroke-width="1.4" fill="none"/>
<path d="M115.0 2509.8h-9.5M115.0 2435.7h-9.5M115.0 2361.6h-9.5M115.0 2287.5h-9.5M115.0 2213.4h-9.5M115.0 2139.3h-9.5" stroke="#000" stroke-width="1.4"/>
<text class="fd" x="59.1" y="2519.1" font-size="25.30">1.0</text>
<text class="fd" x="59.6" y="2445.0" font-size="25.30">1.5</text>
<text class="fd" x="59.1" y="2370.9" font-size="25.30">2.0</text>
<text class="fd" x="59.6" y="2296.8" font-size="25.30">2.5</text>
<text class="fd" x="59.1" y="2222.7" font-size="25.30">3.0</text>
<text class="fd" x="59.6" y="2148.6" font-size="25.30">3.5</text>
<path d="M115.0 2545.8H495.5" stroke="#000" stroke-width="1.4" fill="none"/>
<path d="M156.7 2545.8v9.5M241.4 2545.8v9.5M326.1 2545.8v9.5M410.8 2545.8v9.5M495.5 2545.8v9.5" stroke="#000" stroke-width="1.4"/>
<text class="fd" x="136.0" y="2583.5" font-size="25.30">1.0</text>
<text class="fd" x="221.0" y="2583.3" font-size="25.30">1.5</text>
<text class="fd" x="305.9" y="2583.5" font-size="25.30">2.0</text>
<text class="fd" x="390.8" y="2583.5" font-size="25.30">2.5</text>
<text class="fd" x="475.3" y="2583.5" font-size="25.30">3.0</text>
<text class="fd" x="136.2" y="2128.3" font-size="27.16">Housekeeping Promoters</text>
<text class="fl" x="120.9" y="2156.6" font-size="19.57">Pearson’s R = 0.93</text>
<text class="fl" x="121.6" y="2180.1" font-size="19.60">Spearman’s ρ = 0.67</text>
<text class="fd" x="199.6" y="2616.7" font-size="26.41">rep1 expression</text>
<text class="fd" transform="translate(45.8,2449.3) rotate(-90)" font-size="26.51">rep2 expression</text>
<g class="si" fill="#000" stroke="#fff" stroke-width="0.8"><circle cx="602.1" cy="2517.5"/><circle cx="612.7" cy="2512.2"/><circle cx="608.2" cy="2508.8"/><circle cx="617.7" cy="2519.0"/><circle cx="591.6" cy="2521.9"/><circle cx="623.0" cy="2502.2"/><circle cx="612.6" cy="2488.5"/><circle cx="608.7" cy="2498.1"/><circle cx="620.7" cy="2495.9"/><circle cx="587.5" cy="2508.2"/><circle cx="605.1" cy="2525.0"/><circle cx="613.9" cy="2515.8"/><circle cx="592.1" cy="2504.4"/><circle cx="594.0" cy="2518.8"/><circle cx="627.2" cy="2486.9"/><circle cx="593.7" cy="2513.9"/><circle cx="590.3" cy="2514.0"/><circle cx="621.0" cy="2511.1"/><circle cx="619.7" cy="2475.8"/><circle cx="619.1" cy="2511.7"/><circle cx="615.2" cy="2508.7"/><circle cx="607.5" cy="2511.6"/><circle cx="599.5" cy="2506.1"/><circle cx="608.7" cy="2521.8"/><circle cx="601.6" cy="2524.6"/><circle cx="590.3" cy="2526.9"/><circle cx="597.7" cy="2510.5"/><circle cx="590.2" cy="2530.9"/><circle cx="602.7" cy="2494.4"/><circle cx="607.6" cy="2496.5"/><circle cx="606.5" cy="2515.0"/><circle cx="604.7" cy="2494.9"/><circle cx="610.9" cy="2492.5"/><circle cx="598.9" cy="2515.4"/><circle cx="598.1" cy="2519.8"/><circle cx="602.9" cy="2501.8"/><circle cx="612.6" cy="2502.7"/><circle cx="619.6" cy="2503.2"/><circle cx="586.5" cy="2521.6"/><circle cx="593.4" cy="2521.5"/><circle cx="604.2" cy="2508.5"/><circle cx="622.5" cy="2497.6"/><circle cx="616.7" cy="2485.8"/><circle cx="591.9" cy="2524.7"/><circle cx="622.0" cy="2493.5"/><circle cx="603.8" cy="2509.0"/><circle cx="582.4" cy="2532.6"/><circle cx="595.5" cy="2531.3"/><circle cx="611.2" cy="2500.0"/><circle cx="603.4" cy="2501.7"/><circle cx="599.8" cy="2490.2"/><circle cx="599.6" cy="2510.1"/><circle cx="607.7" cy="2511.4"/><circle cx="605.5" cy="2514.4"/><circle cx="597.7" cy="2497.3"/><circle cx="610.0" cy="2480.3"/><circle cx="606.7" cy="2521.9"/><circle cx="590.9" cy="2503.9"/><circle cx="607.2" cy="2520.4"/><circle cx="601.7" cy="2526.8"/><circle cx="616.3" cy="2523.2"/><circle cx="623.7" cy="2489.6"/><circle cx="593.4" cy="2520.4"/><circle cx="594.0" cy="2530.2"/><circle cx="593.7" cy="2512.3"/><circle cx="602.9" cy="2529.1"/><circle cx="603.0" cy="2522.6"/><circle cx="583.2" cy="2529.6"/><circle cx="596.7" cy="2499.7"/><circle cx="607.7" cy="2510.1"/><circle cx="601.1" cy="2508.5"/><circle cx="617.2" cy="2490.6"/><circle cx="602.2" cy="2517.9"/><circle cx="608.4" cy="2509.4"/><circle cx="611.4" cy="2499.1"/><circle cx="590.5" cy="2527.4"/><circle cx="616.7" cy="2505.2"/><circle cx="621.8" cy="2491.3"/><circle cx="600.4" cy="2517.4"/><circle cx="614.0" cy="2499.7"/><circle cx="597.6" cy="2522.9"/><circle cx="593.4" cy="2529.0"/><circle cx="596.6" cy="2516.6"/><circle cx="605.6" cy="2532.0"/><circle cx="614.0" cy="2483.9"/><circle cx="617.1" cy="2510.5"/><circle cx="614.6" cy="2503.4"/><circle cx="604.6" cy="2520.2"/><circle cx="617.4" cy="2498.7"/><circle cx="614.3" cy="2500.1"/><circle cx="580.6" cy="2532.8"/><circle cx="605.0" cy="2484.0"/><circle cx="591.7" cy="2520.9"/><circle cx="587.6" cy="2531.3"/><circle cx="614.7" cy="2490.8"/><circle cx="605.0" cy="2506.7"/><circle cx="604.3" cy="2516.2"/><circle cx="580.0" cy="2526.1"/><circle cx="611.6" cy="2499.2"/><circle cx="601.0" cy="2503.6"/><circle cx="595.1" cy="2514.9"/><circle cx="590.4" cy="2523.2"/><circle cx="610.9" cy="2497.3"/><circle cx="594.6" cy="2511.5"/><circle cx="605.2" cy="2519.7"/><circle cx="613.2" cy="2505.4"/><circle cx="609.4" cy="2487.9"/><circle cx="596.6" cy="2511.3"/><circle cx="598.5" cy="2519.4"/><circle cx="602.9" cy="2532.3"/><circle cx="605.8" cy="2517.2"/><circle cx="586.6" cy="2529.8"/><circle cx="618.1" cy="2482.0"/><circle cx="589.1" cy="2516.0"/><circle cx="593.3" cy="2521.1"/><circle cx="597.4" cy="2503.0"/><circle cx="604.2" cy="2518.1"/><circle cx="590.8" cy="2529.2"/><circle cx="612.7" cy="2492.3"/><circle cx="588.2" cy="2511.1"/><circle cx="595.2" cy="2517.5"/><circle cx="595.8" cy="2517.4"/><circle cx="616.4" cy="2505.2"/><circle cx="586.3" cy="2512.9"/><circle cx="607.8" cy="2486.0"/><circle cx="601.8" cy="2496.8"/><circle cx="598.2" cy="2527.1"/><circle cx="588.3" cy="2527.9"/><circle cx="604.1" cy="2529.4"/><circle cx="609.3" cy="2526.4"/><circle cx="591.6" cy="2499.3"/><circle cx="615.1" cy="2511.1"/><circle cx="605.3" cy="2519.3"/><circle cx="618.4" cy="2497.1"/><circle cx="626.0" cy="2478.6"/><circle cx="617.3" cy="2481.2"/><circle cx="602.5" cy="2504.5"/><circle cx="592.9" cy="2520.7"/><circle cx="589.6" cy="2521.6"/><circle cx="602.8" cy="2517.3"/><circle cx="612.0" cy="2494.3"/><circle cx="618.8" cy="2486.4"/><circle cx="605.3" cy="2510.6"/><circle cx="595.0" cy="2498.4"/><circle cx="605.7" cy="2506.0"/><circle cx="596.6" cy="2511.2"/><circle cx="602.8" cy="2497.3"/><circle cx="599.1" cy="2518.3"/><circle cx="600.8" cy="2530.7"/><circle cx="592.4" cy="2527.6"/><circle cx="599.7" cy="2523.1"/><circle cx="618.8" cy="2510.0"/><circle cx="603.4" cy="2523.6"/><circle cx="603.5" cy="2521.5"/><circle cx="600.0" cy="2506.3"/><circle cx="602.8" cy="2528.1"/><circle cx="601.7" cy="2509.8"/><circle cx="610.7" cy="2524.8"/><circle cx="604.2" cy="2499.5"/><circle cx="604.5" cy="2515.7"/><circle cx="607.5" cy="2508.4"/><circle cx="609.5" cy="2527.8"/><circle cx="588.5" cy="2518.6"/><circle cx="625.2" cy="2493.3"/><circle cx="613.5" cy="2513.4"/><circle cx="594.7" cy="2531.3"/><circle cx="599.0" cy="2531.3"/><circle cx="596.7" cy="2524.5"/><circle cx="602.7" cy="2520.5"/><circle cx="598.6" cy="2519.9"/><circle cx="585.1" cy="2523.8"/><circle cx="603.8" cy="2503.6"/><circle cx="601.0" cy="2509.3"/><circle cx="604.3" cy="2521.6"/><circle cx="604.9" cy="2503.7"/><circle cx="598.9" cy="2530.0"/><circle cx="607.7" cy="2523.4"/><circle cx="607.2" cy="2500.3"/><circle cx="610.3" cy="2509.8"/><circle cx="598.1" cy="2500.9"/><circle cx="600.4" cy="2521.5"/><circle cx="625.4" cy="2490.5"/><circle cx="627.0" cy="2486.5"/><circle cx="631.7" cy="2521.4"/><circle cx="589.8" cy="2529.9"/><circle cx="623.8" cy="2478.1"/><circle cx="602.1" cy="2517.2"/><circle cx="602.0" cy="2505.0"/><circle cx="598.3" cy="2522.3"/><circle cx="585.2" cy="2525.9"/><circle cx="601.2" cy="2512.6"/><circle cx="630.9" cy="2513.6"/><circle cx="601.0" cy="2505.1"/><circle cx="625.7" cy="2488.3"/><circle cx="618.4" cy="2508.6"/><circle cx="614.7" cy="2517.4"/><circle cx="605.0" cy="2521.7"/><circle cx="601.5" cy="2522.1"/><circle cx="603.5" cy="2528.3"/><circle cx="612.8" cy="2513.3"/><circle cx="580.3" cy="2530.4"/><circle cx="620.9" cy="2506.6"/><circle cx="615.0" cy="2494.2"/><circle cx="607.9" cy="2521.6"/><circle cx="606.9" cy="2524.3"/><circle cx="611.9" cy="2504.1"/><circle cx="589.1" cy="2519.7"/><circle cx="589.0" cy="2510.4"/><circle cx="722.6" cy="2342.5"/><circle cx="705.0" cy="2356.1"/><circle cx="679.1" cy="2419.3"/><circle cx="627.6" cy="2451.0"/><circle cx="635.2" cy="2459.4"/><circle cx="576.3" cy="2532.5"/><circle cx="591.0" cy="2539.2"/><circle cx="628.9" cy="2524.4"/><circle cx="628.9" cy="2472.6"/></g>
<path d="M571.4 2139.6V2547.4" stroke="#000" stroke-width="1.4" fill="none"/>
<path d="M571.4 2509.6h-9.5M571.4 2435.6h-9.5M571.4 2361.6h-9.5M571.4 2287.6h-9.5M571.4 2213.6h-9.5M571.4 2139.6h-9.5" stroke="#000" stroke-width="1.4"/>
<text class="fd" x="515.5" y="2518.9" font-size="25.30">1.0</text>
<text class="fd" x="516.0" y="2444.9" font-size="25.30">1.5</text>
<text class="fd" x="515.5" y="2370.9" font-size="25.30">2.0</text>
<text class="fd" x="516.0" y="2296.9" font-size="25.30">2.5</text>
<text class="fd" x="515.5" y="2222.9" font-size="25.30">3.0</text>
<text class="fd" x="516.0" y="2148.9" font-size="25.30">3.5</text>
<path d="M571.4 2547.4H951.9" stroke="#000" stroke-width="1.4" fill="none"/>
<path d="M613.7 2547.4v9.5M698.4 2547.4v9.5M783.1 2547.4v9.5M867.8 2547.4v9.5M952.5 2547.4v9.5" stroke="#000" stroke-width="1.4"/>
<text class="fd" x="593.0" y="2585.1" font-size="25.30">1.0</text>
<text class="fd" x="678.0" y="2584.9" font-size="25.30">1.5</text>
<text class="fd" x="762.9" y="2585.1" font-size="25.30">2.0</text>
<text class="fd" x="847.8" y="2585.1" font-size="25.30">2.5</text>
<text class="fd" x="932.3" y="2585.1" font-size="25.30">3.0</text>
<text class="fd" x="584.8" y="2128.3" font-size="27.16">Developmental Promoters</text>
<text class="fl" x="579.8" y="2154.0" font-size="19.30">Pearson’s R = 0.81</text>
<text class="fl" x="580.4" y="2177.7" font-size="19.50">Spearman’s ρ = 0.48</text>
<text class="fd" x="656.1" y="2618.8" font-size="26.32">rep1 expression</text>
<text class="fd" transform="translate(500.0,2448.4) rotate(-90)" font-size="26.32">rep2 expression</text>
<g class="si" fill="#000" stroke="#fff" stroke-width="0.8"><circle cx="1391.3" cy="2347.1"/><circle cx="1344.0" cy="2397.4"/><circle cx="1348.7" cy="2389.2"/><circle cx="1301.1" cy="2459.0"/><circle cx="1290.4" cy="2473.9"/><circle cx="1275.1" cy="2500.1"/><circle cx="1246.4" cy="2525.6"/><circle cx="1328.3" cy="2421.2"/><circle cx="1285.4" cy="2469.4"/><circle cx="1304.9" cy="2461.5"/><circle cx="1276.6" cy="2501.1"/><circle cx="1254.8" cy="2519.4"/><circle cx="1248.5" cy="2503.9"/><circle cx="1301.0" cy="2449.5"/><circle cx="1268.0" cy="2496.9"/><circle cx="1285.6" cy="2455.1"/><circle cx="1272.8" cy="2487.1"/><circle cx="1364.6" cy="2382.5"/><circle cx="1388.4" cy="2349.2"/><circle cx="1271.3" cy="2490.2"/><circle cx="1304.9" cy="2452.5"/><circle cx="1359.4" cy="2377.6"/><circle cx="1269.0" cy="2494.1"/><circle cx="1272.2" cy="2488.8"/><circle cx="1271.6" cy="2486.6"/><circle cx="1364.1" cy="2371.0"/><circle cx="1310.9" cy="2457.2"/><circle cx="1422.0" cy="2319.7"/><circle cx="1366.8" cy="2380.8"/><circle cx="1289.8" cy="2475.3"/><circle cx="1288.3" cy="2472.5"/><circle cx="1287.9" cy="2480.3"/><circle cx="1381.6" cy="2368.8"/><circle cx="1257.5" cy="2519.2"/><circle cx="1363.7" cy="2379.3"/><circle cx="1308.4" cy="2433.3"/><circle cx="1258.2" cy="2515.8"/><circle cx="1393.1" cy="2332.8"/><circle cx="1300.5" cy="2444.9"/><circle cx="1401.4" cy="2354.3"/><circle cx="1324.5" cy="2425.4"/><circle cx="1309.4" cy="2442.0"/><circle cx="1281.9" cy="2498.6"/><circle cx="1395.8" cy="2339.9"/><circle cx="1356.6" cy="2391.8"/><circle cx="1315.5" cy="2437.0"/><circle cx="1290.9" cy="2454.1"/><circle cx="1284.3" cy="2474.1"/><circle cx="1385.9" cy="2350.9"/><circle cx="1260.9" cy="2514.9"/><circle cx="1251.7" cy="2507.2"/><circle cx="1390.5" cy="2342.5"/><circle cx="1297.8" cy="2451.8"/><circle cx="1278.3" cy="2452.5"/><circle cx="1260.8" cy="2504.2"/><circle cx="1292.8" cy="2457.5"/><circle cx="1332.8" cy="2419.2"/><circle cx="1271.0" cy="2485.5"/><circle cx="1304.6" cy="2429.8"/><circle cx="1270.8" cy="2494.2"/><circle cx="1270.4" cy="2502.1"/><circle cx="1259.9" cy="2493.2"/><circle cx="1292.6" cy="2467.5"/><circle cx="1258.6" cy="2502.8"/><circle cx="1278.2" cy="2485.1"/><circle cx="1294.4" cy="2461.8"/><circle cx="1411.2" cy="2317.3"/><circle cx="1380.9" cy="2347.7"/><circle cx="1384.2" cy="2366.0"/><circle cx="1286.2" cy="2452.2"/><circle cx="1272.8" cy="2487.2"/><circle cx="1289.4" cy="2475.6"/><circle cx="1274.2" cy="2495.5"/><circle cx="1281.6" cy="2473.2"/><circle cx="1356.3" cy="2372.8"/><circle cx="1262.9" cy="2504.8"/><circle cx="1327.1" cy="2434.7"/><circle cx="1372.4" cy="2357.1"/><circle cx="1255.8" cy="2519.4"/><circle cx="1307.1" cy="2442.9"/><circle cx="1370.5" cy="2366.1"/><circle cx="1319.6" cy="2433.6"/><circle cx="1285.7" cy="2486.4"/><circle cx="1287.0" cy="2465.1"/><circle cx="1272.4" cy="2484.3"/><circle cx="1278.5" cy="2482.3"/><circle cx="1252.5" cy="2503.9"/><circle cx="1343.6" cy="2419.2"/><circle cx="1324.9" cy="2448.3"/><circle cx="1386.5" cy="2351.6"/><circle cx="1329.0" cy="2427.5"/><circle cx="1398.7" cy="2332.9"/><circle cx="1385.7" cy="2351.6"/><circle cx="1330.1" cy="2419.5"/><circle cx="1277.9" cy="2488.8"/><circle cx="1275.6" cy="2485.2"/><circle cx="1278.0" cy="2474.0"/><circle cx="1332.3" cy="2428.1"/><circle cx="1343.0" cy="2393.1"/><circle cx="1334.6" cy="2417.3"/><circle cx="1284.3" cy="2469.2"/><circle cx="1274.2" cy="2494.0"/><circle cx="1287.5" cy="2463.6"/><circle cx="1335.7" cy="2415.3"/><circle cx="1294.8" cy="2463.0"/><circle cx="1285.5" cy="2470.9"/><circle cx="1307.2" cy="2431.9"/><circle cx="1317.3" cy="2429.5"/><circle cx="1325.5" cy="2424.3"/><circle cx="1370.3" cy="2384.0"/><circle cx="1379.8" cy="2361.7"/><circle cx="1376.3" cy="2377.6"/><circle cx="1267.8" cy="2491.7"/><circle cx="1263.2" cy="2503.9"/><circle cx="1368.3" cy="2375.3"/><circle cx="1274.5" cy="2494.9"/><circle cx="1247.4" cy="2519.5"/><circle cx="1342.7" cy="2403.5"/><circle cx="1274.7" cy="2471.1"/><circle cx="1296.4" cy="2456.1"/><circle cx="1277.2" cy="2477.3"/><circle cx="1308.8" cy="2455.7"/><circle cx="1265.7" cy="2489.2"/><circle cx="1389.4" cy="2355.9"/><circle cx="1295.7" cy="2471.1"/><circle cx="1297.7" cy="2463.2"/><circle cx="1272.6" cy="2487.1"/><circle cx="1265.8" cy="2501.6"/><circle cx="1355.9" cy="2395.8"/><circle cx="1263.0" cy="2495.5"/><circle cx="1252.5" cy="2521.4"/><circle cx="1285.5" cy="2477.6"/><circle cx="1291.7" cy="2472.1"/><circle cx="1283.1" cy="2477.0"/><circle cx="1338.9" cy="2409.2"/><circle cx="1313.5" cy="2448.5"/><circle cx="1385.8" cy="2345.5"/><circle cx="1286.7" cy="2499.2"/><circle cx="1393.7" cy="2342.1"/><circle cx="1267.7" cy="2483.8"/><circle cx="1279.9" cy="2466.0"/><circle cx="1281.7" cy="2473.8"/><circle cx="1304.8" cy="2445.7"/><circle cx="1324.6" cy="2431.5"/><circle cx="1339.2" cy="2413.9"/><circle cx="1355.7" cy="2400.0"/><circle cx="1340.3" cy="2414.1"/><circle cx="1281.6" cy="2494.1"/><circle cx="1311.8" cy="2462.4"/><circle cx="1329.0" cy="2419.4"/><circle cx="1269.4" cy="2481.7"/><circle cx="1274.7" cy="2489.7"/><circle cx="1335.8" cy="2426.8"/><circle cx="1301.0" cy="2452.8"/><circle cx="1340.3" cy="2398.0"/><circle cx="1271.6" cy="2509.4"/><circle cx="1357.2" cy="2392.3"/><circle cx="1338.0" cy="2411.1"/><circle cx="1306.0" cy="2429.7"/><circle cx="1252.0" cy="2511.8"/><circle cx="1325.0" cy="2438.9"/><circle cx="1398.3" cy="2351.2"/><circle cx="1262.1" cy="2512.6"/><circle cx="1351.2" cy="2405.1"/><circle cx="1254.3" cy="2505.7"/><circle cx="1311.6" cy="2445.1"/><circle cx="1311.9" cy="2442.0"/><circle cx="1318.9" cy="2449.1"/><circle cx="1278.4" cy="2462.7"/><circle cx="1291.7" cy="2473.4"/><circle cx="1255.7" cy="2524.0"/><circle cx="1370.4" cy="2377.9"/><circle cx="1294.8" cy="2457.8"/><circle cx="1277.1" cy="2488.6"/><circle cx="1245.6" cy="2523.6"/><circle cx="1347.9" cy="2380.6"/><circle cx="1392.5" cy="2356.4"/><circle cx="1268.9" cy="2487.9"/><circle cx="1272.3" cy="2514.7"/><circle cx="1340.0" cy="2408.5"/><circle cx="1293.5" cy="2471.0"/><circle cx="1340.5" cy="2401.9"/><circle cx="1311.7" cy="2443.4"/><circle cx="1299.5" cy="2465.8"/><circle cx="1272.5" cy="2490.7"/><circle cx="1377.6" cy="2365.2"/><circle cx="1295.7" cy="2465.6"/><circle cx="1272.2" cy="2498.5"/><circle cx="1316.4" cy="2449.7"/><circle cx="1293.4" cy="2473.3"/><circle cx="1312.8" cy="2446.6"/><circle cx="1281.6" cy="2488.7"/><circle cx="1369.7" cy="2369.2"/><circle cx="1286.2" cy="2487.8"/><circle cx="1317.1" cy="2455.8"/><circle cx="1360.1" cy="2399.3"/><circle cx="1394.0" cy="2356.1"/><circle cx="1297.8" cy="2464.2"/><circle cx="1263.7" cy="2495.4"/><circle cx="1320.6" cy="2434.7"/><circle cx="1279.4" cy="2474.0"/><circle cx="1313.1" cy="2442.3"/><circle cx="1282.6" cy="2476.7"/><circle cx="1344.5" cy="2393.6"/><circle cx="1374.2" cy="2368.5"/><circle cx="1320.3" cy="2429.3"/><circle cx="1364.8" cy="2384.9"/><circle cx="1303.3" cy="2463.6"/><circle cx="1244.3" cy="2527.9"/><circle cx="1276.0" cy="2471.2"/><circle cx="1326.0" cy="2424.7"/><circle cx="1270.9" cy="2504.2"/><circle cx="1256.0" cy="2505.6"/><circle cx="1310.8" cy="2451.1"/><circle cx="1337.4" cy="2406.2"/><circle cx="1309.7" cy="2443.0"/><circle cx="1274.9" cy="2471.0"/><circle cx="1362.6" cy="2385.5"/><circle cx="1400.5" cy="2317.8"/><circle cx="1334.8" cy="2411.9"/><circle cx="1387.9" cy="2347.0"/><circle cx="1348.7" cy="2396.5"/><circle cx="1255.7" cy="2519.5"/><circle cx="1287.2" cy="2475.4"/><circle cx="1288.8" cy="2466.8"/><circle cx="1322.1" cy="2440.0"/><circle cx="1374.3" cy="2359.1"/><circle cx="1271.7" cy="2489.6"/><circle cx="1297.3" cy="2459.0"/><circle cx="1251.0" cy="2515.9"/><circle cx="1270.6" cy="2515.3"/><circle cx="1371.8" cy="2368.3"/><circle cx="1351.4" cy="2388.0"/><circle cx="1259.8" cy="2485.2"/><circle cx="1271.5" cy="2483.3"/><circle cx="1387.8" cy="2352.7"/><circle cx="1257.5" cy="2505.3"/><circle cx="1377.3" cy="2368.9"/><circle cx="1260.5" cy="2505.2"/><circle cx="1284.6" cy="2491.3"/><circle cx="1385.2" cy="2354.5"/><circle cx="1305.7" cy="2436.5"/><circle cx="1271.8" cy="2487.8"/><circle cx="1277.1" cy="2493.6"/><circle cx="1244.1" cy="2528.0"/><circle cx="1327.2" cy="2414.4"/><circle cx="1323.2" cy="2417.3"/><circle cx="1285.0" cy="2487.7"/><circle cx="1314.6" cy="2448.0"/><circle cx="1247.5" cy="2520.8"/><circle cx="1278.8" cy="2476.3"/><circle cx="1307.8" cy="2446.1"/><circle cx="1286.4" cy="2470.5"/><circle cx="1314.7" cy="2430.1"/><circle cx="1248.7" cy="2511.6"/><circle cx="1309.3" cy="2458.1"/><circle cx="1320.3" cy="2428.0"/><circle cx="1291.0" cy="2471.5"/><circle cx="1333.4" cy="2420.7"/><circle cx="1269.4" cy="2492.5"/><circle cx="1261.0" cy="2504.5"/><circle cx="1344.4" cy="2405.3"/><circle cx="1394.9" cy="2335.4"/><circle cx="1243.1" cy="2505.6"/><circle cx="1388.5" cy="2354.5"/><circle cx="1301.7" cy="2450.8"/><circle cx="1325.2" cy="2434.5"/><circle cx="1357.3" cy="2400.8"/><circle cx="1280.1" cy="2493.0"/><circle cx="1375.3" cy="2381.0"/><circle cx="1263.7" cy="2501.0"/><circle cx="1288.3" cy="2473.0"/><circle cx="1260.4" cy="2492.3"/><circle cx="1264.3" cy="2496.3"/><circle cx="1240.0" cy="2524.8"/><circle cx="1380.6" cy="2365.3"/><circle cx="1299.6" cy="2462.5"/><circle cx="1353.5" cy="2385.4"/><circle cx="1297.7" cy="2457.1"/><circle cx="1249.9" cy="2510.7"/><circle cx="1342.3" cy="2399.8"/><circle cx="1353.1" cy="2403.5"/><circle cx="1309.8" cy="2447.3"/><circle cx="1307.5" cy="2432.7"/><circle cx="1369.4" cy="2367.6"/><circle cx="1390.2" cy="2331.5"/><circle cx="1277.1" cy="2484.4"/><circle cx="1286.9" cy="2466.7"/><circle cx="1276.7" cy="2469.7"/><circle cx="1259.9" cy="2475.5"/><circle cx="1397.5" cy="2334.3"/><circle cx="1349.4" cy="2403.9"/><circle cx="1258.4" cy="2506.3"/><circle cx="1321.6" cy="2437.5"/><circle cx="1383.9" cy="2361.3"/><circle cx="1410.8" cy="2324.1"/><circle cx="1275.7" cy="2490.8"/><circle cx="1319.5" cy="2429.7"/><circle cx="1315.2" cy="2453.7"/><circle cx="1249.3" cy="2515.6"/><circle cx="1259.7" cy="2512.2"/><circle cx="1329.1" cy="2425.4"/><circle cx="1251.9" cy="2500.1"/><circle cx="1330.6" cy="2425.2"/><circle cx="1328.6" cy="2421.5"/><circle cx="1474.6" cy="2257.9"/><circle cx="1423.6" cy="2295.3"/><circle cx="1438.4" cy="2299.6"/><circle cx="1227.8" cy="2528.4"/><circle cx="1430.2" cy="2321.2"/><circle cx="1418.6" cy="2322.6"/><circle cx="1412.1" cy="2319.7"/><circle cx="1398.9" cy="2321.2"/></g>
<path d="M1221.9 2142.2V2545.6" stroke="#000" stroke-width="1.4" fill="none"/>
<path d="M1221.9 2502.5h-9.5M1221.9 2430.6h-9.5M1221.9 2358.6h-9.5M1221.9 2286.7h-9.5M1221.9 2214.7h-9.5M1221.9 2142.8h-9.5" stroke="#000" stroke-width="1.4"/>
<text class="fd" x="1165.7" y="2511.8" font-size="25.30">1.0</text>
<text class="fd" x="1166.2" y="2439.9" font-size="25.30">1.5</text>
<text class="fd" x="1165.7" y="2367.9" font-size="25.30">2.0</text>
<text class="fd" x="1166.2" y="2296.0" font-size="25.30">2.5</text>
<text class="fd" x="1165.7" y="2224.0" font-size="25.30">3.0</text>
<text class="fd" x="1166.2" y="2152.1" font-size="25.30">3.5</text>
<path d="M1221.9 2545.6H1598.9" stroke="#000" stroke-width="1.4" fill="none"/>
<path d="M1270.6 2545.6v9.5M1352.8 2545.6v9.5M1435.1 2545.6v9.5M1517.3 2545.6v9.5M1599.6 2545.6v9.5" stroke="#000" stroke-width="1.4"/>
<text class="fd" x="1249.9" y="2583.3" font-size="25.30">1.0</text>
<text class="fd" x="1332.4" y="2583.1" font-size="25.30">1.5</text>
<text class="fd" x="1414.9" y="2583.3" font-size="25.30">2.0</text>
<text class="fd" x="1497.4" y="2583.3" font-size="25.30">2.5</text>
<text class="fd" x="1579.4" y="2583.3" font-size="25.30">3.0</text>
<text class="fd" x="1241.2" y="2131.5" font-size="27.08">Housekeeping Promoters</text>
<text class="fl" x="1230.3" y="2162.7" font-size="19.49">Pearson’s R = 0.97</text>
<text class="fl" x="1231.0" y="2186.4" font-size="19.54">Spearman’s ρ = 0.96</text>
<text class="fd" x="1304.9" y="2615.2" font-size="26.33">rep1 expression</text>
<text class="fd" transform="translate(1137.3,2449.9) rotate(-90)" font-size="26.32">rep2 expression</text>
<g class="si" fill="#000" stroke="#fff" stroke-width="0.8"><circle cx="1732.2" cy="2460.0"/><circle cx="1705.1" cy="2521.0"/><circle cx="1767.4" cy="2444.6"/><circle cx="1705.6" cy="2496.3"/><circle cx="1789.4" cy="2410.5"/><circle cx="1700.9" cy="2509.2"/><circle cx="1722.7" cy="2484.8"/><circle cx="1702.1" cy="2485.6"/><circle cx="1744.0" cy="2470.5"/><circle cx="1743.2" cy="2473.3"/><circle cx="1728.8" cy="2471.4"/><circle cx="1725.8" cy="2470.8"/><circle cx="1696.6" cy="2521.2"/><circle cx="1770.5" cy="2435.6"/><circle cx="1741.3" cy="2489.7"/><circle cx="1701.3" cy="2523.5"/><circle cx="1706.0" cy="2508.5"/><circle cx="1715.2" cy="2496.1"/><circle cx="1709.8" cy="2504.1"/><circle cx="1728.8" cy="2478.4"/><circle cx="1706.7" cy="2501.6"/><circle cx="1730.4" cy="2457.7"/><circle cx="1774.6" cy="2430.8"/><circle cx="1761.4" cy="2430.4"/><circle cx="1743.1" cy="2476.0"/><circle cx="1759.5" cy="2446.4"/><circle cx="1722.6" cy="2493.2"/><circle cx="1760.5" cy="2451.0"/><circle cx="1784.2" cy="2417.4"/><circle cx="1708.9" cy="2494.3"/><circle cx="1768.3" cy="2440.0"/><circle cx="1751.4" cy="2441.9"/><circle cx="1777.1" cy="2401.4"/><circle cx="1707.5" cy="2498.3"/><circle cx="1738.3" cy="2469.1"/><circle cx="1743.7" cy="2465.2"/><circle cx="1711.9" cy="2493.9"/><circle cx="1741.8" cy="2440.0"/><circle cx="1774.3" cy="2419.7"/><circle cx="1743.1" cy="2471.7"/><circle cx="1711.5" cy="2491.7"/><circle cx="1702.7" cy="2521.1"/><circle cx="1743.1" cy="2449.1"/><circle cx="1730.0" cy="2479.4"/><circle cx="1765.4" cy="2429.2"/><circle cx="1697.9" cy="2518.7"/><circle cx="1767.2" cy="2432.1"/><circle cx="1703.2" cy="2516.6"/><circle cx="1705.5" cy="2505.8"/><circle cx="1737.6" cy="2455.1"/><circle cx="1699.3" cy="2530.1"/><circle cx="1761.3" cy="2451.2"/><circle cx="1749.0" cy="2470.3"/><circle cx="1699.6" cy="2515.0"/><circle cx="1708.8" cy="2499.9"/><circle cx="1723.6" cy="2486.2"/><circle cx="1726.5" cy="2478.1"/><circle cx="1768.1" cy="2424.4"/><circle cx="1785.9" cy="2400.1"/><circle cx="1732.5" cy="2502.6"/><circle cx="1710.7" cy="2517.7"/><circle cx="1755.9" cy="2448.7"/><circle cx="1726.4" cy="2493.6"/><circle cx="1756.3" cy="2439.4"/><circle cx="1775.9" cy="2410.8"/><circle cx="1732.3" cy="2486.8"/><circle cx="1771.4" cy="2431.1"/><circle cx="1737.8" cy="2472.2"/><circle cx="1730.4" cy="2466.5"/><circle cx="1767.1" cy="2442.3"/><circle cx="1781.1" cy="2421.3"/><circle cx="1715.3" cy="2487.3"/><circle cx="1775.5" cy="2427.2"/><circle cx="1704.9" cy="2516.3"/><circle cx="1715.4" cy="2477.9"/><circle cx="1799.0" cy="2409.3"/><circle cx="1779.8" cy="2429.5"/><circle cx="1753.5" cy="2428.2"/><circle cx="1724.0" cy="2486.3"/><circle cx="1724.0" cy="2474.9"/><circle cx="1696.9" cy="2529.0"/><circle cx="1715.2" cy="2485.7"/><circle cx="1700.4" cy="2514.8"/><circle cx="1723.6" cy="2499.8"/><circle cx="1744.7" cy="2459.4"/><circle cx="1805.3" cy="2393.5"/><circle cx="1757.8" cy="2447.1"/><circle cx="1744.4" cy="2452.3"/><circle cx="1767.8" cy="2444.1"/><circle cx="1761.9" cy="2432.6"/><circle cx="1765.4" cy="2442.8"/><circle cx="1703.9" cy="2501.3"/><circle cx="1772.0" cy="2416.7"/><circle cx="1753.3" cy="2432.4"/><circle cx="1711.3" cy="2487.0"/><circle cx="1777.5" cy="2437.7"/><circle cx="1739.7" cy="2482.1"/><circle cx="1715.1" cy="2482.7"/><circle cx="1707.1" cy="2513.7"/><circle cx="1779.6" cy="2427.6"/><circle cx="1760.6" cy="2450.5"/><circle cx="1729.5" cy="2450.4"/><circle cx="1731.5" cy="2495.8"/><circle cx="1706.6" cy="2506.2"/><circle cx="1725.0" cy="2483.9"/><circle cx="1704.3" cy="2502.8"/><circle cx="1708.8" cy="2508.1"/><circle cx="1754.9" cy="2453.0"/><circle cx="1721.8" cy="2485.6"/><circle cx="1773.1" cy="2426.3"/><circle cx="1808.3" cy="2390.9"/><circle cx="1696.0" cy="2517.0"/><circle cx="1767.5" cy="2429.9"/><circle cx="1735.8" cy="2483.6"/><circle cx="1697.2" cy="2500.2"/><circle cx="1760.1" cy="2441.8"/><circle cx="1737.1" cy="2455.4"/><circle cx="1717.2" cy="2502.7"/><circle cx="1705.7" cy="2497.9"/><circle cx="1756.0" cy="2460.5"/><circle cx="1718.2" cy="2483.3"/><circle cx="1713.4" cy="2496.3"/><circle cx="1697.6" cy="2503.3"/><circle cx="1708.3" cy="2514.7"/><circle cx="1763.9" cy="2429.0"/><circle cx="1706.2" cy="2513.3"/><circle cx="1745.8" cy="2470.4"/><circle cx="1706.3" cy="2500.0"/><circle cx="1730.0" cy="2492.1"/><circle cx="1706.8" cy="2500.3"/><circle cx="1699.9" cy="2515.5"/><circle cx="1701.0" cy="2506.9"/><circle cx="1803.0" cy="2392.4"/><circle cx="1702.7" cy="2509.6"/><circle cx="1713.6" cy="2501.1"/><circle cx="1702.8" cy="2517.2"/><circle cx="1741.8" cy="2475.8"/><circle cx="1712.9" cy="2491.2"/><circle cx="1754.5" cy="2453.4"/><circle cx="1749.8" cy="2435.7"/><circle cx="1751.0" cy="2441.9"/><circle cx="1775.7" cy="2431.1"/><circle cx="1721.7" cy="2482.9"/><circle cx="1733.4" cy="2460.9"/><circle cx="1793.9" cy="2413.8"/><circle cx="1739.1" cy="2490.3"/><circle cx="1695.1" cy="2508.4"/><circle cx="1740.8" cy="2474.9"/><circle cx="1726.3" cy="2502.7"/><circle cx="1741.2" cy="2464.0"/><circle cx="1730.3" cy="2483.1"/><circle cx="1724.9" cy="2476.9"/><circle cx="1722.7" cy="2470.6"/><circle cx="1765.8" cy="2417.1"/><circle cx="1709.3" cy="2495.1"/><circle cx="1706.4" cy="2497.8"/><circle cx="1761.3" cy="2455.2"/><circle cx="1743.2" cy="2448.1"/><circle cx="1781.4" cy="2410.5"/><circle cx="1725.4" cy="2493.1"/><circle cx="1709.3" cy="2506.4"/><circle cx="1709.9" cy="2514.4"/><circle cx="1708.3" cy="2505.5"/><circle cx="1754.8" cy="2455.1"/><circle cx="1711.9" cy="2499.4"/><circle cx="1713.5" cy="2519.8"/><circle cx="1743.9" cy="2449.1"/><circle cx="1700.6" cy="2513.9"/><circle cx="1768.5" cy="2441.0"/><circle cx="1731.8" cy="2478.5"/><circle cx="1741.0" cy="2477.8"/><circle cx="1703.0" cy="2504.2"/><circle cx="1728.5" cy="2482.3"/><circle cx="1720.4" cy="2498.9"/><circle cx="1717.5" cy="2491.6"/><circle cx="1709.6" cy="2510.2"/><circle cx="1740.6" cy="2467.6"/><circle cx="1716.5" cy="2501.2"/><circle cx="1725.4" cy="2467.3"/><circle cx="1711.7" cy="2494.0"/><circle cx="1750.2" cy="2451.6"/><circle cx="1734.1" cy="2468.1"/><circle cx="1704.2" cy="2499.3"/><circle cx="1712.6" cy="2478.9"/><circle cx="1764.7" cy="2437.8"/><circle cx="1780.4" cy="2412.7"/><circle cx="1751.4" cy="2447.4"/><circle cx="1697.1" cy="2507.0"/><circle cx="1735.5" cy="2465.3"/><circle cx="1695.9" cy="2526.2"/><circle cx="1732.7" cy="2472.7"/><circle cx="1702.4" cy="2519.0"/><circle cx="1702.2" cy="2518.3"/><circle cx="1721.5" cy="2491.7"/><circle cx="1743.1" cy="2473.1"/><circle cx="1765.0" cy="2422.4"/><circle cx="1713.9" cy="2502.7"/><circle cx="1701.9" cy="2500.4"/><circle cx="1703.6" cy="2504.8"/><circle cx="1762.6" cy="2446.2"/><circle cx="1780.5" cy="2409.2"/><circle cx="1719.1" cy="2526.7"/><circle cx="1761.9" cy="2453.3"/><circle cx="1729.1" cy="2459.1"/><circle cx="1723.8" cy="2485.0"/><circle cx="1774.0" cy="2432.8"/><circle cx="1712.2" cy="2490.6"/><circle cx="1725.0" cy="2498.8"/><circle cx="1701.4" cy="2531.9"/><circle cx="1741.8" cy="2473.2"/><circle cx="1760.2" cy="2460.7"/><circle cx="1775.4" cy="2432.7"/><circle cx="1720.7" cy="2494.3"/><circle cx="1741.2" cy="2468.6"/><circle cx="1733.8" cy="2479.5"/><circle cx="1755.2" cy="2468.6"/><circle cx="1705.9" cy="2510.0"/><circle cx="1709.3" cy="2526.1"/><circle cx="1753.3" cy="2460.0"/><circle cx="1785.7" cy="2394.5"/><circle cx="1739.6" cy="2462.8"/><circle cx="1743.8" cy="2475.7"/><circle cx="1772.2" cy="2427.7"/><circle cx="1738.7" cy="2469.9"/><circle cx="1739.6" cy="2474.2"/><circle cx="1698.6" cy="2531.4"/><circle cx="1713.1" cy="2496.9"/><circle cx="1738.4" cy="2466.5"/><circle cx="1757.8" cy="2437.6"/><circle cx="1751.9" cy="2448.2"/><circle cx="1786.6" cy="2390.3"/><circle cx="1785.8" cy="2413.3"/><circle cx="1784.8" cy="2429.4"/><circle cx="1739.8" cy="2464.5"/><circle cx="1776.1" cy="2438.3"/><circle cx="1759.9" cy="2430.3"/><circle cx="1764.0" cy="2460.1"/><circle cx="1757.7" cy="2454.7"/><circle cx="1700.2" cy="2521.2"/><circle cx="1742.3" cy="2473.7"/><circle cx="1722.3" cy="2472.2"/><circle cx="1716.0" cy="2503.2"/><circle cx="1703.3" cy="2504.7"/><circle cx="1712.7" cy="2507.8"/><circle cx="1744.6" cy="2446.9"/><circle cx="1717.3" cy="2483.6"/><circle cx="1758.9" cy="2421.5"/><circle cx="1758.6" cy="2457.4"/><circle cx="1745.5" cy="2461.8"/><circle cx="1743.3" cy="2457.2"/><circle cx="1795.6" cy="2405.2"/><circle cx="1727.4" cy="2492.0"/><circle cx="1732.8" cy="2495.9"/><circle cx="1752.2" cy="2450.3"/><circle cx="1703.2" cy="2507.7"/><circle cx="1697.4" cy="2517.7"/><circle cx="1712.4" cy="2499.7"/><circle cx="1741.8" cy="2469.8"/><circle cx="1733.6" cy="2480.1"/><circle cx="1748.7" cy="2490.0"/><circle cx="1750.3" cy="2448.4"/><circle cx="1753.0" cy="2452.9"/><circle cx="1706.2" cy="2504.0"/><circle cx="1758.3" cy="2459.2"/><circle cx="1713.6" cy="2508.6"/><circle cx="1782.8" cy="2424.4"/><circle cx="1721.9" cy="2489.4"/><circle cx="1710.4" cy="2508.6"/><circle cx="1779.7" cy="2414.8"/><circle cx="1720.5" cy="2486.6"/><circle cx="1760.2" cy="2439.6"/><circle cx="1732.2" cy="2471.7"/><circle cx="1771.7" cy="2430.8"/><circle cx="1738.8" cy="2477.3"/><circle cx="1710.4" cy="2511.3"/><circle cx="1755.0" cy="2468.9"/><circle cx="1712.0" cy="2523.6"/><circle cx="1772.8" cy="2437.8"/><circle cx="1744.3" cy="2450.6"/><circle cx="1736.9" cy="2476.2"/><circle cx="1704.4" cy="2512.9"/><circle cx="1728.2" cy="2481.5"/><circle cx="1699.8" cy="2519.1"/><circle cx="1698.7" cy="2531.9"/><circle cx="1698.8" cy="2528.8"/><circle cx="1719.5" cy="2495.4"/><circle cx="1773.5" cy="2415.2"/><circle cx="1718.8" cy="2482.7"/><circle cx="1699.5" cy="2520.5"/><circle cx="1770.7" cy="2413.8"/><circle cx="1727.7" cy="2475.8"/><circle cx="1748.8" cy="2479.8"/><circle cx="1711.4" cy="2508.3"/><circle cx="1705.4" cy="2502.8"/><circle cx="1745.8" cy="2480.7"/><circle cx="1758.2" cy="2445.0"/><circle cx="1725.6" cy="2473.8"/><circle cx="1742.7" cy="2467.5"/><circle cx="1739.1" cy="2465.9"/><circle cx="1742.0" cy="2467.0"/><circle cx="1707.2" cy="2500.2"/><circle cx="1726.6" cy="2477.0"/><circle cx="1728.2" cy="2484.9"/><circle cx="1737.3" cy="2497.9"/><circle cx="1778.3" cy="2432.6"/><circle cx="1717.2" cy="2499.7"/><circle cx="1783.3" cy="2403.8"/><circle cx="1705.6" cy="2507.9"/><circle cx="1752.6" cy="2477.3"/><circle cx="1710.5" cy="2497.4"/><circle cx="1699.8" cy="2524.0"/><circle cx="1737.3" cy="2474.9"/><circle cx="1758.8" cy="2438.2"/><circle cx="1735.1" cy="2464.9"/><circle cx="1780.8" cy="2387.8"/><circle cx="1711.8" cy="2486.4"/><circle cx="1802.6" cy="2394.5"/><circle cx="1720.0" cy="2480.9"/><circle cx="1749.5" cy="2452.7"/><circle cx="1713.4" cy="2511.5"/><circle cx="1701.4" cy="2515.0"/><circle cx="1738.3" cy="2456.8"/><circle cx="1712.5" cy="2488.9"/><circle cx="1738.0" cy="2463.4"/><circle cx="1716.4" cy="2477.4"/><circle cx="1754.5" cy="2444.4"/><circle cx="1790.0" cy="2396.9"/><circle cx="1772.2" cy="2435.3"/><circle cx="1775.9" cy="2435.0"/><circle cx="1731.0" cy="2473.5"/><circle cx="1715.8" cy="2484.6"/><circle cx="1713.7" cy="2491.4"/><circle cx="1735.1" cy="2465.9"/><circle cx="1753.6" cy="2432.7"/><circle cx="1963.9" cy="2225.8"/><circle cx="1941.6" cy="2257.9"/><circle cx="1908.5" cy="2296.9"/><circle cx="1839.6" cy="2348.3"/><circle cx="1831.2" cy="2355.5"/><circle cx="1828.8" cy="2363.7"/><circle cx="1815.8" cy="2371.5"/><circle cx="1808.8" cy="2399.2"/><circle cx="1800.1" cy="2411.5"/><circle cx="1791.1" cy="2416.1"/><circle cx="1757.7" cy="2403.9"/><circle cx="1717.6" cy="2440.0"/><circle cx="1678.9" cy="2507.2"/><circle cx="1686.6" cy="2507.2"/><circle cx="1681.4" cy="2535.5"/><circle cx="1700.5" cy="2532.8"/><circle cx="1712.3" cy="2541.2"/><circle cx="1796.5" cy="2380.5"/><circle cx="1781.8" cy="2390.6"/><circle cx="1799.8" cy="2387.7"/></g>
<path d="M1674.3 2142.4V2545.8" stroke="#000" stroke-width="1.4" fill="none"/>
<path d="M1674.3 2503.2h-9.5M1674.3 2431.0h-9.5M1674.3 2358.8h-9.5M1674.3 2286.6h-9.5M1674.3 2214.4h-9.5M1674.3 2142.2h-9.5" stroke="#000" stroke-width="1.4"/>
<text class="fd" x="1618.7" y="2512.5" font-size="25.30">1.0</text>
<text class="fd" x="1619.2" y="2440.3" font-size="25.30">1.5</text>
<text class="fd" x="1618.7" y="2368.1" font-size="25.30">2.0</text>
<text class="fd" x="1619.2" y="2295.9" font-size="25.30">2.5</text>
<text class="fd" x="1618.7" y="2223.7" font-size="25.30">3.0</text>
<text class="fd" x="1619.2" y="2151.5" font-size="25.30">3.5</text>
<path d="M1674.3 2545.8H2050.5" stroke="#000" stroke-width="1.4" fill="none"/>
<path d="M1722.8 2545.8v9.5M1804.7 2545.8v9.5M1886.6 2545.8v9.5M1968.5 2545.8v9.5M2050.4 2545.8v9.5" stroke="#000" stroke-width="1.4"/>
<text class="fd" x="1702.1" y="2583.5" font-size="25.30">1.0</text>
<text class="fd" x="1784.3" y="2583.3" font-size="25.30">1.5</text>
<text class="fd" x="1866.4" y="2583.5" font-size="25.30">2.0</text>
<text class="fd" x="1948.5" y="2583.5" font-size="25.30">2.5</text>
<text class="fd" x="2030.2" y="2583.5" font-size="25.30">3.0</text>
<text class="fd" x="1686.4" y="2131.5" font-size="26.97">Developmental Promoters</text>
<text class="fl" x="1682.9" y="2157.9" font-size="19.50">Pearson’s R = 0.93</text>
<text class="fl" x="1683.6" y="2181.0" font-size="19.46">Spearman’s ρ = 0.87</text>
<text class="fd" x="1756.8" y="2619.0" font-size="26.30">rep1 expression</text>
<text class="fd" transform="translate(1603.2,2450.0) rotate(-90)" font-size="26.28">rep2 expression</text>
</svg></body></html>
